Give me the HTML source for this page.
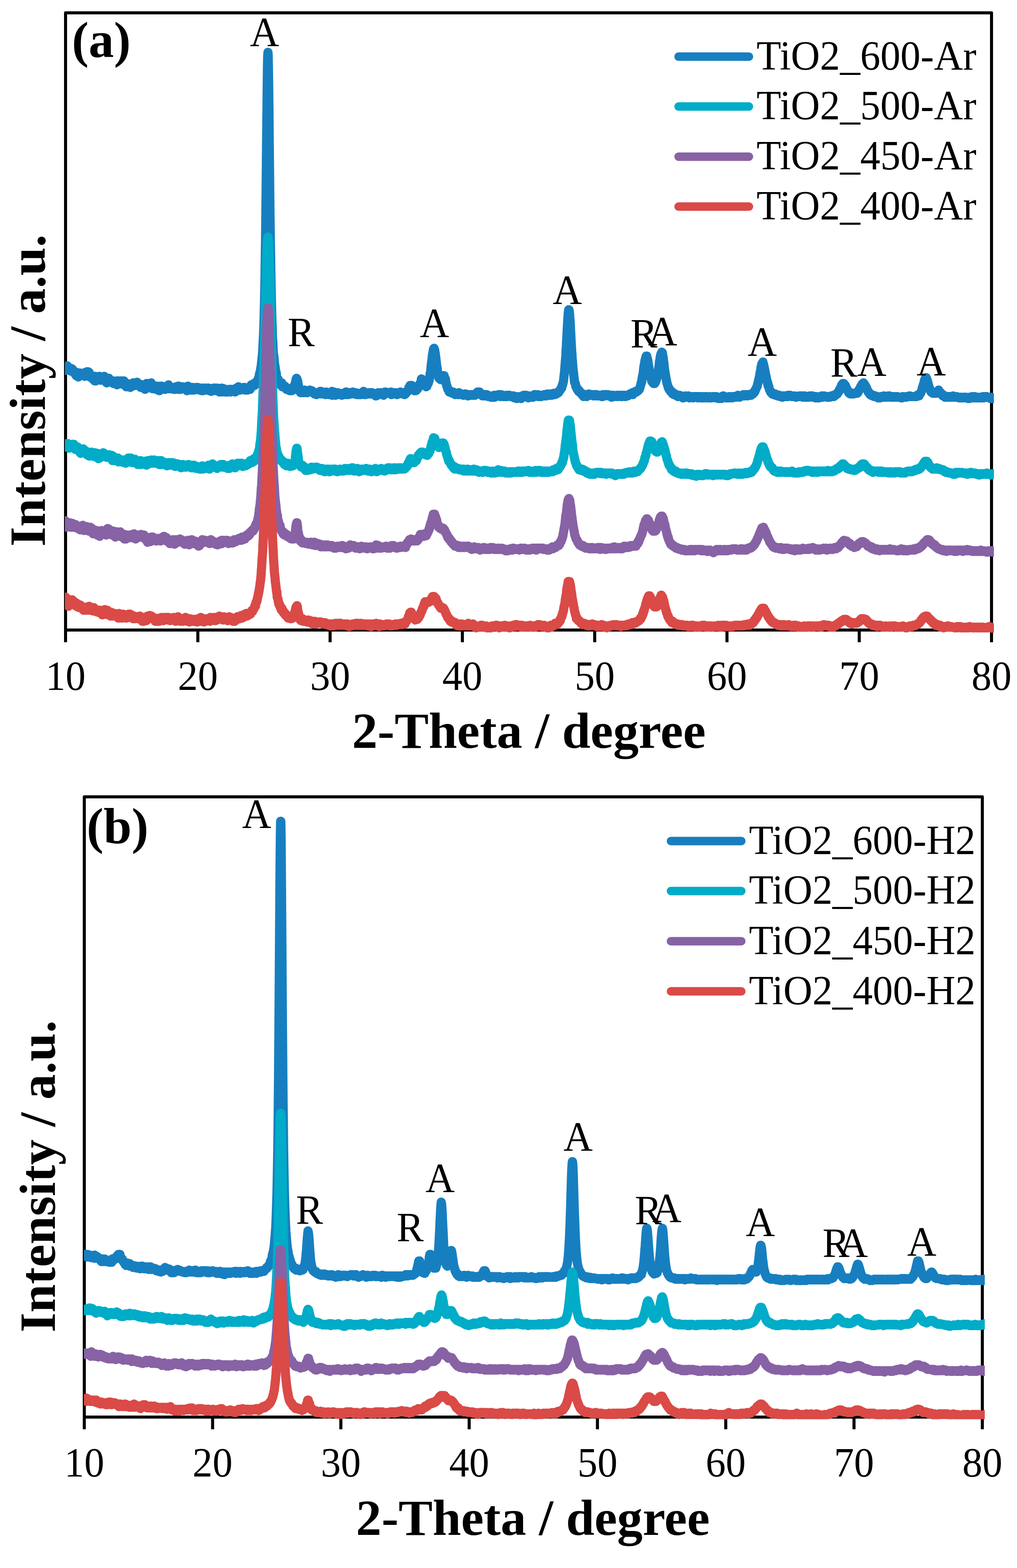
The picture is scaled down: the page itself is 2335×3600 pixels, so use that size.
<!DOCTYPE html>
<html><head><meta charset="utf-8"><title>XRD patterns</title><style>
html,body{margin:0;padding:0;background:#fff;overflow:hidden;}
svg{display:block;}
text{font-family:"Liberation Serif","Times New Roman",serif;fill:#000;}
.tl{font-size:92px;text-anchor:middle;}
.ax{font-size:117.3px;font-weight:bold;text-anchor:middle;}
.pl{font-size:116px;font-weight:bold;}
.lg{font-size:92.4px;}
.pk{font-size:93px;text-anchor:middle;}
</style></head><body>
<svg width="2335" height="3600" viewBox="0 0 2335 3600">
<rect width="100%" height="100%" fill="#fff"/>
<rect x="150.5" y="29.5" width="2126.0" height="1417.0" fill="none" stroke="#000" stroke-width="7" stroke-linejoin="round"/>
<path d="M150.5 1446.5V1474.5M454.2 1446.5V1474.5M757.9 1446.5V1474.5M1061.6 1446.5V1474.5M1365.4 1446.5V1474.5M1669.1 1446.5V1474.5M1972.8 1446.5V1474.5M2276.5 1446.5V1474.5" stroke="#000" stroke-width="7" fill="none"/>
<rect x="193.5" y="1829.6" width="2061.9" height="1423.8" fill="none" stroke="#000" stroke-width="7" stroke-linejoin="round"/>
<path d="M193.5 3253.4V3281.4M488.1 3253.4V3281.4M782.6 3253.4V3281.4M1077.2 3253.4V3281.4M1371.7 3253.4V3281.4M1666.3 3253.4V3281.4M1960.8 3253.4V3281.4M2255.4 3253.4V3281.4" stroke="#000" stroke-width="7" fill="none"/>
<defs><clipPath id="ca"><rect x="149" y="0" width="2133" height="1452.5"/></clipPath><clipPath id="cb"><rect x="192.5" y="1800" width="2068.5" height="1458.5"/></clipPath></defs>
<path d="M149.3 846l.6 4.5 .6-1.5 .6-4.5 .6 0 .6 0 .6 3 .6-3 .6 3 .7-7.5 .6 9 .6-4.5 .6 3 .6-1.5 .6 0 .6 1.5 .6 3 .6-3 .6 1.5 .6 1.5 .6-3 .6-1.5 .6 6 .7-3 .6-3 .6 3 .6 1.5 .6-3 .6 0 .6 4.5 .6 1.5 .6-3 .6 0 .6 3 .6 1.5 .6-1.5 .7 3 .6 1.5 .6-3 .6 0 .6 3 .6 1.5 .6 3 .6-6 .6 1.5 .6 0 .6-3 .6 6 .6 1.5 .6-3 .7 6 .6-1.5 .6-1.5 .6 0 .6 1.5 .6-6 .6 4.5 .6 0 .6-6 .6 4.5 .6-1.5 .6 3 .6-3 .7 0 .6 1.5 .6-3 .6 3 .6-1.5 .6 1.5 .6-3 .6 4.5 .6-1.5 .6-1.5 .6 1.5 .6 1.5 .6 1.5 .6-9 .7 6 .6-1.5 .6-1.5 .6-3 .6 6 .6-7.5 .6 6 .6 1.5 .6-7.5 .6 3 .6-3 .6 4.5 .6 4.5 .7 1.5 .6-9 .6 3 .6 4.5 .6 3 .6-3 .6-1.5 .6 3 .6 0 .6 0 .6 0 .6 3 .6 1.5 .7-1.5 .6 0 .6-3 .6 3 .6 4.5 .6-4.5 .6-3 .6 7.5 .6-1.5 .6 4.5 .6-6 .6-1.5 .6-3 .6 7.5 .7 3 .6-7.5 .6 0 .6 3 .6-3 .6 1.5 .6 0 .6 1.5 .6 1.5 .6-1.5 .6 1.5 .6-3 .6 1.5 .7-6 .6 1.5 .6 6 .6-3 .6 3 .6 0 .6 1.5 .6-1.5 .6 0 .6-3 .6-1.5 .6 0 .6 0 .6-1.5 .7 1.5 .6 0 .6 1.5 .6-1.5 .6-3 .6 4.5 .6 1.5 .6 3 .6 0 .6-3 .6 0 .6 7.5 .6-3 .7 3 .6 1.5 .6-7.5 .6 3 .6 0 .6 0 .6 0 .6-1.5 .6 0 .6-4.5 .6 4.5 .6-1.5 .6 1.5 .6-1.5 .7 3 .6 1.5 .6-1.5 .6 1.5 .6 0 .6-1.5 .6 1.5 .6 0 .6 1.5 .6 0 .6 1.5 .6-4.5 .6 6 .7-4.5 .6 0 .6 1.5 .6-1.5 .6 3 .6-1.5 .6-1.5 .6 0 .6 6 .6-3 .6-3 .6 3 .6-4.5 .6 9 .7-7.5 .6 4.5 .6 0 .6-6 .6 4.5 .6 1.5 .6-1.5 .6 0 .6 1.5 .6-3 .6 0 .6 0 .6 1.5 .7-4.5 .6 4.5 .6-3 .6-1.5 .6 4.5 .6 3 .6-1.5 .6-3 .6 3 .6-3 .6 1.5 .6 1.5 .6-6 .6 7.5 .7-3 .6 1.5 .6-1.5 .6 0 .6 3 .6 4.5 .6 1.5 .6-3 .6 3 .6-3 .6-4.5 .6 6 .6 1.5 .7-3 .6 3 .6 0 .6-3 .6-1.5 .6 3 .6 0 .6-1.5 .6 3 .6 1.5 .6-6 .6 3 .6 0 .6-1.5 .7 0 .6-3 .6 1.5 .6 3 .6-3 .6-4.5 .6 3 .6 1.5 .6-1.5 .6-3 .6 6 .6-6 .6 3 .7 0 .6-3 .6 6 .6-3 .6-3 .6 4.5 .6-3 .6-3 .6 3 .6 1.5 .6 1.5 .6-1.5 .6 0 .7 1.5 .6-1.5 .6 3 .6-1.5 .6 1.5 .6 0 .6-3 .6 1.5 .6 6 .6-1.5 .6-1.5 .6 1.5 .6-1.5 .6 1.5 .7-1.5 .6 3 .6-4.5 .6 6 .6-4.5 .6-3 .6 3 .6 0 .6 1.5 .6-4.5 .6 3 .6 7.5 .6-12 .7 4.5 .6-3 .6 1.5 .6-4.5 .6 1.5 .6 3 .6-1.5 .6 3 .6-4.5 .6 1.5 .6 6 .6-7.5 .6-1.5 .6 3 .7 0 .6 1.5 .6-1.5 .6-1.5 .6 3 .6 6 .6-3 .6-9 .6 6 .6 0 .6 3 .6-1.5 .6 6 .7-3 .6 0 .6 0 .6-1.5 .6 1.5 .6 3 .6-1.5 .6-1.5 .6 3 .6-1.5 .6 0 .6-1.5 .6 1.5 .6 0 .7-4.5 .6 7.5 .6 0 .6-1.5 .6 3 .6-1.5 .6 0 .6-6 .6 4.5 .6 1.5 .6 1.5 .6 1.5 .6-1.5 .7-6 .6-3 .6 6 .6-1.5 .6 1.5 .6-3 .6 0 .6-3 .6 3 .6-1.5 .6 1.5 .6 0 .6 0 .6 0 .7 0 .6 1.5 .6 0 .6-1.5 .6 0 .6 4.5 .6-3 .6 1.5 .6-1.5 .6-1.5 .6 0 .6 1.5 .6 0 .7 0 .6-4.5 .6 1.5 .6 1.5 .6 3 .6-9 .6 6 .6-1.5 .6 1.5 .6-1.5 .6 3 .6 1.5 .6-1.5 .6 0 .7 0 .6-1.5 .6 3 .6-1.5 .6-1.5 .6 1.5 .6 0 .6 1.5 .6-1.5 .6 0 .6 3 .6 0 .6 0 .7-1.5 .6-1.5 .6 0 .6 0 .6 3 .6-1.5 .6-4.5 .6 3 .6-3 .6 3 .6-3 .6 0 .6 3 .6-1.5 .7-3 .6 4.5 .6 3 .6-7.5 .6 7.5 .6-4.5 .6 0 .6 1.5 .6-3 .6 6 .6-1.5 .6-3 .6 1.5 .7-3 .6 3 .6 1.5 .6-4.5 .6 1.5 .6 1.5 .6 1.5 .6 0 .6-3 .6 0 .6 1.5 .6-1.5 .6 0 .7 3 .6 1.5 .6-3 .6 0 .6 1.5 .6-4.5 .6 3 .6-1.5 .6 7.5 .6-3 .6-1.5 .6 0 .6-6 .6 7.5 .7 1.5 .6-4.5 .6 3 .6 0 .6-4.5 .6 6 .6 0 .6-1.5 .6-1.5 .6 3 .6-6 .6 4.5 .6 1.5 .7-4.5 .6 4.5 .6-3 .6-3 .6 3 .6-1.5 .6 3 .6-3 .6 4.5 .6-4.5 .6 3 .6-3 .6 0 .6 3 .7-1.5 .6-1.5 .6-1.5 .6 4.5 .6-1.5 .6-1.5 .6 1.5 .6-3 .6 0 .6 1.5 .6 1.5 .6 1.5 .6-3 .7 4.5 .6 0 .6-1.5 .6 1.5 .6-1.5 .6 0 .6 1.5 .6-1.5 .6 1.5 .6-4.5 .6 6 .6-4.5 .6 1.5 .6-3 .7 4.5 .6 1.5 .6-1.5 .6 0 .6-4.5 .6 1.5 .6 0 .6-1.5 .6 4.5 .6-1.5 .6-1.5 .6 1.5 .6-3 .7 0 .6 0 .6 3 .6 0 .6 0 .6 1.5 .6-4.5 .6 1.5 .6 1.5 .6-3 .6 1.5 .6 3 .6 1.5 .6 0 .7-1.5 .6-1.5 .6 3 .6-1.5 .6 1.5 .6 1.5 .6-3 .6 0 .6 0 .6 1.5 .6 0 .6-1.5 .6 0 .7-4.5 .6 1.5 .6 1.5 .6-1.5 .6-1.5 .6 0 .6 1.5 .6 0 .6-1.5 .6 3 .6 3 .6-4.5 .6 3 .6-1.5 .7-3 .6 3 .6-1.5 .6 3 .6-3 .6 6 .6-1.5 .6-4.5 .6 6 .6 1.5 .6-4.5 .6 3 .6-4.5 .7 3 .6-3 .6 3 .6-4.5 .6-1.5 .6 6 .6 3 .6-6 .6 3 .6-1.5 .6-1.5 .6 1.5 .6 3 .6-6 .7 4.5 .6 0 .6-3 .6 6 .6 0 .6-4.5 .6 4.5 .6-3 .6 0 .6 3 .6-3 .6 0 .6 3 .7-1.5 .6 0 .6-4.5 .6 0 .6 4.5 .6-3 .6 1.5 .6-3 .6 1.5 .6-1.5 .6 6 .6-6 .6 3 .7 0 .6 1.5 .6-4.5 .6 3 .6 0 .6 1.5 .6 0 .6-1.5 .6 0 .6 0 .6 1.5 .6-1.5 .6-1.5 .6 1.5 .7 0 .6 3 .6-6 .6 1.5 .6 1.5 .6-6 .6 0 .6 0 .6 3 .6 3 .6-3 .6 1.5 .6-3 .7-4.5 .6 0 .6 6 .6-1.5 .6-3 .6 4.5 .6-4.5 .6 4.5 .6 1.5 .6-4.5 .6 0 .6 3 .6-3 .6 3 .7-3 .6 3 .6-1.5 .6-1.5 .6 0 .6 1.5 .6-3 .6 3 .6-1.5 .6 3 .6-4.5 .6 6 .6-4.5 .7 0 .6 3 .6 1.5 .6-3 .6-1.5 .6 1.5 .6-1.5 .6 0 .6 4.5 .6-3 .6 0 .6 0 .6 0 .6 0 .7 0 .6-3 .6 1.5 .6 3 .6-4.5 .6-1.5 .6 3 .6-4.5 .6-3 .6 3 .6-3 .6 0 .6 1.5 .7-1.5 .6-1.5 .6 0 .6 0 .6 3 .6-4.5 .6 0 .6 4.5 .6-4.5 .6 3 .6 0 .6-3 .6-3 .6 3 .7 0 .6 0 .6-3 .6 1.5 .6-1.5 .6-4.5 .6 3 .6-4.5 .6-3 .6-1.5 .6 1.5 .6-3 .6-7.5 .7 0 .6-3 .6-3 .6-3 .6-4.5 .6 0 .6-7.5 .6-4.5 .6-6 .6-6 .6-4.5 .6-9 .6-12 .6-10.5 .7-13.5 .6-13.5 .6-19.5 .6-21 .6-25.5 .6-30 .6-33 .6-43.5 .6-37.5 .6-54 .6-54 .6-55.5 .6-63 .7-61.5 .6-55.5 .6-48 .6-27 .6-9 .6 7.5 .6 34.5 .6 42 .6 55.5 .6 63 .6 60 .6 60 .6 52.5 .6 48 .7 43.5 .6 39 .6 34.5 .6 28.5 .6 27 .6 19.5 .6 16.5 .6 22.5 .6 7.5 .6 10.5 .6 13.5 .6 7.5 .6 3 .7 6 .6 6 .6 9 .6 1.5 .6 3 .6 6 .6 4.5 .6 0 .6 4.5 .6 1.5 .6 9 .6 1.5 .6 1.5 .7 0 .6 3 .6-3 .6 6 .6-1.5 .6 0 .6 3 .6 1.5 .6 1.5 .6 1.5 .6 0 .6-1.5 .6 3 .6-1.5 .7 3 .6-3 .6-3 .6 4.5 .6 4.5 .6-3 .6 0 .6 1.5 .6 0 .6 0 .6-1.5 .6 1.5 .6 1.5 .7-1.5 .6 0 .6 1.5 .6 1.5 .6 0 .6 0 .6 1.5 .6 3 .6-3 .6 1.5 .6 1.5 .6-3 .6 1.5 .6 1.5 .7 1.5 .6-1.5 .6 0 .6 0 .6-1.5 .6 4.5 .6-1.5 .6-3 .6 3 .6-3 .6 1.5 .6 1.5 .6-1.5 .7 3 .6-4.5 .6 1.5 .6 0 .6 1.5 .6-3 .6-1.5 .6-1.5 .6-1.5 .6 1.5 .6-4.5 .6 0 .6-3 .6-1.5 .7-3 .6 1.5 .6-7.5 .6-1.5 .6-1.5 .6 1.5 .6 0 .6 3 .6 4.5 .6-1.5 .6 6 .6 1.5 .6 6 .7 0 .6 1.5 .6 3 .6 4.5 .6 0 .6 0 .6 3 .6-4.5 .6-1.5 .6 3 .6 0 .6 3 .6 0 .6-4.5 .7 4.5 .6-1.5 .6-1.5 .6 0 .6 3 .6-4.5 .6 0 .6 0 .6-1.5 .6 3 .6 0 .6 0 .6 1.5 .7-3 .6 4.5 .6-3 .6 3 .6-4.5 .6 4.5 .6-3 .6 1.5 .6-1.5 .6-1.5 .6 1.5 .6 1.5 .6 0 .6-3 .7-1.5 .6 1.5 .6 1.5 .6-1.5 .6 0 .6 3 .6 0 .6 0 .6-3 .6 3 .6 0 .6-1.5 .6 3 .7 0 .6-1.5 .6 3 .6 0 .6 0 .6 1.5 .6-1.5 .6-1.5 .6 1.5 .6 1.5 .6-3 .6 1.5 .6 1.5 .6 1.5 .7-1.5 .6 0 .6-3 .6 1.5 .6 0 .6-1.5 .6 1.5 .6-1.5 .6-1.5 .6 3 .6-3 .6 1.5 .6-3 .7 1.5 .6-1.5 .6 0 .6 0 .6 6 .6-3 .6 0 .6 1.5 .6-1.5 .6 1.5 .6-1.5 .6 1.5 .6 0 .7 1.5 .6 0 .6-1.5 .6-1.5 .6 1.5 .6 3 .6 0 .6-1.5 .6-3 .6-1.5 .6 3 .6 0 .6 0 .6 0 .7 0 .6-1.5 .6 0 .6 1.5 .6 0 .6 0 .6 3 .6-3 .6 0 .6-1.5 .6 1.5 .6 1.5 .6 0 .7-1.5 .6 1.5 .6-1.5 .6-1.5 .6-3 .6 9 .6-3 .6 0 .6-3 .6 0 .6 4.5 .6-6 .6 3 .6 1.5 .7 0 .6 0 .6-1.5 .6 4.5 .6-6 .6 0 .6 3 .6 1.5 .6-3 .6 1.5 .6-1.5 .6-1.5 .6 4.5 .7 0 .6 0 .6-3 .6 0 .6 0 .6 1.5 .6 1.5 .6 0 .6-3 .6 3 .6 0 .6 0 .6 0 .6 0 .7 1.5 .6-1.5 .6 0 .6-1.5 .6 1.5 .6 0 .6-3 .6 3 .6-1.5 .6 1.5 .6-1.5 .6 0 .6 0 .7-1.5 .6 0 .6-3 .6 6 .6-6 .6 3 .6 0 .6 0 .6 0 .6 0 .6 1.5 .6-1.5 .6 3 .6-4.5 .7 1.5 .6-1.5 .6 0 .6 1.5 .6 1.5 .6-3 .6 0 .6 1.5 .6 0 .6 1.5 .6-1.5 .6-1.5 .6 0 .7 0 .6 0 .6-1.5 .6 1.5 .6 0 .6 0 .6 0 .6 3 .6 0 .6 0 .6-1.5 .6-1.5 .6 1.5 .6 1.5 .7-1.5 .6 0 .6 3 .6-1.5 .6-1.5 .6 1.5 .6-1.5 .6 1.5 .6-1.5 .6 1.5 .6 1.5 .6-1.5 .6-1.5 .7 1.5 .6 0 .6 1.5 .6 0 .6-1.5 .6-1.5 .6 3 .6-1.5 .6 0 .6 0 .6-1.5 .6 0 .6 0 .6 1.5 .7-1.5 .6-4.5 .6 4.5 .6 0 .6 1.5 .6 0 .6 1.5 .6 0 .6 0 .6-1.5 .6-3 .6 3 .6 0 .7-1.5 .6 1.5 .6 0 .6 0 .6 0 .6 0 .6 0 .6-1.5 .6 1.5 .6-3 .6 1.5 .6-1.5 .6 1.5 .7 1.5 .6-1.5 .6 0 .6 0 .6 1.5 .6-3 .6 3 .6-3 .6 1.5 .6 0 .6 0 .6 1.5 .6 0 .6-1.5 .7 1.5 .6 0 .6-1.5 .6 1.5 .6 0 .6 3 .6-3 .6 4.5 .6-3 .6 3 .6-1.5 .6 0 .6 0 .7 0 .6 0 .6 0 .6-3 .6-1.5 .6-1.5 .6 3 .6 1.5 .6-1.5 .6 0 .6-1.5 .6 0 .6 0 .6 1.5 .7-3 .6 3 .6-1.5 .6 1.5 .6-1.5 .6 1.5 .6-1.5 .6 0 .6 1.5 .6-1.5 .6 4.5 .6-4.5 .6 0 .7 0 .6-1.5 .6-1.5 .6 3 .6 0 .6-3 .6 3 .6-1.5 .6 1.5 .6 0 .6 0 .6 0 .6-1.5 .6 1.5 .7-1.5 .6 1.5 .6 0 .6-1.5 .6 0 .6 1.5 .6-1.5 .6 0 .6 0 .6 3 .6-1.5 .6-3 .6 4.5 .7 1.5 .6 0 .6-3 .6 0 .6 1.5 .6 0 .6-1.5 .6-1.5 .6 3 .6-1.5 .6-1.5 .6 1.5 .6 0 .6 0 .7 0 .6 1.5 .6 0 .6-1.5 .6-1.5 .6 3 .6 0 .6 1.5 .6-3 .6 0 .6 1.5 .6 0 .6-1.5 .7 1.5 .6-3 .6 1.5 .6-1.5 .6 1.5 .6 0 .6-1.5 .6-1.5 .6 1.5 .6 1.5 .6 0 .6-1.5 .6 1.5 .6 0 .7 1.5 .6-3 .6 1.5 .6 0 .6-1.5 .6 0 .6 1.5 .6-1.5 .6 4.5 .6-3 .6-1.5 .6 0 .6 3 .7-4.5 .6 1.5 .6-1.5 .6 0 .6 0 .6 0 .6-3 .6 1.5 .6 0 .6-3 .6-1.5 .6-1.5 .6-3 .6 1.5 .7 0 .6-3 .6-3 .6 1.5 .6-1.5 .6 1.5 .6 0 .6-1.5 .6 1.5 .6-1.5 .6 4.5 .6 0 .6 3 .7 1.5 .6-1.5 .6 1.5 .6 0 .6-1.5 .6 3 .6 1.5 .6-1.5 .6 1.5 .6 0 .6 0 .6-1.5 .6-1.5 .7 1.5 .6 0 .6-1.5 .6-1.5 .6 0 .6 0 .6-1.5 .6-3 .6 1.5 .6-3 .6 0 .6-1.5 .6 0 .6-4.5 .7 1.5 .6-1.5 .6-1.5 .6-1.5 .6-3 .6-4.5 .6 3 .6 1.5 .6-1.5 .6-1.5 .6 1.5 .6 1.5 .6-1.5 .7 3 .6 1.5 .6 3 .6 0 .6 3 .6 0 .6-1.5 .6 4.5 .6-3 .6 3 .6 1.5 .6-3 .6-1.5 .6 3 .7-3 .6-1.5 .6-1.5 .6 0 .6 0 .6-3 .6-1.5 .6-1.5 .6-3 .6-3 .6-4.5 .6-6 .6-1.5 .7-4.5 .6-6 .6-6 .6-6 .6-4.5 .6-3 .6-7.5 .6-4.5 .6-3 .6-3 .6-4.5 .6-3 .6 1.5 .6-3 .7 3 .6 0 .6 4.5 .6 3 .6 4.5 .6 4.5 .6 4.5 .6 6 .6 4.5 .6 6 .6 4.5 .6 1.5 .6 6 .7 3 .6 4.5 .6 1.5 .6 1.5 .6 4.5 .6 1.5 .6 0 .6 0 .6 1.5 .6 0 .6 0 .6 1.5 .6 0 .6-3 .7 1.5 .6-1.5 .6-3 .6-3 .6 1.5 .6-1.5 .6 1.5 .6-1.5 .6 0 .6 1.5 .6-1.5 .6 3 .6 1.5 .7 4.5 .6 1.5 .6-3 .6 9 .6-1.5 .6 4.5 .6 1.5 .6 3 .6 1.5 .6 1.5 .6 0 .6 4.5 .6 0 .6 0 .7 3 .6-1.5 .6 4.5 .6-1.5 .6 0 .6 1.5 .6-1.5 .6 0 .6 1.5 .6 1.5 .6 0 .6 0 .6-1.5 .7 1.5 .6 0 .6 1.5 .6-1.5 .6-1.5 .6 3 .6-1.5 .6 1.5 .6-1.5 .6 3 .6-1.5 .6 1.5 .6 1.5 .6-1.5 .7-1.5 .6 0 .6 0 .6 1.5 .6 0 .6-1.5 .6 1.5 .6 0 .6 0 .6 1.5 .6-1.5 .6 0 .6-3 .7 1.5 .6 1.5 .6-1.5 .6 1.5 .6 1.5 .6-1.5 .6 0 .6 0 .6 1.5 .6-1.5 .6 1.5 .6 0 .6 0 .7 0 .6 0 .6 0 .6 1.5 .6-1.5 .6 0 .6 0 .6-1.5 .6 0 .6 0 .6 1.5 .6-1.5 .6 0 .6 3 .7-1.5 .6 1.5 .6-1.5 .6 1.5 .6-1.5 .6 1.5 .6 1.5 .6-1.5 .6 0 .6 0 .6 0 .6-1.5 .6 0 .7 1.5 .6 0 .6 0 .6 0 .6 0 .6 0 .6-1.5 .6 0 .6 1.5 .6-1.5 .6 0 .6 0 .6 0 .6 1.5 .7-1.5 .6 1.5 .6-1.5 .6 0 .6 1.5 .6 0 .6-1.5 .6 0 .6 0 .6-1.5 .6 1.5 .6-3 .6 0 .7 0 .6-1.5 .6-1.5 .6 1.5 .6-1.5 .6 0 .6 0 .6 1.5 .6-1.5 .6 1.5 .6-1.5 .6 3 .6-1.5 .6 3 .7 1.5 .6-1.5 .6 0 .6 1.5 .6 0 .6 0 .6 0 .6 3 .6-1.5 .6 0 .6-1.5 .6 1.5 .6-1.5 .7 1.5 .6-1.5 .6 3 .6-3 .6 3 .6-1.5 .6-1.5 .6 1.5 .6 1.5 .6 0 .6-3 .6 1.5 .6 0 .6 0 .7 0 .6 3 .6-1.5 .6 0 .6 0 .6 1.5 .6 0 .6-1.5 .6 1.5 .6-1.5 .6 0 .6 1.5 .6 1.5 .7-1.5 .6 0 .6 1.5 .6 0 .6 0 .6 0 .6-1.5 .6 1.5 .6 0 .6-1.5 .6 1.5 .6-4.5 .6 1.5 .6 3 .7-1.5 .6-1.5 .6 0 .6 1.5 .6-3 .6 1.5 .6 0 .6-1.5 .6 0 .6 1.5 .6-1.5 .6 0 .6 1.5 .7-1.5 .6-1.5 .6 3 .6-1.5 .6 0 .6 0 .6 0 .6 3 .6-4.5 .6 1.5 .6-1.5 .6 1.5 .6 1.5 .6-1.5 .7 1.5 .6-1.5 .6 3 .6-1.5 .6-1.5 .6 3 .6-1.5 .6 1.5 .6 0 .6 0 .6 0 .6-1.5 .6 0 .7 1.5 .6 0 .6 0 .6-1.5 .6-1.5 .6 0 .6 3 .6-1.5 .6 0 .6-1.5 .6 0 .6 0 .6 0 .7 1.5 .6-1.5 .6 0 .6 1.5 .6 0 .6 0 .6 1.5 .6-1.5 .6 0 .6 0 .6 1.5 .6-1.5 .6 0 .6 0 .7 1.5 .6-1.5 .6 3 .6-1.5 .6-1.5 .6 1.5 .6 3 .6-3 .6 0 .6 3 .6 0 .6 0 .6-1.5 .7 0 .6 0 .6 1.5 .6 1.5 .6-3 .6 1.5 .6-1.5 .6 0 .6-1.5 .6 1.5 .6 1.5 .6-1.5 .6 1.5 .6-1.5 .7 0 .6 0 .6 0 .6 0 .6 1.5 .6 1.5 .6-4.5 .6 0 .6 0 .6-1.5 .6 1.5 .6-1.5 .6 0 .7 1.5 .6-3 .6 1.5 .6 0 .6-1.5 .6 1.5 .6 0 .6 0 .6 1.5 .6-3 .6 1.5 .6 0 .6-1.5 .6 1.5 .7 0 .6 1.5 .6-1.5 .6 1.5 .6 0 .6 3 .6-3 .6 1.5 .6-1.5 .6 1.5 .6 0 .6 0 .6-1.5 .7-1.5 .6 1.5 .6 1.5 .6 0 .6-1.5 .6 1.5 .6-3 .6 0 .6 0 .6 1.5 .6 1.5 .6-3 .6 0 .6 1.5 .7 0 .6-4.5 .6 3 .6 0 .6-3 .6 3 .6-1.5 .6 1.5 .6-1.5 .6 0 .6 0 .6 1.5 .6-1.5 .7 0 .6-1.5 .6 4.5 .6-1.5 .6 0 .6-1.5 .6 1.5 .6 1.5 .6 0 .6-1.5 .6 0 .6 0 .6 0 .6-1.5 .7 3 .6-1.5 .6 0 .6-1.5 .6 0 .6 1.5 .6 0 .6-1.5 .6 1.5 .6-1.5 .6 0 .6-1.5 .6 1.5 .7-1.5 .6 1.5 .6 0 .6 1.5 .6-1.5 .6-1.5 .6 3 .6-1.5 .6-1.5 .6 0 .6-1.5 .6 1.5 .6 0 .6 1.5 .7 0 .6-1.5 .6 1.5 .6-1.5 .6 0 .6 0 .6-1.5 .6 1.5 .6 0 .6 1.5 .6-1.5 .6-1.5 .6 1.5 .7 1.5 .6-3 .6 0 .6 1.5 .6-1.5 .6 0 .6 0 .6-1.5 .6 3 .6 0 .6-1.5 .6 0 .6 1.5 .7-1.5 .6 0 .6 0 .6 0 .6 0 .6 0 .6-3 .6 1.5 .6 0 .6 0 .6-3 .6 1.5 .6 0 .6-1.5 .7 0 .6-1.5 .6-1.5 .6 0 .6-1.5 .6 0 .6-1.5 .6-1.5 .6 0 .6-1.5 .6 0 .6-1.5 .6-4.5 .7-1.5 .6 0 .6-3 .6-3 .6-1.5 .6-6 .6-6 .6-4.5 .6-4.5 .6-7.5 .6-9 .6-7.5 .6-7.5 .6-7.5 .7-15 .6-7.5 .6-12 .6-10.5 .6-12 .6-12 .6-9 .6-10.5 .6-7.5 .6-6 .6-3 .6 0 .6 3 .7 6 .6 9 .6 6 .6 10.5 .6 13.5 .6 12 .6 12 .6 10.5 .6 10.5 .6 7.5 .6 10.5 .6 6 .6 9 .6 9 .7 4.5 .6 4.5 .6 6 .6 6 .6 4.5 .6 6 .6 1.5 .6 0 .6 1.5 .6 4.5 .6 3 .6-1.5 .6 3 .7 1.5 .6 1.5 .6 0 .6 1.5 .6 1.5 .6 0 .6 1.5 .6 1.5 .6-3 .6 1.5 .6 1.5 .6 1.5 .6 0 .6 1.5 .7-1.5 .6 1.5 .6 0 .6 1.5 .6 0 .6 1.5 .6 1.5 .6 0 .6-1.5 .6 3 .6-3 .6 3 .6 3 .7-1.5 .6 0 .6 0 .6 0 .6 0 .6 0 .6 0 .6 0 .6 0 .6 0 .6-3 .6 4.5 .6-3 .6-1.5 .7 3 .6-1.5 .6 0 .6 0 .6-1.5 .6-1.5 .6 1.5 .6 1.5 .6 0 .6-1.5 .6 0 .6 1.5 .6-1.5 .7 0 .6 0 .6 0 .6 1.5 .6-1.5 .6 0 .6 0 .6 0 .6 1.5 .6 0 .6 1.5 .6-1.5 .6-1.5 .6 1.5 .7-1.5 .6 1.5 .6 0 .6 0 .6-1.5 .6 0 .6 3 .6-1.5 .6-1.5 .6 1.5 .6 0 .6 1.5 .6 0 .7 0 .6 0 .6 0 .6 0 .6 0 .6 0 .6 0 .6-1.5 .6 1.5 .6-1.5 .6 1.5 .6-1.5 .6 1.5 .7 0 .6 1.5 .6-1.5 .6 0 .6 1.5 .6-4.5 .6 1.5 .6-1.5 .6 3 .6 0 .6 0 .6-1.5 .6-1.5 .6 3 .7-1.5 .6-1.5 .6 0 .6 0 .6 0 .6 0 .6 0 .6 0 .6 0 .6 1.5 .6-1.5 .6 0 .6 1.5 .7 0 .6 1.5 .6 0 .6 0 .6 0 .6-1.5 .6 3 .6-1.5 .6 0 .6 1.5 .6-1.5 .6 3 .6-4.5 .6 1.5 .7 0 .6 1.5 .6-1.5 .6-1.5 .6 3 .6-1.5 .6 0 .6 1.5 .6-1.5 .6 0 .6 0 .6 0 .6 0 .7 0 .6 0 .6 0 .6-1.5 .6 3 .6 0 .6 0 .6-1.5 .6 0 .6 0 .6-1.5 .6 1.5 .6 0 .6 0 .7-1.5 .6 1.5 .6 0 .6 0 .6-1.5 .6 1.5 .6 1.5 .6-1.5 .6 0 .6 0 .6-1.5 .6 3 .6-3 .7 1.5 .6 0 .6-1.5 .6 1.5 .6 0 .6 0 .6-1.5 .6 1.5 .6 0 .6 0 .6 1.5 .6-1.5 .6 0 .6 0 .7-1.5 .6 0 .6 1.5 .6-1.5 .6 1.5 .6-1.5 .6 0 .6 0 .6-1.5 .6 0 .6 0 .6 0 .6-1.5 .7 0 .6 0 .6 0 .6 0 .6-1.5 .6 1.5 .6-1.5 .6 1.5 .6 0 .6-3 .6 4.5 .6-3 .6 0 .6-1.5 .7 1.5 .6-1.5 .6 0 .6 0 .6 0 .6-1.5 .6-1.5 .6 1.5 .6-1.5 .6 0 .6 1.5 .6-1.5 .6 0 .7 0 .6-1.5 .6 0 .6 0 .6-1.5 .6 0 .6 0 .6-1.5 .6 0 .6-1.5 .6-3 .6-1.5 .6-1.5 .6-3 .7-1.5 .6-4.5 .6 0 .6-1.5 .6-7.5 .6 0 .6-6 .6-1.5 .6-3 .6-4.5 .6-6 .6-4.5 .6-4.5 .7-1.5 .6-4.5 .6-4.5 .6-1.5 .6-3 .6-1.5 .6-3 .6-1.5 .6 3 .6-3 .6 4.5 .6 0 .6 3 .7 3 .6 4.5 .6 3 .6 4.5 .6 3 .6 4.5 .6 3 .6 4.5 .6 3 .6 3 .6 3 .6 3 .6 1.5 .6 1.5 .7 4.5 .6-1.5 .6 1.5 .6 3 .6 0 .6-1.5 .6 1.5 .6 3 .6 0 .6 0 .6 0 .6-1.5 .6 1.5 .7-1.5 .6-1.5 .6 0 .6-3 .6 0 .6-3 .6-3 .6 0 .6-4.5 .6-1.5 .6-3 .6-3 .6-3 .6-4.5 .7-3 .6-4.5 .6-4.5 .6-7.5 .6-1.5 .6-4.5 .6-4.5 .6-3 .6-1.5 .6-3 .6 0 .6-1.5 .6-1.5 .7 1.5 .6 0 .6 4.5 .6 3 .6 3 .6 6 .6 4.5 .6 3 .6 7.5 .6 6 .6 3 .6 4.5 .6 3 .6 3 .7 6 .6 1.5 .6 4.5 .6 1.5 .6 4.5 .6 1.5 .6 3 .6 0 .6 3 .6 3 .6 0 .6 1.5 .6 3 .7 0 .6 1.5 .6-1.5 .6 3 .6 0 .6 0 .6 3 .6 0 .6-1.5 .6 1.5 .6 0 .6 1.5 .6-1.5 .6 4.5 .7-1.5 .6 0 .6 0 .6 3 .6 0 .6-1.5 .6 0 .6 1.5 .6-1.5 .6 1.5 .6 1.5 .6-1.5 .6 1.5 .7-1.5 .6 1.5 .6 1.5 .6-1.5 .6 0 .6 1.5 .6 1.5 .6-1.5 .6 0 .6 0 .6 0 .6 0 .6-1.5 .6 3 .7-1.5 .6 1.5 .6-1.5 .6 1.5 .6 0 .6-1.5 .6 3 .6-1.5 .6 1.5 .6 0 .6 0 .6 1.5 .6 0 .7-1.5 .6-1.5 .6 0 .6 1.5 .6-1.5 .6 1.5 .6-1.5 .6-1.5 .6 1.5 .6-1.5 .6 1.5 .6 0 .6 0 .6 1.5 .7-1.5 .6 0 .6 1.5 .6 0 .6 0 .6-3 .6 1.5 .6 1.5 .6 0 .6 1.5 .6-1.5 .6 0 .6-1.5 .7 0 .6 1.5 .6 0 .6 0 .6 0 .6 0 .6 0 .6-1.5 .6 1.5 .6 0 .6 1.5 .6-1.5 .6 0 .7-1.5 .6 1.5 .6 0 .6-1.5 .6 0 .6 1.5 .6 0 .6-1.5 .6 1.5 .6-1.5 .6 1.5 .6 0 .6-1.5 .6 0 .7 3 .6-1.5 .6 0 .6-1.5 .6 0 .6 1.5 .6 0 .6-1.5 .6 1.5 .6 0 .6-1.5 .6 3 .6-1.5 .7 1.5 .6-1.5 .6 1.5 .6-1.5 .6 1.5 .6-1.5 .6 1.5 .6-3 .6 3 .6 0 .6 0 .6 0 .6-1.5 .6 1.5 .7 0 .6-3 .6 1.5 .6 0 .6 0 .6 0 .6-1.5 .6 1.5 .6 0 .6 0 .6 1.5 .6-1.5 .6 1.5 .7-1.5 .6 0 .6 1.5 .6-1.5 .6 0 .6-1.5 .6 1.5 .6 1.5 .6-1.5 .6 1.5 .6-1.5 .6 0 .6 1.5 .6-1.5 .7 0 .6 0 .6-1.5 .6 0 .6 1.5 .6 0 .6 0 .6-1.5 .6 0 .6 1.5 .6 0 .6-1.5 .6 3 .7-1.5 .6 0 .6 1.5 .6-3 .6 3 .6-1.5 .6 0 .6 0 .6 1.5 .6 0 .6 0 .6 0 .6 1.5 .6 0 .7-1.5 .6 0 .6 0 .6-1.5 .6 1.5 .6 0 .6 0 .6-1.5 .6 3 .6-4.5 .6 1.5 .6 0 .6-1.5 .7 0 .6-1.5 .6 1.5 .6-1.5 .6 1.5 .6 1.5 .6-1.5 .6 1.5 .6 0 .6 0 .6 0 .6 0 .6 0 .6 1.5 .7-1.5 .6 0 .6 0 .6 1.5 .6-1.5 .6 1.5 .6-1.5 .6 1.5 .6 0 .6-3 .6 1.5 .6 1.5 .6-1.5 .7 1.5 .6-1.5 .6 0 .6 0 .6 0 .6 0 .6-1.5 .6 0 .6 0 .6 3 .6-1.5 .6 0 .6 0 .6-1.5 .7 0 .6 1.5 .6-1.5 .6 1.5 .6-1.5 .6 0 .6 0 .6 0 .6 0 .6 0 .6 1.5 .6-3 .6 1.5 .7 0 .6-1.5 .6 0 .6 0 .6-1.5 .6 3 .6-1.5 .6 0 .6 0 .6 0 .6 3 .6-3 .6 1.5 .7-1.5 .6 0 .6 0 .6 0 .6 0 .6 0 .6 0 .6 0 .6 0 .6 0 .6 0 .6-3 .6 3 .6-1.5 .7 0 .6 1.5 .6-1.5 .6 0 .6 0 .6 0 .6-1.5 .6 1.5 .6 0 .6-1.5 .6 0 .6 0 .6 1.5 .7 1.5 .6-1.5 .6-1.5 .6 1.5 .6-1.5 .6 1.5 .6 0 .6 0 .6 0 .6-1.5 .6 1.5 .6 0 .6 0 .6 0 .7-1.5 .6 0 .6 0 .6 0 .6-3 .6 1.5 .6 0 .6-1.5 .6 0 .6-1.5 .6-1.5 .6 1.5 .6-1.5 .7-1.5 .6 0 .6-1.5 .6-3 .6 0 .6-1.5 .6-1.5 .6-1.5 .6-1.5 .6 0 .6-3 .6-3 .6-1.5 .6-3 .7-1.5 .6-4.5 .6-1.5 .6-3 .6-3 .6-3 .6-4.5 .6-1.5 .6-4.5 .6-3 .6-4.5 .6-3 .6-1.5 .7-3 .6-1.5 .6 0 .6 0 .6-3 .6 3 .6 1.5 .6 3 .6 3 .6 1.5 .6 3 .6 3 .6 4.5 .6 1.5 .7 4.5 .6 3 .6 1.5 .6 3 .6 4.5 .6 3 .6 0 .6 3 .6 4.5 .6-1.5 .6 6 .6 1.5 .6-1.5 .7 4.5 .6 1.5 .6 3 .6 0 .6 1.5 .6 1.5 .6 1.5 .6 0 .6 1.5 .6-1.5 .6 3 .6 0 .6 1.5 .6-1.5 .7 1.5 .6 0 .6 0 .6 0 .6 0 .6 1.5 .6 0 .6-1.5 .6 0 .6 1.5 .6-1.5 .6 3 .6-1.5 .7 1.5 .6-1.5 .6 0 .6 1.5 .6 0 .6 0 .6 1.5 .6 0 .6-1.5 .6 0 .6 0 .6 1.5 .6-1.5 .6 1.5 .7 0 .6 1.5 .6-1.5 .6 1.5 .6 0 .6-1.5 .6 1.5 .6 0 .6-1.5 .6 1.5 .6 1.5 .6-3 .6 1.5 .7-1.5 .6 1.5 .6-1.5 .6 1.5 .6 0 .6-1.5 .6 1.5 .6 0 .6-1.5 .6 1.5 .6-1.5 .6 1.5 .6 0 .7-1.5 .6 1.5 .6-1.5 .6 1.5 .6-3 .6 3 .6-1.5 .6 0 .6-1.5 .6 1.5 .6-1.5 .6 0 .6 1.5 .6-1.5 .7 0 .6 1.5 .6 0 .6 0 .6 0 .6 0 .6 1.5 .6 0 .6-1.5 .6 0 .6 1.5 .6 0 .6 0 .7 0 .6 0 .6 0 .6-1.5 .6 0 .6 1.5 .6 0 .6 0 .6 0 .6 1.5 .6-1.5 .6 0 .6 0 .6 0 .7 0 .6 0 .6 0 .6 0 .6 0 .6-1.5 .6 0 .6 0 .6 0 .6 0 .6 1.5 .6-1.5 .6 1.5 .7-1.5 .6 0 .6 0 .6 0 .6 1.5 .6-1.5 .6 1.5 .6 1.5 .6-1.5 .6 0 .6-1.5 .6 1.5 .6-1.5 .6 3 .7-1.5 .6-1.5 .6 1.5 .6 0 .6 0 .6 1.5 .6 0 .6-1.5 .6 0 .6 1.5 .6-1.5 .6 1.5 .6 0 .7-1.5 .6 1.5 .6-1.5 .6 0 .6 1.5 .6-3 .6 0 .6 0 .6 0 .6 1.5 .6-1.5 .6 0 .6 0 .6 1.5 .7-1.5 .6 1.5 .6 0 .6-1.5 .6 3 .6-1.5 .6 1.5 .6-1.5 .6 1.5 .6 0 .6 0 .6 0 .6-1.5 .7 3 .6-1.5 .6-1.5 .6 0 .6 3 .6 0 .6-1.5 .6 0 .6 1.5 .6-1.5 .6 0 .6 0 .6 1.5 .6-1.5 .7 0 .6 1.5 .6-3 .6 1.5 .6 0 .6 0 .6 0 .6 0 .6 0 .6-1.5 .6-1.5 .6 1.5 .6-1.5 .7 0 .6 3 .6-1.5 .6 0 .6 0 .6 0 .6 0 .6-1.5 .6 0 .6 1.5 .6 0 .6 0 .6 0 .6 0 .7 0 .6 0 .6 0 .6 0 .6 1.5 .6-1.5 .6 0 .6 1.5 .6-1.5 .6 1.5 .6 0 .6 0 .6-1.5 .7 0 .6 1.5 .6-1.5 .6 0 .6 0 .6-1.5 .6 1.5 .6 0 .6 0 .6 0 .6-1.5 .6 0 .6 0 .7 0 .6 0 .6-1.5 .6 3 .6-3 .6 1.5 .6-1.5 .6 0 .6 0 .6 0 .6-1.5 .6 0 .6 0 .6-1.5 .7-1.5 .6 1.5 .6 0 .6-1.5 .6-1.5 .6 0 .6-1.5 .6 0 .6-1.5 .6-3 .6 0 .6-1.5 .6 1.5 .7-3 .6-1.5 .6-1.5 .6-1.5 .6 0 .6-3 .6-1.5 .6 1.5 .6-3 .6 0 .6-1.5 .6 0 .6 1.5 .6 0 .7-1.5 .6 1.5 .6 0 .6 3 .6-1.5 .6 3 .6 1.5 .6-1.5 .6 3 .6 1.5 .6 0 .6 1.5 .6 1.5 .7 1.5 .6 0 .6 1.5 .6 1.5 .6 1.5 .6 1.5 .6 0 .6 1.5 .6-1.5 .6 0 .6 0 .6 3 .6-3 .6 3 .7 0 .6-1.5 .6 0 .6 1.5 .6 0 .6-1.5 .6 1.5 .6 0 .6-1.5 .6 0 .6 1.5 .6-1.5 .6 0 .7 0 .6 0 .6 0 .6 0 .6 0 .6 0 .6-1.5 .6 1.5 .6 0 .6-1.5 .6 1.5 .6-1.5 .6 0 .6 0 .7-1.5 .6-3 .6-1.5 .6 1.5 .6-3 .6 0 .6-1.5 .6 0 .6-1.5 .6-3 .6 0 .6-1.5 .6-1.5 .7 0 .6-1.5 .6-1.5 .6 1.5 .6-1.5 .6 0 .6-1.5 .6-1.5 .6 3 .6-1.5 .6 1.5 .6 0 .6 1.5 .6 3 .7-1.5 .6 1.5 .6 1.5 .6 1.5 .6 0 .6 1.5 .6 1.5 .6 1.5 .6 1.5 .6 1.5 .6 1.5 .6 1.5 .6 0 .7 0 .6 1.5 .6 1.5 .6 1.5 .6-1.5 .6 1.5 .6 1.5 .6 0 .6 0 .6 1.5 .6 0 .6 0 .6 0 .6 0 .7 0 .6 1.5 .6 0 .6 0 .6-1.5 .6 1.5 .6 0 .6 1.5 .6-1.5 .6 0 .6 0 .6 0 .6 0 .7 1.5 .6 0 .6 0 .6 0 .6 0 .6 0 .6 0 .6 1.5 .6 1.5 .6-1.5 .6 1.5 .6-1.5 .6 0 .7 0 .6 1.5 .6-1.5 .6 0 .6 1.5 .6-1.5 .6-1.5 .6 1.5 .6 0 .6-1.5 .6 1.5 .6-1.5 .6 0 .6 1.5 .7-1.5 .6 0 .6-1.5 .6 0 .6 1.5 .6 0 .6 1.5 .6-1.5 .6 0 .6 0 .6 0 .6 0 .6 0 .7 1.5 .6 0 .6 0 .6-1.5 .6 1.5 .6 0 .6-3 .6 1.5 .6 0 .6 0 .6-1.5 .6 1.5 .6-1.5 .6 1.5 .7 1.5 .6-1.5 .6 1.5 .6-1.5 .6 0 .6 1.5 .6 0 .6 0 .6 0 .6 0 .6 0 .6-1.5 .6 0 .7 1.5 .6-1.5 .6 1.5 .6-1.5 .6 1.5 .6 0 .6 0 .6 0 .6 0 .6 0 .6 0 .6-1.5 .6 1.5 .6 0 .7-1.5 .6 1.5 .6 0 .6 0 .6 0 .6 0 .6 0 .6 0 .6 0 .6 0 .6 0 .6 0 .6 0 .7 0 .6 0 .6 1.5 .6-1.5 .6 0 .6 1.5 .6-1.5 .6-1.5 .6 1.5 .6 0 .6 0 .6 0 .6 0 .6 0 .7 0 .6 0 .6 0 .6 0 .6 0 .6 0 .6-1.5 .6 1.5 .6-1.5 .6 0 .6 0 .6 0 .6 0 .7 0 .6 0 .6 0 .6 0 .6 0 .6-1.5 .6 1.5 .6-1.5 .6 0 .6 1.5 .6 0 .6 0 .6 0 .6 0 .7 0 .6 0 .6 0 .6 0 .6 0 .6 0 .6 0 .6 0 .6 0 .6 0 .6 0 .6 0 .6 0 .7 0 .6 0 .6 0 .6 0 .6-1.5 .6 0 .6 1.5 .6-1.5 .6-1.5 .6 1.5 .6-1.5 .6 0 .6 0 .6 0 .7-1.5 .6 3 .6-3 .6 0 .6-1.5 .6-1.5 .6 0 .6 0 .6-1.5 .6-1.5 .6-1.5 .6-1.5 .6-1.5 .7-4.5 .6 0 .6-1.5 .6-3 .6-3 .6-1.5 .6-1.5 .6-1.5 .6-4.5 .6-1.5 .6-1.5 .6-1.5 .6-1.5 .7-1.5 .6 0 .6 0 .6 1.5 .6 1.5 .6 1.5 .6 1.5 .6 1.5 .6 3 .6 1.5 .6 4.5 .6 0 .6 3 .6 1.5 .7 3 .6 1.5 .6 1.5 .6 0 .6 1.5 .6 3 .6 0 .6 1.5 .6 0 .6 0 .6 0 .6 0 .6 1.5 .7 1.5 .6-1.5 .6 1.5 .6 0 .6 0 .6-1.5 .6 1.5 .6 0 .6-1.5 .6 0 .6 1.5 .6 0 .6-1.5 .6 0 .7 0 .6-1.5 .6 0 .6 0 .6 0 .6-1.5 .6 0 .6 0 .6-3 .6 3 .6 0 .6 0 .6 1.5 .7 0 .6 1.5 .6 0 .6 0 .6 1.5 .6 0 .6 3 .6-1.5 .6 1.5 .6 1.5 .6-1.5 .6 1.5 .6 1.5 .6 0 .7 0 .6-1.5 .6 3 .6 0 .6 0 .6 1.5 .6-1.5 .6 0 .6 0 .6 0 .6 0 .6 0 .6 0 .7 0 .6 0 .6 1.5 .6-1.5 .6 0 .6 1.5 .6-1.5 .6 0 .6 1.5 .6-1.5 .6 0 .6 0 .6 1.5 .6 0 .7 0 .6-1.5 .6 0 .6 0 .6 1.5 .6-1.5 .6 1.5 .6 0 .6-1.5 .6-1.5 .6 1.5 .6 1.5 .6 0 .7 0 .6-1.5 .6 1.5 .6-1.5 .6 0 .6 0 .6 1.5 .6 0 .6 0 .6 0 .6-1.5 .6 1.5 .6 0 .6 0 .7 0 .6 0 .6 0 .6 0 .6 0 .6 1.5 .6 0 .6 0 .6-1.5 .6 1.5 .6 0 .6 0 .6-1.5 .7 0 .6 0 .6 1.5 .6 0 .6 0 .6 0 .6-1.5 .6 0 .6 0 .6 1.5 .6 0 .6 0 .6 0 .6-1.5 .7 1.5 .6-1.5 .6 1.5 .6 0 .6-1.5 .6 1.5 .6 0 .6 0 .6 0 .6 0 .6 0 .6 0 .6 1.5 .7-1.5 .6-1.5 .6 1.5 .6 0 .6 1.5 .6-1.5 .6-1.5 .6 1.5 .6 0 .6 0 .6-1.5 .6 1.5 .6-1.5 .7-1.5 .6 1.5 .6 0 .6 0 .6 0 .6 0 .6 0 .6 1.5 .6-1.5 .6 0 .6 0 .6-1.5 .6 1.5 .6 0 .7 0 .6 1.5 .6-1.5 .6 1.5 .6-1.5 .6 0 .6 0 .6 1.5 .6 0 .6 0 .6-1.5 .6 0 .6 0 .7 1.5 .6 0 .6-1.5 .6 1.5 .6 0 .6 0 .6 0 .6 0 .6 0 .6-1.5 .6 1.5 .6-1.5 .6 1.5 .6-1.5 .7-1.5 .6 1.5 .6 1.5 .6-1.5 .6 1.5 .6-1.5 .6-1.5 .6 1.5 .6-1.5 .6 0 .6 0 .6 0 .6 0 .7 1.5 .6 0 .6-1.5 .6 1.5 .6 0 .6 0 .6 0 .6 0 .6 0 .6 0 .6 0 .6 1.5 .6 0 .6 0 .7-1.5 .6 1.5 .6 1.5 .6-1.5 .6 0 .6-1.5 .6 1.5 .6 0 .6 1.5 .6-1.5 .6 0 .6 0 .6 0 .7 1.5 .6-1.5 .6 0 .6 0" fill="none" stroke="#177FC0" stroke-width="21" stroke-linejoin="round" stroke-linecap="round" clip-path="url(#ca)"/>
<path d="M149.3 1021.5l.6 3 .6-1.5 .6 0 .6 3 .6-7.5 .6 1.5 .6-1.5 .6 3 .7 3 .6-1.5 .6 1.5 .6-6 .6 6 .6-3 .6 7.5 .6-1.5 .6 0 .6-3 .6 3 .6 0 .6-3 .6 0 .7 1.5 .6-1.5 .6 0 .6 0 .6-1.5 .6 4.5 .6-7.5 .6 7.5 .6-4.5 .6 0 .6-3 .6 4.5 .6 0 .7 1.5 .6-1.5 .6 1.5 .6 6 .6-4.5 .6-1.5 .6 4.5 .6-1.5 .6 3 .6 0 .6-3 .6-3 .6 4.5 .6 3 .7-1.5 .6 1.5 .6 1.5 .6-3 .6 4.5 .6 1.5 .6-1.5 .6 1.5 .6 0 .6 3 .6-6 .6 0 .6 1.5 .7-3 .6-1.5 .6 1.5 .6 3 .6 0 .6-4.5 .6-1.5 .6 4.5 .6 0 .6 1.5 .6 1.5 .6 1.5 .6-1.5 .6 1.5 .7-4.5 .6 0 .6 4.5 .6 1.5 .6 1.5 .6 0 .6 1.5 .6 0 .6-6 .6 3 .6 3 .6 1.5 .6-6 .7 7.5 .6-4.5 .6 1.5 .6 0 .6 1.5 .6-6 .6 7.5 .6-3 .6-3 .6 1.5 .6-4.5 .6 3 .6 3 .7-3 .6 1.5 .6 0 .6 0 .6 3 .6-3 .6 0 .6 1.5 .6 4.5 .6-6 .6 3 .6-6 .6 7.5 .6-1.5 .7 1.5 .6-3 .6-3 .6 6 .6-1.5 .6-3 .6-1.5 .6 6 .6-1.5 .6 7.5 .6-9 .6 1.5 .6 1.5 .7-4.5 .6 3 .6 6 .6-4.5 .6-1.5 .6-1.5 .6 4.5 .6 0 .6-1.5 .6-1.5 .6 1.5 .6-1.5 .6-3 .6 3 .7-6 .6 1.5 .6 1.5 .6 1.5 .6-3 .6 4.5 .6 1.5 .6-1.5 .6 0 .6 3 .6-1.5 .6-3 .6 3 .7 3 .6-4.5 .6 3 .6-1.5 .6-1.5 .6 0 .6 1.5 .6 1.5 .6 0 .6-4.5 .6 3 .6 1.5 .6 1.5 .6-1.5 .7 1.5 .6 1.5 .6 0 .6-4.5 .6 3 .6-1.5 .6-3 .6 1.5 .6 10.5 .6-7.5 .6-3 .6 4.5 .6 6 .7-4.5 .6 1.5 .6-1.5 .6 0 .6 4.5 .6-1.5 .6-1.5 .6 1.5 .6 1.5 .6-3 .6 1.5 .6 0 .6-3 .6 4.5 .7-3 .6 0 .6-3 .6 1.5 .6 7.5 .6-7.5 .6 4.5 .6-1.5 .6 1.5 .6 1.5 .6-3 .6 0 .6 1.5 .7 0 .6 0 .6 0 .6 1.5 .6 1.5 .6-1.5 .6-3 .6 3 .6 0 .6 0 .6 3 .6-4.5 .6 1.5 .6-3 .7 1.5 .6 0 .6 4.5 .6-3 .6-1.5 .6 6 .6-7.5 .6 4.5 .6 1.5 .6-1.5 .6-3 .6 0 .6 0 .7 3 .6-9 .6 4.5 .6 1.5 .6-1.5 .6-3 .6 3 .6-1.5 .6 3 .6 1.5 .6-3 .6-4.5 .6 4.5 .6-1.5 .7 4.5 .6 3 .6-4.5 .6 4.5 .6 0 .6-3 .6-3 .6 3 .6-4.5 .6 6 .6-1.5 .6 3 .6-1.5 .7-6 .6 6 .6 1.5 .6 1.5 .6-6 .6 1.5 .6 1.5 .6-1.5 .6-1.5 .6 1.5 .6 7.5 .6-6 .6-1.5 .7 1.5 .6 1.5 .6 3 .6-1.5 .6 0 .6-1.5 .6 0 .6-1.5 .6-3 .6 9 .6-6 .6 3 .6-3 .6 0 .7 0 .6-1.5 .6 3 .6 0 .6 1.5 .6 0 .6 1.5 .6-1.5 .6 0 .6-4.5 .6 3 .6 4.5 .6-3 .7 1.5 .6-1.5 .6-1.5 .6 6 .6-4.5 .6 3 .6-3 .6-1.5 .6-4.5 .6 4.5 .6-3 .6-1.5 .6 7.5 .6-1.5 .7 0 .6-1.5 .6 0 .6 1.5 .6-1.5 .6 0 .6 1.5 .6-7.5 .6 7.5 .6-3 .6 3 .6 0 .6-4.5 .7 3 .6 0 .6-3 .6 0 .6 1.5 .6-4.5 .6 3 .6 1.5 .6-1.5 .6-1.5 .6 1.5 .6 4.5 .6 0 .6-3 .7-1.5 .6 1.5 .6 0 .6 0 .6 0 .6 3 .6 1.5 .6-7.5 .6 7.5 .6-1.5 .6 3 .6-3 .6 1.5 .7 1.5 .6-9 .6 9 .6-3 .6-4.5 .6-1.5 .6 6 .6-3 .6 4.5 .6-1.5 .6 0 .6 3 .6-1.5 .6 1.5 .7 0 .6-1.5 .6 1.5 .6 0 .6-4.5 .6 3 .6 0 .6 0 .6-3 .6 3 .6 3 .6-1.5 .6 3 .7-4.5 .6 1.5 .6-1.5 .6 1.5 .6-1.5 .6-3 .6 4.5 .6 1.5 .6-1.5 .6-4.5 .6 1.5 .6 4.5 .6-4.5 .6 0 .7 0 .6 1.5 .6 0 .6 3 .6-3 .6 0 .6-3 .6 1.5 .6 0 .6 1.5 .6-1.5 .6 4.5 .6-4.5 .7 3 .6-3 .6 4.5 .6 3 .6-6 .6 3 .6-1.5 .6 1.5 .6 0 .6-1.5 .6 1.5 .6-1.5 .6 0 .6-1.5 .7 4.5 .6-3 .6 3 .6 0 .6-3 .6 4.5 .6-4.5 .6 3 .6 3 .6-4.5 .6-1.5 .6 1.5 .6 6 .7-4.5 .6-1.5 .6 4.5 .6-3 .6 1.5 .6-1.5 .6-3 .6 3 .6 0 .6-1.5 .6 1.5 .6 0 .6 3 .7 0 .6 0 .6-3 .6-1.5 .6 3 .6 0 .6 1.5 .6-3 .6 0 .6 0 .6-1.5 .6 0 .6 3 .6-4.5 .7 3 .6 1.5 .6-1.5 .6 1.5 .6-3 .6 1.5 .6 0 .6 1.5 .6 0 .6-1.5 .6 4.5 .6-3 .6-1.5 .7-1.5 .6 1.5 .6 0 .6 4.5 .6-3 .6-1.5 .6 0 .6-1.5 .6 3 .6 3 .6 0 .6-1.5 .6 0 .6-3 .7 4.5 .6-1.5 .6 3 .6-3 .6 0 .6 0 .6-1.5 .6 4.5 .6-1.5 .6 0 .6 0 .6-1.5 .6 1.5 .7 0 .6 3 .6-3 .6 0 .6-1.5 .6 0 .6 0 .6 4.5 .6-3 .6 1.5 .6-3 .6 0 .6-3 .6 6 .7 1.5 .6-4.5 .6 3 .6 0 .6-3 .6 1.5 .6-3 .6 1.5 .6 3 .6-1.5 .6-3 .6 4.5 .6-4.5 .7 1.5 .6 0 .6 0 .6-1.5 .6-1.5 .6 6 .6-4.5 .6 0 .6-3 .6 4.5 .6 1.5 .6 0 .6 3 .6-3 .7-3 .6 0 .6 1.5 .6-3 .6 0 .6-1.5 .6 1.5 .6 3 .6-3 .6 1.5 .6-6 .6 7.5 .6-1.5 .7 1.5 .6-1.5 .6-1.5 .6-1.5 .6 4.5 .6-1.5 .6-1.5 .6 1.5 .6 0 .6 3 .6-3 .6-1.5 .6 3 .6-1.5 .7 4.5 .6-4.5 .6-1.5 .6 3 .6 0 .6 0 .6 0 .6-3 .6 1.5 .6 0 .6-3 .6 1.5 .6 1.5 .7-4.5 .6 1.5 .6 0 .6 1.5 .6 1.5 .6-4.5 .6 3 .6 1.5 .6 1.5 .6-4.5 .6 0 .6-1.5 .6 4.5 .6 1.5 .7-4.5 .6 3 .6 0 .6 0 .6-1.5 .6 1.5 .6 0 .6-1.5 .6 1.5 .6 1.5 .6-3 .6 3 .6 3 .7-6 .6 4.5 .6 0 .6-1.5 .6 1.5 .6-1.5 .6 3 .6-4.5 .6 1.5 .6-4.5 .6 4.5 .6 0 .6-4.5 .7 1.5 .6 1.5 .6-1.5 .6-1.5 .6-3 .6 4.5 .6 3 .6-4.5 .6 1.5 .6 0 .6 0 .6 0 .6 0 .6-1.5 .7 6 .6 0 .6-4.5 .6 3 .6-4.5 .6 0 .6 3 .6-4.5 .6-1.5 .6 3 .6-4.5 .6 6 .6-1.5 .7-1.5 .6 1.5 .6-3 .6-1.5 .6 4.5 .6 0 .6-1.5 .6 0 .6-1.5 .6 3 .6-4.5 .6 1.5 .6 0 .6-1.5 .7 1.5 .6 0 .6 4.5 .6 1.5 .6-1.5 .6-4.5 .6 3 .6 0 .6 0 .6 0 .6 1.5 .6-4.5 .6 1.5 .7 1.5 .6 1.5 .6-1.5 .6-1.5 .6 0 .6-1.5 .6 1.5 .6-1.5 .6-1.5 .6 3 .6 0 .6-3 .6 1.5 .6 0 .7-1.5 .6-1.5 .6 0 .6-3 .6-1.5 .6 3 .6 0 .6 1.5 .6-4.5 .6 3 .6 0 .6 1.5 .6-6 .7 0 .6 1.5 .6 0 .6-3 .6 0 .6-1.5 .6 6 .6-4.5 .6-1.5 .6-1.5 .6 1.5 .6 0 .6-3 .6 0 .7 3 .6-3 .6-1.5 .6-3 .6 0 .6-3 .6 1.5 .6-3 .6-3 .6-1.5 .6-3 .6-1.5 .6 1.5 .7-10.5 .6-6 .6 0 .6-7.5 .6-4.5 .6-9 .6-7.5 .6-13.5 .6-12 .6-9 .6-10.5 .6-18 .6-16.5 .6-15 .7-16.5 .6-19.5 .6-21 .6-18 .6-27 .6-24 .6-25.5 .6-22.5 .6-30 .6-19.5 .6-27 .6-25.5 .6-18 .7-19.5 .6-12 .6-16.5 .6-4.5 .6-3 .6 4.5 .6 3 .6 13.5 .6 19.5 .6 16.5 .6 18 .6 27 .6 22.5 .6 25.5 .7 25.5 .6 30 .6 22.5 .6 25.5 .6 24 .6 19.5 .6 22.5 .6 21 .6 15 .6 19.5 .6 13.5 .6 15 .6 13.5 .7 10.5 .6 9 .6 9 .6 6 .6 7.5 .6 9 .6 3 .6 9 .6 4.5 .6 0 .6 6 .6 1.5 .6 4.5 .7 0 .6 4.5 .6 1.5 .6-1.5 .6 6 .6 0 .6-3 .6 4.5 .6-1.5 .6 4.5 .6-1.5 .6 0 .6 0 .6 3 .7-1.5 .6 0 .6 1.5 .6 0 .6 3 .6 0 .6 0 .6 0 .6 0 .6 3 .6-3 .6 3 .6 3 .7-1.5 .6 0 .6 1.5 .6-1.5 .6 0 .6 3 .6-3 .6 4.5 .6-1.5 .6-1.5 .6 0 .6 0 .6-3 .6 4.5 .7 1.5 .6 0 .6-1.5 .6 1.5 .6 0 .6 0 .6 0 .6 1.5 .6-1.5 .6 0 .6 0 .6 0 .6-3 .7 3 .6-1.5 .6-3 .6 0 .6 4.5 .6-3 .6 1.5 .6-3 .6 1.5 .6-3 .6-3 .6-1.5 .6-1.5 .6-1.5 .7-7.5 .6-6 .6-6 .6-3 .6-3 .6-1.5 .6 0 .6 6 .6 4.5 .6 4.5 .6 3 .6 6 .6 7.5 .7 0 .6 6 .6 0 .6 0 .6 1.5 .6 1.5 .6-1.5 .6 1.5 .6 0 .6 3 .6-3 .6 1.5 .6-3 .6 0 .7 3 .6-1.5 .6 1.5 .6 1.5 .6 1.5 .6-3 .6 3 .6 1.5 .6-1.5 .6 0 .6 1.5 .6 4.5 .6-1.5 .7 1.5 .6-1.5 .6 1.5 .6-4.5 .6 1.5 .6 1.5 .6 1.5 .6-1.5 .6 0 .6-3 .6 0 .6 1.5 .6 0 .6 0 .7 0 .6-3 .6 4.5 .6-3 .6 1.5 .6-1.5 .6-3 .6 0 .6 0 .6 3 .6 1.5 .6-1.5 .6 1.5 .7-3 .6 0 .6 0 .6 1.5 .6-1.5 .6 1.5 .6 0 .6-1.5 .6 0 .6 0 .6-1.5 .6 0 .6 3 .6 0 .7-3 .6 1.5 .6 1.5 .6 1.5 .6 0 .6 0 .6-1.5 .6 0 .6 0 .6 3 .6 0 .6 1.5 .6-1.5 .7-1.5 .6-1.5 .6 0 .6 1.5 .6 3 .6-3 .6-1.5 .6 3 .6 1.5 .6 0 .6 1.5 .6-1.5 .6-1.5 .7 0 .6-1.5 .6 1.5 .6 3 .6 1.5 .6-1.5 .6-1.5 .6 0 .6 0 .6-3 .6 4.5 .6 0 .6-1.5 .6 1.5 .7-3 .6 3 .6 0 .6-4.5 .6 3 .6 1.5 .6 1.5 .6-3 .6 1.5 .6 1.5 .6-1.5 .6-1.5 .6 0 .7 0 .6-1.5 .6 1.5 .6-3 .6 3 .6 0 .6 0 .6-1.5 .6 0 .6 0 .6 0 .6 1.5 .6-3 .6 3 .7 1.5 .6-4.5 .6 1.5 .6-1.5 .6 3 .6 0 .6 0 .6-1.5 .6 1.5 .6 3 .6 0 .6-1.5 .6-1.5 .7 0 .6-1.5 .6 0 .6 0 .6 1.5 .6 0 .6 0 .6-1.5 .6-1.5 .6 3 .6-1.5 .6 3 .6-3 .6 1.5 .7 0 .6-1.5 .6 0 .6 3 .6 0 .6-3 .6 1.5 .6-3 .6 4.5 .6 0 .6-3 .6 1.5 .6-4.5 .7 4.5 .6 0 .6-1.5 .6 1.5 .6-1.5 .6-1.5 .6 0 .6 1.5 .6 1.5 .6-1.5 .6-1.5 .6 1.5 .6-3 .6 4.5 .7-1.5 .6-1.5 .6 1.5 .6 0 .6 0 .6 1.5 .6-4.5 .6 3 .6-1.5 .6 0 .6 1.5 .6-4.5 .6 0 .7 1.5 .6-1.5 .6 0 .6 3 .6 1.5 .6-3 .6 1.5 .6 4.5 .6-4.5 .6 0 .6 0 .6 0 .6 0 .6 1.5 .7-1.5 .6 1.5 .6-1.5 .6 0 .6-1.5 .6 0 .6 1.5 .6 0 .6 1.5 .6 0 .6 0 .6 4.5 .6-3 .7 1.5 .6-3 .6 3 .6 0 .6-1.5 .6-1.5 .6 3 .6-3 .6-1.5 .6 0 .6 1.5 .6-1.5 .6 3 .6-1.5 .7 1.5 .6-1.5 .6 0 .6 0 .6-1.5 .6 0 .6 0 .6 1.5 .6-1.5 .6 1.5 .6 1.5 .6-4.5 .6 1.5 .7 0 .6 1.5 .6-1.5 .6 0 .6 4.5 .6-4.5 .6 1.5 .6 0 .6 0 .6-1.5 .6 3 .6-3 .6 1.5 .7 1.5 .6-1.5 .6 3 .6-1.5 .6 3 .6-3 .6 3 .6-1.5 .6-1.5 .6 0 .6 1.5 .6-3 .6 1.5 .6-1.5 .7-1.5 .6 3 .6 0 .6-3 .6 3 .6-1.5 .6-3 .6 1.5 .6 3 .6 0 .6 0 .6 3 .6-3 .7-1.5 .6-1.5 .6 4.5 .6-3 .6 0 .6 0 .6 0 .6 0 .6 1.5 .6 0 .6 0 .6 0 .6-1.5 .6-1.5 .7 1.5 .6-3 .6 3 .6 0 .6 0 .6-1.5 .6 0 .6 1.5 .6-1.5 .6 0 .6 1.5 .6 0 .6-1.5 .7 3 .6 1.5 .6-3 .6 0 .6 0 .6 1.5 .6-1.5 .6 0 .6 0 .6-1.5 .6 1.5 .6-1.5 .6 0 .6-3 .7 4.5 .6-1.5 .6-1.5 .6 0 .6 0 .6-1.5 .6 3 .6-3 .6 3 .6 0 .6 1.5 .6-1.5 .6 0 .7 0 .6-1.5 .6 0 .6 1.5 .6 1.5 .6-1.5 .6-1.5 .6 3 .6-3 .6-1.5 .6 4.5 .6-3 .6 0 .6-1.5 .7 1.5 .6 3 .6-3 .6 3 .6-3 .6 1.5 .6-1.5 .6 0 .6 0 .6 0 .6-1.5 .6 0 .6 1.5 .7 1.5 .6-1.5 .6 0 .6-1.5 .6 3 .6 0 .6-3 .6 1.5 .6 0 .6-1.5 .6 3 .6 0 .6-1.5 .6 1.5 .7-1.5 .6 0 .6 1.5 .6-1.5 .6 0 .6-1.5 .6 1.5 .6 1.5 .6-3 .6 0 .6 0 .6 1.5 .6-3 .7 0 .6 0 .6 0 .6-3 .6 0 .6 1.5 .6-3 .6-1.5 .6 0 .6-3 .6 3 .6-3 .6-3 .6 0 .7-1.5 .6-1.5 .6-3 .6 0 .6-1.5 .6 3 .6-3 .6 1.5 .6 0 .6 3 .6-1.5 .6 3 .6-1.5 .7 1.5 .6 0 .6 0 .6 1.5 .6 1.5 .6 0 .6-4.5 .6 1.5 .6-1.5 .6 0 .6-1.5 .6 0 .6 1.5 .7 0 .6-1.5 .6-3 .6-1.5 .6 0 .6-1.5 .6-1.5 .6-3 .6 1.5 .6 0 .6-1.5 .6-1.5 .6-1.5 .6-1.5 .7 1.5 .6-1.5 .6 0 .6 0 .6-3 .6 1.5 .6 0 .6 1.5 .6-3 .6 1.5 .6-1.5 .6 1.5 .6 0 .7 0 .6 1.5 .6 0 .6 0 .6 0 .6 0 .6 1.5 .6 1.5 .6-1.5 .6-1.5 .6 3 .6 0 .6-1.5 .6 1.5 .7 1.5 .6-4.5 .6 0 .6 1.5 .6-4.5 .6 3 .6 0 .6-1.5 .6-1.5 .6-3 .6-1.5 .6 1.5 .6-4.5 .7 0 .6-6 .6 0 .6-1.5 .6-3 .6-4.5 .6 0 .6 0 .6-3 .6-3 .6 0 .6-4.5 .6 3 .6 0 .7-1.5 .6 0 .6 0 .6 3 .6 4.5 .6 0 .6 1.5 .6 1.5 .6 0 .6 3 .6-3 .6 4.5 .6 1.5 .7 1.5 .6 0 .6 1.5 .6-1.5 .6 3 .6-1.5 .6 0 .6 0 .6 0 .6-1.5 .6-1.5 .6 0 .6-3 .6 0 .7 0 .6-1.5 .6-1.5 .6 1.5 .6 0 .6 0 .6-1.5 .6 0 .6 3 .6 1.5 .6-1.5 .6 6 .6 1.5 .7-1.5 .6 6 .6 0 .6 3 .6 1.5 .6 1.5 .6 3 .6 3 .6 1.5 .6 3 .6 0 .6 3 .6 1.5 .6 1.5 .7 4.5 .6-3 .6 1.5 .6 3 .6 0 .6 0 .6 3 .6 0 .6 1.5 .6 1.5 .6 1.5 .6-1.5 .6 1.5 .7 1.5 .6 1.5 .6-1.5 .6 3 .6 0 .6 1.5 .6 0 .6 0 .6-3 .6 3 .6 3 .6-1.5 .6-1.5 .6 1.5 .7 0 .6 0 .6-1.5 .6 1.5 .6 1.5 .6-1.5 .6 1.5 .6-1.5 .6 1.5 .6 0 .6-1.5 .6 1.5 .6 0 .7 1.5 .6 0 .6 0 .6 0 .6 0 .6-1.5 .6 1.5 .6 0 .6 0 .6-1.5 .6 3 .6 0 .6-1.5 .7-1.5 .6 1.5 .6 1.5 .6-3 .6 4.5 .6-1.5 .6 0 .6 0 .6-1.5 .6 1.5 .6 0 .6 0 .6-1.5 .6 1.5 .7 1.5 .6-1.5 .6-1.5 .6 0 .6-1.5 .6 1.5 .6 1.5 .6 1.5 .6 0 .6 0 .6-3 .6 0 .6 0 .7 0 .6 0 .6 0 .6 1.5 .6 0 .6-1.5 .6 1.5 .6 1.5 .6 0 .6-3 .6 3 .6-1.5 .6-1.5 .6 1.5 .7 1.5 .6-4.5 .6 4.5 .6-1.5 .6 1.5 .6-3 .6 1.5 .6-1.5 .6 3 .6-1.5 .6 1.5 .6-1.5 .6-1.5 .7 3 .6 0 .6 1.5 .6-3 .6 1.5 .6 0 .6 0 .6 0 .6 3 .6-3 .6 1.5 .6-1.5 .6 1.5 .6-1.5 .7 0 .6 1.5 .6 0 .6-1.5 .6 0 .6 0 .6 1.5 .6 0 .6 1.5 .6-3 .6 1.5 .6-1.5 .6-1.5 .7 3 .6-3 .6 1.5 .6-1.5 .6 1.5 .6 0 .6 0 .6-1.5 .6 1.5 .6 1.5 .6 0 .6-1.5 .6 0 .6 0 .7 3 .6-1.5 .6 0 .6-1.5 .6 0 .6 3 .6-3 .6 1.5 .6 0 .6 1.5 .6 0 .6 0 .6 1.5 .7-1.5 .6 0 .6 0 .6 0 .6 1.5 .6-1.5 .6-3 .6 3 .6 0 .6 1.5 .6-1.5 .6-1.5 .6 1.5 .6 1.5 .7-1.5 .6 1.5 .6-1.5 .6 0 .6-1.5 .6 0 .6-1.5 .6 1.5 .6-1.5 .6 1.5 .6-1.5 .6 0 .6-3 .7 1.5 .6 4.5 .6-3 .6-1.5 .6 1.5 .6 0 .6 0 .6 0 .6 0 .6 1.5 .6-3 .6 3 .6 0 .6-1.5 .7 3 .6-1.5 .6 0 .6-1.5 .6 1.5 .6-1.5 .6 1.5 .6 1.5 .6-1.5 .6 1.5 .6-3 .6 3 .6-1.5 .7 0 .6 1.5 .6 1.5 .6-3 .6 0 .6 1.5 .6 1.5 .6 0 .6-1.5 .6 1.5 .6 0 .6 0 .6-1.5 .7-1.5 .6 3 .6-3 .6 3 .6 0 .6-3 .6 1.5 .6 0 .6 1.5 .6-1.5 .6 0 .6-1.5 .6 0 .6 1.5 .7 0 .6-1.5 .6 1.5 .6 0 .6 0 .6-1.5 .6 1.5 .6 0 .6 0 .6-1.5 .6 1.5 .6 0 .6-1.5 .7 0 .6 0 .6 1.5 .6-1.5 .6 0 .6 1.5 .6-1.5 .6-1.5 .6 0 .6 0 .6 0 .6 3 .6-1.5 .6-1.5 .7 3 .6-1.5 .6 0 .6 0 .6 1.5 .6 0 .6 0 .6 0 .6-3 .6 1.5 .6 1.5 .6-1.5 .6-1.5 .7 1.5 .6 0 .6-1.5 .6 0 .6 1.5 .6-1.5 .6 0 .6 0 .6 1.5 .6 0 .6 0 .6 0 .6 0 .6 0 .7 0 .6 0 .6 0 .6 0 .6-1.5 .6-1.5 .6 3 .6-1.5 .6 0 .6 1.5 .6 1.5 .6-3 .6 0 .7 0 .6 0 .6 1.5 .6-1.5 .6 1.5 .6 0 .6 1.5 .6-1.5 .6 1.5 .6 0 .6-1.5 .6 0 .6-1.5 .6 0 .7 3 .6-1.5 .6-1.5 .6 0 .6 0 .6 1.5 .6-3 .6 3 .6-1.5 .6 3 .6-3 .6 1.5 .6-1.5 .7 0 .6 1.5 .6-1.5 .6 0 .6 0 .6-1.5 .6 1.5 .6 0 .6 0 .6 0 .6-1.5 .6 3 .6-1.5 .6 3 .7-1.5 .6 0 .6-1.5 .6 1.5 .6-1.5 .6 1.5 .6 1.5 .6-1.5 .6 0 .6 1.5 .6-3 .6 1.5 .6-1.5 .7 3 .6-3 .6 3 .6 0 .6-3 .6 1.5 .6-1.5 .6 3 .6-1.5 .6 1.5 .6 0 .6-1.5 .6-1.5 .6 3 .7-1.5 .6 0 .6 1.5 .6-1.5 .6 0 .6-1.5 .6 1.5 .6-1.5 .6 0 .6 1.5 .6-1.5 .6 0 .6 1.5 .7 0 .6 0 .6 0 .6 0 .6-1.5 .6-3 .6 1.5 .6 1.5 .6-3 .6 1.5 .6-1.5 .6 0 .6 0 .7 1.5 .6-1.5 .6 1.5 .6-3 .6-1.5 .6 1.5 .6 1.5 .6-1.5 .6 1.5 .6-3 .6 3 .6-4.5 .6 3 .6-4.5 .7 1.5 .6-1.5 .6 0 .6-1.5 .6 0 .6 0 .6-1.5 .6-1.5 .6 0 .6-3 .6-1.5 .6-1.5 .6 1.5 .7-1.5 .6-3 .6-3 .6-3 .6 0 .6-3 .6-4.5 .6-4.5 .6-3 .6-4.5 .6-4.5 .6-7.5 .6-3 .6-4.5 .7-6 .6-4.5 .6-4.5 .6-9 .6-4.5 .6-4.5 .6-7.5 .6-3 .6-4.5 .6-1.5 .6 0 .6 0 .6 0 .7 1.5 .6 4.5 .6 3 .6 4.5 .6 7.5 .6 4.5 .6 6 .6 6 .6 6 .6 4.5 .6 6 .6 1.5 .6 7.5 .6 7.5 .7 4.5 .6 1.5 .6 3 .6 3 .6 3 .6 3 .6 1.5 .6 4.5 .6 1.5 .6 1.5 .6 1.5 .6 1.5 .6 3 .7 1.5 .6 1.5 .6-1.5 .6 3 .6 0 .6 1.5 .6 1.5 .6-1.5 .6 3 .6 1.5 .6-1.5 .6 1.5 .6-1.5 .6 0 .7 0 .6 0 .6 3 .6-3 .6 0 .6 0 .6 1.5 .6-1.5 .6 3 .6 0 .6 0 .6 1.5 .6-3 .7 1.5 .6 0 .6 1.5 .6-1.5 .6 1.5 .6 1.5 .6-1.5 .6 1.5 .6 0 .6 0 .6 1.5 .6 1.5 .6-1.5 .6-1.5 .7 1.5 .6 0 .6 1.5 .6 0 .6 1.5 .6-1.5 .6 1.5 .6-1.5 .6 0 .6 3 .6-1.5 .6 0 .6-1.5 .7 1.5 .6 0 .6 0 .6 1.5 .6-1.5 .6 0 .6 0 .6-1.5 .6 3 .6 0 .6-1.5 .6-1.5 .6 1.5 .6 1.5 .7-3 .6 0 .6 1.5 .6 0 .6 0 .6 0 .6-3 .6 1.5 .6 0 .6-1.5 .6 1.5 .6 0 .6-1.5 .7 1.5 .6 0 .6 0 .6-1.5 .6 1.5 .6-1.5 .6 1.5 .6-1.5 .6 1.5 .6 0 .6 1.5 .6-3 .6 0 .7 1.5 .6 0 .6 1.5 .6-1.5 .6 0 .6 0 .6 0 .6 1.5 .6-1.5 .6 1.5 .6 0 .6 0 .6 0 .6-1.5 .7 1.5 .6 0 .6-1.5 .6 3 .6-1.5 .6-1.5 .6 1.5 .6 0 .6 0 .6 0 .6 0 .6 0 .6-1.5 .7 1.5 .6 0 .6 0 .6-1.5 .6 1.5 .6-1.5 .6 0 .6 1.5 .6 0 .6 0 .6-1.5 .6 0 .6 0 .6 3 .7-1.5 .6 0 .6 0 .6 1.5 .6-1.5 .6 1.5 .6 0 .6 0 .6 0 .6 1.5 .6 0 .6 1.5 .6-3 .7 0 .6 0 .6 0 .6 0 .6 0 .6-1.5 .6 0 .6 1.5 .6-1.5 .6 0 .6 1.5 .6-1.5 .6 0 .6 0 .7 0 .6 1.5 .6-1.5 .6 1.5 .6-1.5 .6 0 .6 1.5 .6 0 .6 0 .6-1.5 .6 1.5 .6-1.5 .6 0 .7 1.5 .6-1.5 .6 0 .6 1.5 .6-1.5 .6-1.5 .6 1.5 .6 0 .6 0 .6-1.5 .6 0 .6 0 .6 0 .6-1.5 .7 0 .6 1.5 .6 0 .6 0 .6 0 .6-1.5 .6 0 .6 0 .6 1.5 .6-1.5 .6 1.5 .6-3 .6 3 .7 0 .6 0 .6-1.5 .6 1.5 .6-1.5 .6 1.5 .6 0 .6-1.5 .6-1.5 .6 3 .6-1.5 .6-1.5 .6 1.5 .6-1.5 .7 1.5 .6-1.5 .6-1.5 .6 3 .6-1.5 .6 0 .6 1.5 .6-1.5 .6 0 .6 0 .6 0 .6 0 .6-1.5 .7 0 .6 1.5 .6-1.5 .6-1.5 .6 0 .6 0 .6-1.5 .6 0 .6 0 .6-1.5 .6 0 .6-1.5 .6 0 .6 0 .7-1.5 .6-1.5 .6-1.5 .6 0 .6-1.5 .6 0 .6-1.5 .6-1.5 .6-3 .6 0 .6-1.5 .6-1.5 .6-3 .7 0 .6-4.5 .6-3 .6 0 .6-1.5 .6-1.5 .6-4.5 .6-3 .6 0 .6-3 .6-3 .6 0 .6-4.5 .7-3 .6-1.5 .6-3 .6-1.5 .6-1.5 .6-1.5 .6-1.5 .6-1.5 .6-1.5 .6 0 .6 1.5 .6-1.5 .6 1.5 .6 0 .7 0 .6 0 .6 1.5 .6 1.5 .6 3 .6 1.5 .6 3 .6 0 .6 3 .6 0 .6 1.5 .6 1.5 .6 1.5 .7 1.5 .6 1.5 .6 0 .6 1.5 .6 0 .6 0 .6 0 .6 1.5 .6-1.5 .6 1.5 .6-1.5 .6 0 .6-1.5 .6-1.5 .7-1.5 .6 0 .6-3 .6-3 .6-1.5 .6 0 .6-3 .6-1.5 .6-1.5 .6-1.5 .6-1.5 .6 1.5 .6-1.5 .7-1.5 .6 1.5 .6 3 .6 0 .6 1.5 .6 3 .6 1.5 .6 1.5 .6 1.5 .6 3 .6 1.5 .6 1.5 .6 4.5 .6 1.5 .7 4.5 .6 1.5 .6 0 .6 4.5 .6 3 .6 1.5 .6 1.5 .6 1.5 .6 1.5 .6 3 .6 1.5 .6 1.5 .6 3 .7-1.5 .6 3 .6 0 .6 1.5 .6 1.5 .6 0 .6 1.5 .6 1.5 .6-1.5 .6 4.5 .6-1.5 .6 1.5 .6-1.5 .6 3 .7-1.5 .6 3 .6-1.5 .6 1.5 .6-1.5 .6 3 .6-1.5 .6 0 .6 0 .6 0 .6 3 .6-3 .6 1.5 .7 0 .6 1.5 .6 0 .6 1.5 .6-1.5 .6 0 .6 1.5 .6 0 .6 0 .6 0 .6 1.5 .6 0 .6 0 .6 0 .7 0 .6 0 .6-1.5 .6 1.5 .6 1.5 .6-1.5 .6 0 .6 1.5 .6 0 .6 0 .6-1.5 .6 0 .6 1.5 .7-1.5 .6 0 .6 0 .6-1.5 .6 0 .6 1.5 .6 0 .6-1.5 .6 1.5 .6 0 .6 1.5 .6-1.5 .6 0 .6-1.5 .7 3 .6 0 .6 0 .6-1.5 .6 0 .6 0 .6 1.5 .6-1.5 .6 0 .6 1.5 .6-1.5 .6 0 .6 1.5 .7 0 .6 1.5 .6-1.5 .6-1.5 .6 3 .6 0 .6 0 .6 0 .6 0 .6-1.5 .6 3 .6-1.5 .6 1.5 .7-1.5 .6 1.5 .6 0 .6-1.5 .6 1.5 .6 0 .6 0 .6-1.5 .6 3 .6-3 .6 1.5 .6-3 .6 3 .6 0 .7-1.5 .6 1.5 .6-1.5 .6 0 .6 0 .6 0 .6-1.5 .6 1.5 .6 0 .6 0 .6 0 .6 0 .6 0 .7 0 .6 1.5 .6-1.5 .6 0 .6 1.5 .6 0 .6-1.5 .6 1.5 .6-3 .6 1.5 .6 0 .6 0 .6-1.5 .6 0 .7-1.5 .6 1.5 .6 0 .6 1.5 .6-1.5 .6-1.5 .6 1.5 .6-1.5 .6 1.5 .6 0 .6 0 .6 1.5 .6 0 .7-1.5 .6 0 .6 1.5 .6 0 .6-1.5 .6 0 .6 0 .6 0 .6 0 .6 0 .6 1.5 .6 0 .6-1.5 .6 0 .7 0 .6 1.5 .6-1.5 .6 1.5 .6 1.5 .6-3 .6 1.5 .6 0 .6 0 .6-1.5 .6 1.5 .6-1.5 .6 1.5 .7-1.5 .6 1.5 .6-1.5 .6 0 .6 0 .6 1.5 .6 0 .6 0 .6 0 .6-1.5 .6 0 .6 1.5 .6-1.5 .6 0 .7 0 .6 0 .6 0 .6 0 .6 0 .6 0 .6 1.5 .6 0 .6 0 .6 0 .6 0 .6 0 .6-1.5 .7 1.5 .6 0 .6-1.5 .6 1.5 .6-1.5 .6 0 .6 0 .6 0 .6 0 .6 1.5 .6-1.5 .6 1.5 .6 0 .6 0 .7 1.5 .6 0 .6-1.5 .6 0 .6 1.5 .6 0 .6-1.5 .6 0 .6-1.5 .6 0 .6 1.5 .6 0 .6-1.5 .7 0 .6 0 .6-1.5 .6 1.5 .6-1.5 .6 1.5 .6-1.5 .6 0 .6 0 .6 0 .6 0 .6 0 .6 0 .6 0 .7 0 .6 0 .6-1.5 .6 0 .6 1.5 .6 0 .6 0 .6-1.5 .6 1.5 .6 0 .6 0 .6 0 .6 0 .7 1.5 .6-1.5 .6 1.5 .6-1.5 .6 1.5 .6-1.5 .6 0 .6 0 .6-1.5 .6 1.5 .6 0 .6 0 .6 1.5 .7-1.5 .6 1.5 .6 0 .6 0 .6-1.5 .6 0 .6 1.5 .6-3 .6 3 .6-1.5 .6 0 .6-1.5 .6 0 .6 0 .7 1.5 .6 0 .6-1.5 .6 1.5 .6 0 .6-1.5 .6 0 .6-1.5 .6 1.5 .6 0 .6 1.5 .6 0 .6-1.5 .7 0 .6 0 .6-1.5 .6 1.5 .6 0 .6-1.5 .6 1.5 .6 0 .6-1.5 .6-1.5 .6 1.5 .6 0 .6-1.5 .6 0 .7 0 .6 1.5 .6-1.5 .6-1.5 .6-1.5 .6 0 .6 0 .6 0 .6-1.5 .6 0 .6-1.5 .6-1.5 .6 0 .7 0 .6-1.5 .6-1.5 .6-1.5 .6 0 .6-1.5 .6-1.5 .6-1.5 .6-1.5 .6-1.5 .6-1.5 .6-4.5 .6 0 .6-3 .7-1.5 .6-3 .6-1.5 .6-3 .6 0 .6-4.5 .6 0 .6-4.5 .6-1.5 .6-1.5 .6-3 .6-1.5 .6 0 .7-1.5 .6-1.5 .6 1.5 .6-1.5 .6 1.5 .6-1.5 .6 3 .6 0 .6 3 .6 0 .6 4.5 .6-1.5 .6 1.5 .6 3 .7 3 .6 1.5 .6 1.5 .6 3 .6 3 .6 0 .6 3 .6 1.5 .6 3 .6-1.5 .6 4.5 .6 0 .6 1.5 .7 3 .6-1.5 .6 3 .6 1.5 .6 1.5 .6 0 .6 1.5 .6 0 .6-1.5 .6 1.5 .6 1.5 .6 0 .6 0 .6 0 .7 3 .6 0 .6 1.5 .6 1.5 .6-1.5 .6 1.5 .6 1.5 .6 0 .6-1.5 .6 1.5 .6 0 .6 0 .6 0 .7 1.5 .6 0 .6 0 .6 0 .6 1.5 .6-1.5 .6-1.5 .6 3 .6-1.5 .6-1.5 .6 0 .6 1.5 .6 0 .6 0 .7-1.5 .6 1.5 .6 1.5 .6-3 .6 0 .6 1.5 .6 0 .6 0 .6 0 .6 0 .6 0 .6 0 .6 0 .7 0 .6 1.5 .6-1.5 .6 0 .6 0 .6 0 .6 0 .6 1.5 .6-1.5 .6 1.5 .6-1.5 .6 0 .6 0 .7 0 .6 0 .6 0 .6 0 .6 0 .6 1.5 .6-1.5 .6 0 .6 0 .6 0 .6 1.5 .6 0 .6-1.5 .6 0 .7 1.5 .6-1.5 .6 0 .6 0 .6 1.5 .6 0 .6-3 .6 1.5 .6 0 .6 0 .6 1.5 .6 0 .6 0 .7 1.5 .6-1.5 .6 1.5 .6 0 .6 0 .6 0 .6-1.5 .6 1.5 .6-1.5 .6 1.5 .6-1.5 .6 0 .6 0 .6 0 .7 1.5 .6-1.5 .6 0 .6 0 .6 1.5 .6-1.5 .6-1.5 .6 0 .6 1.5 .6 0 .6-1.5 .6 0 .6 0 .7 1.5 .6 0 .6-1.5 .6 0 .6 1.5 .6 0 .6 0 .6-1.5 .6 0 .6 0 .6-1.5 .6 0 .6 1.5 .6-1.5 .7 0 .6 1.5 .6-1.5 .6 0 .6 0 .6-1.5 .6 1.5 .6-1.5 .6 1.5 .6-1.5 .6 1.5 .6 0 .6 0 .7 0 .6-1.5 .6 1.5 .6 0 .6 0 .6 0 .6 0 .6 0 .6 0 .6 0 .6 1.5 .6-1.5 .6 1.5 .6 0 .7-1.5 .6 3 .6-3 .6 1.5 .6-1.5 .6 1.5 .6 1.5 .6-1.5 .6-1.5 .6 0 .6 1.5 .6 0 .6 0 .7 0 .6 0 .6 0 .6 0 .6-1.5 .6 3 .6 0 .6 0 .6 0 .6-1.5 .6-1.5 .6 1.5 .6 0 .6-1.5 .7 1.5 .6-1.5 .6 1.5 .6 0 .6-1.5 .6 0 .6 0 .6 1.5 .6-1.5 .6 0 .6 1.5 .6-1.5 .6 0 .7 0 .6 1.5 .6 0 .6-1.5 .6 0 .6 0 .6 0 .6 1.5 .6-1.5 .6 1.5 .6 0 .6 0 .6-1.5 .6 1.5 .7 0 .6-1.5 .6 0 .6 1.5 .6-1.5 .6 1.5 .6-1.5 .6-1.5 .6 1.5 .6 0 .6 0 .6 0 .6 1.5 .7-1.5 .6 1.5 .6-1.5 .6 0 .6 0 .6 0 .6 1.5 .6-1.5 .6 1.5 .6-1.5 .6 1.5 .6-1.5 .6 0 .7-1.5 .6 1.5 .6 0 .6 0 .6-1.5 .6 1.5 .6-1.5 .6-1.5 .6 0 .6 0 .6 0 .6-1.5 .6 0 .6 0 .7 0 .6-1.5 .6 0 .6 0 .6 1.5 .6-1.5 .6 0 .6 0 .6-1.5 .6-1.5 .6 0 .6 1.5 .6-1.5 .7-1.5 .6-1.5 .6 0 .6 0 .6 0 .6-1.5 .6 0 .6 0 .6-1.5 .6-1.5 .6 3 .6-1.5 .6-1.5 .6 1.5 .7 1.5 .6 0 .6 1.5 .6-1.5 .6 1.5 .6 0 .6 1.5 .6 0 .6 1.5 .6 0 .6 1.5 .6 0 .6 1.5 .7-1.5 .6 1.5 .6-1.5 .6 1.5 .6 0 .6 1.5 .6-1.5 .6 0 .6 1.5 .6 0 .6 0 .6 0 .6 0 .6 1.5 .7 0 .6-1.5 .6 1.5 .6-1.5 .6 0 .6 1.5 .6 0 .6 0 .6 0 .6 0 .6 0 .6 1.5 .6-1.5 .7 0 .6-1.5 .6 1.5 .6 1.5 .6-3 .6 0 .6 1.5 .6-1.5 .6 0 .6-1.5 .6 0 .6 0 .6 0 .6 0 .7 0 .6-1.5 .6 0 .6-1.5 .6 1.5 .6-3 .6 0 .6 0 .6 1.5 .6-1.5 .6-1.5 .6 0 .6-3 .7 1.5 .6 0 .6-1.5 .6-1.5 .6 0 .6 0 .6 1.5 .6 0 .6 0 .6-1.5 .6 1.5 .6 1.5 .6-1.5 .6 3 .7 0 .6 1.5 .6 0 .6 0 .6 0 .6 3 .6 0 .6 0 .6 1.5 .6-1.5 .6 3 .6 0 .6 0 .7 1.5 .6 0 .6 0 .6 1.5 .6 0 .6 0 .6 0 .6 1.5 .6-1.5 .6 0 .6 0 .6 1.5 .6 0 .6 0 .7 1.5 .6 0 .6 1.5 .6-3 .6 0 .6 0 .6 1.5 .6-1.5 .6 1.5 .6-1.5 .6 1.5 .6-1.5 .6 0 .7 0 .6 0 .6 0 .6 0 .6 0 .6 0 .6 1.5 .6 0 .6 0 .6-1.5 .6 3 .6-1.5 .6 0 .7 0 .6-1.5 .6 1.5 .6-1.5 .6 0 .6 3 .6-1.5 .6-1.5 .6 3 .6-3 .6 3 .6-1.5 .6 0 .6 0 .7 0 .6 0 .6 1.5 .6-1.5 .6 0 .6 0 .6 1.5 .6-1.5 .6 0 .6 1.5 .6 0 .6 0 .6 0 .7-1.5 .6 1.5 .6 0 .6 0 .6 0 .6 0 .6 0 .6 0 .6 1.5 .6-1.5 .6 0 .6 0 .6-1.5 .6 1.5 .7 0 .6 0 .6 0 .6-1.5 .6 1.5 .6 0 .6 0 .6 1.5 .6-1.5 .6 0 .6 0 .6 0 .6 0 .7 0 .6 0 .6 0 .6 0 .6 0 .6 1.5 .6-3 .6 1.5 .6 0 .6-1.5 .6 0 .6 0 .6 1.5 .6 0 .7 0 .6 0 .6-1.5 .6 0 .6 0 .6 1.5 .6 0 .6-1.5 .6 1.5 .6 0 .6-1.5 .6 1.5 .6 1.5 .7 0 .6 0 .6-1.5 .6 0 .6 0 .6 0 .6 1.5 .6 0 .6 0 .6 0 .6 0 .6-1.5 .6 1.5 .6 0 .7 0 .6 0 .6 0 .6-1.5 .6 0 .6-1.5 .6 1.5 .6-1.5 .6 0 .6 0 .6 0 .6 0 .6 0 .7 0 .6-1.5 .6 0 .6 0 .6 1.5 .6 0 .6-1.5 .6 0 .6 1.5 .6 0 .6 0 .6 0 .6 0 .6 0 .7 0 .6 0 .6-1.5 .6 0 .6 0 .6 0 .6 0 .6-1.5 .6 0 .6 1.5 .6-1.5 .6 0 .6-1.5 .7 1.5 .6-1.5 .6 0 .6 1.5 .6-1.5 .6-1.5 .6 1.5 .6-1.5 .6 1.5 .6-1.5 .6 1.5 .6-1.5 .6 0 .6-1.5 .7 0 .6 0 .6 0 .6 1.5 .6-1.5 .6 0 .6-1.5 .6 0 .6 0 .6-1.5 .6 0 .6-1.5 .6-1.5 .7 0 .6-1.5 .6 0 .6-1.5 .6 0 .6-3 .6 0 .6-1.5 .6 0 .6-1.5 .6 0 .6-1.5 .6 0 .7 0 .6 0 .6 0 .6 0 .6 0 .6 1.5 .6 1.5 .6 1.5 .6 0 .6-1.5 .6 3 .6 0 .6 1.5 .6 1.5 .7 1.5 .6 0 .6 1.5 .6 1.5 .6-1.5 .6 1.5 .6 1.5 .6 0 .6 0 .6 0 .6 0 .6 1.5 .6 1.5 .7-1.5 .6 0 .6 0 .6 1.5 .6-1.5 .6 0 .6 0 .6 1.5 .6-1.5 .6 0 .6 0 .6 0 .6 0 .6 1.5 .7-1.5 .6-1.5 .6 1.5 .6 0 .6 0 .6 1.5 .6-1.5 .6 0 .6 0 .6 0 .6 0 .6 1.5 .6 0 .7 0 .6 1.5 .6-1.5 .6 1.5 .6 0 .6 0 .6 0 .6 0 .6 0 .6 0 .6 0 .6 0 .6 0 .6 1.5 .7 0 .6 1.5 .6 0 .6 0 .6 1.5 .6 0 .6 0 .6-1.5 .6 1.5 .6 1.5 .6-1.5 .6 0 .6 1.5 .7 0 .6 0 .6 0 .6 0 .6 0 .6 0 .6 0 .6 1.5 .6-1.5 .6 1.5 .6 0 .6 0 .6 0 .6 0 .7 0 .6 0 .6 0 .6 0 .6 0 .6 1.5 .6 0 .6 0 .6 0 .6 1.5 .6-1.5 .6 0 .6 1.5 .7-3 .6 1.5 .6 0 .6 1.5 .6-3 .6 1.5 .6-3 .6 1.5 .6 0 .6 0 .6 0 .6 0 .6-1.5 .6 1.5 .7 0 .6 0 .6-1.5 .6 1.5 .6-1.5 .6 1.5 .6 0 .6 0 .6 0 .6 0 .6 0 .6 0 .6 0 .7 0 .6 0 .6-1.5 .6 1.5 .6 0 .6 0 .6 0 .6 0 .6 0 .6 0 .6 0 .6 0 .6 0 .6 1.5 .7 0 .6 0 .6-1.5 .6 1.5 .6 0 .6 0 .6 0 .6-1.5 .6 1.5 .6 1.5 .6-1.5 .6 0 .6-1.5 .7 1.5 .6-1.5 .6 0 .6 0 .6 0 .6 1.5 .6-1.5 .6 0 .6-1.5 .6 1.5 .6-1.5 .6 1.5 .6 1.5 .7-1.5 .6 1.5 .6-1.5 .6 0 .6 1.5 .6 0 .6-1.5 .6 0 .6 0 .6 0 .6 0 .6 1.5 .6-1.5 .6 1.5 .7 0 .6 0 .6 0 .6 0 .6 1.5 .6-1.5 .6 1.5 .6 0 .6 0 .6 0 .6 0 .6 0 .6 1.5 .7-1.5 .6-1.5 .6 3 .6-1.5 .6-1.5 .6 1.5 .6-1.5 .6 1.5 .6 0 .6 0 .6 0 .6-1.5 .6 0 .6 1.5 .7-1.5 .6 1.5 .6-1.5 .6 0 .6 1.5 .6 0 .6 0 .6-1.5 .6 0 .6 0 .6 0 .6 0 .6 0 .7 1.5 .6-1.5 .6-1.5 .6 3 .6 0 .6-1.5 .6 1.5 .6-1.5 .6 0 .6 0 .6 0 .6 1.5 .6 0 .6 0 .7-1.5 .6 1.5 .6 0 .6 1.5 .6 0 .6 0 .6-1.5 .6 1.5 .6-1.5 .6 0 .6 0 .6 0 .6 0 .7-1.5 .6 1.5 .6-1.5 .6 0" fill="none" stroke="#00ACC8" stroke-width="21" stroke-linejoin="round" stroke-linecap="round" clip-path="url(#ca)"/>
<path d="M149.3 1209l.6-13.5 .6 12 .6-3 .6 3 .6-1.5 .6 4.5 .6-6 .6-1.5 .7 3 .6 0 .6-1.5 .6 0 .6 3 .6 0 .6-4.5 .6 1.5 .6-4.5 .6 9 .6-4.5 .6 4.5 .6-3 .6 4.5 .7 0 .6-4.5 .6 4.5 .6-7.5 .6 6 .6-7.5 .6 6 .6 1.5 .6-1.5 .6-1.5 .6-1.5 .6 1.5 .6 4.5 .7 0 .6-3 .6-3 .6 6 .6-6 .6 3 .6 0 .6 4.5 .6-1.5 .6 0 .6 0 .6-3 .6 4.5 .6 1.5 .7-3 .6 1.5 .6-1.5 .6 3 .6 0 .6 0 .6 0 .6 3 .6-4.5 .6 0 .6-1.5 .6 4.5 .6-3 .7 0 .6 3 .6 1.5 .6-1.5 .6-9 .6 4.5 .6 0 .6-1.5 .6 3 .6 6 .6-6 .6-1.5 .6 4.5 .6-1.5 .7 0 .6-1.5 .6 1.5 .6 1.5 .6-6 .6 0 .6 7.5 .6 0 .6-3 .6-1.5 .6 1.5 .6-1.5 .6 1.5 .7 6 .6-4.5 .6 1.5 .6-3 .6 1.5 .6 3 .6-7.5 .6 3 .6 0 .6 1.5 .6 4.5 .6-1.5 .6-4.5 .7 3 .6 0 .6 0 .6 9 .6-7.5 .6 3 .6-1.5 .6 4.5 .6-1.5 .6 0 .6-1.5 .6 3 .6-4.5 .6 0 .7-1.5 .6 6 .6-3 .6-3 .6 3 .6 7.5 .6-6 .6 3 .6 0 .6-1.5 .6-1.5 .6 1.5 .6 0 .7-4.5 .6 12 .6-4.5 .6-3 .6 0 .6-3 .6 4.5 .6-3 .6 1.5 .6-6 .6 4.5 .6 4.5 .6-6 .6 1.5 .7-1.5 .6 3 .6 0 .6-3 .6-1.5 .6 1.5 .6 0 .6-1.5 .6 3 .6 0 .6-4.5 .6 3 .6 7.5 .7-6 .6-1.5 .6 6 .6-7.5 .6-6 .6 1.5 .6 1.5 .6 4.5 .6 1.5 .6-7.5 .6 7.5 .6-6 .6 4.5 .6 0 .7 0 .6-1.5 .6 1.5 .6-3 .6 3 .6 1.5 .6 1.5 .6 4.5 .6-3 .6-1.5 .6 3 .6-3 .6-3 .7-1.5 .6 9 .6 0 .6 0 .6-1.5 .6 1.5 .6 4.5 .6-4.5 .6-3 .6 1.5 .6 4.5 .6-6 .6-4.5 .6 1.5 .7 1.5 .6 6 .6-3 .6-1.5 .6-1.5 .6 3 .6-1.5 .6 0 .6 0 .6 0 .6 6 .6-10.5 .6 6 .7-1.5 .6 4.5 .6-3 .6 3 .6 0 .6 0 .6 1.5 .6-4.5 .6 6 .6-3 .6 3 .6 3 .6-1.5 .6 3 .7-10.5 .6 4.5 .6 4.5 .6-4.5 .6 1.5 .6 4.5 .6-1.5 .6-4.5 .6 3 .6 0 .6-1.5 .6 0 .6 0 .7-4.5 .6 4.5 .6-3 .6 3 .6 0 .6-3 .6 4.5 .6-1.5 .6 0 .6 1.5 .6-3 .6 0 .6 1.5 .6-1.5 .7 3 .6-7.5 .6 4.5 .6-4.5 .6 3 .6 3 .6-1.5 .6 3 .6-1.5 .6-7.5 .6 4.5 .6 6 .6 0 .7-3 .6-4.5 .6 9 .6-9 .6 4.5 .6 0 .6 0 .6-3 .6 1.5 .6 3 .6-3 .6-3 .6 3 .7 0 .6 0 .6-1.5 .6 3 .6-1.5 .6-3 .6 3 .6-1.5 .6 1.5 .6-4.5 .6 1.5 .6 3 .6 1.5 .6-1.5 .7-1.5 .6 1.5 .6 1.5 .6 1.5 .6-3 .6-1.5 .6 3 .6-4.5 .6 4.5 .6 0 .6 1.5 .6 3 .6 0 .7-3 .6 3 .6 0 .6 3 .6 1.5 .6-3 .6 4.5 .6 1.5 .6-3 .6 1.5 .6-4.5 .6 1.5 .6 3 .6-6 .7 3 .6-1.5 .6 4.5 .6 0 .6-4.5 .6 1.5 .6-7.5 .6 7.5 .6-1.5 .6 3 .6-9 .6 6 .6-1.5 .7-4.5 .6 4.5 .6 1.5 .6 1.5 .6-1.5 .6-1.5 .6 1.5 .6-1.5 .6-1.5 .6 0 .6 1.5 .6 1.5 .6 3 .6-4.5 .7 4.5 .6-3 .6 1.5 .6-4.5 .6 0 .6 1.5 .6 3 .6-1.5 .6 1.5 .6-1.5 .6 1.5 .6-1.5 .6-1.5 .7 1.5 .6-1.5 .6 4.5 .6-4.5 .6 0 .6 0 .6 3 .6-1.5 .6 0 .6-4.5 .6-1.5 .6 4.5 .6 0 .6 1.5 .7-7.5 .6 3 .6-3 .6 1.5 .6 1.5 .6 3 .6-3 .6 0 .6 1.5 .6 3 .6 3 .6-7.5 .6 3 .7 0 .6 4.5 .6-1.5 .6 3 .6-4.5 .6 3 .6-1.5 .6 0 .6 1.5 .6-1.5 .6 7.5 .6-3 .6-3 .6 0 .7 6 .6-6 .6 3 .6 0 .6 0 .6 0 .6-1.5 .6-1.5 .6-3 .6 4.5 .6 0 .6 0 .6 0 .7-1.5 .6 7.5 .6-6 .6-1.5 .6 1.5 .6 0 .6 1.5 .6-6 .6 6 .6-3 .6 0 .6 3 .6-1.5 .6-3 .7 0 .6 4.5 .6-1.5 .6-1.5 .6-1.5 .6 1.5 .6-1.5 .6-3 .6 0 .6 3 .6 0 .6 1.5 .6-3 .7 4.5 .6-3 .6 3 .6 0 .6-1.5 .6-1.5 .6 3 .6 0 .6 3 .6-3 .6 0 .6 3 .6 3 .7 0 .6-4.5 .6 0 .6 1.5 .6-3 .6 0 .6 0 .6-1.5 .6 0 .6 0 .6 1.5 .6-3 .6 1.5 .6-1.5 .7 0 .6 0 .6 10.5 .6-6 .6 1.5 .6-1.5 .6-1.5 .6 0 .6 1.5 .6 0 .6 0 .6 3 .6-9 .7 4.5 .6 3 .6-3 .6 0 .6 4.5 .6-3 .6 3 .6-3 .6 0 .6-1.5 .6-1.5 .6 3 .6 1.5 .6 0 .7-1.5 .6 3 .6 0 .6 0 .6-1.5 .6 4.5 .6 0 .6-3 .6 0 .6 0 .6 3 .6 3 .6-6 .7-1.5 .6-3 .6 9 .6-7.5 .6 3 .6 0 .6 0 .6-4.5 .6-1.5 .6 3 .6 0 .6 0 .6-6 .6 3 .7 0 .6-1.5 .6 1.5 .6 1.5 .6-1.5 .6-1.5 .6 3 .6 1.5 .6-1.5 .6 1.5 .6-4.5 .6 3 .6 0 .7-1.5 .6 1.5 .6-1.5 .6 3 .6-3 .6 0 .6 1.5 .6 0 .6 1.5 .6-3 .6 0 .6 1.5 .6 4.5 .6-4.5 .7-3 .6 3 .6-3 .6-1.5 .6 1.5 .6 1.5 .6 1.5 .6 1.5 .6 0 .6 0 .6-3 .6 1.5 .6 0 .7 3 .6-3 .6 0 .6 4.5 .6-1.5 .6-1.5 .6 1.5 .6 0 .6 1.5 .6 1.5 .6-1.5 .6 0 .6 0 .6-3 .7 3 .6 3 .6-3 .6-1.5 .6 0 .6-1.5 .6 3 .6 1.5 .6 0 .6-1.5 .6-1.5 .6-3 .6-1.5 .7 1.5 .6-1.5 .6 1.5 .6-1.5 .6-1.5 .6 3 .6 4.5 .6-7.5 .6 4.5 .6-1.5 .6-1.5 .6-1.5 .6 1.5 .6 1.5 .7 0 .6 0 .6 0 .6-1.5 .6 1.5 .6-1.5 .6-1.5 .6 4.5 .6-3 .6 0 .6 1.5 .6-3 .6 3 .7 1.5 .6-1.5 .6 1.5 .6 3 .6-1.5 .6 0 .6-1.5 .6-1.5 .6 0 .6 0 .6 0 .6 0 .6-1.5 .7 4.5 .6-4.5 .6 1.5 .6 1.5 .6-1.5 .6-1.5 .6 1.5 .6 3 .6-3 .6-1.5 .6 1.5 .6-1.5 .6-3 .6 3 .7 1.5 .6 0 .6-1.5 .6-3 .6 4.5 .6-3 .6 1.5 .6 0 .6-1.5 .6 0 .6-1.5 .6 0 .6 1.5 .7-1.5 .6 1.5 .6-4.5 .6 1.5 .6 1.5 .6-1.5 .6 0 .6 0 .6 1.5 .6 1.5 .6-4.5 .6 4.5 .6-6 .6 3 .7-4.5 .6 4.5 .6 0 .6 0 .6 1.5 .6-1.5 .6-1.5 .6-1.5 .6 1.5 .6-1.5 .6 0 .6 3 .6-1.5 .7-1.5 .6 0 .6-4.5 .6 3 .6-4.5 .6 1.5 .6 1.5 .6 0 .6 0 .6-1.5 .6-1.5 .6 0 .6 1.5 .6-1.5 .7-4.5 .6 1.5 .6 1.5 .6-3 .6 0 .6-1.5 .6-1.5 .6 1.5 .6-1.5 .6 0 .6-3 .6 0 .6 1.5 .7-1.5 .6 1.5 .6-4.5 .6 3 .6-1.5 .6-1.5 .6 0 .6-1.5 .6-1.5 .6-1.5 .6-3 .6 1.5 .6 0 .6-6 .7 3 .6-4.5 .6-1.5 .6 0 .6-3 .6 0 .6-6 .6 1.5 .6-6 .6-3 .6-4.5 .6-6 .6-6 .7-3 .6-4.5 .6-6 .6-7.5 .6-4.5 .6-10.5 .6-10.5 .6-6 .6-9 .6-15 .6-9 .6-16.5 .6-12 .6-12 .7-18 .6-18 .6-19.5 .6-22.5 .6-19.5 .6-21 .6-25.5 .6-22.5 .6-22.5 .6-25.5 .6-24 .6-24 .6-22.5 .7-16.5 .6-18 .6-9 .6-4.5 .6-1.5 .6 0 .6 3 .6 18 .6 13.5 .6 18 .6 22.5 .6 22.5 .6 22.5 .6 24 .7 28.5 .6 18 .6 28.5 .6 22.5 .6 22.5 .6 22.5 .6 18 .6 18 .6 15 .6 15 .6 15 .6 12 .6 10.5 .7 12 .6 7.5 .6 10.5 .6 12 .6 6 .6 6 .6 4.5 .6 4.5 .6 7.5 .6 4.5 .6 4.5 .6 4.5 .6 3 .7 0 .6 9 .6 1.5 .6 1.5 .6 1.5 .6 4.5 .6 3 .6 1.5 .6-1.5 .6 1.5 .6 0 .6 6 .6 3 .6 1.5 .7 0 .6 3 .6-1.5 .6 3 .6 0 .6 0 .6 0 .6 4.5 .6-4.5 .6 6 .6-3 .6 3 .6-1.5 .7 3 .6-1.5 .6-1.5 .6 1.5 .6-1.5 .6 3 .6 1.5 .6-1.5 .6 0 .6 3 .6-3 .6 3 .6-1.5 .6 0 .7 3 .6-3 .6 1.5 .6 1.5 .6-1.5 .6 1.5 .6 1.5 .6 1.5 .6-3 .6 3 .6-1.5 .6 0 .6 0 .7 3 .6-3 .6 3 .6 0 .6 0 .6-3 .6 3 .6-1.5 .6 1.5 .6-3 .6-3 .6-1.5 .6-3 .6-3 .7-6 .6-6 .6-4.5 .6-3 .6-3 .6-1.5 .6 0 .6 4.5 .6 4.5 .6 10.5 .6 1.5 .6 3 .6 1.5 .7 4.5 .6 3 .6 3 .6 4.5 .6-3 .6-1.5 .6 4.5 .6-1.5 .6 4.5 .6 0 .6 0 .6-3 .6 3 .6 3 .7-3 .6 1.5 .6 1.5 .6 0 .6 0 .6 0 .6 0 .6-1.5 .6 1.5 .6 0 .6-1.5 .6 1.5 .6 0 .7 1.5 .6 0 .6-3 .6 0 .6 3 .6-1.5 .6 1.5 .6-1.5 .6 0 .6 1.5 .6 0 .6 1.5 .6 0 .6 0 .7 0 .6-3 .6-1.5 .6 1.5 .6-1.5 .6 0 .6 3 .6-3 .6 3 .6 0 .6 3 .6-3 .6 1.5 .7-3 .6 0 .6 3 .6-4.5 .6 4.5 .6-1.5 .6-3 .6 6 .6-4.5 .6 6 .6-6 .6 1.5 .6 1.5 .6 0 .7-1.5 .6 3 .6 0 .6 0 .6-3 .6 3 .6 0 .6 1.5 .6 0 .6-1.5 .6 0 .6 3 .6-3 .7 1.5 .6-3 .6 6 .6-1.5 .6-3 .6 3 .6 1.5 .6-1.5 .6 0 .6 0 .6-1.5 .6 0 .6 0 .7 1.5 .6-1.5 .6 3 .6-3 .6-1.5 .6 1.5 .6 1.5 .6 0 .6 1.5 .6-3 .6 0 .6 1.5 .6 1.5 .6-3 .7-1.5 .6 1.5 .6 1.5 .6-1.5 .6 1.5 .6-1.5 .6 3 .6-3 .6 0 .6 1.5 .6 1.5 .6 0 .6-3 .7 1.5 .6 0 .6 1.5 .6-3 .6 0 .6 3 .6-1.5 .6 3 .6-1.5 .6 0 .6-1.5 .6 3 .6 1.5 .6-3 .7 0 .6 3 .6-1.5 .6 0 .6 0 .6 1.5 .6-1.5 .6 0 .6 0 .6 0 .6-3 .6 3 .6-1.5 .7 1.5 .6-1.5 .6 0 .6 0 .6-1.5 .6 1.5 .6 0 .6 1.5 .6-1.5 .6-1.5 .6 1.5 .6 1.5 .6-1.5 .6-1.5 .7-1.5 .6 1.5 .6-1.5 .6 3 .6-1.5 .6 0 .6 1.5 .6-1.5 .6 0 .6 1.5 .6 3 .6-3 .6 3 .7-3 .6 1.5 .6 1.5 .6 1.5 .6-4.5 .6 1.5 .6 0 .6 1.5 .6-1.5 .6 0 .6-1.5 .6 0 .6 1.5 .6 1.5 .7-1.5 .6-1.5 .6-1.5 .6 3 .6-4.5 .6-1.5 .6 1.5 .6 1.5 .6 1.5 .6-1.5 .6 0 .6 0 .6-1.5 .7 0 .6 1.5 .6-1.5 .6 1.5 .6 1.5 .6-3 .6 1.5 .6 0 .6 1.5 .6 0 .6-1.5 .6 1.5 .6 3 .6-1.5 .7-1.5 .6 0 .6 0 .6 1.5 .6 0 .6-1.5 .6 3 .6-1.5 .6 0 .6 0 .6 1.5 .6-3 .6 3 .7 1.5 .6-3 .6 1.5 .6-1.5 .6 0 .6 1.5 .6-1.5 .6-3 .6 3 .6 1.5 .6-3 .6 0 .6 0 .6 0 .7 1.5 .6-1.5 .6 0 .6 1.5 .6 1.5 .6 0 .6 0 .6-1.5 .6-1.5 .6 1.5 .6 1.5 .6-3 .6 1.5 .7 1.5 .6-1.5 .6 3 .6-1.5 .6-1.5 .6 0 .6 0 .6 1.5 .6 0 .6-1.5 .6 1.5 .6 0 .6 0 .7-3 .6 1.5 .6 0 .6-1.5 .6 3 .6-1.5 .6 0 .6 0 .6 1.5 .6 0 .6 0 .6 1.5 .6-3 .6 3 .7 0 .6-3 .6 0 .6 0 .6 1.5 .6-3 .6-1.5 .6 4.5 .6-4.5 .6-3 .6 4.5 .6 0 .6 0 .7 0 .6 3 .6-4.5 .6 0 .6-1.5 .6 4.5 .6-1.5 .6-1.5 .6 0 .6 3 .6 0 .6 1.5 .6-1.5 .6 0 .7 1.5 .6-1.5 .6 1.5 .6-1.5 .6 0 .6 0 .6 0 .6 0 .6 0 .6-1.5 .6 1.5 .6 0 .6 0 .7 0 .6 0 .6 0 .6-1.5 .6 1.5 .6-1.5 .6-1.5 .6 3 .6-3 .6 1.5 .6 3 .6-1.5 .6-1.5 .6 3 .7-1.5 .6 0 .6 0 .6 0 .6 0 .6 0 .6-1.5 .6 1.5 .6 1.5 .6-3 .6-1.5 .6 0 .6 1.5 .7-3 .6 1.5 .6 1.5 .6-3 .6 0 .6 0 .6 0 .6 0 .6 0 .6 1.5 .6 0 .6 1.5 .6 0 .6 0 .7 1.5 .6-1.5 .6 1.5 .6-1.5 .6 3 .6-1.5 .6 1.5 .6-1.5 .6 1.5 .6-3 .6 0 .6 0 .6 1.5 .7 0 .6 0 .6-1.5 .6 0 .6 0 .6 1.5 .6-3 .6 0 .6 1.5 .6 1.5 .6-1.5 .6-1.5 .6 0 .6 0 .7 0 .6 0 .6 1.5 .6 0 .6-1.5 .6 0 .6 1.5 .6-1.5 .6 0 .6 0 .6-1.5 .6 1.5 .6 3 .7-6 .6 0 .6-1.5 .6 0 .6 0 .6 0 .6-1.5 .6-3 .6 1.5 .6-1.5 .6 0 .6-1.5 .6-1.5 .6 0 .7-3 .6 3 .6-3 .6 1.5 .6 0 .6-1.5 .6-1.5 .6 3 .6-1.5 .6 1.5 .6 0 .6 0 .6-1.5 .7 1.5 .6 1.5 .6-1.5 .6 1.5 .6-3 .6 0 .6 0 .6 0 .6 3 .6 0 .6-1.5 .6 0 .6 1.5 .7-1.5 .6-1.5 .6 3 .6-4.5 .6 1.5 .6 0 .6 0 .6 0 .6-1.5 .6-3 .6 1.5 .6-3 .6-1.5 .6-1.5 .7 0 .6-3 .6 3 .6 0 .6 0 .6-3 .6 1.5 .6 1.5 .6-1.5 .6-1.5 .6 0 .6 1.5 .6 1.5 .7-1.5 .6 3 .6 0 .6-3 .6-3 .6 1.5 .6 3 .6-3 .6 0 .6 0 .6 3 .6-4.5 .6-1.5 .6 1.5 .7 0 .6-1.5 .6-1.5 .6-1.5 .6-1.5 .6 0 .6-3 .6-1.5 .6-3 .6 1.5 .6-4.5 .6-3 .6-1.5 .7-3 .6-1.5 .6 0 .6-3 .6-1.5 .6-3 .6-3 .6-1.5 .6 0 .6-4.5 .6-3 .6 1.5 .6-1.5 .6 0 .7 1.5 .6-1.5 .6 3 .6 1.5 .6 1.5 .6 0 .6 3 .6 1.5 .6 4.5 .6-1.5 .6 6 .6 0 .6 3 .7 0 .6 3 .6 1.5 .6 3 .6-1.5 .6 1.5 .6 0 .6 1.5 .6 0 .6 0 .6 1.5 .6 0 .6-1.5 .6 0 .7 3 .6-1.5 .6 0 .6 0 .6-1.5 .6 1.5 .6 1.5 .6 1.5 .6-3 .6 1.5 .6 3 .6 0 .6-1.5 .7 4.5 .6 0 .6 0 .6 1.5 .6 1.5 .6 1.5 .6 0 .6 1.5 .6 1.5 .6 3 .6-1.5 .6 4.5 .6-1.5 .6 1.5 .7 1.5 .6 1.5 .6 0 .6-1.5 .6 1.5 .6 3 .6-1.5 .6 3 .6-1.5 .6 1.5 .6 3 .6 0 .6-1.5 .7 1.5 .6 0 .6 3 .6 0 .6 1.5 .6 0 .6 0 .6 0 .6 0 .6 1.5 .6 0 .6 3 .6-3 .6 1.5 .7-1.5 .6 1.5 .6 1.5 .6 0 .6-1.5 .6 0 .6 3 .6-1.5 .6 0 .6-1.5 .6 4.5 .6-1.5 .6 0 .7 1.5 .6-1.5 .6-1.5 .6 1.5 .6 1.5 .6-3 .6 3 .6 0 .6 0 .6-1.5 .6 1.5 .6-3 .6 1.5 .7 1.5 .6 0 .6 0 .6-3 .6 1.5 .6-1.5 .6 1.5 .6 1.5 .6-1.5 .6 1.5 .6-1.5 .6 1.5 .6-1.5 .6-1.5 .7 0 .6 0 .6 1.5 .6 0 .6-1.5 .6 1.5 .6-1.5 .6 1.5 .6-1.5 .6 3 .6-1.5 .6 0 .6 0 .7 1.5 .6 0 .6 1.5 .6 1.5 .6-1.5 .6 0 .6 1.5 .6-1.5 .6 3 .6-3 .6 1.5 .6-1.5 .6-1.5 .6 3 .7-1.5 .6-1.5 .6 0 .6-1.5 .6 1.5 .6 1.5 .6 0 .6-1.5 .6 1.5 .6 1.5 .6-1.5 .6 1.5 .6-3 .7 1.5 .6-1.5 .6 3 .6-1.5 .6 0 .6 1.5 .6-3 .6 1.5 .6 0 .6 1.5 .6-1.5 .6 3 .6 1.5 .6-3 .7 1.5 .6-3 .6 1.5 .6 1.5 .6 0 .6 0 .6 0 .6-1.5 .6 0 .6-1.5 .6 1.5 .6-3 .6 3 .7-3 .6 0 .6 1.5 .6 1.5 .6 0 .6 1.5 .6-3 .6 0 .6 1.5 .6-1.5 .6 1.5 .6 1.5 .6 0 .6-3 .7 1.5 .6-1.5 .6 3 .6-1.5 .6 1.5 .6 0 .6-3 .6 1.5 .6 0 .6 1.5 .6-4.5 .6 0 .6 1.5 .7-1.5 .6 1.5 .6 0 .6 0 .6 0 .6 1.5 .6-3 .6 3 .6 0 .6-1.5 .6 0 .6 0 .6 3 .6 0 .7-3 .6 1.5 .6 0 .6 1.5 .6-1.5 .6 1.5 .6-1.5 .6 1.5 .6-1.5 .6 0 .6 0 .6-1.5 .6 1.5 .7 1.5 .6-1.5 .6-1.5 .6 1.5 .6 0 .6 0 .6 0 .6 1.5 .6 0 .6 0 .6 0 .6-1.5 .6 0 .6-1.5 .7 3 .6 0 .6 0 .6-1.5 .6 1.5 .6-1.5 .6 0 .6 0 .6 1.5 .6 0 .6 1.5 .6-1.5 .6 0 .7 3 .6-1.5 .6 0 .6 0 .6 1.5 .6-3 .6 0 .6 3 .6-1.5 .6 1.5 .6-1.5 .6 0 .6-1.5 .7 0 .6 1.5 .6-1.5 .6 0 .6-1.5 .6 1.5 .6-1.5 .6 0 .6 1.5 .6-1.5 .6 1.5 .6 1.5 .6-1.5 .6 1.5 .7-4.5 .6 0 .6 1.5 .6-1.5 .6 1.5 .6 1.5 .6 0 .6 0 .6-1.5 .6 0 .6 0 .6 0 .6 1.5 .7-1.5 .6 0 .6 0 .6 1.5 .6-1.5 .6 1.5 .6-1.5 .6 0 .6 1.5 .6-1.5 .6 1.5 .6-1.5 .6 3 .6-1.5 .7 0 .6 0 .6-1.5 .6 0 .6-1.5 .6 1.5 .6-1.5 .6 3 .6-3 .6 1.5 .6 0 .6 0 .6 1.5 .7-1.5 .6 0 .6 0 .6 1.5 .6 0 .6-3 .6 1.5 .6 0 .6 1.5 .6 0 .6 0 .6 0 .6 1.5 .6-3 .7 1.5 .6 0 .6 0 .6 0 .6 1.5 .6-1.5 .6 0 .6-1.5 .6 1.5 .6-1.5 .6 1.5 .6 1.5 .6-3 .7 1.5 .6 0 .6 0 .6 0 .6 0 .6-1.5 .6 0 .6-1.5 .6 3 .6-3 .6 3 .6-1.5 .6 0 .6-1.5 .7 1.5 .6 0 .6 0 .6 0 .6 0 .6-1.5 .6 3 .6-3 .6 4.5 .6-4.5 .6 0 .6 0 .6 0 .7 1.5 .6 0 .6-1.5 .6 0 .6 0 .6 0 .6 1.5 .6 0 .6-1.5 .6 0 .6 1.5 .6 0 .6-1.5 .6 1.5 .7-1.5 .6 1.5 .6 0 .6-1.5 .6 0 .6 0 .6 1.5 .6-1.5 .6 1.5 .6 1.5 .6-1.5 .6 1.5 .6 0 .7-1.5 .6 1.5 .6 0 .6 0 .6 0 .6 0 .6 0 .6-1.5 .6 1.5 .6 1.5 .6-1.5 .6 1.5 .6-1.5 .6 1.5 .7-3 .6 3 .6-1.5 .6 1.5 .6-3 .6 1.5 .6 0 .6-1.5 .6 0 .6-1.5 .6 1.5 .6 0 .6-1.5 .7 1.5 .6-3 .6-1.5 .6 3 .6 1.5 .6-1.5 .6-1.5 .6 1.5 .6 0 .6-1.5 .6 0 .6 0 .6-1.5 .7 0 .6 1.5 .6-3 .6 1.5 .6 0 .6-1.5 .6 0 .6 0 .6-3 .6 1.5 .6-1.5 .6 0 .6 0 .6 1.5 .7-3 .6 0 .6 0 .6 0 .6-4.5 .6 0 .6-1.5 .6 0 .6 0 .6-3 .6-1.5 .6 0 .6-3 .7-3 .6 0 .6-3 .6-4.5 .6-3 .6-1.5 .6-6 .6-3 .6-1.5 .6-4.5 .6-4.5 .6-6 .6-4.5 .6-7.5 .7-3 .6-1.5 .6-6 .6-6 .6-6 .6-4.5 .6-1.5 .6-4.5 .6-3 .6-1.5 .6 0 .6-1.5 .6 1.5 .7 4.5 .6-1.5 .6 6 .6 3 .6 3 .6 6 .6 4.5 .6 6 .6 6 .6 3 .6 6 .6 3 .6 4.5 .6 6 .7 3 .6 3 .6 4.5 .6 1.5 .6 3 .6 6 .6 1.5 .6 1.5 .6 1.5 .6 3 .6 1.5 .6 1.5 .6 0 .7 1.5 .6 1.5 .6 0 .6 1.5 .6 3 .6 0 .6 1.5 .6 0 .6 1.5 .6 1.5 .6 0 .6 1.5 .6 0 .6-1.5 .7 3 .6 0 .6 0 .6 0 .6 1.5 .6-1.5 .6 1.5 .6 0 .6 0 .6-1.5 .6 0 .6 3 .6-1.5 .7 0 .6 3 .6 0 .6 0 .6-1.5 .6 0 .6 1.5 .6 1.5 .6-1.5 .6 1.5 .6 0 .6 0 .6 0 .6 0 .7 0 .6 0 .6-1.5 .6 1.5 .6 0 .6 0 .6 0 .6 1.5 .6-1.5 .6 1.5 .6-1.5 .6 1.5 .6-3 .7 1.5 .6 0 .6 0 .6 0 .6 0 .6 1.5 .6-3 .6 1.5 .6 0 .6 1.5 .6 0 .6-1.5 .6 1.5 .6-1.5 .7 1.5 .6 0 .6-1.5 .6 0 .6 0 .6 1.5 .6 0 .6-1.5 .6 1.5 .6 0 .6 0 .6-3 .6 3 .7 0 .6-1.5 .6-1.5 .6 3 .6-1.5 .6-1.5 .6 1.5 .6 1.5 .6 1.5 .6-1.5 .6-1.5 .6 1.5 .6-3 .7 3 .6 0 .6 0 .6-1.5 .6 1.5 .6-1.5 .6 0 .6 0 .6 1.5 .6-1.5 .6 0 .6 0 .6 1.5 .6 0 .7 1.5 .6 0 .6 0 .6 0 .6-1.5 .6-1.5 .6 1.5 .6 0 .6-1.5 .6 1.5 .6 0 .6-1.5 .6 1.5 .7 0 .6-1.5 .6 0 .6 1.5 .6-1.5 .6 0 .6 1.5 .6-1.5 .6 0 .6 0 .6 0 .6 1.5 .6-1.5 .6-1.5 .7 1.5 .6 0 .6 0 .6-1.5 .6 3 .6-1.5 .6 0 .6-3 .6 4.5 .6-3 .6 3 .6-1.5 .6 0 .7 0 .6 0 .6 0 .6 0 .6 0 .6 0 .6 1.5 .6 0 .6-3 .6 0 .6 1.5 .6 0 .6 0 .6 0 .7-1.5 .6 3 .6-1.5 .6 1.5 .6-1.5 .6 1.5 .6 0 .6 0 .6 0 .6-3 .6 3 .6-1.5 .6-1.5 .7 1.5 .6 0 .6-1.5 .6 1.5 .6-4.5 .6 3 .6-1.5 .6 0 .6 1.5 .6-1.5 .6-1.5 .6 3 .6-1.5 .6 0 .7 0 .6 0 .6 0 .6 1.5 .6-1.5 .6 1.5 .6-1.5 .6 1.5 .6-3 .6 0 .6 1.5 .6 0 .6-1.5 .7 1.5 .6-3 .6 3 .6 0 .6-3 .6 1.5 .6 0 .6 0 .6 0 .6 0 .6-1.5 .6 0 .6 1.5 .6 0 .7 0 .6 0 .6-1.5 .6 0 .6 1.5 .6-1.5 .6 0 .6 0 .6 1.5 .6-3 .6-1.5 .6-1.5 .6 0 .7 0 .6-1.5 .6 1.5 .6-3 .6-3 .6 0 .6 1.5 .6-4.5 .6 0 .6-1.5 .6-1.5 .6 0 .6-3 .6-1.5 .7-1.5 .6-1.5 .6 0 .6-1.5 .6-1.5 .6-3 .6-1.5 .6-3 .6-1.5 .6-4.5 .6-1.5 .6-4.5 .6 0 .7-3 .6-1.5 .6 0 .6-3 .6-3 .6 1.5 .6-1.5 .6-3 .6 0 .6-1.5 .6 0 .6 1.5 .6 0 .7 1.5 .6 0 .6 0 .6 3 .6 1.5 .6 1.5 .6 1.5 .6 0 .6 1.5 .6 1.5 .6 3 .6 3 .6 0 .6 1.5 .7 1.5 .6 1.5 .6 0 .6 3 .6-1.5 .6 1.5 .6 1.5 .6 0 .6 0 .6 0 .6 0 .6 0 .6-1.5 .7 1.5 .6 0 .6-3 .6 0 .6 0 .6 0 .6-3 .6 0 .6-3 .6 0 .6-4.5 .6 0 .6-3 .6 0 .7-3 .6-3 .6-3 .6 1.5 .6-3 .6-3 .6-1.5 .6-1.5 .6 1.5 .6-1.5 .6-1.5 .6 0 .6 1.5 .7-1.5 .6 3 .6 1.5 .6 0 .6 0 .6 3 .6 3 .6 3 .6 3 .6 0 .6 3 .6 1.5 .6 4.5 .6 1.5 .7 4.5 .6 1.5 .6 1.5 .6 3 .6 1.5 .6 4.5 .6 0 .6 4.5 .6 0 .6 0 .6 4.5 .6 1.5 .6 1.5 .7 1.5 .6 1.5 .6 1.5 .6 0 .6 1.5 .6 3 .6-1.5 .6 0 .6 1.5 .6 0 .6 1.5 .6 1.5 .6-1.5 .6 0 .7 1.5 .6 0 .6 1.5 .6 0 .6 0 .6 1.5 .6 0 .6 0 .6 0 .6 0 .6 0 .6 3 .6-1.5 .7 1.5 .6 0 .6-1.5 .6 1.5 .6 0 .6 1.5 .6-1.5 .6 1.5 .6-1.5 .6 1.5 .6 0 .6 0 .6 0 .6 0 .7 1.5 .6 0 .6-1.5 .6 1.5 .6 0 .6 0 .6 1.5 .6-1.5 .6 1.5 .6-1.5 .6 0 .6 0 .6 1.5 .7-1.5 .6 0 .6 1.5 .6-1.5 .6 3 .6-1.5 .6 0 .6 0 .6 1.5 .6-1.5 .6 0 .6 0 .6 1.5 .6 0 .7 0 .6-1.5 .6 1.5 .6 0 .6-1.5 .6 0 .6 1.5 .6-1.5 .6 0 .6 0 .6 0 .6-1.5 .6 3 .7-1.5 .6-1.5 .6 1.5 .6 0 .6 1.5 .6 0 .6-3 .6 1.5 .6 0 .6-1.5 .6 3 .6-1.5 .6 0 .7 0 .6 0 .6 1.5 .6 0 .6-3 .6 1.5 .6-1.5 .6 1.5 .6 0 .6 0 .6 0 .6 0 .6-1.5 .6 1.5 .7 0 .6-1.5 .6 1.5 .6 0 .6-1.5 .6 0 .6 1.5 .6-1.5 .6 0 .6 0 .6 0 .6 0 .6 3 .7-1.5 .6 1.5 .6-1.5 .6-1.5 .6 1.5 .6 1.5 .6-1.5 .6 1.5 .6-1.5 .6 1.5 .6-1.5 .6 1.5 .6 0 .6-1.5 .7 0 .6 0 .6 1.5 .6 0 .6 0 .6 0 .6 0 .6 0 .6 1.5 .6-1.5 .6-1.5 .6 3 .6-1.5 .7 0 .6-1.5 .6 0 .6 1.5 .6-1.5 .6 0 .6 0 .6 0 .6 3 .6-1.5 .6 0 .6 1.5 .6 0 .6 0 .7 0 .6 0 .6 1.5 .6-1.5 .6 1.5 .6 1.5 .6-3 .6 1.5 .6 0 .6-1.5 .6 0 .6-1.5 .6 0 .7 0 .6-1.5 .6 0 .6 0 .6-1.5 .6 1.5 .6 0 .6 1.5 .6-1.5 .6 0 .6 0 .6 1.5 .6-3 .6 0 .7 3 .6 0 .6-1.5 .6 0 .6 1.5 .6-3 .6 1.5 .6 1.5 .6-1.5 .6 1.5 .6-1.5 .6 0 .6 0 .7 0 .6 0 .6 0 .6 1.5 .6-1.5 .6-1.5 .6 1.5 .6-1.5 .6 0 .6 3 .6-1.5 .6 0 .6 0 .6 1.5 .7 0 .6 0 .6-1.5 .6 0 .6 0 .6 1.5 .6-1.5 .6-1.5 .6 1.5 .6 0 .6-1.5 .6 1.5 .6 0 .7 0 .6-1.5 .6 0 .6 0 .6 0 .6 1.5 .6-1.5 .6 0 .6 0 .6 0 .6-1.5 .6 1.5 .6 0 .6 0 .7 0 .6-1.5 .6 1.5 .6 0 .6-1.5 .6 1.5 .6 0 .6 0 .6-1.5 .6 0 .6 1.5 .6 0 .6 0 .7 1.5 .6-1.5 .6 0 .6 1.5 .6 0 .6 0 .6 0 .6 0 .6 0 .6-1.5 .6 0 .6 1.5 .6-1.5 .7 1.5 .6-3 .6 0 .6 1.5 .6-1.5 .6 0 .6 1.5 .6-1.5 .6 1.5 .6 0 .6 0 .6 0 .6 1.5 .6 0 .7 0 .6 0 .6 0 .6 0 .6-1.5 .6 0 .6 1.5 .6-3 .6 1.5 .6 1.5 .6-3 .6 1.5 .6-1.5 .7-1.5 .6 1.5 .6 0 .6 0 .6-1.5 .6 0 .6 0 .6 0 .6 0 .6-1.5 .6 1.5 .6-1.5 .6 1.5 .6-1.5 .7 0 .6 0 .6-1.5 .6 0 .6 0 .6-1.5 .6 0 .6-1.5 .6 0 .6 0 .6-1.5 .6 0 .6-1.5 .7 0 .6-3 .6 0 .6-1.5 .6 0 .6-1.5 .6 0 .6-3 .6 0 .6-1.5 .6-1.5 .6-1.5 .6-1.5 .6 0 .7-3 .6-1.5 .6-1.5 .6-1.5 .6-1.5 .6 0 .6-3 .6-1.5 .6-1.5 .6-1.5 .6 0 .6-3 .6 1.5 .7-4.5 .6 0 .6 0 .6 0 .6 0 .6 0 .6-1.5 .6 3 .6 0 .6 3 .6 0 .6 0 .6 1.5 .6 3 .7 0 .6 1.5 .6 0 .6 3 .6 1.5 .6 3 .6 0 .6 3 .6 0 .6 0 .6 3 .6 1.5 .6 0 .7 1.5 .6 3 .6 0 .6 3 .6 0 .6 0 .6 1.5 .6 1.5 .6 0 .6 1.5 .6 0 .6 1.5 .6 0 .6 1.5 .7 0 .6 3 .6-1.5 .6 1.5 .6 0 .6 1.5 .6-1.5 .6 1.5 .6-1.5 .6 1.5 .6 0 .6 0 .6 1.5 .7-1.5 .6 1.5 .6-1.5 .6 0 .6 1.5 .6 0 .6-1.5 .6 1.5 .6 0 .6 0 .6 0 .6 1.5 .6-1.5 .6 0 .7 1.5 .6-1.5 .6 1.5 .6-1.5 .6-1.5 .6 3 .6 0 .6 0 .6 0 .6 1.5 .6 0 .6 0 .6-1.5 .7 0 .6 0 .6 1.5 .6-1.5 .6 0 .6-1.5 .6 1.5 .6-1.5 .6 1.5 .6 0 .6-1.5 .6 0 .6 0 .7 0 .6 1.5 .6-1.5 .6 1.5 .6-1.5 .6 1.5 .6 0 .6 0 .6 0 .6 0 .6 0 .6 1.5 .6-1.5 .6 1.5 .7-1.5 .6 1.5 .6 0 .6 0 .6-1.5 .6 1.5 .6 1.5 .6 0 .6 0 .6-1.5 .6 1.5 .6 0 .6 0 .7-1.5 .6 0 .6 0 .6 3 .6-4.5 .6 3 .6 0 .6-1.5 .6 0 .6 0 .6 0 .6-1.5 .6 0 .6 3 .7 0 .6-3 .6 3 .6-1.5 .6 0 .6 0 .6 0 .6 1.5 .6-1.5 .6 0 .6 0 .6 1.5 .6-1.5 .7 0 .6 0 .6-1.5 .6 0 .6 1.5 .6-1.5 .6 1.5 .6-3 .6 3 .6-1.5 .6 0 .6 0 .6 0 .6 0 .7 1.5 .6-1.5 .6 0 .6 0 .6 0 .6 0 .6 0 .6 0 .6 0 .6 0 .6 1.5 .6-1.5 .6 0 .7 0 .6 1.5 .6-3 .6 1.5 .6 1.5 .6-1.5 .6 0 .6 0 .6-1.5 .6 1.5 .6 0 .6 0 .6-1.5 .6 1.5 .7-1.5 .6 1.5 .6-1.5 .6-1.5 .6 0 .6 3 .6 0 .6 0 .6-1.5 .6 1.5 .6 0 .6 0 .6 0 .7 1.5 .6 0 .6 1.5 .6-3 .6 1.5 .6 0 .6 0 .6 0 .6-1.5 .6 1.5 .6 1.5 .6-1.5 .6 0 .6 0 .7 0 .6 0 .6 0 .6 1.5 .6-1.5 .6 0 .6 0 .6 0 .6-1.5 .6 1.5 .6-1.5 .6 0 .6 1.5 .7 0 .6-1.5 .6 0 .6 1.5 .6-3 .6 1.5 .6 0 .6 0 .6 1.5 .6-1.5 .6 0 .6 0 .6 1.5 .6-3 .7 1.5 .6 1.5 .6 0 .6 1.5 .6-1.5 .6 0 .6-1.5 .6 1.5 .6 0 .6 0 .6 0 .6 0 .6 0 .7 0 .6-3 .6 3 .6 0 .6 0 .6-1.5 .6 0 .6 0 .6 0 .6 0 .6-1.5 .6 1.5 .6 1.5 .7-1.5 .6 0 .6 0 .6 0 .6 0 .6 0 .6-3 .6 3 .6-1.5 .6 0 .6 0 .6 0 .6 1.5 .6-1.5 .7 0 .6-1.5 .6 0 .6-1.5 .6 0 .6 0 .6 1.5 .6-3 .6 0 .6 0 .6-1.5 .6 0 .6 0 .7-1.5 .6 0 .6-1.5 .6 0 .6 0 .6-1.5 .6-1.5 .6-1.5 .6 0 .6 0 .6-1.5 .6 0 .6-1.5 .6 0 .7-1.5 .6 1.5 .6 0 .6 0 .6 0 .6 0 .6 0 .6 0 .6 0 .6 0 .6 0 .6 1.5 .6 0 .7 1.5 .6 0 .6 1.5 .6 0 .6 0 .6 1.5 .6 0 .6-1.5 .6 3 .6 1.5 .6-3 .6 3 .6 0 .6 0 .7 1.5 .6-1.5 .6 1.5 .6 1.5 .6 0 .6 0 .6 0 .6 0 .6 0 .6 0 .6 0 .6 1.5 .6 1.5 .7-3 .6 1.5 .6-1.5 .6 0 .6 1.5 .6-1.5 .6 0 .6 0 .6 1.5 .6-1.5 .6 0 .6-1.5 .6 0 .6-1.5 .7 0 .6 0 .6-3 .6 0 .6 1.5 .6-1.5 .6-1.5 .6 1.5 .6-1.5 .6 0 .6-1.5 .6 0 .6 1.5 .7-3 .6 0 .6 1.5 .6 0 .6-1.5 .6 0 .6 0 .6 1.5 .6 0 .6 1.5 .6-1.5 .6 1.5 .6 0 .6 0 .7 0 .6 1.5 .6 0 .6 0 .6 1.5 .6 0 .6 1.5 .6 0 .6 1.5 .6 0 .6 1.5 .6 0 .6 0 .7 0 .6 0 .6 0 .6 1.5 .6-1.5 .6 1.5 .6 1.5 .6 0 .6-1.5 .6 0 .6 1.5 .6-1.5 .6 1.5 .6 3 .7-1.5 .6-1.5 .6 1.5 .6 0 .6 0 .6 0 .6 1.5 .6 1.5 .6-1.5 .6 0 .6 1.5 .6 0 .6 0 .7 0 .6 1.5 .6-1.5 .6 0 .6-1.5 .6 3 .6-1.5 .6 0 .6 1.5 .6 0 .6-1.5 .6 0 .6 0 .7 1.5 .6 1.5 .6-3 .6 1.5 .6 0 .6-1.5 .6 0 .6 1.5 .6-1.5 .6 0 .6 1.5 .6 0 .6-1.5 .6 0 .7 1.5 .6 0 .6 0 .6 0 .6 0 .6-1.5 .6 1.5 .6 0 .6-1.5 .6 1.5 .6 0 .6 0 .6 0 .7 0 .6 0 .6-1.5 .6 1.5 .6 0 .6-1.5 .6 1.5 .6 0 .6 0 .6-1.5 .6 1.5 .6-1.5 .6 1.5 .6-3 .7 1.5 .6 1.5 .6 0 .6-1.5 .6 0 .6 1.5 .6-1.5 .6 0 .6 0 .6 0 .6 1.5 .6-1.5 .6 0 .7 0 .6 1.5 .6 0 .6 0 .6 0 .6 0 .6 0 .6 0 .6 0 .6 0 .6 0 .6 0 .6 1.5 .6 0 .7-1.5 .6 0 .6 0 .6 0 .6 1.5 .6-1.5 .6 1.5 .6-1.5 .6 0 .6-1.5 .6 0 .6 0 .6 0 .7 0 .6 0 .6-1.5 .6 3 .6-1.5 .6 1.5 .6 0 .6-1.5 .6 3 .6-1.5 .6-1.5 .6 1.5 .6 0 .6 1.5 .7-3 .6 0 .6 1.5 .6 0 .6 0 .6 0 .6 1.5 .6-1.5 .6 1.5 .6-1.5 .6 0 .6 0 .6 1.5 .7 0 .6-1.5 .6 0 .6 0 .6 0 .6-1.5 .6 0 .6 1.5 .6-1.5 .6 0 .6 0 .6 0 .6 1.5 .6-1.5 .7 0 .6 0 .6 1.5 .6-1.5 .6 1.5 .6-1.5 .6 0 .6 0 .6-1.5 .6 1.5 .6 0 .6 0 .6 1.5 .7-3 .6 1.5 .6-1.5 .6 0 .6 0 .6-1.5 .6 1.5 .6 0 .6 0 .6-1.5 .6 0 .6 0 .6 1.5 .6-1.5 .7-1.5 .6 1.5 .6-1.5 .6 0 .6 0 .6 0 .6-1.5 .6 0 .6 0 .6 0 .6-3 .6 1.5 .6-1.5 .7 0 .6 0 .6-1.5 .6-1.5 .6 0 .6 0 .6-3 .6 0 .6 0 .6 0 .6-1.5 .6 0 .6-1.5 .7 0 .6 0 .6-1.5 .6 0 .6-1.5 .6 0 .6-1.5 .6 1.5 .6-1.5 .6 0 .6 1.5 .6-1.5 .6 1.5 .6 0 .7 0 .6 0 .6 1.5 .6 1.5 .6 1.5 .6-1.5 .6 1.5 .6 0 .6 1.5 .6 1.5 .6 0 .6 0 .6 1.5 .7-1.5 .6 1.5 .6 1.5 .6 0 .6 0 .6 0 .6 0 .6 1.5 .6-1.5 .6 3 .6 0 .6 1.5 .6 0 .6 0 .7 0 .6 1.5 .6 0 .6 1.5 .6-1.5 .6 1.5 .6 0 .6 1.5 .6 0 .6 0 .6 0 .6 0 .6 0 .7 1.5 .6 0 .6 0 .6 0 .6 0 .6 0 .6 1.5 .6-1.5 .6 0 .6 1.5 .6-1.5 .6 1.5 .6 0 .6 1.5 .7-1.5 .6 0 .6 1.5 .6 0 .6-1.5 .6 1.5 .6-1.5 .6 1.5 .6 0 .6 0 .6 0 .6 1.5 .6-1.5 .7-1.5 .6 1.5 .6 0 .6-1.5 .6 1.5 .6-1.5 .6 0 .6 1.5 .6 0 .6-1.5 .6 0 .6 1.5 .6-1.5 .6 1.5 .7 0 .6-1.5 .6 1.5 .6 0 .6 0 .6 0 .6-1.5 .6 1.5 .6 0 .6 0 .6 0 .6 0 .6 0 .7 0 .6 1.5 .6-1.5 .6-1.5 .6 1.5 .6 0 .6-1.5 .6 0 .6 0 .6 1.5 .6 1.5 .6-1.5 .6-1.5 .6 0 .7 1.5 .6-1.5 .6 0 .6 1.5 .6-1.5 .6 1.5 .6 0 .6 0 .6-1.5 .6 0 .6 1.5 .6-1.5 .6 1.5 .7 0 .6 0 .6 0 .6 0 .6-1.5 .6 1.5 .6 1.5 .6-1.5 .6-1.5 .6 1.5 .6 0 .6-1.5 .6 1.5 .6 0 .7-1.5 .6 0 .6 1.5 .6-1.5 .6 0 .6 0 .6 1.5 .6-1.5 .6-1.5 .6 1.5 .6 0 .6 1.5 .6-1.5 .7 1.5 .6-1.5 .6 0 .6 0 .6 1.5 .6-1.5 .6 1.5 .6-1.5 .6 1.5 .6 0 .6 0 .6 0 .6 0 .7 0 .6 1.5 .6-1.5 .6 1.5 .6 0 .6-1.5 .6 0 .6 0 .6 1.5 .6-1.5 .6 0 .6 1.5 .6 0 .6-1.5 .7 1.5 .6-1.5 .6 0 .6 1.5 .6-1.5 .6 1.5 .6 0 .6 0 .6-1.5 .6 0 .6 0 .6 1.5 .6 0 .7 0 .6 0 .6-1.5 .6 1.5 .6 0 .6-1.5 .6-1.5 .6 1.5 .6 0 .6 0 .6 0 .6 1.5 .6-1.5 .6 0 .7 1.5 .6-1.5 .6 0 .6 0 .6 0 .6 1.5 .6 0 .6 0 .6 0 .6 0 .6 0 .6 0 .6 0 .7 0 .6 1.5 .6-1.5 .6 0 .6 0 .6 1.5 .6 0 .6-3 .6 3 .6-1.5 .6 0 .6 0 .6 0 .6 0 .7 0 .6-1.5 .6 0 .6 1.5 .6-1.5 .6 0 .6 1.5 .6-1.5 .6 1.5 .6 0 .6 1.5 .6-1.5 .6 0 .7 0 .6 0 .6 0 .6 1.5" fill="none" stroke="#8762A5" stroke-width="21" stroke-linejoin="round" stroke-linecap="round" clip-path="url(#ca)"/>
<path d="M149.3 1378.5l.6-4.5 .6 0 .6-3 .6 7.5 .6 6 .6-3 .6 1.5 .6 3 .7-6 .6 10.5 .6-9 .6 3 .6 7.5 .6-9 .6 1.5 .6-3 .6 3 .6-7.5 .6 4.5 .6 6 .6-4.5 .6-1.5 .7 1.5 .6 0 .6-1.5 .6 1.5 .6-6 .6 6 .6-3 .6 4.5 .6-1.5 .6-3 .6 3 .6-1.5 .6 6 .7-3 .6 3 .6-4.5 .6 7.5 .6-4.5 .6 4.5 .6 0 .6-6 .6 4.5 .6-1.5 .6 3 .6 3 .6-1.5 .6 1.5 .7-6 .6 4.5 .6 0 .6 3 .6-4.5 .6 3 .6 0 .6-4.5 .6 1.5 .6 3 .6-3 .6 0 .6 6 .7-1.5 .6-1.5 .6 1.5 .6 0 .6 0 .6 0 .6 3 .6 3 .6-4.5 .6 1.5 .6 0 .6-3 .6 4.5 .6 1.5 .7-4.5 .6 4.5 .6-4.5 .6 4.5 .6 0 .6-4.5 .6-3 .6 3 .6-3 .6 0 .6 3 .6 4.5 .6-4.5 .7 0 .6-4.5 .6 3 .6-1.5 .6 4.5 .6-3 .6 1.5 .6 0 .6 0 .6 3 .6 0 .6-3 .6 1.5 .7 1.5 .6 3 .6-3 .6 3 .6-4.5 .6 0 .6-3 .6 6 .6-4.5 .6 1.5 .6 4.5 .6-3 .6 0 .6 4.5 .7-3 .6 3 .6-3 .6 3 .6 0 .6-1.5 .6 3 .6-4.5 .6 0 .6 0 .6 3 .6-3 .6 0 .7 1.5 .6 4.5 .6-4.5 .6-1.5 .6 4.5 .6 3 .6-3 .6 3 .6-4.5 .6 6 .6 0 .6 1.5 .6-1.5 .6 1.5 .7-6 .6 4.5 .6-7.5 .6 3 .6 3 .6-1.5 .6-7.5 .6 6 .6-3 .6 0 .6 1.5 .6 0 .6 3 .7-6 .6 3 .6 0 .6-3 .6 7.5 .6 3 .6-6 .6 3 .6-1.5 .6 1.5 .6-1.5 .6 3 .6-4.5 .6 7.5 .7-3 .6 4.5 .6-9 .6 4.5 .6-3 .6 3 .6 1.5 .6-3 .6-1.5 .6 0 .6 4.5 .6 3 .6 0 .7-3 .6-1.5 .6 1.5 .6-3 .6 0 .6 6 .6-3 .6 0 .6-1.5 .6 4.5 .6 0 .6-4.5 .6 0 .6 0 .7 4.5 .6 0 .6-3 .6 7.5 .6-6 .6-3 .6-1.5 .6 4.5 .6 1.5 .6-1.5 .6 3 .6 1.5 .6-3 .7 1.5 .6 3 .6-3 .6-3 .6 3 .6 0 .6 3 .6-6 .6-3 .6 4.5 .6 0 .6-1.5 .6 1.5 .6 0 .7 1.5 .6-4.5 .6 1.5 .6 1.5 .6 0 .6 4.5 .6-1.5 .6-1.5 .6 3 .6-3 .6 1.5 .6-1.5 .6-1.5 .7-1.5 .6 0 .6-3 .6 1.5 .6 3 .6-1.5 .6-3 .6 7.5 .6-7.5 .6 4.5 .6 0 .6 1.5 .6-4.5 .6 3 .7 0 .6 3 .6-1.5 .6 1.5 .6 0 .6 3 .6-1.5 .6 0 .6-3 .6 3 .6-4.5 .6 6 .6-1.5 .7-3 .6 0 .6 1.5 .6 0 .6-1.5 .6 1.5 .6 0 .6-1.5 .6 1.5 .6 0 .6 3 .6-1.5 .6-3 .7 4.5 .6-1.5 .6-3 .6 3 .6-4.5 .6 0 .6 0 .6 6 .6-3 .6 1.5 .6 0 .6 0 .6 3 .6 0 .7 4.5 .6-6 .6 6 .6-1.5 .6-6 .6 6 .6 1.5 .6-1.5 .6-1.5 .6 0 .6-6 .6 6 .6-1.5 .7-3 .6 3 .6-3 .6 6 .6-7.5 .6 0 .6-3 .6 3 .6 1.5 .6-1.5 .6-1.5 .6 3 .6-1.5 .6 1.5 .7-3 .6-3 .6 3 .6-1.5 .6 4.5 .6-3 .6 0 .6 1.5 .6-3 .6 3 .6 3 .6-3 .6 1.5 .7 0 .6-1.5 .6 1.5 .6 1.5 .6-1.5 .6 1.5 .6 0 .6-1.5 .6 0 .6 7.5 .6 0 .6-3 .6 1.5 .6 1.5 .7 0 .6-3 .6-3 .6 0 .6 3 .6 3 .6 0 .6-4.5 .6 0 .6 3 .6 1.5 .6-7.5 .6 3 .7 0 .6-1.5 .6 0 .6 0 .6 0 .6-3 .6 3 .6 1.5 .6 0 .6 0 .6-1.5 .6 0 .6 4.5 .6-4.5 .7 0 .6 3 .6-3 .6-3 .6 1.5 .6 0 .6 0 .6 0 .6 1.5 .6 0 .6-1.5 .6-1.5 .6 3 .7 0 .6 3 .6-6 .6 1.5 .6 3 .6-4.5 .6 3 .6 0 .6 0 .6-1.5 .6 3 .6-3 .6 6 .6-3 .7 1.5 .6 0 .6 0 .6 0 .6 0 .6-1.5 .6 0 .6-3 .6 0 .6 0 .6 0 .6-1.5 .6 1.5 .7 3 .6 0 .6-1.5 .6 1.5 .6 0 .6 4.5 .6-9 .6 4.5 .6-3 .6 4.5 .6-3 .6 1.5 .6 0 .6 1.5 .7-7.5 .6 3 .6 3 .6-3 .6 4.5 .6 0 .6-4.5 .6 1.5 .6 3 .6 3 .6-1.5 .6-1.5 .6-3 .7 1.5 .6 1.5 .6-3 .6 3 .6-1.5 .6-1.5 .6 6 .6-4.5 .6 3 .6-4.5 .6 1.5 .6-3 .6 1.5 .7 4.5 .6-3 .6-4.5 .6 7.5 .6-4.5 .6 1.5 .6 1.5 .6-4.5 .6 7.5 .6 0 .6-4.5 .6 1.5 .6 0 .6-1.5 .7 1.5 .6-3 .6 3 .6-1.5 .6 6 .6-7.5 .6 6 .6-1.5 .6-1.5 .6-1.5 .6 4.5 .6 0 .6-3 .7 0 .6 0 .6 3 .6-4.5 .6 1.5 .6 3 .6-4.5 .6 1.5 .6 3 .6-3 .6 1.5 .6-3 .6 4.5 .6-3 .7 1.5 .6 1.5 .6-1.5 .6 3 .6 0 .6-1.5 .6 1.5 .6-3 .6-4.5 .6 6 .6-1.5 .6-3 .6 0 .7 3 .6-3 .6 0 .6 0 .6 4.5 .6-6 .6-3 .6 4.5 .6-1.5 .6-1.5 .6 4.5 .6-1.5 .6 3 .6-1.5 .7 3 .6-1.5 .6-1.5 .6 1.5 .6 3 .6-3 .6-4.5 .6 3 .6 0 .6 3 .6-3 .6 3 .6-3 .7 0 .6 0 .6 0 .6 0 .6 0 .6-1.5 .6-1.5 .6 1.5 .6 1.5 .6-1.5 .6 1.5 .6 0 .6 1.5 .6-6 .7 7.5 .6-9 .6 1.5 .6 3 .6-1.5 .6 1.5 .6-1.5 .6-1.5 .6 0 .6 1.5 .6 1.5 .6 1.5 .6-1.5 .7-1.5 .6 3 .6-6 .6 4.5 .6 3 .6 0 .6 0 .6 0 .6 0 .6-3 .6-4.5 .6 3 .6 0 .6 3 .7-3 .6-1.5 .6 1.5 .6-3 .6 1.5 .6 0 .6-1.5 .6 0 .6-3 .6 0 .6 3 .6 3 .6-3 .7 0 .6 0 .6 3 .6-3 .6 3 .6-1.5 .6 1.5 .6-1.5 .6 1.5 .6 3 .6-3 .6 0 .6-4.5 .6 6 .7-3 .6 1.5 .6 0 .6-1.5 .6 0 .6-1.5 .6 6 .6-1.5 .6 0 .6 0 .6 0 .6 0 .6 0 .7 3 .6-7.5 .6 3 .6-1.5 .6 1.5 .6-4.5 .6 1.5 .6 4.5 .6-4.5 .6 3 .6-1.5 .6 1.5 .6-3 .7 1.5 .6 0 .6 3 .6-3 .6 4.5 .6-1.5 .6 1.5 .6 3 .6-3 .6 0 .6 0 .6 1.5 .6-1.5 .6 3 .7-3 .6-1.5 .6 0 .6 0 .6 1.5 .6 0 .6-3 .6-1.5 .6 1.5 .6-4.5 .6 6 .6-1.5 .6-1.5 .7 1.5 .6-4.5 .6 4.5 .6-3 .6-1.5 .6 4.5 .6-6 .6 3 .6-3 .6 0 .6 0 .6-1.5 .6 4.5 .6-1.5 .7-3 .6 6 .6-4.5 .6-1.5 .6 1.5 .6-3 .6 4.5 .6-4.5 .6 0 .6 4.5 .6-4.5 .6 1.5 .6-3 .7 1.5 .6 1.5 .6-4.5 .6 3 .6-1.5 .6 4.5 .6 0 .6-3 .6 0 .6 1.5 .6 0 .6-4.5 .6 0 .6 0 .7-1.5 .6 1.5 .6 0 .6-1.5 .6 1.5 .6 1.5 .6-3 .6 0 .6-1.5 .6-1.5 .6 0 .6-3 .6 3 .7 0 .6-3 .6 0 .6-3 .6 0 .6 0 .6-1.5 .6-1.5 .6-3 .6-1.5 .6 0 .6 1.5 .6-6 .6-3 .7-1.5 .6 0 .6 0 .6-3 .6-4.5 .6-3 .6-1.5 .6-3 .6-4.5 .6 0 .6-4.5 .6-3 .6-4.5 .7-3 .6-6 .6-4.5 .6-3 .6-7.5 .6-4.5 .6-12 .6-6 .6-10.5 .6-10.5 .6-7.5 .6-7.5 .6-15 .6-12 .7-18 .6-10.5 .6-18 .6-15 .6-16.5 .6-19.5 .6-16.5 .6-22.5 .6-19.5 .6-21 .6-18 .6-18 .6-21 .7-12 .6-12 .6-6 .6-13.5 .6 3 .6 3 .6 7.5 .6 7.5 .6 10.5 .6 18 .6 13.5 .6 19.5 .6 19.5 .6 19.5 .7 24 .6 13.5 .6 19.5 .6 24 .6 16.5 .6 18 .6 13.5 .6 16.5 .6 13.5 .6 12 .6 12 .6 12 .6 10.5 .7 9 .6 12 .6 6 .6 6 .6 4.5 .6 9 .6 3 .6 6 .6 4.5 .6 6 .6 4.5 .6-1.5 .6 12 .7 1.5 .6 1.5 .6 1.5 .6 6 .6 0 .6 6 .6-1.5 .6 0 .6 1.5 .6 3 .6 3 .6-1.5 .6 4.5 .6 1.5 .7-1.5 .6 4.5 .6-4.5 .6 0 .6 6 .6 0 .6 1.5 .6 0 .6-1.5 .6 4.5 .6-1.5 .6 3 .6 0 .7-1.5 .6 3 .6 1.5 .6 0 .6-1.5 .6 0 .6 3 .6 0 .6 0 .6 3 .6 0 .6 0 .6 0 .6 3 .7-4.5 .6 3 .6 0 .6-1.5 .6 0 .6 3 .6-1.5 .6-1.5 .6 4.5 .6-3 .6 0 .6 3 .6-6 .7 1.5 .6-1.5 .6 3 .6-3 .6 4.5 .6-4.5 .6 0 .6 0 .6-3 .6-1.5 .6-1.5 .6-1.5 .6-3 .6-1.5 .7-3 .6-3 .6-3 .6 0 .6 0 .6-1.5 .6-1.5 .6 1.5 .6 6 .6 4.5 .6 3 .6 0 .6 4.5 .7 1.5 .6 4.5 .6 1.5 .6 1.5 .6 0 .6 4.5 .6-1.5 .6 1.5 .6 0 .6 1.5 .6 0 .6-1.5 .6 0 .6 1.5 .7-4.5 .6 4.5 .6 0 .6 1.5 .6 0 .6-1.5 .6-1.5 .6 3 .6-1.5 .6 1.5 .6 0 .6-1.5 .6 1.5 .7-1.5 .6 1.5 .6 0 .6 1.5 .6-1.5 .6 1.5 .6-3 .6-1.5 .6 3 .6-3 .6 3 .6 0 .6 0 .6 0 .7 0 .6 3 .6-1.5 .6-3 .6 3 .6 3 .6 0 .6 0 .6 0 .6-1.5 .6 3 .6-3 .6 0 .7-3 .6 6 .6-3 .6-3 .6 4.5 .6 0 .6-4.5 .6 4.5 .6-1.5 .6 1.5 .6 0 .6-1.5 .6 3 .6-3 .7 0 .6 1.5 .6-1.5 .6 0 .6 1.5 .6-3 .6 0 .6 1.5 .6 0 .6-1.5 .6 3 .6-3 .6 3 .7-3 .6 3 .6-3 .6 3 .6-1.5 .6 0 .6 1.5 .6 0 .6 1.5 .6-3 .6 3 .6-1.5 .6 0 .7 0 .6-1.5 .6 3 .6 0 .6 0 .6-3 .6 1.5 .6 3 .6 0 .6-3 .6 0 .6 1.5 .6 1.5 .6 0 .7-1.5 .6 0 .6 0 .6 1.5 .6 1.5 .6-3 .6 1.5 .6-1.5 .6 0 .6 0 .6 1.5 .6 3 .6 0 .7 0 .6-1.5 .6 1.5 .6-3 .6-1.5 .6 1.5 .6 0 .6-1.5 .6 1.5 .6 3 .6-3 .6 0 .6-1.5 .6 3 .7 0 .6-1.5 .6 0 .6-3 .6 0 .6 1.5 .6 0 .6 0 .6 0 .6 3 .6-1.5 .6-3 .6 3 .7-1.5 .6 0 .6 0 .6 0 .6 3 .6-4.5 .6 1.5 .6 0 .6-1.5 .6 1.5 .6-1.5 .6 1.5 .6 1.5 .6 1.5 .7-3 .6 0 .6 1.5 .6 1.5 .6-3 .6 1.5 .6 0 .6 0 .6-1.5 .6 0 .6 0 .6 0 .6 1.5 .7-1.5 .6 0 .6 1.5 .6-1.5 .6 1.5 .6-1.5 .6 4.5 .6-3 .6 0 .6-1.5 .6 3 .6 0 .6 0 .6 0 .7 0 .6 3 .6-3 .6-1.5 .6 1.5 .6 1.5 .6-1.5 .6 0 .6 0 .6-1.5 .6 1.5 .6 1.5 .6-1.5 .7-1.5 .6-1.5 .6 1.5 .6-1.5 .6 0 .6 1.5 .6 0 .6 1.5 .6-1.5 .6-1.5 .6 1.5 .6 0 .6 0 .6-3 .7 1.5 .6 0 .6 3 .6-1.5 .6-3 .6 1.5 .6 1.5 .6-3 .6 1.5 .6 1.5 .6 0 .6 0 .6 1.5 .7-1.5 .6-1.5 .6 3 .6 0 .6-3 .6 0 .6-1.5 .6 4.5 .6-3 .6 1.5 .6 0 .6 1.5 .6-1.5 .6-1.5 .7 1.5 .6 1.5 .6-3 .6 1.5 .6-1.5 .6 3 .6-3 .6 3 .6 0 .6-1.5 .6 1.5 .6-3 .6 1.5 .7-1.5 .6 0 .6 0 .6 4.5 .6-3 .6 1.5 .6-3 .6 4.5 .6-3 .6 0 .6 0 .6-1.5 .6 0 .7 3 .6-1.5 .6 1.5 .6 3 .6-3 .6 3 .6-3 .6-1.5 .6 1.5 .6 0 .6 0 .6-3 .6 0 .6 1.5 .7 1.5 .6 0 .6-3 .6 0 .6 1.5 .6 0 .6 0 .6 0 .6 0 .6-3 .6 1.5 .6 1.5 .6-1.5 .7 4.5 .6-3 .6 1.5 .6 1.5 .6 0 .6-3 .6 1.5 .6 3 .6-3 .6 1.5 .6-4.5 .6 4.5 .6 0 .6-1.5 .7-1.5 .6 1.5 .6 0 .6 0 .6-1.5 .6 3 .6 0 .6-1.5 .6 1.5 .6-3 .6 1.5 .6 1.5 .6-1.5 .7 0 .6 0 .6-1.5 .6 0 .6 0 .6 0 .6 0 .6 0 .6-1.5 .6 1.5 .6 0 .6-1.5 .6 3 .6-3 .7 0 .6 0 .6 0 .6 0 .6 0 .6 1.5 .6 0 .6 3 .6-3 .6 0 .6 0 .6 1.5 .6 0 .7 0 .6 0 .6 1.5 .6-3 .6 1.5 .6-1.5 .6 0 .6 0 .6 1.5 .6 0 .6 0 .6-1.5 .6 1.5 .6-1.5 .7-1.5 .6 3 .6 0 .6-3 .6 1.5 .6 1.5 .6 0 .6-1.5 .6 0 .6 0 .6-1.5 .6 1.5 .6-1.5 .7 1.5 .6-1.5 .6 1.5 .6-1.5 .6 0 .6 0 .6 0 .6 1.5 .6-3 .6 0 .6 0 .6 1.5 .6-1.5 .6 3 .7-3 .6 0 .6 0 .6 0 .6-1.5 .6 1.5 .6 1.5 .6-3 .6 1.5 .6 0 .6 1.5 .6-3 .6 0 .7-1.5 .6 0 .6-1.5 .6-1.5 .6 0 .6 0 .6-3 .6 0 .6-1.5 .6 0 .6-4.5 .6-1.5 .6 0 .6 0 .7-4.5 .6-3 .6 3 .6-3 .6-1.5 .6 3 .6 0 .6-3 .6 1.5 .6 1.5 .6 1.5 .6 3 .6 0 .7 3 .6-1.5 .6 0 .6 1.5 .6 1.5 .6 1.5 .6 0 .6 3 .6 0 .6 1.5 .6-3 .6 0 .6 0 .7 1.5 .6-1.5 .6 1.5 .6 0 .6-1.5 .6-1.5 .6 1.5 .6-3 .6-1.5 .6 1.5 .6 0 .6-3 .6-3 .6 1.5 .7 0 .6-3 .6-1.5 .6-3 .6 0 .6-1.5 .6 0 .6-3 .6 0 .6-4.5 .6 0 .6-1.5 .6 0 .7-3 .6-3 .6 3 .6-6 .6-1.5 .6 0 .6-3 .6 1.5 .6-1.5 .6 0 .6 0 .6 0 .6 1.5 .6-1.5 .7 0 .6 1.5 .6 0 .6 0 .6-1.5 .6 1.5 .6-1.5 .6-1.5 .6 1.5 .6 0 .6 0 .6-3 .6 1.5 .7 0 .6-1.5 .6-3 .6-1.5 .6 1.5 .6-3 .6 1.5 .6-4.5 .6 0 .6 1.5 .6-1.5 .6 1.5 .6-1.5 .6 0 .7 1.5 .6 1.5 .6 0 .6 0 .6 0 .6 3 .6-1.5 .6 1.5 .6 1.5 .6 6 .6 0 .6 0 .6 0 .7 1.5 .6 0 .6 3 .6 1.5 .6 0 .6 0 .6 1.5 .6 1.5 .6 1.5 .6 0 .6 0 .6 3 .6-3 .6 3 .7-1.5 .6 0 .6 0 .6 1.5 .6 1.5 .6-3 .6 1.5 .6 1.5 .6-1.5 .6 1.5 .6 3 .6-1.5 .6 1.5 .7 1.5 .6 1.5 .6 1.5 .6 1.5 .6 3 .6 0 .6 1.5 .6 0 .6 1.5 .6 1.5 .6 3 .6 0 .6 1.5 .6 0 .7 0 .6 3 .6 0 .6-1.5 .6 3 .6 0 .6 3 .6-1.5 .6 1.5 .6 0 .6 1.5 .6-1.5 .6 1.5 .7 0 .6-1.5 .6 1.5 .6 0 .6 0 .6 1.5 .6-1.5 .6 1.5 .6 1.5 .6-1.5 .6 1.5 .6-1.5 .6 1.5 .6-1.5 .7 1.5 .6 1.5 .6 3 .6 0 .6-3 .6 1.5 .6 0 .6 3 .6 0 .6-1.5 .6 1.5 .6 0 .6-1.5 .7 1.5 .6 0 .6 0 .6-3 .6 1.5 .6-3 .6 3 .6-1.5 .6 3 .6-1.5 .6-3 .6 3 .6-1.5 .7 1.5 .6-1.5 .6 0 .6 0 .6 0 .6 3 .6-1.5 .6-1.5 .6 1.5 .6 0 .6 0 .6-1.5 .6 1.5 .6-1.5 .7 0 .6 1.5 .6 0 .6 0 .6-1.5 .6 3 .6-3 .6-3 .6 4.5 .6-1.5 .6-1.5 .6 3 .6 0 .7-1.5 .6 0 .6 1.5 .6 1.5 .6-3 .6 3 .6-1.5 .6 0 .6 1.5 .6-1.5 .6 1.5 .6-1.5 .6-3 .6 4.5 .7 0 .6 0 .6 1.5 .6-1.5 .6 1.5 .6 0 .6 0 .6-1.5 .6 1.5 .6 0 .6 3 .6-3 .6 1.5 .7 0 .6-1.5 .6 0 .6 1.5 .6 0 .6 0 .6-1.5 .6-1.5 .6 1.5 .6-1.5 .6 3 .6-3 .6 0 .6 3 .7-1.5 .6-3 .6 3 .6-1.5 .6-1.5 .6 1.5 .6-1.5 .6 3 .6-1.5 .6 0 .6 1.5 .6 0 .6 0 .7 0 .6 0 .6 0 .6 0 .6 1.5 .6-1.5 .6 0 .6 1.5 .6-3 .6 3 .6 1.5 .6 0 .6-1.5 .6 1.5 .7-3 .6 3 .6-1.5 .6 1.5 .6-1.5 .6 0 .6 0 .6 0 .6 0 .6 1.5 .6-3 .6 0 .6 1.5 .7 1.5 .6-3 .6 0 .6-1.5 .6 1.5 .6 0 .6 0 .6 0 .6-1.5 .6 1.5 .6 0 .6-1.5 .6 0 .6 0 .7 0 .6 1.5 .6 0 .6-3 .6 3 .6-1.5 .6 0 .6-1.5 .6 1.5 .6 0 .6 3 .6-3 .6 0 .7 1.5 .6 0 .6-1.5 .6 4.5 .6-3 .6-1.5 .6 1.5 .6 0 .6 0 .6 0 .6 0 .6-1.5 .6 3 .6-1.5 .7-1.5 .6 1.5 .6 1.5 .6-3 .6 0 .6 1.5 .6-1.5 .6 0 .6 1.5 .6 0 .6-3 .6 4.5 .6 0 .7-3 .6 3 .6-3 .6 3 .6-1.5 .6 1.5 .6-1.5 .6 1.5 .6-3 .6 3 .6 0 .6-1.5 .6 1.5 .7-1.5 .6 3 .6-1.5 .6 1.5 .6-3 .6 1.5 .6-3 .6 1.5 .6 0 .6-1.5 .6 3 .6-1.5 .6 0 .6-1.5 .7 0 .6 1.5 .6-3 .6 1.5 .6 0 .6-1.5 .6 1.5 .6-1.5 .6 1.5 .6-1.5 .6 3 .6-4.5 .6 3 .7-3 .6 3 .6-1.5 .6-1.5 .6 3 .6-1.5 .6 0 .6 0 .6 1.5 .6-1.5 .6 1.5 .6-1.5 .6 0 .6 1.5 .7 1.5 .6-1.5 .6 0 .6 0 .6 0 .6-1.5 .6 4.5 .6-4.5 .6 0 .6 1.5 .6 0 .6 0 .6 0 .7 0 .6 1.5 .6-1.5 .6 0 .6 1.5 .6 0 .6-1.5 .6 3 .6-1.5 .6 1.5 .6 0 .6-3 .6 3 .6-3 .7 0 .6 1.5 .6-1.5 .6 1.5 .6 0 .6 0 .6 1.5 .6-3 .6 1.5 .6 0 .6 1.5 .6-1.5 .6-3 .7 3 .6-1.5 .6 1.5 .6 0 .6 0 .6-1.5 .6 1.5 .6 0 .6 0 .6 0 .6-1.5 .6 1.5 .6 1.5 .6-1.5 .7 0 .6 0 .6 1.5 .6-1.5 .6-1.5 .6 1.5 .6 0 .6-1.5 .6 0 .6 0 .6-1.5 .6 3 .6-3 .7 1.5 .6-3 .6 1.5 .6-1.5 .6 3 .6-1.5 .6 1.5 .6 0 .6-3 .6 1.5 .6 0 .6 0 .6 0 .6 0 .7 1.5 .6 0 .6 1.5 .6-1.5 .6 1.5 .6 0 .6 0 .6 0 .6 0 .6 0 .6-1.5 .6-1.5 .6 1.5 .7 1.5 .6 0 .6-1.5 .6 3 .6-1.5 .6 1.5 .6-1.5 .6 0 .6 1.5 .6 0 .6 1.5 .6-1.5 .6 1.5 .6 0 .7-1.5 .6 1.5 .6-1.5 .6 0 .6-1.5 .6 0 .6 0 .6 0 .6-1.5 .6-1.5 .6 1.5 .6 3 .6-3 .7-1.5 .6 0 .6 1.5 .6 0 .6-1.5 .6 1.5 .6-1.5 .6-1.5 .6 1.5 .6-1.5 .6 1.5 .6-1.5 .6-3 .7 0 .6 1.5 .6 0 .6 1.5 .6-1.5 .6 1.5 .6-1.5 .6-1.5 .6-1.5 .6 3 .6-1.5 .6 0 .6-3 .6 1.5 .7-3 .6 1.5 .6-1.5 .6-1.5 .6-3 .6 3 .6-3 .6-1.5 .6-1.5 .6-1.5 .6-3 .6 1.5 .6-3 .7-1.5 .6-4.5 .6 0 .6-3 .6-1.5 .6-4.5 .6-4.5 .6-1.5 .6-3 .6-1.5 .6-4.5 .6-6 .6-3 .6-4.5 .7-3 .6-1.5 .6-9 .6-4.5 .6-3 .6-3 .6-3 .6-3 .6-4.5 .6 0 .6 0 .6 0 .6 0 .7 0 .6 4.5 .6 1.5 .6 1.5 .6 4.5 .6 4.5 .6 4.5 .6 3 .6 4.5 .6 4.5 .6 4.5 .6 4.5 .6 1.5 .6 6 .7 1.5 .6 4.5 .6 3 .6 1.5 .6 4.5 .6 3 .6 3 .6 1.5 .6 3 .6 1.5 .6 1.5 .6 3 .6 4.5 .7-3 .6 1.5 .6 1.5 .6 0 .6 1.5 .6 0 .6 3 .6-1.5 .6 1.5 .6 0 .6 1.5 .6 0 .6 0 .6 0 .7 1.5 .6 1.5 .6 0 .6 1.5 .6 0 .6 0 .6 0 .6 1.5 .6 1.5 .6-3 .6 1.5 .6 0 .6 0 .7 0 .6-1.5 .6 3 .6 0 .6 0 .6 0 .6-1.5 .6 1.5 .6-1.5 .6 1.5 .6 1.5 .6 0 .6-1.5 .6 1.5 .7 1.5 .6-1.5 .6 0 .6-1.5 .6 1.5 .6 0 .6 0 .6 1.5 .6 0 .6-3 .6 1.5 .6-1.5 .6 0 .7 1.5 .6-1.5 .6 0 .6 1.5 .6-1.5 .6-1.5 .6 1.5 .6 1.5 .6 0 .6-1.5 .6 1.5 .6-1.5 .6 1.5 .6 0 .7-1.5 .6 1.5 .6 1.5 .6-1.5 .6 1.5 .6 0 .6 0 .6-1.5 .6 3 .6-1.5 .6 1.5 .6 0 .6-1.5 .7-1.5 .6 0 .6 3 .6-1.5 .6 0 .6 0 .6-1.5 .6 0 .6 0 .6 0 .6 0 .6 0 .6 3 .7-4.5 .6 3 .6-1.5 .6 0 .6 1.5 .6 1.5 .6-3 .6 1.5 .6-1.5 .6 3 .6 0 .6 0 .6 0 .6 0 .7 1.5 .6-1.5 .6-1.5 .6 1.5 .6 1.5 .6-1.5 .6 3 .6-3 .6 0 .6 0 .6-1.5 .6 0 .6 1.5 .7-1.5 .6 1.5 .6 0 .6-1.5 .6 0 .6 0 .6 0 .6-1.5 .6 0 .6 1.5 .6-1.5 .6 0 .6 0 .6 1.5 .7-1.5 .6 0 .6 0 .6 0 .6-1.5 .6 1.5 .6 0 .6 0 .6 0 .6 0 .6 0 .6 0 .6 0 .7 0 .6-1.5 .6 0 .6 3 .6-1.5 .6 1.5 .6-1.5 .6 0 .6 1.5 .6 0 .6-1.5 .6 1.5 .6-1.5 .6 0 .7 0 .6 0 .6 0 .6 1.5 .6-1.5 .6 3 .6-1.5 .6 0 .6-1.5 .6 1.5 .6 0 .6-1.5 .6 1.5 .7 0 .6 0 .6-1.5 .6 1.5 .6-1.5 .6 1.5 .6-1.5 .6 0 .6 0 .6 0 .6 1.5 .6-1.5 .6 1.5 .6-3 .7 1.5 .6 0 .6 0 .6-1.5 .6 0 .6 1.5 .6-1.5 .6-1.5 .6 0 .6 1.5 .6 0 .6-1.5 .6 1.5 .7-1.5 .6 0 .6 0 .6 0 .6 1.5 .6-1.5 .6 0 .6 0 .6-3 .6 3 .6 0 .6-1.5 .6 0 .6-1.5 .7 1.5 .6 0 .6 0 .6 0 .6 0 .6-1.5 .6-1.5 .6 1.5 .6 0 .6 0 .6-1.5 .6 0 .6 0 .7-1.5 .6 0 .6 0 .6 0 .6-1.5 .6 0 .6 0 .6 0 .6-1.5 .6 0 .6-1.5 .6-1.5 .6-1.5 .6 0 .7 1.5 .6-3 .6 0 .6-1.5 .6 0 .6-3 .6-3 .6-1.5 .6 1.5 .6-3 .6-4.5 .6 1.5 .6-3 .7-1.5 .6-3 .6-1.5 .6-1.5 .6-3 .6-3 .6-1.5 .6-3 .6-1.5 .6-1.5 .6-1.5 .6-3 .6-1.5 .7-1.5 .6 0 .6-1.5 .6-3 .6 1.5 .6-1.5 .6 1.5 .6-1.5 .6 1.5 .6 1.5 .6 0 .6 1.5 .6 1.5 .6 1.5 .7 3 .6 1.5 .6 1.5 .6 0 .6 3 .6 1.5 .6 0 .6 1.5 .6 1.5 .6 3 .6-1.5 .6 1.5 .6 1.5 .7-1.5 .6 0 .6 1.5 .6 0 .6-1.5 .6 1.5 .6-1.5 .6 0 .6 0 .6-1.5 .6-3 .6 0 .6-1.5 .6-3 .7-3 .6 0 .6-1.5 .6-1.5 .6-3 .6 0 .6-1.5 .6-3 .6 0 .6-3 .6 0 .6 1.5 .6 0 .7 1.5 .6 1.5 .6 0 .6 4.5 .6 0 .6 3 .6 0 .6 3 .6 3 .6 3 .6 3 .6 3 .6 3 .6 0 .7 4.5 .6 0 .6 4.5 .6 1.5 .6 0 .6 3 .6 1.5 .6 3 .6 0 .6 0 .6 1.5 .6 3 .6 1.5 .7 0 .6 1.5 .6 1.5 .6 0 .6 1.5 .6-1.5 .6 1.5 .6 0 .6 1.5 .6-1.5 .6 4.5 .6 0 .6 0 .6-3 .7 3 .6 0 .6 1.5 .6-1.5 .6 1.5 .6-1.5 .6 3 .6 0 .6 0 .6-1.5 .6 1.5 .6 0 .6 1.5 .7-1.5 .6 1.5 .6 0 .6 0 .6 0 .6-1.5 .6 3 .6-1.5 .6 0 .6 1.5 .6-1.5 .6 1.5 .6 0 .6-1.5 .7 1.5 .6-1.5 .6 0 .6 0 .6 0 .6 0 .6 1.5 .6-1.5 .6 0 .6 3 .6 0 .6-1.5 .6 0 .7 1.5 .6 0 .6 0 .6 0 .6-1.5 .6 0 .6 0 .6 0 .6 0 .6 1.5 .6 0 .6 0 .6-1.5 .6 1.5 .7-1.5 .6 1.5 .6 0 .6 1.5 .6-1.5 .6 0 .6 0 .6 0 .6 1.5 .6-1.5 .6 1.5 .6-1.5 .6 1.5 .7-1.5 .6 1.5 .6-3 .6 1.5 .6 1.5 .6-1.5 .6-1.5 .6 1.5 .6-1.5 .6 0 .6 1.5 .6 0 .6 1.5 .7-1.5 .6 0 .6 1.5 .6-1.5 .6 0 .6 0 .6 1.5 .6 1.5 .6 0 .6-1.5 .6-1.5 .6 3 .6-1.5 .6 0 .7 1.5 .6-1.5 .6 0 .6 1.5 .6-1.5 .6 1.5 .6-3 .6 1.5 .6 0 .6 0 .6 0 .6-1.5 .6 0 .7 1.5 .6-1.5 .6 1.5 .6 0 .6-3 .6 0 .6 3 .6 0 .6-1.5 .6 0 .6 0 .6 0 .6-1.5 .6 3 .7-1.5 .6 0 .6 1.5 .6 0 .6 0 .6 0 .6 1.5 .6-1.5 .6 0 .6 0 .6 0 .6 0 .6-1.5 .7 1.5 .6 0 .6 0 .6-1.5 .6 0 .6 0 .6 3 .6-1.5 .6 0 .6 0 .6-1.5 .6 0 .6 1.5 .6 1.5 .7-1.5 .6 0 .6 0 .6 0 .6 0 .6 0 .6 0 .6 0 .6 0 .6 0 .6 0 .6-1.5 .6 1.5 .7 0 .6 0 .6 0 .6-1.5 .6 0 .6 1.5 .6 0 .6 0 .6-1.5 .6 1.5 .6-3 .6 3 .6 0 .6-1.5 .7 1.5 .6-1.5 .6 1.5 .6 0 .6 0 .6 0 .6-1.5 .6 3 .6-4.5 .6 1.5 .6 1.5 .6 0 .6 0 .7-1.5 .6-1.5 .6 1.5 .6-1.5 .6 1.5 .6-1.5 .6 0 .6 1.5 .6-1.5 .6 1.5 .6 0 .6 0 .6 1.5 .6-3 .7 1.5 .6 0 .6 1.5 .6-1.5 .6 0 .6 0 .6 1.5 .6-1.5 .6 1.5 .6 0 .6 0 .6 0 .6 0 .7-1.5 .6 1.5 .6 0 .6 0 .6 0 .6 0 .6-1.5 .6 0 .6 0 .6 0 .6 0 .6 1.5 .6-1.5 .6 0 .7 0 .6 0 .6 0 .6 0 .6-1.5 .6 0 .6 1.5 .6 0 .6 0 .6 0 .6-1.5 .6 0 .6 0 .7 0 .6 1.5 .6-1.5 .6 0 .6 1.5 .6 0 .6 0 .6 0 .6-1.5 .6 1.5 .6-1.5 .6 1.5 .6 0 .7 0 .6 0 .6 0 .6 0 .6-1.5 .6 0 .6 1.5 .6 0 .6-1.5 .6 1.5 .6-1.5 .6 1.5 .6-1.5 .6 1.5 .7-1.5 .6-1.5 .6 1.5 .6 0 .6-1.5 .6 0 .6 1.5 .6 0 .6 0 .6 0 .6-1.5 .6 0 .6 0 .7 0 .6 0 .6-1.5 .6 1.5 .6 0 .6 0 .6-1.5 .6 3 .6-1.5 .6 0 .6 0 .6-1.5 .6 0 .6 0 .7 0 .6 0 .6-1.5 .6 0 .6 0 .6-1.5 .6-1.5 .6 0 .6 1.5 .6-1.5 .6-3 .6 0 .6-1.5 .7 1.5 .6-3 .6 1.5 .6-1.5 .6-1.5 .6-1.5 .6-1.5 .6 1.5 .6-1.5 .6-1.5 .6 0 .6-1.5 .6-3 .6 0 .7 0 .6-3 .6 0 .6-1.5 .6 0 .6-3 .6 0 .6-1.5 .6 0 .6-1.5 .6-1.5 .6-1.5 .6 0 .7-1.5 .6 1.5 .6-1.5 .6 0 .6 0 .6 0 .6 0 .6 0 .6 0 .6 3 .6 0 .6 1.5 .6 0 .6 3 .7 0 .6 0 .6 3 .6 0 .6 1.5 .6 1.5 .6 0 .6 1.5 .6 1.5 .6 1.5 .6 1.5 .6 0 .6 0 .7 3 .6 0 .6 1.5 .6 0 .6 0 .6 3 .6-1.5 .6 1.5 .6 1.5 .6 1.5 .6-1.5 .6 1.5 .6 1.5 .6 0 .7 0 .6 1.5 .6 0 .6 0 .6 0 .6 1.5 .6-1.5 .6 1.5 .6 0 .6 0 .6 0 .6 1.5 .6 0 .7 0 .6 1.5 .6-1.5 .6 1.5 .6 0 .6 0 .6 1.5 .6-1.5 .6 0 .6 1.5 .6 0 .6-1.5 .6 1.5 .6 0 .7 0 .6 0 .6 1.5 .6-1.5 .6 1.5 .6-3 .6 3 .6-1.5 .6 0 .6 0 .6 0 .6 0 .6 1.5 .7-3 .6 1.5 .6 0 .6-1.5 .6 1.5 .6 1.5 .6 0 .6-1.5 .6 0 .6 0 .6 0 .6 0 .6 1.5 .7-1.5 .6 0 .6 0 .6 0 .6 0 .6 0 .6 1.5 .6-3 .6 3 .6 0 .6-1.5 .6 1.5 .6 0 .6-1.5 .7 0 .6 3 .6-1.5 .6 0 .6 1.5 .6-1.5 .6 0 .6 0 .6 0 .6 0 .6 0 .6 0 .6-1.5 .7 3 .6-3 .6 0 .6 1.5 .6-1.5 .6 3 .6-3 .6 1.5 .6-1.5 .6 3 .6-1.5 .6 1.5 .6-1.5 .6 1.5 .7-1.5 .6 1.5 .6 0 .6-1.5 .6 1.5 .6 1.5 .6 0 .6-1.5 .6 1.5 .6-1.5 .6 1.5 .6-1.5 .6 0 .7 0 .6 1.5 .6-1.5 .6 0 .6 0 .6 0 .6 1.5 .6-1.5 .6 1.5 .6-1.5 .6 1.5 .6-1.5 .6-1.5 .6 3 .7 0 .6-1.5 .6 0 .6 0 .6 1.5 .6-1.5 .6 0 .6 0 .6 0 .6 1.5 .6-3 .6 1.5 .6 0 .7 0 .6-1.5 .6 1.5 .6 0 .6-1.5 .6 1.5 .6 0 .6 0 .6-1.5 .6 3 .6-3 .6 3 .6-3 .6 1.5 .7-1.5 .6 3 .6 0 .6-1.5 .6 0 .6 1.5 .6-1.5 .6 0 .6 0 .6 0 .6 0 .6-1.5 .6 0 .7 1.5 .6 0 .6 0 .6 0 .6 0 .6 0 .6 0 .6-1.5 .6 0 .6 1.5 .6 0 .6-1.5 .6 0 .6 0 .7 1.5 .6-1.5 .6 1.5 .6-1.5 .6 1.5 .6-1.5 .6 1.5 .6 1.5 .6-1.5 .6 0 .6-1.5 .6 0 .6-1.5 .7 1.5 .6-1.5 .6 1.5 .6 0 .6-1.5 .6 0 .6-1.5 .6 1.5 .6 0 .6 1.5 .6-1.5 .6 1.5 .6-1.5 .6 0 .7 1.5 .6 0 .6-1.5 .6 0 .6 0 .6 0 .6 1.5 .6-1.5 .6 1.5 .6-1.5 .6 3 .6-1.5 .6 0 .7 0 .6 0 .6 1.5 .6 0 .6 1.5 .6-1.5 .6-1.5 .6 1.5 .6 0 .6 0 .6-1.5 .6 3 .6-1.5 .7 0 .6 1.5 .6-1.5 .6 0 .6 0 .6 0 .6-1.5 .6 0 .6 0 .6-1.5 .6 1.5 .6 0 .6-3 .6 1.5 .7-1.5 .6 0 .6 0 .6 0 .6-1.5 .6-1.5 .6 1.5 .6 0 .6-1.5 .6 0 .6-1.5 .6 0 .6 0 .7-1.5 .6 0 .6-1.5 .6 0 .6 1.5 .6-1.5 .6-1.5 .6 0 .6 0 .6 1.5 .6-1.5 .6-1.5 .6 0 .6 0 .7-1.5 .6 0 .6 0 .6 1.5 .6 0 .6-1.5 .6 0 .6 0 .6 1.5 .6-1.5 .6 1.5 .6 1.5 .6-1.5 .7 0 .6 3 .6-1.5 .6 1.5 .6 0 .6 0 .6 0 .6 3 .6 0 .6 0 .6 1.5 .6-1.5 .6 0 .6-1.5 .7 1.5 .6 1.5 .6 0 .6 1.5 .6-3 .6 1.5 .6 0 .6 0 .6 0 .6 0 .6-1.5 .6 1.5 .6 0 .7-1.5 .6 0 .6 1.5 .6-1.5 .6 1.5 .6-1.5 .6 1.5 .6 0 .6-1.5 .6 1.5 .6-1.5 .6 0 .6 0 .6-1.5 .7 0 .6 0 .6 0 .6-1.5 .6 0 .6 0 .6 0 .6-3 .6 1.5 .6-1.5 .6-1.5 .6 1.5 .6-3 .7 0 .6 0 .6 0 .6 1.5 .6-1.5 .6 0 .6 0 .6 1.5 .6-1.5 .6 0 .6 1.5 .6 0 .6 1.5 .6-1.5 .7 0 .6 0 .6 0 .6 1.5 .6 0 .6 1.5 .6 1.5 .6 0 .6 1.5 .6-1.5 .6 1.5 .6 0 .6 1.5 .7 1.5 .6 0 .6 0 .6 0 .6 1.5 .6-1.5 .6 1.5 .6 0 .6 0 .6 1.5 .6-1.5 .6 1.5 .6 0 .6 1.5 .7 0 .6-1.5 .6 1.5 .6-1.5 .6 1.5 .6 0 .6 0 .6 1.5 .6-1.5 .6 0 .6 1.5 .6-1.5 .6 0 .7 0 .6 1.5 .6 0 .6-1.5 .6 3 .6-1.5 .6 0 .6-1.5 .6 1.5 .6-1.5 .6 0 .6 0 .6 1.5 .7 0 .6 0 .6-1.5 .6 0 .6 1.5 .6 0 .6 0 .6 1.5 .6 0 .6 0 .6-1.5 .6 1.5 .6 0 .6 0 .7 0 .6 0 .6 1.5 .6-1.5 .6 1.5 .6-1.5 .6 0 .6 0 .6 1.5 .6-1.5 .6 0 .6-1.5 .6 1.5 .7 0 .6 0 .6 0 .6 0 .6 0 .6 0 .6 0 .6 0 .6 0 .6 0 .6 1.5 .6-1.5 .6 0 .6-1.5 .7 1.5 .6 0 .6 0 .6 0 .6 1.5 .6-1.5 .6 0 .6 0 .6 0 .6-1.5 .6 1.5 .6-1.5 .6 0 .7 1.5 .6 0 .6 0 .6 0 .6 0 .6 0 .6-1.5 .6 1.5 .6 0 .6 0 .6 0 .6 0 .6 0 .6 1.5 .7-1.5 .6 0 .6 1.5 .6 0 .6-1.5 .6 1.5 .6-1.5 .6 1.5 .6-1.5 .6 1.5 .6 0 .6 0 .6 0 .7-1.5 .6 0 .6 0 .6 0 .6 0 .6 0 .6 0 .6 0 .6-1.5 .6 1.5 .6 0 .6 0 .6 0 .6 0 .7 1.5 .6-1.5 .6 0 .6 1.5 .6 0 .6 0 .6 1.5 .6-1.5 .6 0 .6 1.5 .6-1.5 .6 0 .6 0 .7 0 .6-1.5 .6 1.5 .6 0 .6-1.5 .6 0 .6 0 .6-1.5 .6 0 .6 1.5 .6 0 .6 0 .6-1.5 .6 1.5 .7-1.5 .6 0 .6 0 .6 1.5 .6-1.5 .6 0 .6-1.5 .6 1.5 .6 0 .6-1.5 .6 0 .6 1.5 .6-1.5 .7 0 .6 0 .6 0 .6 0 .6-1.5 .6 0 .6 0 .6 0 .6-1.5 .6 1.5 .6-1.5 .6 0 .6 0 .6-1.5 .7 0 .6 0 .6-1.5 .6 0 .6-1.5 .6 0 .6 0 .6-1.5 .6-1.5 .6-1.5 .6 1.5 .6-3 .6 0 .7-1.5 .6 0 .6-1.5 .6 0 .6 0 .6-1.5 .6 0 .6-1.5 .6 1.5 .6 0 .6-1.5 .6 0 .6-1.5 .7 0 .6 1.5 .6-1.5 .6 1.5 .6 1.5 .6-1.5 .6-1.5 .6 3 .6 0 .6 1.5 .6 0 .6 0 .6 0 .6 1.5 .7 1.5 .6-1.5 .6 1.5 .6 0 .6 0 .6 3 .6 0 .6 0 .6 1.5 .6-1.5 .6 1.5 .6 1.5 .6 0 .7 1.5 .6 0 .6 1.5 .6 0 .6-1.5 .6 0 .6 3 .6 0 .6 0 .6 0 .6 3 .6-3 .6 1.5 .6 1.5 .7-1.5 .6 1.5 .6 0 .6-1.5 .6 0 .6 1.5 .6 1.5 .6-1.5 .6 1.5 .6 0 .6 0 .6 0 .6 1.5 .7 0 .6-3 .6 1.5 .6 3 .6 0 .6 0 .6 0 .6 0 .6 0 .6 0 .6 0 .6 0 .6 0 .6 0 .7 1.5 .6-3 .6 1.5 .6-1.5 .6 1.5 .6-1.5 .6 0 .6 1.5 .6-1.5 .6 0 .6 0 .6 1.5 .6-1.5 .7 1.5 .6-1.5 .6-1.5 .6 1.5 .6-1.5 .6 1.5 .6 0 .6 0 .6 0 .6 0 .6 1.5 .6 0 .6 0 .6-1.5 .7 0 .6 0 .6 0 .6 1.5 .6 0 .6 0 .6 0 .6 0 .6 0 .6 0 .6 0 .6 0 .6 0 .7 0 .6 0 .6 1.5 .6-1.5 .6 0 .6 0 .6 1.5 .6-1.5 .6 0 .6 0 .6 0 .6-1.5 .6 3 .6-1.5 .7 0 .6 0 .6 0 .6 0 .6-1.5 .6 1.5 .6 0 .6-1.5 .6 0 .6 0 .6 3 .6-1.5 .6 0 .7 0 .6 0 .6 1.5 .6 0 .6 0 .6 0 .6-1.5 .6 1.5 .6 0 .6-1.5 .6 1.5 .6 0 .6 0 .6-1.5 .7 0 .6 1.5 .6 0 .6 0 .6 0 .6 0 .6-1.5 .6 0 .6 1.5 .6 0 .6-1.5 .6 0 .6 1.5 .7-1.5 .6 1.5 .6-1.5 .6 0 .6-1.5 .6 1.5 .6 0 .6 0 .6 0 .6 0 .6 0 .6 0 .6 0 .7 0 .6 0 .6 1.5 .6-1.5 .6 0 .6 1.5 .6 0 .6-1.5 .6 1.5 .6 0 .6-1.5 .6 1.5 .6 0 .6-1.5 .7 0 .6 0 .6 0 .6 0 .6 1.5 .6-1.5 .6 1.5 .6-1.5 .6 1.5 .6-1.5 .6 0 .6 0 .6 0 .7 1.5 .6-1.5 .6 0 .6 0 .6 0 .6 0 .6 1.5 .6-1.5 .6 0 .6 1.5 .6-1.5 .6 1.5 .6 0 .6 0 .7-1.5 .6 1.5 .6-1.5 .6 1.5 .6 0 .6 0 .6 0 .6 0 .6 0 .6 0 .6 0 .6 0 .6 0 .7 0 .6 0 .6 0 .6 0 .6-1.5 .6 0 .6 1.5 .6-1.5 .6 0 .6 0 .6 0 .6-1.5 .6 1.5 .6 0 .7 1.5 .6-1.5 .6 1.5 .6-1.5 .6 0 .6 1.5 .6 0 .6 0 .6 0 .6 0 .6 1.5 .6-1.5 .6 0 .7 0 .6 0 .6 0 .6 0" fill="none" stroke="#DA4A47" stroke-width="21" stroke-linejoin="round" stroke-linecap="round" clip-path="url(#ca)"/>
<path d="M192.3 2880l.6 0 .6 1.5 .6 1.5 .6-1.5 .6-1.5 .6 0 .5 4.5 .6-3 .6-1.5 .6 1.5 .6 1.5 .6 0 .6 3 .6-3 .6-3 .5 6 .6-3 .6 0 .6-1.5 .6 0 .6 4.5 .6-4.5 .6 1.5 .6-1.5 .5 4.5 .6-1.5 .6-1.5 .6 1.5 .6 3 .6-4.5 .6 0 .6 1.5 .6 0 .6-1.5 .5 1.5 .6 0 .6 1.5 .6-3 .6 3 .6 0 .6 3 .6-7.5 .6 3 .5 0 .6 3 .6-3 .6 0 .6 1.5 .6 0 .6 0 .6-1.5 .6 4.5 .5-3 .6 1.5 .6 1.5 .6-1.5 .6 1.5 .6-1.5 .6 1.5 .6 0 .6 0 .5 1.5 .6 0 .6 3 .6-3 .6 0 .6 1.5 .6 0 .6 4.5 .6 0 .5-3 .6-1.5 .6 4.5 .6-3 .6-3 .6 3 .6-3 .6 4.5 .6-1.5 .6-1.5 .5 0 .6-1.5 .6 6 .6-1.5 .6 0 .6 1.5 .6-3 .6 0 .6 0 .5 1.5 .6-1.5 .6 1.5 .6 1.5 .6 0 .6-1.5 .6 0 .6 0 .6 1.5 .5 1.5 .6 0 .6-1.5 .6 0 .6 0 .6 1.5 .6-4.5 .6 3 .6-1.5 .5-1.5 .6 4.5 .6-1.5 .6-6 .6 3 .6 0 .6 0 .6-3 .6 1.5 .5 0 .6-1.5 .6 1.5 .6-1.5 .6 0 .6-1.5 .6 1.5 .6 0 .6-3 .6-1.5 .5 1.5 .6-1.5 .6 0 .6-1.5 .6 0 .6-3 .6 0 .6 3 .6-4.5 .5 1.5 .6 0 .6-1.5 .6 0 .6 1.5 .6-1.5 .6 4.5 .6 1.5 .6 1.5 .5 3 .6-1.5 .6 1.5 .6 1.5 .6 0 .6-1.5 .6 1.5 .6 3 .6 0 .5 1.5 .6 0 .6 1.5 .6 0 .6 1.5 .6-1.5 .6 1.5 .6 1.5 .6 3 .5-1.5 .6 0 .6 3 .6-3 .6 0 .6-3 .6 3 .6 3 .6-3 .5 1.5 .6 0 .6 0 .6-1.5 .6 3 .6 0 .6-1.5 .6-3 .6 6 .6-1.5 .5 0 .6-1.5 .6 1.5 .6 0 .6 1.5 .6 0 .6 1.5 .6-3 .6 0 .5 1.5 .6 3 .6-4.5 .6 0 .6 4.5 .6-3 .6 1.5 .6 1.5 .6-3 .5 1.5 .6 1.5 .6-1.5 .6 0 .6 0 .6 0 .6 3 .6-4.5 .6 4.5 .5-1.5 .6 1.5 .6 0 .6 0 .6 0 .6-3 .6 3 .6 0 .6-1.5 .5 0 .6 1.5 .6 1.5 .6-1.5 .6 0 .6-4.5 .6 4.5 .6-1.5 .6-1.5 .6 1.5 .5 1.5 .6-4.5 .6 4.5 .6-1.5 .6 1.5 .6-1.5 .6 3 .6-1.5 .6-1.5 .5 0 .6 1.5 .6 1.5 .6-3 .6 3 .6 0 .6-1.5 .6-3 .6 3 .5 0 .6 1.5 .6-1.5 .6 1.5 .6 0 .6-1.5 .6 1.5 .6 1.5 .6-1.5 .5-1.5 .6 3 .6-6 .6 4.5 .6-1.5 .6-3 .6 4.5 .6 1.5 .6-3 .5 1.5 .6 1.5 .6-3 .6 1.5 .6 0 .6-1.5 .6 1.5 .6-1.5 .6 0 .5 1.5 .6 0 .6 0 .6 1.5 .6 0 .6 0 .6-1.5 .6 0 .6 0 .6 4.5 .5-1.5 .6-1.5 .6 1.5 .6 1.5 .6-1.5 .6 0 .6 0 .6 1.5 .6 1.5 .5-1.5 .6 1.5 .6-1.5 .6 0 .6 1.5 .6-3 .6 1.5 .6 0 .6 3 .5-3 .6 0 .6-1.5 .6 0 .6 1.5 .6 1.5 .6 0 .6-4.5 .6 0 .5 0 .6 1.5 .6 1.5 .6-1.5 .6 0 .6 0 .6-4.5 .6-1.5 .6 4.5 .5-1.5 .6 1.5 .6-1.5 .6 3 .6-3 .6 0 .6 1.5 .6 1.5 .6-1.5 .6 1.5 .5-3 .6 0 .6 1.5 .6 1.5 .6 0 .6 0 .6 0 .6-1.5 .6 4.5 .5-1.5 .6 1.5 .6 0 .6 3 .6-4.5 .6 3 .6 1.5 .6-4.5 .6 3 .5 0 .6 1.5 .6-3 .6 3 .6-3 .6 3 .6-3 .6-1.5 .6 3 .5-1.5 .6 0 .6 0 .6-3 .6 0 .6 1.5 .6 0 .6-1.5 .6 0 .5 1.5 .6-3 .6 1.5 .6 0 .6 0 .6 1.5 .6 0 .6-1.5 .6 0 .6 3 .5 0 .6-1.5 .6 1.5 .6-1.5 .6 1.5 .6 0 .6 0 .6 0 .6 0 .5 0 .6 1.5 .6-1.5 .6 0 .6 1.5 .6 0 .6 0 .6 0 .6 0 .5 0 .6 1.5 .6-1.5 .6 0 .6-1.5 .6 0 .6 0 .6 3 .6-1.5 .5 0 .6-1.5 .6 0 .6 1.5 .6-1.5 .6-1.5 .6 1.5 .6 0 .6-1.5 .5-1.5 .6 3 .6 0 .6 0 .6 0 .6 0 .6 1.5 .6-3 .6 1.5 .5 1.5 .6 0 .6-3 .6 1.5 .6 0 .6 0 .6-1.5 .6 1.5 .6 1.5 .6-1.5 .5 0 .6 0 .6 1.5 .6-1.5 .6-1.5 .6-1.5 .6 3 .6 0 .6 0 .5 3 .6-1.5 .6 0 .6 0 .6 1.5 .6-1.5 .6 0 .6-1.5 .6 3 .5 0 .6-3 .6 1.5 .6 0 .6 1.5 .6-1.5 .6 1.5 .6-3 .6 3 .5-1.5 .6-1.5 .6-1.5 .6 0 .6 1.5 .6-1.5 .6 0 .6 0 .6 0 .5 0 .6 0 .6 1.5 .6 0 .6-1.5 .6 1.5 .6-1.5 .6 3 .6-3 .6 1.5 .5 1.5 .6-1.5 .6 0 .6 1.5 .6-1.5 .6 3 .6-4.5 .6 0 .6 3 .5-1.5 .6 0 .6 0 .6 1.5 .6 1.5 .6-3 .6 3 .6-1.5 .6 0 .5-1.5 .6 0 .6 1.5 .6-1.5 .6 0 .6 0 .6-1.5 .6 0 .6 0 .5 3 .6-1.5 .6 0 .6 0 .6 1.5 .6 0 .6 0 .6-1.5 .6 1.5 .5 0 .6 1.5 .6-1.5 .6-1.5 .6 3 .6-1.5 .6 3 .6-1.5 .6 0 .6-1.5 .5 0 .6 1.5 .6 0 .6 0 .6 1.5 .6-1.5 .6 0 .6-3 .6 4.5 .5-4.5 .6 3 .6 0 .6 0 .6-1.5 .6 3 .6-1.5 .6 0 .6 1.5 .5 1.5 .6-4.5 .6 1.5 .6-1.5 .6 0 .6 1.5 .6 1.5 .6 0 .6 3 .5-3 .6-3 .6 1.5 .6 3 .6-1.5 .6-1.5 .6 1.5 .6 0 .6 0 .5-3 .6 1.5 .6-1.5 .6 0 .6 3 .6-1.5 .6 0 .6 1.5 .6-1.5 .5-1.5 .6 1.5 .6 0 .6 0 .6 0 .6 1.5 .6-3 .6 1.5 .6-1.5 .6 0 .5 1.5 .6-1.5 .6 0 .6 0 .6 1.5 .6 0 .6-1.5 .6 1.5 .6 0 .5-1.5 .6-1.5 .6 3 .6 0 .6-3 .6 0 .6 1.5 .6 3 .6-1.5 .5 0 .6-3 .6 1.5 .6-1.5 .6 1.5 .6 1.5 .6 0 .6 0 .6 0 .5 0 .6 0 .6-1.5 .6 1.5 .6-1.5 .6 3 .6-4.5 .6 3 .6-1.5 .5 1.5 .6-1.5 .6 0 .6 1.5 .6 0 .6 0 .6 0 .6 0 .6 0 .6-1.5 .5 0 .6 1.5 .6-3 .6 0 .6 1.5 .6 0 .6 1.5 .6 0 .6-3 .5 1.5 .6 0 .6 0 .6 0 .6 0 .6 0 .6-1.5 .6-1.5 .6 3 .5 0 .6 0 .6 1.5 .6-1.5 .6 1.5 .6-1.5 .6 1.5 .6 1.5 .6 0 .5-3 .6 1.5 .6 1.5 .6-3 .6 1.5 .6 0 .6 0 .6 1.5 .6-1.5 .5 1.5 .6-1.5 .6-1.5 .6 1.5 .6-1.5 .6 1.5 .6 0 .6-1.5 .6 0 .6 1.5 .5 0 .6-1.5 .6 0 .6-1.5 .6 4.5 .6-3 .6-1.5 .6 1.5 .6 1.5 .5 0 .6-1.5 .6 0 .6-1.5 .6 0 .6 1.5 .6 0 .6 0 .6 0 .5 0 .6-1.5 .6-1.5 .6 1.5 .6 1.5 .6-1.5 .6 0 .6-1.5 .6 1.5 .5 0 .6-1.5 .6 0 .6 0 .6 0 .6 0 .6 1.5 .6-1.5 .6-1.5 .5 0 .6-1.5 .6 0 .6 0 .6-1.5 .6 0 .6 0 .6-1.5 .6-1.5 .5 1.5 .6-1.5 .6 0 .6 0 .6-3 .6 0 .6 0 .6-1.5 .6-1.5 .6 0 .5 0 .6-1.5 .6-1.5 .6-3 .6-3 .6 3 .6-4.5 .6 0 .6-3 .5-1.5 .6-3 .6-6 .6 0 .6-3 .6-3 .6 0 .6-4.5 .6-4.5 .5-3 .6-6 .6-7.5 .6-6 .6-7.5 .6-9 .6-7.5 .6-12 .6-15 .5-15 .6-19.5 .6-21 .6-30 .6-30 .6-39 .6-48 .6-54 .6-61.5 .5-69 .6-79.5 .6-85.5 .6-90 .6-90 .6-78 .6-60 .6-36 .6 0 .6 33 .5 61.5 .6 81 .6 87 .6 91.5 .6 85.5 .6 78 .6 75 .6 58.5 .6 52.5 .5 48 .6 36 .6 34.5 .6 27 .6 22.5 .6 19.5 .6 16.5 .6 13.5 .6 10.5 .5 10.5 .6 7.5 .6 7.5 .6 7.5 .6 7.5 .6 4.5 .6 4.5 .6 3 .6 3 .5 4.5 .6 3 .6 4.5 .6 0 .6 1.5 .6 4.5 .6 3 .6-1.5 .6 3 .5 3 .6 0 .6 3 .6 1.5 .6 1.5 .6-1.5 .6 3 .6 1.5 .6 0 .5 0 .6 3 .6-1.5 .6 3 .6-1.5 .6 3 .6-1.5 .6 1.5 .6 0 .6 0 .5 1.5 .6-3 .6 4.5 .6-1.5 .6 0 .6 0 .6-1.5 .6 1.5 .6 0 .5 0 .6 1.5 .6 0 .6 0 .6 0 .6 0 .6 0 .6 1.5 .6-1.5 .5 1.5 .6 0 .6-1.5 .6 0 .6 0 .6 0 .6-3 .6 3 .6-3 .5 3 .6-3 .6-1.5 .6 3 .6-4.5 .6-1.5 .6 0 .6 0 .6-3 .5-1.5 .6-3 .6-3 .6-4.5 .6-4.5 .6-4.5 .6-9 .6-6 .6-9 .6-7.5 .5-9 .6-6 .6-6 .6-6 .6 3 .6 3 .6 6 .6 7.5 .6 7.5 .5 9 .6 7.5 .6 7.5 .6 7.5 .6 7.5 .6 4.5 .6 3 .6 4.5 .6 1.5 .5 4.5 .6 3 .6 1.5 .6-1.5 .6 3 .6 1.5 .6 0 .6 0 .6 1.5 .5-1.5 .6 1.5 .6 1.5 .6-1.5 .6 1.5 .6-1.5 .6 0 .6 1.5 .6 1.5 .5 1.5 .6-1.5 .6 0 .6 0 .6 1.5 .6 0 .6 0 .6 1.5 .6-1.5 .6 1.5 .5 0 .6 1.5 .6 0 .6 0 .6-1.5 .6 0 .6 0 .6 1.5 .6 1.5 .5-1.5 .6 0 .6 0 .6 1.5 .6-1.5 .6 0 .6 1.5 .6-1.5 .6-1.5 .5 1.5 .6 0 .6 1.5 .6-1.5 .6-1.5 .6 3 .6-1.5 .6 0 .6 1.5 .5-1.5 .6 0 .6 0 .6 1.5 .6 0 .6-1.5 .6 0 .6 3 .6-1.5 .5 0 .6 0 .6 1.5 .6 0 .6-1.5 .6 1.5 .6-1.5 .6 0 .6 0 .5 1.5 .6 0 .6-1.5 .6-1.5 .6 3 .6-3 .6 1.5 .6 1.5 .6-1.5 .6 0 .5 0 .6 0 .6 1.5 .6-1.5 .6 3 .6-1.5 .6 0 .6 0 .6 1.5 .5-1.5 .6 3 .6-3 .6 0 .6 0 .6 0 .6 0 .6-1.5 .6 0 .5 0 .6 0 .6-1.5 .6 3 .6 0 .6 1.5 .6 0 .6-3 .6 0 .5 1.5 .6 0 .6 1.5 .6-3 .6 1.5 .6-1.5 .6 0 .6 1.5 .6-1.5 .5 0 .6 1.5 .6-1.5 .6 0 .6 1.5 .6-1.5 .6 1.5 .6-1.5 .6 0 .6 1.5 .5-1.5 .6 1.5 .6-1.5 .6 1.5 .6-1.5 .6 1.5 .6 0 .6 0 .6 0 .5 1.5 .6-1.5 .6 0 .6 0 .6 0 .6-1.5 .6 0 .6 0 .6 0 .5 0 .6 0 .6 0 .6 0 .6-1.5 .6 1.5 .6 0 .6 0 .6 0 .5 0 .6 0 .6-1.5 .6 0 .6 0 .6 1.5 .6 1.5 .6-1.5 .6 0 .5 0 .6 1.5 .6 0 .6-1.5 .6 1.5 .6-1.5 .6 0 .6-1.5 .6 1.5 .6 0 .5 0 .6 1.5 .6 1.5 .6-1.5 .6 0 .6 1.5 .6 0 .6 1.5 .6-3 .5 0 .6 1.5 .6 0 .6 0 .6-1.5 .6 1.5 .6-1.5 .6 0 .6 0 .5 0 .6 0 .6-1.5 .6 1.5 .6 0 .6-1.5 .6-1.5 .6 3 .6-1.5 .5 1.5 .6-1.5 .6 1.5 .6-1.5 .6 1.5 .6 0 .6-1.5 .6 1.5 .6 0 .5 0 .6 3 .6-4.5 .6 1.5 .6 0 .6-1.5 .6 1.5 .6 0 .6-1.5 .5 1.5 .6 0 .6 0 .6 0 .6 0 .6 0 .6 0 .6 1.5 .6 0 .6 0 .5 0 .6 0 .6 0 .6-1.5 .6 0 .6 0 .6-1.5 .6 1.5 .6 0 .5 0 .6 0 .6 0 .6-1.5 .6 1.5 .6-1.5 .6 0 .6 0 .6 0 .5 1.5 .6 1.5 .6 0 .6-1.5 .6 0 .6 0 .6 0 .6 1.5 .6-1.5 .5 0 .6 0 .6 0 .6 0 .6 0 .6 0 .6 0 .6 0 .6 1.5 .5-1.5 .6 1.5 .6 0 .6-1.5 .6 1.5 .6 1.5 .6-3 .6-1.5 .6 1.5 .6 0 .5-1.5 .6 1.5 .6 1.5 .6-1.5 .6 0 .6 0 .6 0 .6 0 .6 0 .5 1.5 .6 0 .6-1.5 .6 3 .6-1.5 .6-1.5 .6 1.5 .6 0 .6-1.5 .5 1.5 .6 0 .6-1.5 .6 0 .6 0 .6 0 .6 0 .6 0 .6 1.5 .5-1.5 .6 0 .6 0 .6 0 .6 1.5 .6-1.5 .6 0 .6 0 .6 0 .5 0 .6 0 .6 0 .6 0 .6 0 .6 0 .6 0 .6 1.5 .6-1.5 .6 0 .5 1.5 .6 0 .6-1.5 .6 0 .6 1.5 .6-1.5 .6 0 .6 0 .6 1.5 .5-1.5 .6 3 .6-1.5 .6 0 .6 0 .6-1.5 .6 1.5 .6 0 .6-1.5 .5 0 .6 1.5 .6 1.5 .6-1.5 .6 0 .6 1.5 .6-3 .6 0 .6 0 .5 1.5 .6 0 .6 0 .6 0 .6-1.5 .6 1.5 .6-1.5 .6 0 .6 0 .5 0 .6 0 .6 0 .6 0 .6-1.5 .6 0 .6 1.5 .6-3 .6 3 .5-3 .6 0 .6 0 .6 1.5 .6 0 .6-1.5 .6 3 .6-1.5 .6 0 .6 0 .5 0 .6-1.5 .6 0 .6 1.5 .6 0 .6 0 .6 0 .6 0 .6 0 .5-1.5 .6 1.5 .6 0 .6 0 .6-1.5 .6 0 .6 0 .6 0 .6 1.5 .5-1.5 .6 0 .6 0 .6-1.5 .6 0 .6 0 .6-1.5 .6 0 .6 0 .5 0 .6-1.5 .6 0 .6-3 .6-1.5 .6-3 .6-1.5 .6-3 .6-3 .5-1.5 .6-3 .6-1.5 .6-4.5 .6-1.5 .6 0 .6 0 .6 0 .6 3 .6 3 .5 1.5 .6 3 .6 3 .6 3 .6 1.5 .6 1.5 .6 3 .6 1.5 .6 0 .5 1.5 .6 1.5 .6 0 .6 0 .6 0 .6 0 .6 0 .6 0 .6 1.5 .5-1.5 .6-1.5 .6-1.5 .6 0 .6-3 .6 1.5 .6-1.5 .6-3 .6-1.5 .5 0 .6-3 .6-3 .6-3 .6-1.5 .6-3 .6-3 .6-4.5 .6-6 .5 0 .6-4.5 .6 1.5 .6-1.5 .6 0 .6 3 .6 3 .6 3 .6 3 .5 3 .6 3 .6 3 .6 3 .6 1.5 .6 0 .6 3 .6 1.5 .6 1.5 .6 0 .5 0 .6 0 .6 0 .6 0 .6-1.5 .6 1.5 .6-4.5 .6 0 .6-1.5 .5-3 .6-1.5 .6-4.5 .6-4.5 .6-3 .6-6 .6-7.5 .6-9 .6-9 .5-9 .6-12 .6-12 .6-13.5 .6-13.5 .6-10.5 .6-13.5 .6-7.5 .6-6 .5 1.5 .6 4.5 .6 9 .6 9 .6 15 .6 12 .6 12 .6 12 .6 12 .5 12 .6 7.5 .6 7.5 .6 6 .6 7.5 .6 3 .6 4.5 .6 3 .6 1.5 .6 3 .5 1.5 .6 0 .6 1.5 .6 0 .6 1.5 .6-3 .6 0 .6 0 .6-3 .5-4.5 .6 0 .6-3 .6-3 .6-4.5 .6-3 .6-4.5 .6-3 .6-3 .5 0 .6-1.5 .6 0 .6 3 .6 3 .6 3 .6 6 .6 3 .6 4.5 .5 4.5 .6 4.5 .6 1.5 .6 3 .6 3 .6 1.5 .6 1.5 .6 4.5 .6 0 .5 1.5 .6 1.5 .6 1.5 .6 1.5 .6-1.5 .6 1.5 .6 3 .6 0 .6 0 .6 0 .5 1.5 .6 1.5 .6-3 .6 3 .6-1.5 .6 1.5 .6 1.5 .6-1.5 .6 0 .5 0 .6 0 .6 0 .6 0 .6 0 .6 0 .6 0 .6 0 .6 1.5 .5-1.5 .6 0 .6 0 .6 0 .6 0 .6-1.5 .6 0 .6 0 .6 1.5 .5 0 .6 0 .6 0 .6 1.5 .6-1.5 .6 0 .6 3 .6-1.5 .6-1.5 .5 0 .6 0 .6 0 .6-1.5 .6 1.5 .6 0 .6 0 .6 1.5 .6 0 .5-1.5 .6 0 .6 0 .6 1.5 .6-1.5 .6 0 .6 0 .6 1.5 .6 0 .6 0 .5 0 .6-1.5 .6 3 .6-1.5 .6 0 .6 1.5 .6-1.5 .6 1.5 .6 0 .5-1.5 .6 1.5 .6 0 .6 0 .6-1.5 .6 1.5 .6 0 .6-1.5 .6 1.5 .5 0 .6 0 .6-1.5 .6 0 .6 0 .6 0 .6 0 .6 1.5 .6-1.5 .5 1.5 .6-3 .6 1.5 .6-1.5 .6 0 .6 0 .6 0 .6-1.5 .6 0 .5 1.5 .6-1.5 .6-1.5 .6 1.5 .6-3 .6-1.5 .6 0 .6 0 .6-4.5 .6 0 .5-1.5 .6 0 .6 0 .6 0 .6 0 .6 1.5 .6 3 .6 0 .6 1.5 .5 1.5 .6 0 .6 3 .6 1.5 .6 0 .6 1.5 .6 0 .6 0 .6 1.5 .5 0 .6-1.5 .6 3 .6-1.5 .6 0 .6-1.5 .6 1.5 .6 0 .6 0 .5-1.5 .6 0 .6 0 .6 0 .6 1.5 .6-1.5 .6 1.5 .6 0 .6-1.5 .5 1.5 .6-1.5 .6 1.5 .6 0 .6 0 .6 0 .6-1.5 .6 0 .6 0 .6 1.5 .5-1.5 .6 1.5 .6-1.5 .6 0 .6 0 .6 1.5 .6 1.5 .6-1.5 .6 0 .5 0 .6 0 .6 0 .6-1.5 .6 0 .6 1.5 .6-1.5 .6 1.5 .6 0 .5 1.5 .6-1.5 .6 0 .6 0 .6 1.5 .6-1.5 .6 0 .6 1.5 .6-1.5 .5 0 .6 1.5 .6 0 .6-1.5 .6 3 .6-3 .6 1.5 .6-1.5 .6 1.5 .5-1.5 .6 0 .6 1.5 .6-1.5 .6 0 .6 0 .6 0 .6 0 .6-1.5 .5 1.5 .6 0 .6 0 .6 0 .6-1.5 .6 3 .6-3 .6 3 .6-1.5 .6 0 .5 0 .6 3 .6-4.5 .6 3 .6-1.5 .6 0 .6 1.5 .6 0 .6 0 .5 0 .6-1.5 .6 1.5 .6 0 .6-1.5 .6 1.5 .6 0 .6 0 .6-1.5 .5 1.5 .6-1.5 .6-1.5 .6 3 .6 0 .6 0 .6-1.5 .6 0 .6 0 .5 0 .6 1.5 .6 0 .6-3 .6 3 .6-1.5 .6 1.5 .6-1.5 .6 0 .5-1.5 .6 1.5 .6-1.5 .6 1.5 .6 0 .6 0 .6-1.5 .6 0 .6 1.5 .6 0 .5 0 .6-1.5 .6 1.5 .6 0 .6 0 .6 0 .6-1.5 .6 1.5 .6-1.5 .5 3 .6-1.5 .6 0 .6 0 .6 0 .6-1.5 .6 3 .6 0 .6 0 .5 0 .6 0 .6 0 .6-1.5 .6 1.5 .6-1.5 .6 1.5 .6 0 .6 0 .5 0 .6 0 .6 0 .6-1.5 .6 1.5 .6-1.5 .6 0 .6 0 .6 0 .5 0 .6 0 .6-1.5 .6 3 .6-1.5 .6 0 .6 1.5 .6-1.5 .6 0 .5 0 .6 1.5 .6-1.5 .6 1.5 .6 0 .6 0 .6 0 .6 0 .6 0 .6 0 .5 1.5 .6 0 .6-1.5 .6 1.5 .6-1.5 .6 0 .6-1.5 .6 0 .6 0 .5 0 .6 1.5 .6-1.5 .6 0 .6-1.5 .6 1.5 .6 1.5 .6-1.5 .6 0 .5 1.5 .6-1.5 .6 0 .6 0 .6 0 .6-1.5 .6 1.5 .6 0 .6 1.5 .5-1.5 .6 0 .6 0 .6 0 .6-1.5 .6 1.5 .6 0 .6-1.5 .6 1.5 .5 0 .6 0 .6-1.5 .6 1.5 .6-1.5 .6 1.5 .6 0 .6 0 .6-1.5 .6 1.5 .5-1.5 .6 1.5 .6 0 .6 0 .6 0 .6-1.5 .6 1.5 .6 0 .6 0 .5 0 .6 0 .6 0 .6 0 .6 0 .6 0 .6 0 .6 0 .6 0 .5 0 .6 0 .6 0 .6-1.5 .6 1.5 .6 0 .6-1.5 .6 1.5 .6 0 .5-1.5 .6 0 .6 0 .6 0 .6 0 .6 1.5 .6-3 .6 1.5 .6 0 .5 0 .6-1.5 .6 1.5 .6-1.5 .6 0 .6 0 .6 0 .6 0 .6 0 .6 0 .5-1.5 .6 0 .6 0 .6 0 .6 0 .6 0 .6 0 .6 0 .6-1.5 .5 0 .6-1.5 .6 0 .6 0 .6-1.5 .6 0 .6 0 .6 0 .6-1.5 .5 0 .6-1.5 .6-3 .6 1.5 .6-1.5 .6-1.5 .6-1.5 .6 0 .6-3 .5-1.5 .6-1.5 .6-3 .6-3 .6-3 .6-3 .6-6 .6-4.5 .6-7.5 .5-7.5 .6-7.5 .6-12 .6-10.5 .6-15 .6-13.5 .6-18 .6-16.5 .6-19.5 .5-19.5 .6-19.5 .6-19.5 .6-16.5 .6-9 .6-7.5 .6 0 .6 6 .6 12 .6 15 .5 18 .6 21 .6 21 .6 19.5 .6 16.5 .6 15 .6 18 .6 12 .6 12 .5 9 .6 10.5 .6 6 .6 7.5 .6 6 .6 4.5 .6 4.5 .6 3 .6 3 .5 1.5 .6 1.5 .6 3 .6 1.5 .6 1.5 .6 1.5 .6 3 .6-1.5 .6 3 .5 0 .6 0 .6 1.5 .6 1.5 .6 0 .6 1.5 .6 1.5 .6 0 .6 0 .5 0 .6 1.5 .6 0 .6 0 .6 1.5 .6 0 .6 0 .6 0 .6 0 .6 0 .5 1.5 .6-1.5 .6 1.5 .6-1.5 .6 3 .6-3 .6 1.5 .6 0 .6 0 .5 0 .6 0 .6 1.5 .6-1.5 .6 0 .6 1.5 .6 0 .6 0 .6 0 .5 1.5 .6-3 .6 3 .6 0 .6 0 .6-1.5 .6 0 .6 0 .6 0 .5 0 .6 0 .6 1.5 .6 0 .6-1.5 .6 1.5 .6-1.5 .6 0 .6 0 .5 1.5 .6 0 .6 0 .6 0 .6 0 .6 0 .6 0 .6 0 .6 0 .6 0 .5 0 .6 0 .6 0 .6 1.5 .6 0 .6-1.5 .6 0 .6 0 .6 0 .5 1.5 .6 0 .6 0 .6 0 .6-1.5 .6 0 .6 1.5 .6 0 .6 0 .5 1.5 .6 0 .6-3 .6 0 .6 0 .6 1.5 .6 0 .6 0 .6 0 .5-1.5 .6 0 .6 0 .6 1.5 .6-1.5 .6 0 .6 0 .6 0 .6 0 .5 0 .6 1.5 .6 0 .6 0 .6-1.5 .6 1.5 .6 0 .6 0 .6 1.5 .5 0 .6-1.5 .6 0 .6 1.5 .6-1.5 .6 0 .6-1.5 .6 1.5 .6 0 .6 0 .5 0 .6 0 .6-1.5 .6 0 .6 1.5 .6-3 .6 3 .6-1.5 .6 0 .5 1.5 .6-1.5 .6 0 .6 0 .6 0 .6 1.5 .6-1.5 .6 0 .6 0 .5 1.5 .6-1.5 .6 0 .6 1.5 .6-1.5 .6 0 .6 1.5 .6 0 .6 0 .5 0 .6 0 .6 0 .6 0 .6 0 .6 0 .6-1.5 .6 0 .6 0 .5 0 .6 1.5 .6 0 .6-1.5 .6-1.5 .6 1.5 .6 0 .6 0 .6 0 .6 0 .5-1.5 .6 1.5 .6 0 .6 0 .6 0 .6 0 .6 1.5 .6 0 .6 0 .5-1.5 .6 0 .6 1.5 .6 0 .6 0 .6-1.5 .6 1.5 .6 0 .6 0 .5-1.5 .6 3 .6-1.5 .6-1.5 .6 1.5 .6-1.5 .6 0 .6 0 .6 0 .5 0 .6 0 .6 0 .6-1.5 .6 1.5 .6 0 .6-1.5 .6 1.5 .6-1.5 .5 0 .6 1.5 .6-1.5 .6 1.5 .6-1.5 .6 0 .6 1.5 .6 0 .6-1.5 .6 1.5 .5 0 .6-1.5 .6 1.5 .6 0 .6-1.5 .6 0 .6 0 .6 0 .6 0 .5-1.5 .6 1.5 .6-1.5 .6 0 .6-1.5 .6 1.5 .6-1.5 .6-1.5 .6 1.5 .5-1.5 .6 0 .6-1.5 .6 0 .6-1.5 .6 0 .6 0 .6 0 .6-4.5 .5 0 .6-1.5 .6-3 .6-1.5 .6-3 .6-3 .6-4.5 .6-4.5 .6-4.5 .5-6 .6-6 .6-7.5 .6-9 .6-6 .6-9 .6-9 .6-9 .6-6 .5-4.5 .6-4.5 .6 0 .6 3 .6 6 .6 6 .6 7.5 .6 9 .6 7.5 .6 9 .5 6 .6 7.5 .6 7.5 .6 4.5 .6 4.5 .6 4.5 .6 4.5 .6 3 .6 1.5 .5 1.5 .6 3 .6 1.5 .6 1.5 .6 1.5 .6 0 .6 1.5 .6 0 .6 0 .5 1.5 .6 0 .6 1.5 .6-1.5 .6 0 .6-1.5 .6 1.5 .6 0 .6 0 .5 0 .6 0 .6-1.5 .6 0 .6-1.5 .6 1.5 .6-3 .6-1.5 .6-3 .5-1.5 .6-3 .6-1.5 .6-6 .6-4.5 .6-6 .6-4.5 .6-6 .6-7.5 .6-7.5 .5-9 .6-9 .6-9 .6-7.5 .6-6 .6-3 .6-3 .6 1.5 .6 4.5 .5 6 .6 7.5 .6 7.5 .6 9 .6 9 .6 9 .6 7.5 .6 6 .6 6 .5 6 .6 3 .6 6 .6 3 .6 3 .6 3 .6 1.5 .6 3 .6 0 .5 1.5 .6 1.5 .6 0 .6 3 .6 0 .6 1.5 .6 0 .6 1.5 .6 0 .5 0 .6 1.5 .6 0 .6 0 .6 0 .6 1.5 .6-1.5 .6 1.5 .6 0 .5 0 .6 0 .6 0 .6 0 .6 0 .6 0 .6 1.5 .6-1.5 .6 0 .6 1.5 .5 0 .6 0 .6 1.5 .6-1.5 .6 1.5 .6 0 .6 0 .6 0 .6 0 .5-1.5 .6 1.5 .6 0 .6-1.5 .6 1.5 .6-1.5 .6 0 .6 1.5 .6-1.5 .5 0 .6 0 .6 0 .6 0 .6 0 .6 0 .6 1.5 .6 0 .6 0 .5 0 .6-1.5 .6 1.5 .6-1.5 .6 1.5 .6-1.5 .6 0 .6 1.5 .6 0 .5 0 .6 0 .6-1.5 .6 3 .6-1.5 .6-1.5 .6 1.5 .6 0 .6-1.5 .6 0 .5 1.5 .6 0 .6 0 .6 0 .6 0 .6 0 .6 0 .6 0 .6 0 .5-1.5 .6 1.5 .6 0 .6-1.5 .6 0 .6 0 .6 0 .6-1.5 .6 1.5 .5 0 .6 0 .6 0 .6 0 .6 0 .6 0 .6 0 .6 0 .6 0 .5 1.5 .6-1.5 .6 1.5 .6 0 .6 0 .6-1.5 .6 0 .6 0 .6 1.5 .5 0 .6 0 .6 0 .6 1.5 .6-1.5 .6 0 .6 1.5 .6 0 .6 0 .6 0 .5 0 .6 0 .6 0 .6 0 .6 0 .6-1.5 .6 0 .6 1.5 .6 0 .5 0 .6-1.5 .6 1.5 .6 0 .6 0 .6-1.5 .6 1.5 .6 0 .6 0 .5-1.5 .6 1.5 .6 0 .6-1.5 .6 0 .6 0 .6 0 .6 0 .6 0 .5 0 .6 0 .6 1.5 .6 0 .6 0 .6 0 .6 0 .6-1.5 .6 0 .5 0 .6 1.5 .6 0 .6-1.5 .6 1.5 .6-1.5 .6 0 .6 1.5 .6 0 .5-1.5 .6 0 .6 0 .6 0 .6 0 .6 0 .6 0 .6 0 .6 0 .6 0 .5 0 .6 1.5 .6 0 .6-1.5 .6 1.5 .6-1.5 .6 0 .6 1.5 .6 0 .5-1.5 .6 1.5 .6-1.5 .6 0 .6 0 .6 0 .6 1.5 .6-1.5 .6 3 .5-1.5 .6 0 .6 0 .6-1.5 .6 1.5 .6-1.5 .6 0 .6 1.5 .6-1.5 .5 0 .6 1.5 .6-1.5 .6 0 .6 1.5 .6-1.5 .6 0 .6 1.5 .6-1.5 .5 0 .6 0 .6 0 .6 0 .6 0 .6 0 .6 0 .6 1.5 .6-1.5 .6 0 .5 1.5 .6-1.5 .6 1.5 .6-1.5 .6 1.5 .6 0 .6-1.5 .6 0 .6 0 .5 1.5 .6 0 .6 0 .6 0 .6-1.5 .6 0 .6 1.5 .6-1.5 .6 1.5 .5 0 .6-1.5 .6 1.5 .6 0 .6 0 .6 0 .6 0 .6-1.5 .6 1.5 .5-1.5 .6 0 .6 0 .6 1.5 .6-1.5 .6 0 .6 0 .6 0 .6 0 .5 0 .6 1.5 .6 0 .6 0 .6 0 .6-1.5 .6 0 .6 0 .6 1.5 .6-1.5 .5 0 .6 0 .6 0 .6 1.5 .6-1.5 .6 0 .6 0 .6 0 .6 0 .5-1.5 .6 1.5 .6 0 .6 0 .6 0 .6 0 .6 0 .6-1.5 .6 0 .5 3 .6-1.5 .6 0 .6 1.5 .6 0 .6-1.5 .6 1.5 .6-1.5 .6 0 .5 0 .6 0 .6 1.5 .6 0 .6 0 .6-1.5 .6-1.5 .6 1.5 .6 0 .5 0 .6 0 .6 0 .6 0 .6-1.5 .6 0 .6 0 .6 0 .6-1.5 .5 0 .6-1.5 .6 0 .6 0 .6-1.5 .6 0 .6-1.5 .6 0 .6-1.5 .6-1.5 .5-1.5 .6 0 .6-1.5 .6-3 .6 0 .6-3 .6 0 .6-1.5 .6 0 .5-1.5 .6 1.5 .6 0 .6 0 .6 0 .6 1.5 .6 0 .6 0 .6 1.5 .5 0 .6 1.5 .6 0 .6 0 .6-1.5 .6 1.5 .6-1.5 .6-1.5 .6-1.5 .5-1.5 .6-3 .6-3 .6-3 .6-6 .6-4.5 .6-4.5 .6-6 .6-6 .5-4.5 .6-4.5 .6-6 .6-3 .6-1.5 .6 0 .6 3 .6 1.5 .6 4.5 .6 6 .5 4.5 .6 7.5 .6 6 .6 4.5 .6 4.5 .6 4.5 .6 4.5 .6 3 .6 3 .5 1.5 .6 3 .6 1.5 .6 3 .6 1.5 .6 0 .6 3 .6 0 .6 1.5 .5 1.5 .6 0 .6 0 .6 1.5 .6-1.5 .6 1.5 .6 0 .6 0 .6 0 .5 0 .6 1.5 .6-1.5 .6 0 .6 0 .6 1.5 .6 1.5 .6-1.5 .6 0 .5 0 .6 0 .6 0 .6 0 .6 1.5 .6 0 .6 0 .6 0 .6 0 .6-1.5 .5 1.5 .6 0 .6 0 .6 0 .6-1.5 .6 0 .6 1.5 .6-1.5 .6 1.5 .5 1.5 .6-1.5 .6 0 .6 0 .6 0 .6 0 .6 0 .6 0 .6 1.5 .5-1.5 .6 0 .6 0 .6 0 .6 1.5 .6-1.5 .6 1.5 .6 1.5 .6 0 .5 0 .6 0 .6-1.5 .6 1.5 .6 0 .6-1.5 .6 1.5 .6 0 .6-1.5 .5 1.5 .6 0 .6 0 .6-1.5 .6 1.5 .6-1.5 .6 0 .6 0 .6 0 .5 0 .6 0 .6-1.5 .6 1.5 .6 0 .6 0 .6 0 .6 0 .6 0 .6 0 .5 0 .6 0 .6 0 .6-1.5 .6 1.5 .6 0 .6 0 .6 0 .6 0 .5 1.5 .6 0 .6-1.5 .6 0 .6 0 .6 0 .6 0 .6 0 .6 0 .5 0 .6 0 .6 0 .6-1.5 .6 1.5 .6 0 .6-1.5 .6 0 .6 0 .5 1.5 .6 0 .6 0 .6-1.5 .6 3 .6-1.5 .6 0 .6 1.5 .6-1.5 .5 0 .6 0 .6 0 .6 0 .6 1.5 .6 0 .6-1.5 .6 0 .6 1.5 .6 0 .5 0 .6 0 .6 0 .6 0 .6-1.5 .6 0 .6 1.5 .6 0 .6-1.5 .5 0 .6 1.5 .6-1.5 .6 0 .6 0 .6 0 .6 0 .6 0 .6 0 .5 1.5 .6-1.5 .6 0 .6 0 .6 0 .6 0 .6 0 .6 1.5 .6-1.5 .5 0 .6-1.5 .6 1.5 .6 0 .6-1.5 .6 1.5 .6-1.5 .6 1.5 .6 0 .5 0 .6 0 .6 0 .6-1.5 .6 0 .6 0 .6 1.5 .6 0 .6-1.5 .5 0 .6 1.5 .6-1.5 .6 0 .6 1.5 .6 0 .6 0 .6-1.5 .6 0 .6 1.5 .5 0 .6 0 .6 0 .6-1.5 .6 0 .6 0 .6 0 .6 0 .6 0 .5 0 .6 0 .6 1.5 .6-1.5 .6 0 .6 0 .6 0 .6 0 .6 1.5 .5-1.5 .6 0 .6 0 .6 0 .6 0 .6 1.5 .6 0 .6 0 .6 0 .5 0 .6 0 .6 0 .6-1.5 .6 1.5 .6 0 .6 0 .6-1.5 .6 0 .5 0 .6 0 .6 1.5 .6 0 .6-1.5 .6 1.5 .6 0 .6 0 .6-1.5 .6 1.5 .5-1.5 .6 1.5 .6 0 .6-1.5 .6 0 .6 0 .6 0 .6 0 .6-1.5 .5 3 .6-1.5 .6 0 .6 0 .6 0 .6-1.5 .6 0 .6 0 .6 0 .5 0 .6 0 .6 0 .6 0 .6 0 .6-1.5 .6 0 .6 0 .6 0 .5-1.5 .6 1.5 .6-3 .6 0 .6 0 .6-1.5 .6 0 .6-1.5 .6-1.5 .5-1.5 .6-1.5 .6-1.5 .6-1.5 .6-3 .6-1.5 .6-1.5 .6-3 .6 0 .6-1.5 .5-1.5 .6 0 .6 0 .6 1.5 .6 0 .6 1.5 .6 3 .6 0 .6 1.5 .5 3 .6 1.5 .6 1.5 .6 1.5 .6 0 .6 3 .6 0 .6 1.5 .6 1.5 .5 0 .6 1.5 .6 1.5 .6 0 .6 0 .6 0 .6 1.5 .6 0 .6 1.5 .5 0 .6-1.5 .6 1.5 .6 0 .6-1.5 .6 1.5 .6 0 .6-1.5 .6 1.5 .5 0 .6 0 .6 0 .6 0 .6-1.5 .6 1.5 .6 0 .6 0 .6 0 .5 0 .6 0 .6 1.5 .6 0 .6-1.5 .6-1.5 .6 0 .6 1.5 .6-1.5 .6 1.5 .5 0 .6-1.5 .6-1.5 .6 0 .6 0 .6-1.5 .6-1.5 .6 0 .6-1.5 .5-1.5 .6 0 .6-1.5 .6 0 .6-3 .6-3 .6-1.5 .6-1.5 .6-3 .5-1.5 .6-1.5 .6-3 .6-1.5 .6-1.5 .6-1.5 .6 0 .6 1.5 .6 0 .5 1.5 .6 1.5 .6 3 .6 1.5 .6 1.5 .6 3 .6 1.5 .6 3 .6 1.5 .5 1.5 .6 1.5 .6 1.5 .6 1.5 .6 3 .6 0 .6 1.5 .6 0 .6 1.5 .6 0 .5 0 .6 1.5 .6 0 .6 0 .6 1.5 .6-1.5 .6 0 .6 1.5 .6 0 .5 0 .6 0 .6 0 .6-1.5 .6 0 .6 0 .6 1.5 .6 0 .6 0 .5 0 .6 0 .6 0 .6 1.5 .6 0 .6 0 .6 0 .6 1.5 .6-1.5 .5 0 .6 1.5 .6-1.5 .6 1.5 .6 0 .6 0 .6 0 .6-1.5 .6 0 .5 0 .6 0 .6 0 .6 0 .6 0 .6-1.5 .6 1.5 .6-1.5 .6 0 .6 1.5 .5-1.5 .6 1.5 .6 0 .6 0 .6 0 .6 0 .6 0 .6-1.5 .6 1.5 .5-1.5 .6 0 .6 0 .6 1.5 .6 0 .6 0 .6-1.5 .6 0 .6 1.5 .5 0 .6-1.5 .6 0 .6 0 .6 0 .6 0 .6 0 .6 0 .6 1.5 .5 0 .6-1.5 .6 1.5 .6 0 .6 0 .6 0 .6-1.5 .6 1.5 .6 0 .5-1.5 .6 1.5 .6 0 .6 0 .6 0 .6 0 .6 0 .6 0 .6 0 .5-1.5 .6 1.5 .6-1.5 .6 1.5 .6-1.5 .6 1.5 .6-1.5 .6 0 .6 0 .6 1.5 .5 0 .6 0 .6-1.5 .6 0 .6 0 .6 0 .6 0 .6 1.5 .6-1.5 .5 0 .6 1.5 .6 0 .6-1.5 .6 1.5 .6 0 .6 0 .6-1.5 .6 1.5 .5-1.5 .6 0 .6 1.5 .6 0 .6-1.5 .6 0 .6 0 .6 0 .6 0 .5 0 .6 0 .6 0 .6 0 .6 0 .6 0 .6 1.5 .6-1.5 .6 0 .5 0 .6 0 .6 0 .6 0 .6 0 .6 0 .6 0 .6 0 .6 0 .6 0 .5-1.5 .6 1.5 .6-1.5 .6 1.5 .6-1.5 .6 1.5 .6-1.5 .6 1.5 .6-1.5 .5 1.5 .6-1.5 .6 0 .6 0 .6 0 .6 1.5 .6-1.5 .6 0 .6 1.5 .5 0 .6 0 .6-1.5 .6 1.5 .6 0 .6 0 .6 0 .6 0 .6 0 .5 0 .6 0 .6 0 .6 0 .6-1.5 .6 0 .6 1.5 .6-1.5 .6 1.5 .5 0 .6-1.5 .6 0 .6-1.5 .6 0 .6 0 .6-1.5 .6 0 .6-1.5 .6 0 .5 0 .6-3 .6 0 .6-1.5 .6 0 .6-1.5 .6-3 .6 0 .6-3 .5-1.5 .6-3 .6-1.5 .6-3 .6-3 .6-1.5 .6-3 .6-3 .6-3 .5-1.5 .6 0 .6 0 .6 0 .6 1.5 .6 1.5 .6 1.5 .6 3 .6 3 .5 3 .6 1.5 .6 3 .6 3 .6 1.5 .6 1.5 .6 3 .6 0 .6 1.5 .5 1.5 .6 1.5 .6 1.5 .6 0 .6 1.5 .6 1.5 .6 1.5 .6 0 .6 0 .5 1.5 .6 0 .6 0 .6 0 .6 1.5 .6 0 .6 0 .6 0 .6 0 .6-1.5 .5 0 .6-1.5 .6 0 .6 0 .6-1.5 .6 0 .6-1.5 .6 0 .6 0 .5-1.5 .6-1.5 .6-1.5 .6 0 .6-1.5 .6-1.5 .6 0 .6 0 .6-1.5 .5 0 .6 1.5 .6 0 .6 1.5 .6 0 .6 1.5 .6 1.5 .6 1.5 .6 0 .5 1.5 .6 0 .6 1.5 .6 0 .6 1.5 .6 1.5 .6 0 .6 0 .6 0 .5 0 .6 1.5 .6 0 .6 0 .6 0 .6 0 .6 0 .6 0 .6 0 .6 0 .5 0 .6 0 .6 0 .6 0 .6 0 .6 0 .6 1.5 .6 0 .6 0 .5 0 .6 0 .6 0 .6 0 .6 1.5 .6-1.5 .6 0 .6 0 .6 0 .5 1.5 .6-1.5 .6 0 .6 0 .6 0 .6 1.5 .6 0 .6 0 .6 0 .5 0 .6 1.5 .6-1.5 .6 1.5 .6-1.5 .6 0 .6 0 .6 0 .6 0 .5 0 .6 1.5 .6-1.5 .6 0 .6 0 .6 0 .6 0 .6 0 .6 0 .5 0 .6-1.5 .6 1.5 .6 0 .6-1.5 .6 0 .6 0 .6 0 .6 0 .6 0 .5 0 .6 1.5 .6-1.5 .6 1.5 .6-1.5 .6 1.5 .6-1.5 .6 1.5 .6 0 .5-1.5 .6 1.5 .6 0 .6 0 .6-1.5 .6 1.5 .6-1.5 .6 0 .6 0 .5 1.5 .6-1.5 .6 1.5 .6 0 .6 0 .6 0 .6 0 .6 0 .6 0 .5 0 .6-1.5 .6 1.5 .6 0 .6 0 .6 0 .6 1.5 .6-1.5 .6 0 .5 0 .6 1.5 .6-1.5 .6 0 .6 0 .6 0 .6 0 .6 0 .6 1.5 .6-1.5 .5 0 .6 0 .6 1.5 .6 0 .6 0 .6-1.5 .6 1.5 .6 0 .6-1.5 .5 0 .6 0 .6 0 .6 0 .6 0 .6 0 .6 0 .6 0 .6 0 .5 0 .6 0 .6 0 .6 0 .6 0 .6 0 .6 1.5 .6-1.5 .6 1.5 .5 0 .6 0 .6-1.5 .6 1.5 .6-1.5 .6 1.5 .6-1.5 .6 1.5 .6-1.5 .5 0 .6 0 .6 0 .6 0 .6 0 .6 1.5 .6-3 .6 1.5 .6 0 .6 1.5 .5-1.5 .6 1.5 .6 0 .6 0 .6-1.5 .6 0 .6 1.5 .6-1.5 .6 1.5 .5 0 .6-1.5 .6 0 .6 0 .6 0 .6 0 .6 0 .6 0 .6 0 .5 0 .6 0 .6 1.5 .6-1.5 .6 0 .6 0 .6 0 .6 0 .6 0 .5-1.5 .6 0 .6 1.5 .6 1.5 .6-1.5 .6 0" fill="none" stroke="#177FC0" stroke-width="21" stroke-linejoin="round" stroke-linecap="round" clip-path="url(#cb)"/>
<path d="M192.3 3006l.6 1.5 .6 0 .6 0 .6 0 .6 1.5 .6-1.5 .5 0 .6-1.5 .6 3 .6-3 .6 3 .6 0 .6-4.5 .6 3 .6-3 .5 0 .6 0 .6 1.5 .6 0 .6 3 .6-6 .6 1.5 .6 1.5 .6-1.5 .5-1.5 .6 3 .6 0 .6 1.5 .6-1.5 .6 3 .6-1.5 .6 1.5 .6-3 .6-1.5 .5 6 .6-1.5 .6 1.5 .6 0 .6-1.5 .6 0 .6 3 .6-3 .6 1.5 .5 0 .6 1.5 .6 1.5 .6-3 .6 4.5 .6-3 .6-1.5 .6 0 .6 1.5 .5 1.5 .6-4.5 .6 1.5 .6 0 .6-1.5 .6 0 .6 1.5 .6 0 .6 0 .5-1.5 .6 1.5 .6 1.5 .6 0 .6 0 .6-1.5 .6 3 .6 0 .6-1.5 .5 0 .6 0 .6 1.5 .6 0 .6 0 .6 0 .6 0 .6 1.5 .6-3 .6 1.5 .5-3 .6 3 .6 1.5 .6 0 .6 0 .6-1.5 .6 0 .6 1.5 .6 1.5 .5 0 .6 3 .6 1.5 .6-1.5 .6-3 .6 1.5 .6 0 .6-1.5 .6 1.5 .5 0 .6-1.5 .6 0 .6-3 .6 1.5 .6 1.5 .6 0 .6-3 .6 3 .5-1.5 .6-1.5 .6 1.5 .6 1.5 .6-1.5 .6 3 .6-3 .6 0 .6 1.5 .5 0 .6-1.5 .6 1.5 .6-1.5 .6 3 .6-1.5 .6-1.5 .6 1.5 .6-3 .6 1.5 .5 3 .6-6 .6 4.5 .6 0 .6-1.5 .6 1.5 .6-3 .6 3 .6-1.5 .5 3 .6-3 .6 3 .6 0 .6-1.5 .6 3 .6-3 .6 6 .6 0 .5-3 .6 3 .6-1.5 .6 0 .6 1.5 .6-3 .6 3 .6-1.5 .6 1.5 .5-4.5 .6 3 .6 1.5 .6-3 .6 1.5 .6 0 .6-1.5 .6 0 .6 1.5 .5-4.5 .6 3 .6-1.5 .6 0 .6 0 .6 0 .6 1.5 .6 0 .6-1.5 .5-1.5 .6 3 .6 0 .6 1.5 .6-3 .6 1.5 .6-1.5 .6-3 .6 3 .6 1.5 .5-1.5 .6 3 .6-1.5 .6-1.5 .6 1.5 .6-1.5 .6 1.5 .6-1.5 .6 0 .5-1.5 .6 1.5 .6 0 .6 0 .6 0 .6 1.5 .6-1.5 .6-1.5 .6 3 .5-1.5 .6 3 .6-3 .6 0 .6 1.5 .6-1.5 .6 1.5 .6 1.5 .6-3 .5 3 .6-1.5 .6 1.5 .6 1.5 .6 0 .6 0 .6-1.5 .6 3 .6-1.5 .5-3 .6 4.5 .6-3 .6 3 .6-3 .6 3 .6 0 .6-1.5 .6 1.5 .6 0 .5-3 .6 4.5 .6-3 .6 0 .6 0 .6 1.5 .6-1.5 .6-1.5 .6 3 .5-3 .6 3 .6-3 .6 4.5 .6-1.5 .6 0 .6 0 .6 0 .6-1.5 .5 3 .6-1.5 .6 1.5 .6-3 .6 1.5 .6 0 .6-1.5 .6 1.5 .6 1.5 .5 1.5 .6-1.5 .6 0 .6 3 .6-4.5 .6 4.5 .6-3 .6 3 .6-1.5 .5 1.5 .6 0 .6-1.5 .6 0 .6 0 .6 1.5 .6-3 .6 3 .6-1.5 .5-1.5 .6 3 .6-4.5 .6 0 .6 1.5 .6 0 .6 1.5 .6 0 .6-3 .6 1.5 .5 0 .6-3 .6 3 .6-3 .6 3 .6-1.5 .6 1.5 .6 1.5 .6-1.5 .5 1.5 .6-3 .6 1.5 .6 1.5 .6-3 .6 0 .6 1.5 .6 0 .6-1.5 .5 3 .6-1.5 .6-3 .6 4.5 .6 0 .6 0 .6 1.5 .6-1.5 .6 0 .5 0 .6-1.5 .6 1.5 .6-1.5 .6 1.5 .6-1.5 .6 0 .6 0 .6 3 .5-1.5 .6 1.5 .6 0 .6 0 .6-1.5 .6 0 .6 4.5 .6-4.5 .6 0 .6 1.5 .5 0 .6 0 .6-3 .6 1.5 .6 1.5 .6-1.5 .6 3 .6-1.5 .6-1.5 .5 1.5 .6 1.5 .6 1.5 .6-1.5 .6-1.5 .6 1.5 .6 0 .6 0 .6 1.5 .5-3 .6 0 .6 1.5 .6 0 .6-3 .6 1.5 .6-1.5 .6 1.5 .6 0 .5-1.5 .6 1.5 .6-1.5 .6 0 .6 0 .6 1.5 .6 0 .6 0 .6 1.5 .5 0 .6-3 .6 3 .6-1.5 .6 1.5 .6 1.5 .6 0 .6-1.5 .6-1.5 .6 1.5 .5-1.5 .6 3 .6-1.5 .6 1.5 .6-1.5 .6-1.5 .6 1.5 .6 0 .6 1.5 .5-1.5 .6 0 .6-3 .6 1.5 .6-1.5 .6 4.5 .6 0 .6-3 .6 0 .5-1.5 .6 0 .6-1.5 .6 3 .6-1.5 .6 1.5 .6 0 .6 0 .6 0 .5 0 .6 0 .6 0 .6-1.5 .6 1.5 .6 0 .6 1.5 .6-1.5 .6 1.5 .5 0 .6 0 .6 0 .6-1.5 .6 3 .6-3 .6 1.5 .6 0 .6 1.5 .5-1.5 .6 0 .6-1.5 .6 1.5 .6 0 .6 1.5 .6 1.5 .6-3 .6 0 .6 3 .5-1.5 .6 1.5 .6-1.5 .6-1.5 .6 3 .6 0 .6-3 .6 1.5 .6 1.5 .5-3 .6-1.5 .6 1.5 .6 1.5 .6 1.5 .6-1.5 .6-1.5 .6 0 .6-1.5 .5 1.5 .6-1.5 .6 1.5 .6 1.5 .6-3 .6 1.5 .6 0 .6 0 .6 0 .5 0 .6 1.5 .6 1.5 .6-3 .6 3 .6-1.5 .6 1.5 .6 0 .6-3 .5 3 .6-1.5 .6 1.5 .6 0 .6 0 .6 1.5 .6 0 .6 0 .6 1.5 .6-3 .5 1.5 .6-1.5 .6 0 .6 1.5 .6 0 .6 0 .6 1.5 .6-1.5 .6 0 .5 0 .6 1.5 .6-3 .6-1.5 .6 3 .6-3 .6 1.5 .6-1.5 .6 0 .5 1.5 .6-4.5 .6 1.5 .6 3 .6 0 .6 0 .6 0 .6-1.5 .6 0 .5 3 .6-1.5 .6 0 .6 0 .6 0 .6 0 .6 0 .6 1.5 .6 1.5 .5-1.5 .6 1.5 .6 0 .6 0 .6-1.5 .6 3 .6-1.5 .6 1.5 .6 1.5 .6-1.5 .5 0 .6-1.5 .6 0 .6 0 .6-1.5 .6 3 .6-1.5 .6 1.5 .6-3 .5 0 .6-1.5 .6 0 .6 1.5 .6-1.5 .6 1.5 .6 0 .6-1.5 .6 3 .5 0 .6 1.5 .6-4.5 .6 1.5 .6 0 .6 0 .6 1.5 .6 1.5 .6-3 .5 0 .6 0 .6 0 .6 0 .6 1.5 .6 0 .6 0 .6 0 .6-3 .5 1.5 .6 1.5 .6-1.5 .6 1.5 .6 0 .6-1.5 .6 0 .6 0 .6 0 .5 0 .6-3 .6 1.5 .6 0 .6 1.5 .6 0 .6 0 .6-1.5 .6 0 .6 0 .5 3 .6-1.5 .6 0 .6 0 .6 1.5 .6-3 .6 3 .6 0 .6-1.5 .5 0 .6 1.5 .6-1.5 .6 0 .6 0 .6 1.5 .6-1.5 .6 0 .6 0 .5 1.5 .6-1.5 .6-1.5 .6 3 .6-1.5 .6 0 .6 0 .6 1.5 .6-1.5 .5 0 .6-3 .6 3 .6 0 .6 1.5 .6-1.5 .6-1.5 .6 1.5 .6 0 .5 0 .6 0 .6 0 .6-1.5 .6 0 .6 1.5 .6 0 .6-1.5 .6-1.5 .6 1.5 .5-3 .6 6 .6-1.5 .6 0 .6-1.5 .6-1.5 .6 3 .6-1.5 .6 0 .5-1.5 .6 0 .6 3 .6 0 .6-3 .6 1.5 .6 0 .6 0 .6 3 .5-3 .6 0 .6 1.5 .6-1.5 .6 1.5 .6-1.5 .6 0 .6 0 .6 0 .5 3 .6-3 .6 0 .6 1.5 .6-1.5 .6 0 .6 0 .6-1.5 .6 3 .5 0 .6 0 .6-1.5 .6 4.5 .6-4.5 .6 1.5 .6-1.5 .6 0 .6 1.5 .6-1.5 .5 1.5 .6-1.5 .6 1.5 .6-1.5 .6 0 .6 0 .6 0 .6-1.5 .6 0 .5 0 .6-1.5 .6 0 .6 0 .6 0 .6 0 .6 0 .6 0 .6 0 .5 0 .6-1.5 .6 0 .6 1.5 .6-1.5 .6 0 .6-1.5 .6 0 .6 1.5 .5 0 .6 0 .6-3 .6 3 .6-1.5 .6-3 .6 1.5 .6 0 .6 0 .5 0 .6 1.5 .6-1.5 .6 0 .6-1.5 .6 0 .6 0 .6 0 .6-1.5 .5 0 .6 1.5 .6-1.5 .6-1.5 .6 0 .6 3 .6-3 .6 0 .6 0 .6-1.5 .5 1.5 .6-1.5 .6-1.5 .6 0 .6 0 .6-3 .6 1.5 .6 0 .6-3 .5-1.5 .6-3 .6 0 .6-3 .6-1.5 .6-1.5 .6-3 .6-3 .6-1.5 .5-3 .6-4.5 .6-3 .6-3 .6-6 .6-6 .6-4.5 .6-9 .6-9 .5-10.5 .6-12 .6-13.5 .6-15 .6-18 .6-19.5 .6-25.5 .6-27 .6-28.5 .5-30 .6-34.5 .6-34.5 .6-34.5 .6-31.5 .6-27 .6-21 .6-9 .6 0 .6 10.5 .5 19.5 .6 30 .6 31.5 .6 33 .6 34.5 .6 36 .6 30 .6 31.5 .6 27 .5 21 .6 19.5 .6 21 .6 12 .6 15 .6 13.5 .6 9 .6 6 .6 10.5 .5 7.5 .6 6 .6 4.5 .6 4.5 .6 3 .6 3 .6 6 .6 0 .6 4.5 .5 0 .6 1.5 .6 3 .6 0 .6 1.5 .6 3 .6-1.5 .6 1.5 .6 1.5 .5 3 .6 3 .6-3 .6 1.5 .6 0 .6 1.5 .6 0 .6 1.5 .6 1.5 .5 0 .6 1.5 .6 0 .6 0 .6 0 .6 0 .6 1.5 .6-1.5 .6 1.5 .6 1.5 .5 0 .6 0 .6-1.5 .6 1.5 .6 1.5 .6 0 .6 0 .6 0 .6-1.5 .5 0 .6 1.5 .6 1.5 .6-1.5 .6-1.5 .6 1.5 .6-1.5 .6 3 .6 0 .5-1.5 .6 0 .6-1.5 .6 3 .6 0 .6 0 .6 0 .6 0 .6 0 .5 0 .6 0 .6 0 .6 0 .6 3 .6-3 .6-1.5 .6 1.5 .6-1.5 .5 0 .6-3 .6 0 .6-1.5 .6 0 .6-4.5 .6 0 .6-3 .6-3 .6-1.5 .5-4.5 .6-1.5 .6-1.5 .6-1.5 .6 1.5 .6 0 .6 1.5 .6 3 .6 3 .5 3 .6 0 .6 6 .6 3 .6-1.5 .6 3 .6 1.5 .6 3 .6 1.5 .5-1.5 .6 0 .6 3 .6-1.5 .6 0 .6-1.5 .6 1.5 .6 0 .6 0 .5 1.5 .6-1.5 .6 0 .6 3 .6 0 .6-1.5 .6 1.5 .6 0 .6 0 .5 1.5 .6-1.5 .6-1.5 .6 1.5 .6 0 .6-1.5 .6 3 .6 0 .6 0 .6 0 .5 0 .6 0 .6-1.5 .6 1.5 .6 1.5 .6 0 .6 0 .6 0 .6 0 .5 0 .6 0 .6 0 .6 0 .6 0 .6 0 .6 1.5 .6-1.5 .6 0 .5 1.5 .6-1.5 .6 1.5 .6-1.5 .6 1.5 .6 0 .6 0 .6 0 .6 0 .5-1.5 .6 0 .6 1.5 .6 0 .6-1.5 .6 0 .6 0 .6 0 .6 1.5 .5-1.5 .6 0 .6 0 .6-1.5 .6 0 .6 1.5 .6 0 .6-1.5 .6 1.5 .5 3 .6-1.5 .6-1.5 .6 1.5 .6-3 .6 3 .6-1.5 .6 0 .6 1.5 .6-1.5 .5 1.5 .6-1.5 .6 1.5 .6 0 .6-1.5 .6 0 .6 1.5 .6-1.5 .6 0 .5 0 .6 1.5 .6 0 .6-1.5 .6 0 .6 0 .6 0 .6 0 .6 0 .5 0 .6 0 .6-1.5 .6 3 .6 0 .6-1.5 .6 1.5 .6 0 .6 0 .5 0 .6 0 .6 0 .6 0 .6 0 .6 0 .6 0 .6 1.5 .6 0 .5 0 .6 0 .6 0 .6 0 .6 1.5 .6-3 .6 1.5 .6 0 .6-1.5 .6 1.5 .5 0 .6 1.5 .6-3 .6-1.5 .6 3 .6-3 .6 1.5 .6 0 .6 0 .5-3 .6 1.5 .6 0 .6-1.5 .6 3 .6-1.5 .6 0 .6-1.5 .6 3 .5-3 .6 0 .6 3 .6-3 .6 1.5 .6 0 .6 1.5 .6-1.5 .6 1.5 .5 0 .6 0 .6-1.5 .6 0 .6 0 .6 0 .6 1.5 .6 0 .6 0 .5-1.5 .6 3 .6-1.5 .6 0 .6-1.5 .6 0 .6 1.5 .6-1.5 .6 0 .6 1.5 .5 0 .6-1.5 .6 0 .6 0 .6 1.5 .6-1.5 .6 1.5 .6 0 .6 0 .5 0 .6 0 .6-1.5 .6 0 .6 0 .6 0 .6 1.5 .6-3 .6 1.5 .5 0 .6 0 .6-1.5 .6 0 .6 0 .6 0 .6 1.5 .6 0 .6-1.5 .5 1.5 .6-1.5 .6 1.5 .6-1.5 .6 1.5 .6 0 .6 0 .6 0 .6 0 .5 0 .6 1.5 .6-1.5 .6 3 .6-1.5 .6 1.5 .6-1.5 .6 0 .6 1.5 .5 0 .6 1.5 .6 0 .6 0 .6 0 .6-1.5 .6 1.5 .6 0 .6-1.5 .6 0 .5 0 .6 0 .6-1.5 .6 0 .6-1.5 .6 3 .6-1.5 .6-1.5 .6 1.5 .5-3 .6 1.5 .6 0 .6 0 .6-1.5 .6 0 .6 1.5 .6-1.5 .6-1.5 .5 3 .6-3 .6 0 .6 3 .6-1.5 .6 0 .6 1.5 .6 0 .6 0 .5 0 .6 1.5 .6 0 .6-3 .6 1.5 .6 1.5 .6-1.5 .6 1.5 .6-1.5 .5 0 .6 0 .6 1.5 .6-1.5 .6-3 .6 3 .6-1.5 .6 1.5 .6-1.5 .6 1.5 .5 0 .6 0 .6 0 .6-1.5 .6 1.5 .6 0 .6 0 .6 0 .6 0 .5 0 .6 1.5 .6 0 .6 0 .6-1.5 .6 0 .6 0 .6 0 .6 0 .5 3 .6-3 .6 0 .6 0 .6 0 .6 0 .6 0 .6 0 .6 0 .5-1.5 .6 0 .6 3 .6-1.5 .6 0 .6 1.5 .6 0 .6-1.5 .6 0 .5 0 .6 1.5 .6 0 .6-1.5 .6 1.5 .6-1.5 .6-1.5 .6 0 .6 1.5 .6 0 .5-1.5 .6 1.5 .6-1.5 .6 0 .6 0 .6 0 .6 0 .6 1.5 .6-3 .5 0 .6 0 .6 0 .6 1.5 .6-1.5 .6 0 .6 1.5 .6 1.5 .6-1.5 .5 1.5 .6-1.5 .6-1.5 .6 1.5 .6-1.5 .6 1.5 .6 0 .6-1.5 .6 1.5 .5 0 .6-1.5 .6 0 .6 0 .6 0 .6 0 .6 1.5 .6 0 .6-1.5 .5 0 .6 0 .6 0 .6 0 .6 0 .6 0 .6 0 .6 3 .6-4.5 .5 3 .6-1.5 .6 1.5 .6 0 .6-1.5 .6 0 .6 0 .6 0 .6 0 .6 1.5 .5 0 .6-1.5 .6-1.5 .6 1.5 .6 0 .6 1.5 .6 0 .6 0 .6-1.5 .5 0 .6-1.5 .6 3 .6 0 .6 0 .6 0 .6 0 .6 0 .6 0 .5 1.5 .6 0 .6-3 .6 1.5 .6 0 .6-1.5 .6 0 .6 0 .6-1.5 .5 0 .6 0 .6-3 .6 0 .6 0 .6-1.5 .6-1.5 .6-1.5 .6 0 .5-1.5 .6-1.5 .6 0 .6-1.5 .6 0 .6-1.5 .6 0 .6 1.5 .6 0 .6 1.5 .5 1.5 .6 1.5 .6-1.5 .6 1.5 .6 1.5 .6 1.5 .6 0 .6 1.5 .6 0 .5 0 .6 1.5 .6 0 .6 0 .6 1.5 .6-1.5 .6 0 .6 1.5 .6-3 .5-1.5 .6 3 .6-3 .6 0 .6 0 .6-1.5 .6 0 .6 0 .6-1.5 .5-3 .6 1.5 .6-3 .6 0 .6 0 .6-1.5 .6-1.5 .6-1.5 .6-1.5 .5 0 .6 0 .6 1.5 .6-1.5 .6 0 .6 0 .6 0 .6 1.5 .6 0 .5 1.5 .6 0 .6 1.5 .6 0 .6 0 .6 1.5 .6 0 .6 1.5 .6 0 .6 0 .5 0 .6 1.5 .6-1.5 .6 0 .6-1.5 .6 1.5 .6-1.5 .6-1.5 .6 0 .5-3 .6-1.5 .6 0 .6-1.5 .6-3 .6-3 .6-3 .6-1.5 .6-4.5 .5-1.5 .6-3 .6-4.5 .6-3 .6-3 .6-3 .6-4.5 .6-3 .6 0 .5-3 .6 3 .6-1.5 .6 3 .6 1.5 .6 3 .6 3 .6 3 .6 4.5 .5 3 .6 3 .6 1.5 .6 4.5 .6 3 .6 1.5 .6 1.5 .6 3 .6 0 .6 1.5 .5 3 .6-1.5 .6-1.5 .6 1.5 .6 0 .6 0 .6 1.5 .6-1.5 .6 0 .5-1.5 .6-1.5 .6 0 .6-1.5 .6-1.5 .6 1.5 .6-3 .6 0 .6 1.5 .5 0 .6 0 .6-1.5 .6 1.5 .6 3 .6-1.5 .6 3 .6 1.5 .6 0 .5 0 .6 3 .6 1.5 .6 0 .6 0 .6 4.5 .6 0 .6 1.5 .6 0 .5 0 .6 0 .6 3 .6 0 .6 0 .6 1.5 .6 0 .6 0 .6 0 .6 0 .5 0 .6 1.5 .6 0 .6 0 .6 0 .6 1.5 .6-1.5 .6 0 .6 0 .5 1.5 .6 0 .6 0 .6 0 .6 0 .6 0 .6 1.5 .6 0 .6 0 .5 1.5 .6 0 .6 0 .6 0 .6 0 .6 0 .6 0 .6 1.5 .6 1.5 .5-1.5 .6 0 .6 1.5 .6 0 .6 0 .6 1.5 .6-1.5 .6 1.5 .6-1.5 .5 1.5 .6-1.5 .6 0 .6 1.5 .6-1.5 .6 3 .6-1.5 .6-1.5 .6 1.5 .5 0 .6 0 .6-1.5 .6 1.5 .6 0 .6-1.5 .6 1.5 .6-1.5 .6 0 .6 0 .5-1.5 .6 0 .6 1.5 .6-1.5 .6 1.5 .6-3 .6 1.5 .6 0 .6 1.5 .5 0 .6-1.5 .6 0 .6 1.5 .6 0 .6 0 .6 0 .6-3 .6 1.5 .5 0 .6 0 .6-1.5 .6 0 .6 0 .6 0 .6 1.5 .6-1.5 .6 0 .5 1.5 .6-1.5 .6 0 .6-1.5 .6 1.5 .6-3 .6 1.5 .6 0 .6 1.5 .5-1.5 .6-1.5 .6 1.5 .6-1.5 .6 0 .6 0 .6 0 .6 0 .6-1.5 .6 0 .5 1.5 .6-1.5 .6 1.5 .6-1.5 .6 3 .6-1.5 .6 0 .6 1.5 .6 0 .5 1.5 .6 0 .6 0 .6 0 .6 1.5 .6-1.5 .6 1.5 .6 0 .6 0 .5 0 .6 0 .6 0 .6 0 .6 1.5 .6 0 .6 0 .6-1.5 .6 0 .5 1.5 .6 1.5 .6-1.5 .6 0 .6 0 .6 1.5 .6-3 .6 1.5 .6 0 .5 0 .6 0 .6 0 .6 1.5 .6 0 .6-1.5 .6 0 .6-1.5 .6 1.5 .6 0 .5 0 .6-1.5 .6 1.5 .6 0 .6 0 .6 0 .6 0 .6-1.5 .6 1.5 .5 0 .6 0 .6 1.5 .6-1.5 .6 0 .6 0 .6 0 .6 0 .6 0 .5 1.5 .6-4.5 .6 3 .6 0 .6-1.5 .6 1.5 .6 0 .6 0 .6 0 .5 0 .6-1.5 .6 1.5 .6-1.5 .6 3 .6-1.5 .6-1.5 .6 1.5 .6-1.5 .5 0 .6 0 .6 1.5 .6 0 .6-1.5 .6 0 .6 0 .6 0 .6 0 .5 1.5 .6-1.5 .6 0 .6 0 .6 1.5 .6-1.5 .6 0 .6 0 .6 0 .6 0 .5 0 .6 0 .6 1.5 .6-1.5 .6 1.5 .6-1.5 .6 0 .6 0 .6 0 .5 0 .6 1.5 .6-1.5 .6 0 .6 0 .6 0 .6 1.5 .6-1.5 .6 0 .5 1.5 .6-1.5 .6 0 .6 0 .6-1.5 .6 1.5 .6 0 .6 0 .6-1.5 .5 0 .6 1.5 .6-1.5 .6 0 .6 1.5 .6-1.5 .6 0 .6 1.5 .6 0 .5 1.5 .6-1.5 .6 0 .6 1.5 .6 0 .6-1.5 .6 0 .6 1.5 .6 0 .6 0 .5-1.5 .6 0 .6 3 .6-1.5 .6 0 .6 0 .6 0 .6 0 .6 0 .5 0 .6 1.5 .6-1.5 .6 0 .6 0 .6 0 .6 0 .6 0 .6-1.5 .5 0 .6 1.5 .6 0 .6 0 .6 0 .6 1.5 .6-1.5 .6 3 .6-1.5 .5-1.5 .6 0 .6 1.5 .6-1.5 .6 0 .6 1.5 .6 0 .6 0 .6 0 .5 0 .6 0 .6-1.5 .6 1.5 .6 0 .6-1.5 .6 0 .6 0 .6 1.5 .5 0 .6-1.5 .6 1.5 .6 0 .6 0 .6-1.5 .6 1.5 .6 0 .6-1.5 .6 0 .5 0 .6 0 .6 1.5 .6-1.5 .6 1.5 .6-1.5 .6 0 .6 1.5 .6-1.5 .5 0 .6 0 .6 1.5 .6-3 .6 3 .6-1.5 .6 0 .6 1.5 .6 0 .5 0 .6 0 .6-1.5 .6 0 .6 1.5 .6 0 .6-1.5 .6 1.5 .6-1.5 .5 1.5 .6-3 .6 0 .6 1.5 .6-1.5 .6 1.5 .6 0 .6 0 .6 0 .5 0 .6 0 .6 0 .6 0 .6 0 .6-1.5 .6 3 .6-3 .6 1.5 .6 0 .5 0 .6 0 .6-1.5 .6 1.5 .6 1.5 .6-3 .6 1.5 .6 0 .6-1.5 .5 0 .6 1.5 .6 0 .6-1.5 .6 0 .6 0 .6 0 .6 0 .6 0 .5 1.5 .6-3 .6 1.5 .6 0 .6-1.5 .6 3 .6-1.5 .6 1.5 .6-1.5 .5 0 .6 1.5 .6 0 .6 0 .6-1.5 .6 1.5 .6-1.5 .6 1.5 .6-1.5 .5-1.5 .6 1.5 .6 0 .6 0 .6-1.5 .6 1.5 .6-1.5 .6 0 .6-1.5 .6 1.5 .5 0 .6-1.5 .6 0 .6 1.5 .6-1.5 .6 0 .6 0 .6 0 .6 0 .5 0 .6-1.5 .6 0 .6-1.5 .6 1.5 .6-1.5 .6 0 .6 0 .6 0 .5-1.5 .6 0 .6 0 .6 0 .6-1.5 .6-1.5 .6 0 .6-1.5 .6 0 .5-3 .6-1.5 .6-1.5 .6-3 .6-1.5 .6-3 .6-4.5 .6-3 .6-3 .5-6 .6-3 .6-6 .6-6 .6-6 .6-7.5 .6-4.5 .6-7.5 .6-6 .5-7.5 .6-6 .6-6 .6-6 .6-3 .6-1.5 .6 1.5 .6 1.5 .6 4.5 .6 3 .5 7.5 .6 4.5 .6 6 .6 7.5 .6 7.5 .6 7.5 .6 6 .6 4.5 .6 6 .5 6 .6 3 .6 4.5 .6 4.5 .6 3 .6 3 .6 3 .6 1.5 .6 3 .5 0 .6 4.5 .6 0 .6 1.5 .6 1.5 .6 1.5 .6 1.5 .6 0 .6 1.5 .5 0 .6 0 .6 1.5 .6 0 .6 0 .6 0 .6 3 .6 0 .6-1.5 .5 1.5 .6-1.5 .6 1.5 .6 0 .6 0 .6 1.5 .6 0 .6 0 .6 0 .6 0 .5 0 .6 0 .6 0 .6 0 .6 0 .6 1.5 .6-1.5 .6 1.5 .6-3 .5 3 .6 1.5 .6-1.5 .6-1.5 .6 1.5 .6 0 .6-1.5 .6 1.5 .6 0 .5 0 .6 0 .6 1.5 .6-1.5 .6 1.5 .6-1.5 .6 0 .6 1.5 .6 0 .5 0 .6 0 .6 1.5 .6 0 .6-1.5 .6 0 .6 1.5 .6-3 .6 1.5 .5 1.5 .6-1.5 .6 0 .6-1.5 .6 1.5 .6-1.5 .6 1.5 .6-1.5 .6 1.5 .6-1.5 .5 0 .6 1.5 .6 0 .6 0 .6-1.5 .6 1.5 .6 0 .6 0 .6 1.5 .5-1.5 .6 0 .6 0 .6 0 .6-1.5 .6 1.5 .6 0 .6 0 .6 0 .5 1.5 .6-1.5 .6 1.5 .6-1.5 .6 1.5 .6-1.5 .6 0 .6 0 .6 0 .5 0 .6 0 .6 0 .6 1.5 .6 0 .6-1.5 .6 1.5 .6 0 .6-1.5 .5 1.5 .6 0 .6-1.5 .6 1.5 .6 0 .6 0 .6 0 .6-1.5 .6 1.5 .5 0 .6 0 .6 1.5 .6-1.5 .6 0 .6 0 .6 0 .6 0 .6 0 .6-1.5 .5 1.5 .6 0 .6 0 .6 0 .6 0 .6 0 .6 1.5 .6-1.5 .6 1.5 .5-3 .6 1.5 .6 1.5 .6-1.5 .6 0 .6 0 .6 0 .6 0 .6 0 .5 0 .6 0 .6 0 .6 0 .6-1.5 .6 0 .6 1.5 .6 0 .6-1.5 .5 0 .6 0 .6 1.5 .6-1.5 .6 1.5 .6-1.5 .6 0 .6 1.5 .6-1.5 .5 0 .6 0 .6 0 .6 0 .6 1.5 .6-1.5 .6 0 .6 1.5 .6 0 .6-1.5 .5 1.5 .6 0 .6 1.5 .6-1.5 .6 0 .6-1.5 .6 1.5 .6-1.5 .6 0 .5 0 .6 0 .6 0 .6 1.5 .6-1.5 .6 0 .6 1.5 .6 0 .6-1.5 .5 0 .6 0 .6 0 .6 1.5 .6-1.5 .6 0 .6 0 .6 0 .6 0 .5 1.5 .6-1.5 .6 0 .6 1.5 .6-3 .6 1.5 .6 0 .6-1.5 .6 0 .5 0 .6-1.5 .6 1.5 .6 0 .6 0 .6 0 .6-1.5 .6 0 .6 0 .6 0 .5 0 .6 0 .6 0 .6-1.5 .6 0 .6 1.5 .6 0 .6 0 .6-1.5 .5 1.5 .6-1.5 .6 1.5 .6-1.5 .6 1.5 .6-1.5 .6 0 .6 0 .6-1.5 .5 0 .6 0 .6 0 .6 0 .6-1.5 .6 0 .6 0 .6-1.5 .6 0 .5 0 .6-1.5 .6-1.5 .6-1.5 .6-1.5 .6 0 .6-1.5 .6-1.5 .6-3 .5-1.5 .6-1.5 .6-3 .6-1.5 .6-1.5 .6-4.5 .6-1.5 .6-3 .6-1.5 .5-3 .6-3 .6-1.5 .6-1.5 .6-3 .6 1.5 .6-3 .6 0 .6 1.5 .6 1.5 .5 0 .6 3 .6 1.5 .6 0 .6 3 .6 1.5 .6 3 .6 3 .6 3 .5 3 .6 0 .6 1.5 .6 3 .6 3 .6 1.5 .6 1.5 .6 1.5 .6 1.5 .5 0 .6 0 .6 1.5 .6 1.5 .6 0 .6 0 .6-1.5 .6 1.5 .6 0 .5-1.5 .6 0 .6 0 .6-1.5 .6 0 .6-1.5 .6-3 .6-1.5 .6-3 .5-1.5 .6-1.5 .6-3 .6-1.5 .6-3 .6-3 .6-3 .6-3 .6-3 .6-3 .5-1.5 .6-3 .6-3 .6-3 .6 0 .6-1.5 .6 0 .6 1.5 .6 1.5 .5 1.5 .6 3 .6 3 .6 3 .6 4.5 .6 3 .6 3 .6 3 .6 3 .5 3 .6 3 .6 3 .6 1.5 .6 1.5 .6 3 .6 1.5 .6 1.5 .6 1.5 .5 1.5 .6 0 .6 0 .6 1.5 .6 0 .6 1.5 .6 1.5 .6 0 .6 0 .5 1.5 .6 0 .6 0 .6 1.5 .6 1.5 .6-1.5 .6 1.5 .6 0 .6 0 .5 0 .6 0 .6 0 .6 0 .6 0 .6 1.5 .6-1.5 .6 1.5 .6 0 .6 1.5 .5-1.5 .6 1.5 .6 0 .6 0 .6-1.5 .6 1.5 .6 0 .6 0 .6 0 .5 0 .6 0 .6 0 .6 0 .6 0 .6 1.5 .6-1.5 .6-1.5 .6 1.5 .5 0 .6 0 .6 0 .6 0 .6 0 .6 0 .6 0 .6 0 .6 1.5 .5-1.5 .6 1.5 .6 0 .6-1.5 .6 1.5 .6 0 .6 0 .6 0 .6 0 .5 0 .6 0 .6-1.5 .6 0 .6 0 .6 0 .6 0 .6 0 .6 0 .6 1.5 .5-1.5 .6 1.5 .6 0 .6 0 .6 1.5 .6-1.5 .6 0 .6 0 .6 1.5 .5-1.5 .6 0 .6-1.5 .6 3 .6 0 .6-3 .6 1.5 .6-1.5 .6 0 .5 1.5 .6-1.5 .6 0 .6 0 .6 0 .6 0 .6 0 .6 1.5 .6 0 .5 0 .6 0 .6 0 .6 0 .6 0 .6 0 .6 1.5 .6 0 .6-1.5 .5 1.5 .6 0 .6 0 .6 0 .6 0 .6-1.5 .6 0 .6-1.5 .6 1.5 .6 0 .5-1.5 .6 0 .6 1.5 .6 0 .6 0 .6 0 .6-1.5 .6 1.5 .6-1.5 .5 0 .6 0 .6 0 .6 1.5 .6 0 .6 0 .6 0 .6-1.5 .6 1.5 .5 0 .6 0 .6-1.5 .6 0 .6 1.5 .6-1.5 .6 1.5 .6-1.5 .6 0 .5 0 .6 0 .6 1.5 .6-1.5 .6 0 .6 0 .6 0 .6 1.5 .6-1.5 .5 1.5 .6-1.5 .6 0 .6 1.5 .6 0 .6-1.5 .6 1.5 .6 0 .6 0 .5-1.5 .6 3 .6-3 .6 0 .6 0 .6 1.5 .6-1.5 .6 1.5 .6 0 .6 0 .5 0 .6-1.5 .6 1.5 .6-1.5 .6 1.5 .6 0 .6 0 .6 0 .6-1.5 .5 1.5 .6 1.5 .6-1.5 .6-1.5 .6 1.5 .6 0 .6 0 .6-1.5 .6 1.5 .5 0 .6-1.5 .6 1.5 .6 0 .6 0 .6 0 .6-1.5 .6 1.5 .6 0 .5 0 .6 0 .6 0 .6 0 .6 0 .6-1.5 .6 0 .6 0 .6 0 .5 0 .6 0 .6 0 .6 0 .6 0 .6 0 .6-1.5 .6 1.5 .6 0 .6 0 .5 0 .6 0 .6-1.5 .6 1.5 .6 1.5 .6-1.5 .6 0 .6 1.5 .6 0 .5 0 .6-1.5 .6 0 .6 1.5 .6 0 .6-1.5 .6 0 .6 0 .6 0 .5 0 .6 0 .6 0 .6 0 .6 0 .6 0 .6 0 .6-1.5 .6 0 .5 1.5 .6 0 .6-1.5 .6 1.5 .6 0 .6 0 .6 0 .6 1.5 .6-1.5 .5 1.5 .6 0 .6 1.5 .6-1.5 .6 0 .6 0 .6 0 .6 0 .6 1.5 .6 0 .5 0 .6 0 .6-1.5 .6 0 .6 0 .6 0 .6 0 .6 0 .6 0 .5 0 .6-1.5 .6 0 .6 1.5 .6 0 .6 0 .6 0 .6 0 .6 0 .5 0 .6 0 .6 0 .6-1.5 .6 3 .6-1.5 .6 0 .6-1.5 .6 1.5 .5-1.5 .6 0 .6 0 .6 1.5 .6-3 .6 3 .6-1.5 .6 0 .6 0 .5 0 .6 0 .6 0 .6 0 .6-1.5 .6 0 .6 1.5 .6 0 .6-1.5 .5 1.5 .6-1.5 .6 1.5 .6-1.5 .6 0 .6 0 .6 0 .6 0 .6 0 .6-1.5 .5 0 .6 0 .6 0 .6 0 .6 0 .6 0 .6 0 .6-1.5 .6 0 .5 0 .6-1.5 .6 0 .6 0 .6 0 .6 0 .6-1.5 .6 0 .6-1.5 .5 0 .6-1.5 .6-1.5 .6 0 .6-1.5 .6-1.5 .6 0 .6-1.5 .6-3 .5 0 .6-3 .6-1.5 .6-1.5 .6-3 .6 0 .6-1.5 .6-3 .6-3 .5 0 .6-1.5 .6 0 .6-1.5 .6 0 .6 0 .6 0 .6 0 .6 1.5 .6 1.5 .5 1.5 .6 1.5 .6 1.5 .6 0 .6 4.5 .6 0 .6 1.5 .6 1.5 .6 3 .5 1.5 .6 1.5 .6 1.5 .6 1.5 .6 0 .6 3 .6 1.5 .6 0 .6 1.5 .5 1.5 .6 0 .6 0 .6 1.5 .6 0 .6 1.5 .6 0 .6 0 .6-1.5 .5 1.5 .6 1.5 .6 0 .6 0 .6 0 .6 1.5 .6 0 .6 0 .6-1.5 .5 1.5 .6 0 .6 0 .6 0 .6 1.5 .6 0 .6 0 .6 1.5 .6-1.5 .6 0 .5 1.5 .6 0 .6 0 .6 0 .6 0 .6 0 .6 0 .6 0 .6 1.5 .5-1.5 .6 0 .6 1.5 .6-1.5 .6 0 .6 0 .6 1.5 .6-1.5 .6 0 .5 0 .6 0 .6 0 .6 1.5 .6-1.5 .6-1.5 .6 0 .6 1.5 .6-1.5 .5 1.5 .6 0 .6-1.5 .6 0 .6 0 .6-1.5 .6 1.5 .6 0 .6 0 .5 1.5 .6-1.5 .6 0 .6 0 .6 0 .6 0 .6-1.5 .6 1.5 .6 0 .5 0 .6-1.5 .6 1.5 .6 0 .6 1.5 .6-1.5 .6 0 .6 0 .6 1.5 .6-1.5 .5 0 .6 0 .6 0 .6 1.5 .6-1.5 .6 1.5 .6 0 .6-1.5 .6 0 .5 1.5 .6 0 .6 0 .6 0 .6 0 .6 0 .6-1.5 .6 1.5 .6 0 .5 1.5 .6-1.5 .6 0 .6 0 .6 0 .6 0 .6 0 .6 0 .6 0 .5 1.5 .6 0 .6-1.5 .6 0 .6 0 .6 0 .6 1.5 .6-1.5 .6 0 .5 0 .6 0 .6 0 .6 0 .6-1.5 .6 1.5 .6 0 .6 0 .6-1.5 .6 1.5 .5 0 .6-1.5 .6 1.5 .6 0 .6 0 .6 0 .6 0 .6 1.5 .6-1.5 .5 1.5 .6 0 .6-1.5 .6 1.5 .6-1.5 .6 1.5 .6-1.5 .6 0 .6 1.5 .5-1.5 .6 0 .6 0 .6-1.5 .6 0 .6 1.5 .6 0 .6 0 .6 0 .5 0 .6 0 .6 0 .6 0 .6 0 .6 1.5 .6-1.5 .6 0 .6 1.5 .5-1.5 .6 0 .6 0 .6 1.5 .6-1.5 .6 1.5 .6-1.5 .6 0 .6 1.5 .5-1.5 .6 0 .6 1.5 .6-1.5 .6 0 .6 0 .6 1.5 .6-1.5 .6 0 .6 0 .5 0 .6 0 .6 0 .6-1.5 .6 1.5 .6 0 .6-1.5 .6 1.5 .6 0 .5 0 .6 0 .6-1.5 .6 0 .6 1.5 .6-1.5 .6-1.5 .6 1.5 .6 0 .5 0 .6 0 .6 0 .6 0 .6 0 .6 0 .6 0 .6 0 .6 1.5 .5 0 .6 0 .6-1.5 .6 1.5 .6 0 .6 0 .6 0 .6 0 .6 0 .5 0 .6 0 .6-1.5 .6 0 .6 0 .6 0 .6 0 .6-1.5 .6 1.5 .6 0 .5-1.5 .6 0 .6 1.5 .6-1.5 .6 1.5 .6-1.5 .6 0 .6 0 .6 0 .5 0 .6 0 .6 0 .6 0 .6 0 .6 0 .6 0 .6 0 .6 0 .5 0 .6 1.5 .6-1.5 .6 0 .6 0 .6 0 .6-1.5 .6 1.5 .6-1.5 .5 0 .6 0 .6-1.5 .6 0 .6-1.5 .6 0 .6 0 .6 0 .6-1.5 .5-1.5 .6 0 .6 0 .6-1.5 .6-3 .6 1.5 .6-1.5 .6 0 .6 0 .6-1.5 .5 0 .6 0 .6 0 .6 0 .6 1.5 .6 0 .6 0 .6 1.5 .6 1.5 .5-1.5 .6 0 .6 3 .6-1.5 .6 1.5 .6 0 .6 1.5 .6 0 .6 1.5 .5 0 .6 0 .6 1.5 .6 0 .6 0 .6 0 .6 1.5 .6 0 .6 0 .5 0 .6 0 .6 0 .6 0 .6 0 .6 0 .6 0 .6 0 .6 0 .5-1.5 .6 3 .6-1.5 .6 0 .6 0 .6 0 .6 1.5 .6 0 .6 0 .5 0 .6-1.5 .6 1.5 .6 0 .6-1.5 .6 0 .6 0 .6 0 .6 0 .6 0 .5 0 .6 0 .6-1.5 .6 0 .6 0 .6 0 .6-1.5 .6 0 .6 0 .5 0 .6 0 .6-1.5 .6 0 .6 0 .6-1.5 .6 0 .6-3 .6 1.5 .5-1.5 .6 0 .6 0 .6 0 .6 0 .6 0 .6 0 .6-1.5 .6 1.5 .5 0 .6 0 .6 1.5 .6 0 .6 0 .6 0 .6 1.5 .6 1.5 .6 0 .5 0 .6 1.5 .6 1.5 .6-1.5 .6 1.5 .6 0 .6 0 .6 1.5 .6 0 .6 0 .5 0 .6 0 .6 1.5 .6-1.5 .6 1.5 .6 0 .6 0 .6 0 .6 0 .5 1.5 .6 0 .6-1.5 .6 1.5 .6 0 .6-1.5 .6 1.5 .6 0 .6 1.5 .5-1.5 .6 1.5 .6 0 .6 0 .6-1.5 .6 1.5 .6-1.5 .6 0 .6 1.5 .5 0 .6 0 .6 0 .6 0 .6 0 .6 0 .6 1.5 .6-1.5 .6 1.5 .5-1.5 .6 0 .6 1.5 .6-1.5 .6 0 .6 0 .6 0 .6 1.5 .6 0 .6-1.5 .5 0 .6 0 .6 0 .6 0 .6 0 .6 0 .6 0 .6 0 .6 0 .5 0 .6 0 .6 0 .6 0 .6 0 .6-1.5 .6 1.5 .6-1.5 .6 0 .5 0 .6 0 .6 0 .6 0 .6 0 .6 0 .6 0 .6 0 .6 0 .5 0 .6 0 .6 1.5 .6 0 .6 0 .6 1.5 .6-1.5 .6 0 .6 0 .5 0 .6 0 .6 0 .6 0 .6-1.5 .6 0 .6 0 .6 0 .6 1.5 .5-1.5 .6 0 .6 0 .6 0 .6 0 .6 0 .6 0 .6 0 .6 0 .6 0 .5 0 .6 0 .6 1.5 .6-1.5 .6 0 .6 0 .6 0 .6 0 .6 0 .5 0 .6 0 .6 0 .6 0 .6 1.5 .6-1.5 .6 0 .6 1.5 .6-1.5 .5 0 .6 1.5 .6-1.5 .6 1.5 .6 0 .6-1.5 .6 1.5 .6 0 .6-1.5 .5 1.5 .6 0 .6 0 .6 0 .6 0 .6 0 .6 0 .6 0 .6 0 .5 0 .6 0 .6 0 .6 0 .6 0 .6 0 .6 0 .6 0 .6 1.5 .6-1.5 .5-1.5 .6 1.5 .6-1.5 .6 1.5 .6-1.5 .6 0 .6 1.5 .6-1.5 .6 0 .5 0 .6 0 .6 0 .6 0 .6 0 .6 0 .6 0 .6 0 .6 0 .5 0 .6 0 .6 0 .6 0 .6 0 .6 0 .6 0 .6-1.5 .6 1.5 .5 0 .6-1.5 .6 0 .6 0 .6 0 .6 0 .6 0 .6 0 .6 0 .5-1.5 .6 1.5 .6-1.5 .6 0 .6 0 .6-1.5 .6 0 .6-1.5 .6 0 .6-1.5 .5 1.5 .6-3 .6 0 .6-1.5 .6 0 .6-1.5 .6-1.5 .6 0 .6 0 .5-1.5 .6-3 .6 0 .6 0 .6-1.5 .6-1.5 .6-1.5 .6 1.5 .6-3 .5 1.5 .6 0 .6-1.5 .6 1.5 .6 0 .6 0 .6 1.5 .6 1.5 .6 0 .5 1.5 .6 1.5 .6 0 .6 1.5 .6 1.5 .6 0 .6 1.5 .6 1.5 .6 0 .5 0 .6 1.5 .6 1.5 .6 0 .6 0 .6 1.5 .6 0 .6 0 .6 0 .5 0 .6 0 .6 0 .6 1.5 .6 0 .6 0 .6 0 .6 0 .6 1.5 .6-1.5 .5 0 .6 0 .6 0 .6-1.5 .6 0 .6 0 .6 0 .6-1.5 .6 0 .5 0 .6 0 .6-1.5 .6 1.5 .6 0 .6 0 .6-1.5 .6 0 .6 0 .5 0 .6 0 .6 1.5 .6-1.5 .6 1.5 .6 1.5 .6 0 .6 0 .6-1.5 .5 1.5 .6 1.5 .6 0 .6 0 .6 0 .6 1.5 .6 0 .6 0 .6 0 .5 0 .6 1.5 .6 0 .6 0 .6 0 .6 0 .6 0 .6 1.5 .6 0 .6 0 .5 0 .6-1.5 .6 1.5 .6 0 .6 0 .6-1.5 .6 1.5 .6 0 .6 0 .5 0 .6 0 .6 0 .6 0 .6 0 .6 0 .6 0 .6 0 .6 0 .5 0 .6 1.5 .6 0 .6 0 .6 0 .6 0 .6 0 .6 0 .6 0 .5 0 .6 0 .6 1.5 .6-1.5 .6 0 .6 0 .6 1.5 .6-1.5 .6 1.5 .5 0 .6 0 .6-1.5 .6 1.5 .6 1.5 .6-1.5 .6 0 .6 0 .6 1.5 .5-1.5 .6 0 .6 0 .6 0 .6 0 .6 0 .6 0 .6 0 .6 0 .6 0 .5 0 .6 0 .6-1.5 .6 1.5 .6-1.5 .6 1.5 .6 0 .6 0 .6 0 .5-1.5 .6 1.5 .6-1.5 .6 0 .6 1.5 .6-1.5 .6 1.5 .6-1.5 .6 0 .5 0 .6 0 .6-1.5 .6 1.5 .6 0 .6 0 .6 0 .6 0 .6 0 .5 1.5 .6-1.5 .6 0 .6 0 .6 0 .6 0 .6 0 .6 0 .6 0 .5 0 .6-1.5 .6 1.5 .6 0 .6 0 .6-1.5 .6 1.5 .6 0 .6 0 .6-1.5 .5 1.5 .6-1.5 .6 0 .6 1.5 .6-1.5 .6 0 .6 0 .6 1.5 .6-1.5 .5 1.5 .6 0 .6 0 .6-1.5 .6 1.5 .6 0 .6 0 .6 0 .6 0 .5 0 .6 1.5 .6-1.5 .6 1.5 .6-1.5 .6 1.5 .6 0 .6 0 .6 0 .5 0 .6 0 .6-1.5 .6 0 .6 0 .6 0 .6 0 .6 1.5 .6-1.5 .5 0 .6 0 .6 0 .6 0 .6-1.5 .6 1.5 .6 0 .6 0 .6 0 .6 1.5 .5-1.5 .6 0 .6 1.5 .6-1.5 .6 1.5 .6-1.5 .6 1.5 .6-1.5 .6 1.5 .5 0 .6-1.5 .6 0 .6 1.5 .6-1.5 .6 0 .6 0 .6 1.5 .6-1.5 .5 0 .6 0 .6 0 .6-1.5 .6 0 .6 1.5 .6-1.5 .6 1.5 .6 0 .5 0 .6 0 .6-1.5 .6 1.5 .6-3 .6 3" fill="none" stroke="#00ACC8" stroke-width="21" stroke-linejoin="round" stroke-linecap="round" clip-path="url(#cb)"/>
<path d="M192.3 3106.5l.6 0 .6 1.5 .6-1.5 .6 0 .6 1.5 .6 1.5 .5 0 .6 0 .6-1.5 .6 0 .6 1.5 .6 0 .6-1.5 .6-1.5 .6 1.5 .5 0 .6-1.5 .6 1.5 .6-1.5 .6 4.5 .6-1.5 .6-1.5 .6 1.5 .6-1.5 .5-1.5 .6 1.5 .6 0 .6 6 .6-7.5 .6-3 .6 6 .6-3 .6 0 .6 4.5 .5-3 .6 0 .6 1.5 .6-1.5 .6 3 .6-1.5 .6 1.5 .6 1.5 .6 1.5 .5-6 .6 3 .6 0 .6 1.5 .6-1.5 .6 0 .6 3 .6 0 .6-1.5 .5-3 .6 3 .6-1.5 .6 4.5 .6-1.5 .6-1.5 .6 1.5 .6 0 .6-3 .5 3 .6 0 .6-4.5 .6 4.5 .6 0 .6-1.5 .6 1.5 .6-3 .6 3 .5-1.5 .6-1.5 .6 4.5 .6-1.5 .6-1.5 .6 1.5 .6 0 .6 1.5 .6 0 .6 1.5 .5-3 .6 0 .6 1.5 .6 1.5 .6 0 .6-1.5 .6 1.5 .6 1.5 .6 0 .5-3 .6 3 .6 0 .6 0 .6 0 .6 0 .6 1.5 .6-3 .6 0 .5 1.5 .6 0 .6-1.5 .6 1.5 .6 0 .6-1.5 .6 1.5 .6 1.5 .6 0 .5-3 .6 1.5 .6-1.5 .6 3 .6-3 .6 1.5 .6-4.5 .6 4.5 .6-1.5 .5-1.5 .6 0 .6 1.5 .6-1.5 .6 3 .6-1.5 .6 0 .6 4.5 .6-4.5 .6 1.5 .5 0 .6 0 .6 0 .6-3 .6 3 .6 0 .6 0 .6-3 .6 3 .5-3 .6 1.5 .6 0 .6-1.5 .6 4.5 .6 0 .6 0 .6-1.5 .6-1.5 .5 1.5 .6 0 .6-1.5 .6 4.5 .6-1.5 .6-1.5 .6 0 .6 1.5 .6 0 .5 3 .6-1.5 .6-1.5 .6 1.5 .6-1.5 .6 0 .6 1.5 .6 0 .6-1.5 .5 1.5 .6 0 .6-1.5 .6 1.5 .6 0 .6 0 .6-1.5 .6 3 .6 0 .5 0 .6-3 .6 0 .6 1.5 .6 0 .6 0 .6 1.5 .6 0 .6-3 .6 0 .5 3 .6-1.5 .6 3 .6-3 .6 0 .6 4.5 .6-6 .6 3 .6 0 .5-1.5 .6 0 .6 1.5 .6 1.5 .6 0 .6-1.5 .6 1.5 .6-1.5 .6 1.5 .5 1.5 .6-1.5 .6 1.5 .6-1.5 .6-1.5 .6 3 .6-1.5 .6 1.5 .6 0 .5 1.5 .6-1.5 .6-1.5 .6 0 .6 0 .6 0 .6 3 .6-3 .6 3 .5-1.5 .6 1.5 .6 1.5 .6 0 .6 0 .6-1.5 .6 0 .6 0 .6 1.5 .6 0 .5 0 .6 0 .6 1.5 .6 0 .6-3 .6 0 .6 0 .6 0 .6 1.5 .5 0 .6-1.5 .6 0 .6-3 .6 1.5 .6 0 .6-3 .6 4.5 .6-1.5 .5 3 .6-3 .6-1.5 .6 3 .6-1.5 .6 1.5 .6-1.5 .6 0 .6-1.5 .5 3 .6-1.5 .6-3 .6 4.5 .6 0 .6 0 .6 0 .6-1.5 .6 0 .5 1.5 .6 0 .6 3 .6-3 .6-3 .6 1.5 .6 1.5 .6 0 .6 1.5 .5-3 .6 1.5 .6 1.5 .6 0 .6 0 .6-1.5 .6 0 .6 1.5 .6 1.5 .6-3 .5 1.5 .6 0 .6 0 .6 0 .6 0 .6 0 .6 1.5 .6-3 .6 1.5 .5-1.5 .6 1.5 .6 0 .6 0 .6 1.5 .6 1.5 .6 0 .6-1.5 .6 1.5 .5-1.5 .6 0 .6 0 .6 4.5 .6-4.5 .6 1.5 .6 0 .6 1.5 .6-1.5 .5-1.5 .6 0 .6 1.5 .6 0 .6-3 .6 1.5 .6 1.5 .6 0 .6-1.5 .5 1.5 .6-1.5 .6 1.5 .6 4.5 .6-3 .6-1.5 .6 1.5 .6 0 .6 0 .6-1.5 .5 1.5 .6 0 .6 3 .6-6 .6 1.5 .6 0 .6 0 .6 1.5 .6 0 .5-1.5 .6 0 .6 0 .6 1.5 .6 1.5 .6-3 .6 0 .6 0 .6-1.5 .5 1.5 .6 0 .6-1.5 .6 1.5 .6-1.5 .6-1.5 .6 1.5 .6 0 .6 1.5 .5-1.5 .6 0 .6 0 .6-1.5 .6 3 .6 0 .6 0 .6-1.5 .6 1.5 .5 0 .6-1.5 .6 3 .6-1.5 .6 0 .6 0 .6 1.5 .6-1.5 .6 0 .6 1.5 .5-1.5 .6-1.5 .6 1.5 .6 0 .6 0 .6-3 .6 3 .6-3 .6 1.5 .5 1.5 .6 3 .6-3 .6 3 .6-1.5 .6 0 .6-1.5 .6 4.5 .6 0 .5 0 .6 0 .6-1.5 .6 1.5 .6-1.5 .6 3 .6-1.5 .6-1.5 .6-1.5 .5 1.5 .6-1.5 .6 1.5 .6-1.5 .6-1.5 .6 3 .6-3 .6-1.5 .6 4.5 .5-3 .6 0 .6 0 .6 0 .6 0 .6-1.5 .6 1.5 .6 0 .6 0 .5-1.5 .6 1.5 .6-1.5 .6 1.5 .6-1.5 .6 3 .6-1.5 .6 0 .6 1.5 .6-1.5 .5 0 .6 0 .6 3 .6-1.5 .6 3 .6-1.5 .6-1.5 .6 1.5 .6-1.5 .5 0 .6 0 .6 1.5 .6-3 .6 1.5 .6 1.5 .6 0 .6 1.5 .6-3 .5 0 .6-1.5 .6 3 .6 0 .6-1.5 .6 0 .6 0 .6 0 .6 0 .5 1.5 .6 0 .6-3 .6 0 .6-1.5 .6 1.5 .6 1.5 .6-3 .6 0 .5 3 .6-3 .6 3 .6-1.5 .6 0 .6-1.5 .6 1.5 .6 1.5 .6-3 .6 3 .5 0 .6-1.5 .6 0 .6 1.5 .6-3 .6 0 .6 1.5 .6 0 .6 1.5 .5 0 .6-1.5 .6-1.5 .6 1.5 .6 0 .6 0 .6 0 .6 1.5 .6-1.5 .5 0 .6 0 .6 1.5 .6-1.5 .6 4.5 .6-3 .6 0 .6 0 .6-1.5 .5 1.5 .6 1.5 .6 0 .6 0 .6 0 .6-1.5 .6 0 .6 3 .6 0 .5-3 .6 1.5 .6-1.5 .6 0 .6 0 .6 1.5 .6-1.5 .6 0 .6 1.5 .6-3 .5 1.5 .6 0 .6-1.5 .6 0 .6 0 .6 1.5 .6-1.5 .6 0 .6 1.5 .5 0 .6 0 .6 0 .6 0 .6 0 .6 1.5 .6 0 .6 1.5 .6-1.5 .5-1.5 .6 4.5 .6-3 .6 1.5 .6-1.5 .6-1.5 .6 3 .6-1.5 .6-1.5 .5 0 .6 1.5 .6-1.5 .6 1.5 .6 0 .6 1.5 .6-1.5 .6 1.5 .6-3 .5 3 .6-1.5 .6-1.5 .6 1.5 .6 0 .6 0 .6 3 .6-4.5 .6 3 .5-3 .6 3 .6-1.5 .6 1.5 .6-1.5 .6 0 .6 0 .6 0 .6 1.5 .6-1.5 .5-1.5 .6 1.5 .6 0 .6 0 .6 1.5 .6-3 .6 1.5 .6-1.5 .6 1.5 .5 0 .6 0 .6 0 .6-1.5 .6-1.5 .6 3 .6 0 .6-1.5 .6 1.5 .5 3 .6-3 .6-1.5 .6 1.5 .6 0 .6-1.5 .6 1.5 .6 0 .6 0 .5 0 .6 0 .6 0 .6-1.5 .6 0 .6 3 .6-3 .6 1.5 .6 0 .5-1.5 .6 1.5 .6 0 .6-1.5 .6 3 .6 0 .6-3 .6 3 .6 0 .6 1.5 .5 0 .6-3 .6 1.5 .6-1.5 .6 0 .6 0 .6 1.5 .6 0 .6-1.5 .5 1.5 .6-1.5 .6 1.5 .6-1.5 .6 0 .6 0 .6-3 .6 3 .6 0 .5-3 .6 1.5 .6 3 .6-3 .6 0 .6 1.5 .6 1.5 .6-3 .6 3 .5-1.5 .6 0 .6-1.5 .6 1.5 .6 0 .6-1.5 .6 0 .6 0 .6 0 .5 1.5 .6 0 .6-1.5 .6 1.5 .6 0 .6 1.5 .6-3 .6 0 .6 3 .6-3 .5-1.5 .6 1.5 .6 1.5 .6 0 .6 1.5 .6 0 .6-3 .6 1.5 .6-1.5 .5-1.5 .6 1.5 .6 0 .6-3 .6 1.5 .6 0 .6-1.5 .6 0 .6 0 .5 1.5 .6 0 .6-1.5 .6 1.5 .6 0 .6-1.5 .6 3 .6-4.5 .6 3 .5 0 .6 1.5 .6 0 .6 0 .6 0 .6-1.5 .6 1.5 .6 1.5 .6-1.5 .5 0 .6-1.5 .6 1.5 .6 0 .6 0 .6-1.5 .6 0 .6-4.5 .6 3 .5 0 .6-1.5 .6 1.5 .6-3 .6 0 .6 0 .6-1.5 .6 0 .6 0 .6-1.5 .5 0 .6 0 .6 0 .6-3 .6 1.5 .6-1.5 .6 0 .6 0 .6-3 .5-1.5 .6 0 .6-1.5 .6-1.5 .6-1.5 .6-1.5 .6-1.5 .6-4.5 .6-3 .5 0 .6-3 .6-4.5 .6-3 .6-4.5 .6-3 .6-6 .6-4.5 .6-9 .5-6 .6-9 .6-7.5 .6-10.5 .6-12 .6-13.5 .6-12 .6-15 .6-13.5 .5-15 .6-16.5 .6-12 .6-16.5 .6-12 .6-12 .6-9 .6-3 .6 0 .6 4.5 .5 4.5 .6 12 .6 15 .6 10.5 .6 18 .6 15 .6 15 .6 18 .6 12 .5 15 .6 12 .6 10.5 .6 10.5 .6 9 .6 10.5 .6 6 .6 4.5 .6 7.5 .5 4.5 .6 6 .6 4.5 .6 1.5 .6 3 .6 4.5 .6 1.5 .6 3 .6 3 .5 0 .6 1.5 .6 1.5 .6 4.5 .6 0 .6 1.5 .6 1.5 .6-1.5 .6 3 .5 0 .6 1.5 .6 1.5 .6 0 .6 1.5 .6-3 .6 4.5 .6-1.5 .6 1.5 .5 1.5 .6 0 .6 0 .6 1.5 .6 1.5 .6-1.5 .6 1.5 .6 0 .6 1.5 .6 1.5 .5 0 .6-1.5 .6 1.5 .6 0 .6 0 .6 0 .6 1.5 .6-1.5 .6 0 .5 1.5 .6-1.5 .6 0 .6 0 .6 1.5 .6 0 .6 1.5 .6-1.5 .6 1.5 .5 0 .6 0 .6 1.5 .6-1.5 .6 0 .6-1.5 .6 1.5 .6-1.5 .6 0 .5 1.5 .6 0 .6 0 .6-1.5 .6 1.5 .6-3 .6 1.5 .6 0 .6 0 .5 0 .6-1.5 .6 0 .6-3 .6 0 .6-1.5 .6-3 .6-1.5 .6 0 .6-3 .5 0 .6-1.5 .6-3 .6-1.5 .6 1.5 .6-1.5 .6 4.5 .6 1.5 .6 0 .5 3 .6 1.5 .6 1.5 .6 1.5 .6 3 .6 0 .6 0 .6 0 .6 3 .5 0 .6 1.5 .6 0 .6-1.5 .6 1.5 .6 0 .6 1.5 .6 0 .6 1.5 .5 0 .6 0 .6 1.5 .6 0 .6-1.5 .6 0 .6 3 .6-1.5 .6 1.5 .5 0 .6-1.5 .6 0 .6 0 .6-1.5 .6 0 .6 1.5 .6 0 .6-1.5 .6 0 .5 0 .6-1.5 .6-1.5 .6 1.5 .6 0 .6-1.5 .6 3 .6-3 .6 0 .5 1.5 .6 0 .6 1.5 .6 0 .6-1.5 .6 0 .6 0 .6 1.5 .6 0 .5 1.5 .6-1.5 .6 0 .6 0 .6 1.5 .6 0 .6 0 .6 1.5 .6 0 .5-1.5 .6 1.5 .6-1.5 .6 3 .6-1.5 .6-1.5 .6 3 .6-1.5 .6 1.5 .5-1.5 .6 0 .6 1.5 .6-1.5 .6 0 .6-1.5 .6 4.5 .6-3 .6 0 .5 1.5 .6-1.5 .6 0 .6 0 .6 0 .6 0 .6 0 .6 0 .6-1.5 .6 1.5 .5-1.5 .6 0 .6 1.5 .6 0 .6 0 .6 0 .6-1.5 .6 0 .6 0 .5 1.5 .6-1.5 .6 1.5 .6-1.5 .6 0 .6 0 .6 0 .6-1.5 .6 1.5 .5 0 .6 1.5 .6-3 .6 1.5 .6 0 .6 0 .6 1.5 .6 0 .6 0 .5-1.5 .6 0 .6 0 .6 0 .6 3 .6-1.5 .6 0 .6-1.5 .6 0 .5 1.5 .6 0 .6 0 .6-1.5 .6 1.5 .6 0 .6 0 .6-1.5 .6 1.5 .6 0 .5-3 .6 1.5 .6 1.5 .6-1.5 .6 0 .6 0 .6 1.5 .6 0 .6 0 .5-1.5 .6 1.5 .6 0 .6 0 .6 0 .6 0 .6 0 .6-1.5 .6 1.5 .5 0 .6-3 .6 3 .6 1.5 .6-1.5 .6 0 .6 0 .6-1.5 .6 1.5 .5 0 .6-1.5 .6 0 .6 1.5 .6-1.5 .6 0 .6 1.5 .6-1.5 .6 0 .5 1.5 .6-1.5 .6 1.5 .6-1.5 .6 0 .6-3 .6 3 .6-1.5 .6 0 .6 1.5 .5-3 .6 1.5 .6 1.5 .6 0 .6-3 .6 3 .6 0 .6-1.5 .6 1.5 .5 0 .6 0 .6 0 .6 1.5 .6 0 .6 0 .6 0 .6 1.5 .6 1.5 .5-1.5 .6-3 .6 1.5 .6 1.5 .6-1.5 .6 0 .6-1.5 .6 0 .6 1.5 .5-1.5 .6 0 .6 0 .6 1.5 .6 0 .6-1.5 .6 0 .6 0 .6 0 .5 1.5 .6-3 .6 0 .6 0 .6-1.5 .6 3 .6-1.5 .6 0 .6 0 .5-1.5 .6 1.5 .6 0 .6 0 .6 1.5 .6 0 .6 0 .6 0 .6 1.5 .6-1.5 .5 1.5 .6 1.5 .6-1.5 .6 1.5 .6-1.5 .6-1.5 .6 1.5 .6-1.5 .6 0 .5 0 .6-1.5 .6 1.5 .6-1.5 .6 0 .6 0 .6-1.5 .6 1.5 .6 0 .5 0 .6 0 .6-3 .6 3 .6 0 .6 1.5 .6-1.5 .6 0 .6 0 .5 0 .6 0 .6 0 .6 1.5 .6-1.5 .6 0 .6 0 .6-1.5 .6 3 .5-1.5 .6 0 .6 0 .6 0 .6 0 .6 0 .6 0 .6-1.5 .6 3 .6 0 .5-1.5 .6 0 .6 1.5 .6 0 .6 0 .6 0 .6-1.5 .6 1.5 .6 0 .5 0 .6 0 .6 0 .6 1.5 .6 0 .6-1.5 .6 0 .6 0 .6 1.5 .5-1.5 .6 1.5 .6-1.5 .6 0 .6 0 .6 0 .6 1.5 .6-3 .6 0 .5 1.5 .6-1.5 .6 0 .6 1.5 .6-1.5 .6 0 .6 0 .6 0 .6-1.5 .5 0 .6 1.5 .6-1.5 .6 1.5 .6-1.5 .6 0 .6 0 .6 0 .6 1.5 .6-1.5 .5 0 .6 1.5 .6-1.5 .6 1.5 .6-1.5 .6 0 .6 1.5 .6 0 .6 0 .5 0 .6 3 .6-3 .6 1.5 .6 0 .6 0 .6 0 .6 1.5 .6-3 .5 1.5 .6 0 .6 0 .6 0 .6-1.5 .6 1.5 .6-1.5 .6 0 .6 0 .5-1.5 .6 0 .6 0 .6 0 .6 1.5 .6-1.5 .6 0 .6 0 .6 0 .5 0 .6 0 .6 0 .6-1.5 .6 1.5 .6 0 .6 0 .6 1.5 .6 0 .5-1.5 .6 0 .6 0 .6 0 .6 0 .6-1.5 .6 3 .6-1.5 .6 0 .6 0 .5 0 .6 1.5 .6-1.5 .6-1.5 .6 3 .6-1.5 .6 0 .6 1.5 .6-1.5 .5 1.5 .6 0 .6 0 .6 0 .6-1.5 .6 1.5 .6-3 .6 3 .6 0 .5 0 .6-1.5 .6 0 .6-1.5 .6 1.5 .6-3 .6 1.5 .6-1.5 .6 0 .5 0 .6 0 .6-1.5 .6 1.5 .6-1.5 .6-1.5 .6 0 .6 1.5 .6-3 .5 0 .6 0 .6-1.5 .6 0 .6 0 .6 1.5 .6-1.5 .6 0 .6 0 .6 0 .5 0 .6 0 .6 1.5 .6 0 .6 0 .6 0 .6 0 .6 0 .6 0 .5 0 .6 3 .6-1.5 .6-1.5 .6 3 .6-3 .6 1.5 .6-1.5 .6 0 .5 0 .6 0 .6 1.5 .6-1.5 .6 0 .6-1.5 .6 0 .6-1.5 .6 0 .5 0 .6-1.5 .6-1.5 .6 0 .6 0 .6 0 .6-1.5 .6 0 .6-1.5 .5 1.5 .6 0 .6-1.5 .6 1.5 .6 0 .6-1.5 .6 1.5 .6-1.5 .6 0 .5 0 .6 1.5 .6-1.5 .6 1.5 .6-1.5 .6 0 .6 1.5 .6-1.5 .6 1.5 .6-1.5 .5 0 .6-1.5 .6-1.5 .6 1.5 .6 0 .6 0 .6-1.5 .6-1.5 .6 1.5 .5-1.5 .6-1.5 .6-3 .6 0 .6 0 .6-1.5 .6 0 .6-1.5 .6 0 .5-1.5 .6 0 .6-1.5 .6 0 .6-1.5 .6 0 .6-1.5 .6 0 .6-1.5 .5 1.5 .6-3 .6 1.5 .6-1.5 .6 0 .6 1.5 .6 0 .6 0 .6 0 .5 0 .6 3 .6 0 .6 0 .6 1.5 .6 0 .6 1.5 .6 1.5 .6-1.5 .6 1.5 .5 0 .6 1.5 .6 0 .6 1.5 .6 0 .6 0 .6 1.5 .6 0 .6 1.5 .5-1.5 .6-1.5 .6 1.5 .6-1.5 .6 1.5 .6 0 .6 0 .6 0 .6 0 .5 1.5 .6 0 .6 0 .6-1.5 .6 1.5 .6 1.5 .6 0 .6 1.5 .6 0 .5 1.5 .6 1.5 .6 1.5 .6 0 .6 1.5 .6 1.5 .6-1.5 .6 1.5 .6 1.5 .5 0 .6 1.5 .6 0 .6 0 .6 1.5 .6 0 .6 0 .6 3 .6-1.5 .6 1.5 .5 0 .6-1.5 .6 1.5 .6 1.5 .6-1.5 .6 1.5 .6 0 .6 0 .6 1.5 .5 0 .6-1.5 .6 0 .6 1.5 .6 0 .6 0 .6-1.5 .6 0 .6 1.5 .5 0 .6 0 .6 1.5 .6-1.5 .6 0 .6-1.5 .6 1.5 .6 1.5 .6-1.5 .5 1.5 .6 0 .6 0 .6-1.5 .6 1.5 .6 0 .6 1.5 .6-1.5 .6 0 .5-1.5 .6 1.5 .6 0 .6-1.5 .6 1.5 .6 0 .6 0 .6 0 .6 0 .5 0 .6 0 .6 0 .6 0 .6 0 .6 0 .6-1.5 .6 1.5 .6 0 .6 0 .5 0 .6 1.5 .6-1.5 .6 0 .6 1.5 .6-1.5 .6 1.5 .6-1.5 .6 0 .5 1.5 .6 0 .6-1.5 .6 0 .6 1.5 .6-1.5 .6 1.5 .6 0 .6-1.5 .5 0 .6 1.5 .6 0 .6-1.5 .6 1.5 .6-3 .6 1.5 .6 1.5 .6 0 .5 0 .6-1.5 .6 0 .6 3 .6-1.5 .6 0 .6 0 .6 0 .6 0 .5 1.5 .6-1.5 .6 0 .6 0 .6 1.5 .6-1.5 .6 1.5 .6 0 .6 0 .6-1.5 .5 1.5 .6-1.5 .6 3 .6-1.5 .6 0 .6 0 .6 0 .6 0 .6 0 .5 0 .6 1.5 .6-1.5 .6 0 .6 1.5 .6 0 .6-1.5 .6 1.5 .6-1.5 .5 0 .6 1.5 .6-3 .6 1.5 .6 1.5 .6 0 .6-1.5 .6-1.5 .6 1.5 .5 0 .6 1.5 .6 0 .6-1.5 .6 1.5 .6-3 .6 1.5 .6 0 .6 0 .5 0 .6 0 .6 1.5 .6-1.5 .6 0 .6 0 .6 0 .6 1.5 .6-3 .6 1.5 .5 1.5 .6 0 .6 0 .6 0 .6 0 .6-1.5 .6 0 .6 0 .6 1.5 .5-1.5 .6 1.5 .6-1.5 .6 0 .6-1.5 .6 1.5 .6-1.5 .6 1.5 .6 0 .5-1.5 .6 1.5 .6-1.5 .6 0 .6 0 .6 1.5 .6 0 .6-1.5 .6 1.5 .5 1.5 .6 0 .6-3 .6 3 .6-1.5 .6 0 .6 1.5 .6 0 .6-1.5 .5 1.5 .6-1.5 .6 0 .6 0 .6-1.5 .6 1.5 .6 0 .6 0 .6 0 .5-1.5 .6 1.5 .6-1.5 .6 1.5 .6 0 .6-1.5 .6 1.5 .6 0 .6 0 .6 0 .5 0 .6 1.5 .6-1.5 .6 0 .6 0 .6 1.5 .6-1.5 .6 0 .6 0 .5 0 .6 0 .6 0 .6 0 .6 1.5 .6-1.5 .6 1.5 .6 0 .6-1.5 .5 1.5 .6-1.5 .6 0 .6 0 .6 0 .6 0 .6 0 .6 0 .6 1.5 .5 0 .6 0 .6 0 .6-1.5 .6 1.5 .6-1.5 .6 1.5 .6 1.5 .6-3 .5 0 .6 1.5 .6-1.5 .6 0 .6 1.5 .6-1.5 .6 0 .6 1.5 .6 0 .6 0 .5-1.5 .6 1.5 .6 0 .6-1.5 .6 1.5 .6-1.5 .6 0 .6 0 .6 1.5 .5-1.5 .6 0 .6-1.5 .6 3 .6 0 .6 0 .6-1.5 .6 3 .6-1.5 .5-1.5 .6 0 .6 0 .6 1.5 .6 0 .6-1.5 .6 3 .6-4.5 .6 1.5 .5 1.5 .6 0 .6 0 .6 0 .6 0 .6-3 .6 1.5 .6 0 .6 0 .5 0 .6 1.5 .6 0 .6-1.5 .6 0 .6 1.5 .6 0 .6 0 .6 0 .5 0 .6 0 .6 0 .6-1.5 .6 1.5 .6 0 .6 0 .6 0 .6 0 .6-1.5 .5 3 .6-3 .6 1.5 .6 0 .6-1.5 .6 0 .6 0 .6 1.5 .6-1.5 .5 0 .6 0 .6 0 .6 0 .6 0 .6 0 .6 1.5 .6-1.5 .6 0 .5 0 .6 0 .6 0 .6 0 .6 0 .6 0 .6 0 .6 0 .6 0 .5 0 .6 1.5 .6-1.5 .6 1.5 .6-1.5 .6 0 .6 0 .6 0 .6 0 .5 0 .6 0 .6 0 .6 1.5 .6 0 .6 0 .6 0 .6 1.5 .6 0 .6-1.5 .5 0 .6 0 .6 1.5 .6-1.5 .6 1.5 .6-1.5 .6 0 .6 0 .6-1.5 .5 1.5 .6 0 .6-1.5 .6 1.5 .6 0 .6 0 .6-1.5 .6 0 .6 0 .5 0 .6-1.5 .6 1.5 .6 0 .6-1.5 .6 0 .6 1.5 .6-1.5 .6 1.5 .5 0 .6-1.5 .6 0 .6 1.5 .6 0 .6-1.5 .6 0 .6 0 .6 1.5 .5 0 .6-3 .6 1.5 .6 0 .6-1.5 .6 1.5 .6 0 .6 0 .6 0 .6 0 .5-1.5 .6 1.5 .6-1.5 .6 0 .6 0 .6-1.5 .6 0 .6 0 .6-1.5 .5 0 .6-1.5 .6 1.5 .6-1.5 .6 0 .6-1.5 .6 0 .6 0 .6-1.5 .5 0 .6 0 .6-1.5 .6-1.5 .6-1.5 .6 0 .6-1.5 .6 0 .6-1.5 .5-1.5 .6-1.5 .6-1.5 .6-1.5 .6 0 .6-3 .6-3 .6-3 .6-3 .5-1.5 .6-3 .6-3 .6-3 .6-1.5 .6-3 .6-4.5 .6-1.5 .6-1.5 .5-1.5 .6-3 .6-3 .6 0 .6-1.5 .6 0 .6 1.5 .6 0 .6 1.5 .6 0 .5 1.5 .6 1.5 .6 1.5 .6 3 .6 1.5 .6 3 .6 3 .6 3 .6 1.5 .5 3 .6 1.5 .6 4.5 .6 1.5 .6 1.5 .6 3 .6 3 .6 1.5 .6 1.5 .5 3 .6 1.5 .6 0 .6 1.5 .6 1.5 .6 3 .6 1.5 .6 0 .6 1.5 .5-1.5 .6 1.5 .6 1.5 .6 0 .6 0 .6 0 .6 0 .6 0 .6 1.5 .5-1.5 .6 1.5 .6 0 .6 1.5 .6 0 .6 1.5 .6 0 .6 0 .6-1.5 .6 1.5 .5 1.5 .6 0 .6 1.5 .6 0 .6 0 .6-1.5 .6 1.5 .6 0 .6-1.5 .5 1.5 .6 0 .6 0 .6 0 .6-1.5 .6 1.5 .6-1.5 .6 0 .6 1.5 .5-1.5 .6 0 .6 1.5 .6 0 .6 0 .6-1.5 .6 1.5 .6-1.5 .6 1.5 .5 0 .6 0 .6 0 .6 0 .6 0 .6-1.5 .6 0 .6 3 .6 0 .5 0 .6 0 .6-1.5 .6 1.5 .6-1.5 .6 1.5 .6 1.5 .6 0 .6-1.5 .6 0 .5 1.5 .6 0 .6-1.5 .6 0 .6 0 .6 0 .6 0 .6 1.5 .6-1.5 .5 0 .6 0 .6 0 .6 0 .6 0 .6 0 .6 0 .6 1.5 .6-1.5 .5 1.5 .6 0 .6 0 .6 0 .6-1.5 .6 0 .6 1.5 .6 0 .6 0 .5 0 .6 0 .6 0 .6-1.5 .6 1.5 .6-1.5 .6 1.5 .6 0 .6-1.5 .5 0 .6 0 .6 3 .6-3 .6 1.5 .6 0 .6 0 .6 0 .6 0 .5 1.5 .6-1.5 .6 0 .6 0 .6 1.5 .6 0 .6-1.5 .6 0 .6 1.5 .6-1.5 .5 1.5 .6-3 .6 1.5 .6 0 .6 1.5 .6 0 .6-1.5 .6 1.5 .6-1.5 .5 0 .6 1.5 .6-3 .6 0 .6 0 .6 1.5 .6 0 .6 0 .6-1.5 .5 0 .6-1.5 .6 1.5 .6 0 .6-1.5 .6 1.5 .6 0 .6 0 .6-1.5 .5 0 .6 0 .6 1.5 .6-1.5 .6 1.5 .6 0 .6-1.5 .6 1.5 .6 0 .5 0 .6-1.5 .6 1.5 .6 0 .6 0 .6 1.5 .6 0 .6 0 .6 0 .6-1.5 .5 1.5 .6-1.5 .6 0 .6 1.5 .6 0 .6-1.5 .6 1.5 .6 0 .6 0 .5-1.5 .6 0 .6 1.5 .6 0 .6 0 .6-1.5 .6 1.5 .6 0 .6-1.5 .5 0 .6 0 .6 0 .6 1.5 .6-1.5 .6 0 .6-1.5 .6 0 .6 0 .5 0 .6 1.5 .6-1.5 .6-1.5 .6 0 .6 0 .6 1.5 .6 0 .6 0 .5-1.5 .6 1.5 .6-1.5 .6 0 .6 0 .6 0 .6 1.5 .6 0 .6-1.5 .6 0 .5 0 .6 1.5 .6-1.5 .6 0 .6-1.5 .6 0 .6 0 .6 0 .6 0 .5 0 .6-1.5 .6 1.5 .6-1.5 .6 0 .6-3 .6 0 .6 1.5 .6-1.5 .5-1.5 .6-1.5 .6 1.5 .6-1.5 .6-1.5 .6-1.5 .6 0 .6 0 .6 0 .5-3 .6 0 .6-1.5 .6 0 .6-3 .6 0 .6 0 .6-1.5 .6-1.5 .5-1.5 .6-1.5 .6 0 .6-1.5 .6-1.5 .6 0 .6 0 .6-3 .6 1.5 .5-1.5 .6 0 .6 0 .6 0 .6 0 .6 1.5 .6-3 .6 1.5 .6 0 .6 0 .5 1.5 .6 0 .6 0 .6 1.5 .6 0 .6 0 .6 1.5 .6 1.5 .6-1.5 .5 3 .6 0 .6 1.5 .6 0 .6 1.5 .6 0 .6 1.5 .6-3 .6 1.5 .5 0 .6 3 .6-1.5 .6 1.5 .6 0 .6-1.5 .6 1.5 .6-1.5 .6 1.5 .5 0 .6-1.5 .6 1.5 .6-1.5 .6 0 .6 0 .6-1.5 .6 0 .6 0 .5-3 .6 0 .6-1.5 .6 0 .6-1.5 .6-1.5 .6 0 .6-1.5 .6-1.5 .6-1.5 .5 0 .6 0 .6 0 .6-1.5 .6 0 .6 0 .6-1.5 .6 1.5 .6 1.5 .5-1.5 .6 1.5 .6 0 .6 1.5 .6 0 .6 3 .6 0 .6 1.5 .6 1.5 .5 1.5 .6 0 .6 1.5 .6 1.5 .6 1.5 .6 0 .6 1.5 .6 1.5 .6 3 .5 0 .6 1.5 .6 0 .6 1.5 .6 1.5 .6 0 .6 1.5 .6 0 .6 0 .5 3 .6-1.5 .6 1.5 .6 0 .6 0 .6 0 .6 1.5 .6 0 .6 0 .5 0 .6 1.5 .6 0 .6-1.5 .6 3 .6 0 .6 0 .6 0 .6 0 .6 0 .5 0 .6 0 .6 0 .6 1.5 .6 0 .6 0 .6 0 .6 0 .6 0 .5 1.5 .6-1.5 .6 0 .6 1.5 .6-1.5 .6 0 .6 0 .6 1.5 .6 0 .5 0 .6 0 .6 0 .6 0 .6 0 .6 1.5 .6 0 .6-1.5 .6 0 .5 3 .6-1.5 .6-1.5 .6 1.5 .6 0 .6 0 .6 1.5 .6-1.5 .6 0 .5 0 .6 1.5 .6 0 .6 0 .6-1.5 .6 1.5 .6-3 .6 1.5 .6 0 .6 1.5 .5-1.5 .6 1.5 .6-1.5 .6 0 .6 0 .6 0 .6-1.5 .6 1.5 .6 0 .5-1.5 .6 1.5 .6 0 .6 0 .6 0 .6 0 .6-1.5 .6 0 .6 0 .5 1.5 .6 0 .6 0 .6 0 .6-1.5 .6 1.5 .6 0 .6 0 .6-1.5 .5 1.5 .6 0 .6 0 .6 0 .6 0 .6 0 .6 0 .6 1.5 .6 0 .5-1.5 .6 1.5 .6-1.5 .6 0 .6 1.5 .6-1.5 .6 0 .6 1.5 .6 0 .6 1.5 .5-1.5 .6 0 .6 0 .6 1.5 .6 0 .6 0 .6 0 .6-1.5 .6 0 .5 0 .6 0 .6 0 .6 1.5 .6 0 .6-1.5 .6 0 .6 0 .6-1.5 .5 0 .6 1.5 .6 0 .6 0 .6-1.5 .6 1.5 .6-1.5 .6 0 .6 1.5 .5-1.5 .6 0 .6 1.5 .6-1.5 .6 1.5 .6-1.5 .6 1.5 .6 0 .6 0 .5 0 .6 0 .6 0 .6 0 .6-1.5 .6 1.5 .6-1.5 .6 1.5 .6 0 .5-1.5 .6 3 .6-1.5 .6 0 .6 0 .6 0 .6 0 .6 0 .6 0 .6-1.5 .5 1.5 .6-1.5 .6 1.5 .6 0 .6-1.5 .6 1.5 .6 0 .6 1.5 .6-1.5 .5 0 .6-1.5 .6 0 .6 1.5 .6 0 .6 0 .6 0 .6 0 .6 0 .5 0 .6 0 .6 0 .6 0 .6 0 .6-1.5 .6 1.5 .6 1.5 .6-1.5 .5 0 .6 1.5 .6-1.5 .6 0 .6 1.5 .6 0 .6-1.5 .6 1.5 .6 0 .5 0 .6 0 .6 0 .6-1.5 .6 0 .6 0 .6 0 .6 0 .6 0 .6 0 .5 0 .6-1.5 .6 0 .6 1.5 .6-1.5 .6 0 .6 1.5 .6-1.5 .6 0 .5 1.5 .6 0 .6-1.5 .6 0 .6 1.5 .6 0 .6 0 .6 0 .6 1.5 .5-1.5 .6 0 .6 1.5 .6-1.5 .6 0 .6 0 .6-1.5 .6 1.5 .6 0 .5 0 .6 0 .6 0 .6 0 .6-1.5 .6 0 .6 1.5 .6-1.5 .6 0 .5 1.5 .6-1.5 .6 0 .6 0 .6 0 .6-1.5 .6 1.5 .6 1.5 .6-3 .6 0 .5 0 .6 1.5 .6-1.5 .6 1.5 .6 0 .6 0 .6-1.5 .6 1.5 .6-1.5 .5 1.5 .6 0 .6 0 .6 0 .6 0 .6 0 .6 0 .6 1.5 .6 0 .5 0 .6-1.5 .6 0 .6 1.5 .6 0 .6 0 .6-1.5 .6 1.5 .6-1.5 .5 1.5 .6 0 .6-1.5 .6 0 .6 1.5 .6-1.5 .6 0 .6 1.5 .6-1.5 .5 0 .6 0 .6 0 .6 0 .6-1.5 .6 0 .6 0 .6 1.5 .6-1.5 .5 0 .6 0 .6 1.5 .6-1.5 .6 0 .6-1.5 .6 1.5 .6-1.5 .6 0 .6 0 .5 1.5 .6-3 .6 1.5 .6 0 .6-1.5 .6-1.5 .6 1.5 .6-1.5 .6 0 .5 0 .6 0 .6 0 .6-1.5 .6-1.5 .6 1.5 .6-1.5 .6-1.5 .6 0 .5 0 .6-1.5 .6 0 .6-3 .6 0 .6-1.5 .6-1.5 .6 0 .6-1.5 .5 0 .6-1.5 .6 0 .6-1.5 .6-1.5 .6 0 .6 0 .6 0 .6-1.5 .5 0 .6-1.5 .6 0 .6 0 .6-1.5 .6 0 .6 1.5 .6 0 .6 0 .6 0 .5 1.5 .6 0 .6 1.5 .6 0 .6 0 .6 1.5 .6 0 .6 1.5 .6 1.5 .5 0 .6 3 .6 0 .6 1.5 .6 0 .6 3 .6 0 .6 0 .6 1.5 .5 0 .6 1.5 .6 0 .6 0 .6 0 .6 1.5 .6 0 .6 1.5 .6-1.5 .5 1.5 .6 0 .6 1.5 .6-1.5 .6 1.5 .6-1.5 .6 1.5 .6 0 .6 0 .5 0 .6 0 .6 1.5 .6 0 .6 1.5 .6-1.5 .6 1.5 .6-1.5 .6 1.5 .6 0 .5 0 .6 0 .6 0 .6 0 .6 0 .6 1.5 .6 0 .6-1.5 .6 1.5 .5 0 .6 0 .6-1.5 .6 1.5 .6 0 .6-1.5 .6 0 .6 1.5 .6 0 .5 0 .6 0 .6-1.5 .6 1.5 .6 0 .6 0 .6 0 .6 0 .6 0 .5 0 .6 0 .6 0 .6 0 .6 0 .6 1.5 .6 0 .6-1.5 .6 1.5 .5 0 .6-1.5 .6 1.5 .6 0 .6 0 .6 0 .6 0 .6 0 .6 0 .5 0 .6 0 .6 0 .6-1.5 .6 1.5 .6 0 .6 0 .6 0 .6 0 .6-1.5 .5 0 .6 0 .6 0 .6 0 .6-1.5 .6 0 .6 1.5 .6 0 .6 0 .5 0 .6 0 .6 0 .6 0 .6 0 .6 0 .6 0 .6 0 .6 0 .5 1.5 .6-1.5 .6 0 .6 0 .6 1.5 .6-1.5 .6 1.5 .6 0 .6-1.5 .5 0 .6 1.5 .6-1.5 .6 0 .6 1.5 .6-1.5 .6 0 .6 1.5 .6 0 .5-1.5 .6 0 .6 0 .6 0 .6 0 .6 1.5 .6-1.5 .6 0 .6 1.5 .6-1.5 .5 0 .6 1.5 .6-3 .6 1.5 .6 0 .6-1.5 .6 0 .6 0 .6 0 .5 0 .6-1.5 .6 1.5 .6 1.5 .6-1.5 .6 0 .6 0 .6 1.5 .6 0 .5 0 .6 0 .6 0 .6 0 .6 0 .6 0 .6 0 .6 0 .6 1.5 .5-1.5 .6 0 .6 1.5 .6-1.5 .6 0 .6 0 .6 1.5 .6-1.5 .6 0 .5 1.5 .6-1.5 .6 0 .6 0 .6 0 .6 1.5 .6 0 .6-1.5 .6 1.5 .5 0 .6 0 .6 0 .6 0 .6-1.5 .6 1.5 .6 0 .6-1.5 .6 1.5 .6-1.5 .5 1.5 .6-1.5 .6 1.5 .6 0 .6 0 .6 0 .6 0 .6-1.5 .6 1.5 .5-1.5 .6 0 .6 0 .6 1.5 .6-1.5 .6 0 .6 1.5 .6 0 .6 0 .5-1.5 .6 1.5 .6-1.5 .6 1.5 .6 0 .6 0 .6-1.5 .6 0 .6 1.5 .5-1.5 .6 0 .6 0 .6-1.5 .6 0 .6 1.5 .6 0 .6 0 .6 0 .5 0 .6 0 .6 0 .6 0 .6 0 .6 0 .6 0 .6 0 .6-1.5 .6 1.5 .5 0 .6 0 .6 0 .6 0 .6 0 .6 0 .6 1.5 .6-1.5 .6 0 .5 0 .6 0 .6 0 .6 0 .6 0 .6 0 .6 0 .6-1.5 .6 0 .5 0 .6 0 .6 1.5 .6-1.5 .6 0 .6 0 .6 0 .6 0 .6-1.5 .5 1.5 .6-1.5 .6 0 .6 0 .6 0 .6 0 .6 0 .6-1.5 .6 0 .5-1.5 .6 0 .6 0 .6 0 .6-1.5 .6 1.5 .6-1.5 .6 0 .6 0 .6 0 .5 0 .6 0 .6 0 .6 0 .6-3 .6 1.5 .6 0 .6 0 .6 0 .5 0 .6 0 .6 1.5 .6-1.5 .6 0 .6 0 .6 0 .6 0 .6 1.5 .5 0 .6-1.5 .6 1.5 .6 0 .6 0 .6-1.5 .6 1.5 .6 0 .6 0 .5 0 .6 1.5 .6-1.5 .6 1.5 .6 0 .6 1.5 .6 0 .6-1.5 .6 1.5 .5 0 .6-1.5 .6 3 .6-1.5 .6-1.5 .6 3 .6 0 .6 0 .6 0 .5 0 .6 0 .6 0 .6 0 .6 0 .6 0 .6-1.5 .6 0 .6 0 .6 0 .5-1.5 .6 0 .6 1.5 .6-1.5 .6 0 .6 0 .6 0 .6 0 .6 0 .5-1.5 .6 1.5 .6-1.5 .6 0 .6-1.5 .6 1.5 .6 0 .6-1.5 .6 1.5 .5 0 .6 0 .6-1.5 .6 0 .6-1.5 .6 1.5 .6-1.5 .6 0 .6 1.5 .5-1.5 .6 1.5 .6-1.5 .6 1.5 .6 0 .6 0 .6 0 .6 0 .6 1.5 .5-1.5 .6 1.5 .6 0 .6 1.5 .6 0 .6 0 .6 0 .6 0 .6 1.5 .6 0 .5 0 .6 0 .6 1.5 .6 0 .6-1.5 .6 0 .6 1.5 .6 0 .6 0 .5 0 .6 0 .6 0 .6 0 .6 1.5 .6-1.5 .6 0 .6 1.5 .6 0 .5 0 .6 1.5 .6-1.5 .6 1.5 .6 0 .6 0 .6 0 .6 0 .6 0 .5 0 .6 0 .6 0 .6 1.5 .6 0 .6 0 .6 0 .6 0 .6 0 .5 0 .6 0 .6 0 .6 1.5 .6 0 .6-1.5 .6 0 .6 0 .6 0 .6 1.5 .5 0 .6-1.5 .6 1.5 .6-1.5 .6 1.5 .6-1.5 .6 0 .6 1.5 .6 0 .5 0 .6 0 .6 0 .6-1.5 .6 1.5 .6 0 .6 0 .6-1.5 .6 1.5 .5-1.5 .6 1.5 .6 0 .6-1.5 .6 1.5 .6 0 .6 0 .6 0 .6 0 .5 0 .6 0 .6 0 .6 0 .6 0 .6-1.5 .6 1.5 .6-1.5 .6 1.5 .5 1.5 .6-1.5 .6-1.5 .6 0 .6 0 .6 0 .6 0 .6 0 .6 0 .5 0 .6 0 .6 0 .6 0 .6 0 .6 0 .6 0 .6 0 .6 0 .6 0 .5 0 .6 0 .6 0 .6 0 .6 1.5 .6-1.5 .6 0 .6 1.5 .6-1.5 .5 0 .6 0 .6 0 .6 1.5 .6 0 .6-1.5 .6 0 .6 0 .6 0 .5 0 .6 0 .6 0 .6 0 .6-1.5 .6 1.5 .6 0 .6-1.5 .6 0 .5 0 .6 0 .6 0 .6 0 .6-1.5 .6 1.5 .6 0 .6-1.5 .6 1.5 .5-1.5 .6 1.5 .6 0 .6-1.5 .6 0 .6 0 .6 0 .6 0 .6-1.5 .6 1.5 .5 0 .6 0 .6-1.5 .6 1.5 .6 0 .6 0 .6 1.5 .6-1.5 .6 0 .5 0 .6 1.5 .6-1.5 .6 1.5 .6-1.5 .6 0 .6 1.5 .6 0 .6 1.5 .5-1.5 .6 0 .6 0 .6 0 .6 0 .6 0 .6 0 .6-1.5 .6 0 .5 0 .6 0 .6 0 .6-1.5 .6 0 .6 1.5 .6-1.5 .6 0 .6 0 .5-1.5 .6 0 .6 0 .6 0 .6-1.5 .6 0 .6-1.5 .6 1.5 .6 0 .6-1.5 .5 0 .6 0 .6 0 .6 0 .6-1.5 .6 0 .6 0 .6-1.5 .6 0 .5 0 .6-1.5 .6 0 .6 0 .6 0 .6 0 .6 0 .6 0 .6 0 .5 0 .6 0 .6 1.5 .6-1.5 .6 0 .6 0 .6 1.5 .6 0 .6 0 .5 0 .6 0 .6 1.5 .6 0 .6 0 .6 1.5 .6-1.5 .6 1.5 .6-1.5 .5 1.5 .6-1.5 .6 1.5 .6 0 .6-1.5 .6 0 .6 1.5 .6 1.5 .6-1.5 .5 1.5 .6-1.5 .6 1.5 .6 1.5 .6 0 .6-1.5 .6 1.5 .6 1.5 .6 0 .6 0 .5 0 .6 0 .6 1.5 .6 0 .6 0 .6 0 .6 0 .6 0 .6 0 .5 0 .6 0 .6 0 .6 0 .6 0 .6 0 .6 0 .6 0 .6 0 .5 0 .6 0 .6 1.5 .6-1.5 .6 1.5 .6 0 .6 0 .6 0 .6 0 .5-1.5 .6 1.5 .6 1.5 .6-1.5 .6 0 .6 0 .6 0 .6 0 .6 1.5 .5-1.5 .6 0 .6 0 .6 1.5 .6-1.5 .6 1.5 .6 0 .6-1.5 .6 1.5 .6 0 .5 0 .6-1.5 .6 1.5 .6 0 .6-1.5 .6 1.5 .6 0 .6 0 .6 0 .5-1.5 .6 1.5 .6-1.5 .6 1.5 .6-1.5 .6 0 .6-1.5 .6 1.5 .6 0 .5 0 .6 0 .6 0 .6 0 .6 1.5 .6-1.5 .6 1.5 .6 0 .6 0 .5-1.5 .6 1.5 .6 0 .6 0 .6 1.5 .6-1.5 .6 0 .6 0 .6 0 .5 0 .6 0 .6 0 .6 0 .6 0 .6 0 .6 0 .6 0 .6 0 .5 1.5 .6-1.5 .6 0 .6 0 .6 0 .6 1.5 .6-1.5 .6 1.5 .6-1.5 .6 1.5 .5-1.5 .6 1.5 .6-1.5 .6 0 .6 0 .6 0 .6 0 .6 0 .6 0 .5 0 .6 0 .6 0 .6 0 .6 0 .6 1.5 .6-1.5 .6 0 .6 0 .5 1.5 .6-1.5 .6 1.5 .6 0 .6 0 .6-1.5 .6 0 .6 0 .6 0 .5 0 .6 0 .6 0 .6 1.5 .6-3 .6 1.5 .6 0 .6 0 .6 0 .5 1.5 .6-1.5 .6 0 .6 0 .6 0 .6 0 .6 0 .6 0 .6 0 .6 0 .5 0 .6 0 .6 0 .6 0 .6 0 .6 0 .6-1.5 .6 1.5 .6-1.5 .5 1.5 .6 0 .6 0 .6 0 .6 0 .6 0 .6 0 .6 0 .6 0 .5 1.5 .6-1.5 .6 1.5 .6-1.5 .6 1.5 .6 0 .6 0 .6-1.5 .6 1.5 .5-1.5 .6 1.5 .6-1.5 .6 0 .6 0 .6 0 .6 1.5 .6-1.5 .6 0 .5 0 .6 0 .6 1.5 .6-1.5 .6 1.5 .6-1.5 .6 0 .6 0 .6 1.5 .6 0 .5 0 .6-1.5 .6 0 .6 0 .6 0 .6 0 .6-1.5 .6 0 .6 1.5 .5-1.5 .6 1.5 .6 0 .6-1.5 .6 1.5 .6 0 .6 0 .6 0 .6-1.5 .5 1.5 .6-1.5 .6 1.5 .6 0 .6 0 .6 0 .6 0 .6 0 .6-1.5 .5 1.5 .6 1.5 .6-1.5 .6 0 .6 0 .6 0" fill="none" stroke="#8762A5" stroke-width="21" stroke-linejoin="round" stroke-linecap="round" clip-path="url(#cb)"/>
<path d="M192.3 3211.5l.6 1.5 .6 1.5 .6 1.5 .6-3 .6 3 .6-3 .5 0 .6 1.5 .6-1.5 .6 4.5 .6-7.5 .6 3 .6 0 .6 0 .6 1.5 .5-3 .6 4.5 .6-3 .6 1.5 .6 1.5 .6-3 .6 3 .6-1.5 .6 0 .5 1.5 .6 1.5 .6 0 .6-1.5 .6-1.5 .6 0 .6 1.5 .6 0 .6-1.5 .6 0 .5 0 .6 0 .6 1.5 .6-1.5 .6 0 .6 0 .6 0 .6 0 .6 3 .5 1.5 .6-3 .6 0 .6 0 .6 1.5 .6-3 .6 3 .6 3 .6-4.5 .5 1.5 .6 1.5 .6-1.5 .6 3 .6-1.5 .6 3 .6-1.5 .6-1.5 .6 0 .5 0 .6 3 .6-1.5 .6 3 .6-3 .6 1.5 .6 0 .6-3 .6 3 .5 0 .6-1.5 .6 0 .6 1.5 .6 0 .6 0 .6 0 .6 1.5 .6-1.5 .6 0 .5 0 .6 1.5 .6-1.5 .6-1.5 .6 0 .6 4.5 .6-1.5 .6 1.5 .6-1.5 .5 0 .6 1.5 .6 0 .6 0 .6-4.5 .6 1.5 .6 1.5 .6-4.5 .6 4.5 .5-3 .6 1.5 .6-1.5 .6 3 .6 0 .6-3 .6-1.5 .6 4.5 .6 0 .5-1.5 .6 3 .6-3 .6 0 .6 1.5 .6-1.5 .6-1.5 .6 3 .6-1.5 .5 0 .6 1.5 .6-1.5 .6-1.5 .6 1.5 .6 0 .6 0 .6 0 .6 3 .6-3 .5 3 .6 0 .6-1.5 .6 3 .6 0 .6-1.5 .6-1.5 .6 1.5 .6 0 .5-1.5 .6 6 .6-6 .6 3 .6 0 .6 0 .6 0 .6 0 .6-3 .5 0 .6 4.5 .6-1.5 .6 3 .6-3 .6 0 .6 0 .6 0 .6-1.5 .5 1.5 .6 1.5 .6 0 .6-1.5 .6 3 .6-1.5 .6 0 .6-4.5 .6 3 .5 1.5 .6-1.5 .6 3 .6-4.5 .6 3 .6 0 .6 1.5 .6-1.5 .6 1.5 .5-1.5 .6 1.5 .6 0 .6 0 .6 0 .6 0 .6 1.5 .6-3 .6 1.5 .6-3 .5 1.5 .6-1.5 .6 3 .6-3 .6 4.5 .6-3 .6 1.5 .6-1.5 .6 1.5 .5-3 .6 1.5 .6 0 .6 3 .6-4.5 .6-3 .6 7.5 .6-3 .6 0 .5 1.5 .6 0 .6-1.5 .6-1.5 .6 3 .6-1.5 .6-1.5 .6 1.5 .6 1.5 .5-1.5 .6 0 .6 3 .6-1.5 .6 1.5 .6 0 .6-3 .6 3 .6 0 .5-3 .6 3 .6-1.5 .6 4.5 .6-4.5 .6 1.5 .6 0 .6-1.5 .6 0 .6-1.5 .5 1.5 .6 1.5 .6-3 .6 1.5 .6-4.5 .6 3 .6-1.5 .6 0 .6 0 .5 3 .6-4.5 .6 6 .6-4.5 .6 1.5 .6-1.5 .6 0 .6 4.5 .6-1.5 .5 0 .6 3 .6-3 .6 1.5 .6 0 .6 0 .6 0 .6 0 .6 0 .5-1.5 .6 3 .6-1.5 .6 0 .6 1.5 .6-1.5 .6-1.5 .6-1.5 .6 3 .5 1.5 .6-3 .6 1.5 .6-1.5 .6 1.5 .6 1.5 .6-3 .6 1.5 .6-1.5 .5 1.5 .6-3 .6 1.5 .6 1.5 .6-1.5 .6 1.5 .6 1.5 .6-3 .6 0 .6 4.5 .5-3 .6 3 .6-3 .6 3 .6-1.5 .6 1.5 .6 0 .6-1.5 .6 0 .5 0 .6 0 .6-1.5 .6 1.5 .6 0 .6 0 .6 0 .6 0 .6 0 .5 0 .6 0 .6-1.5 .6 0 .6 1.5 .6 1.5 .6 0 .6-1.5 .6-1.5 .5 1.5 .6 0 .6 1.5 .6-1.5 .6 1.5 .6-1.5 .6 0 .6 0 .6 0 .5 0 .6-1.5 .6 1.5 .6 0 .6 0 .6 3 .6-4.5 .6 1.5 .6-1.5 .6 1.5 .5 0 .6-1.5 .6 0 .6 1.5 .6-1.5 .6 1.5 .6-1.5 .6 0 .6 3 .5-4.5 .6 6 .6-3 .6 0 .6 3 .6 1.5 .6-3 .6 1.5 .6 0 .5 1.5 .6-1.5 .6 0 .6 0 .6 1.5 .6-1.5 .6 1.5 .6 1.5 .6 1.5 .5-4.5 .6 1.5 .6 0 .6-1.5 .6 1.5 .6 0 .6 0 .6 0 .6 3 .5-1.5 .6-1.5 .6 0 .6 1.5 .6 0 .6 1.5 .6-3 .6-1.5 .6 3 .6 0 .5 0 .6-3 .6 1.5 .6 0 .6 0 .6 0 .6 1.5 .6 0 .6-3 .5 3 .6 0 .6-1.5 .6-1.5 .6 1.5 .6 1.5 .6-1.5 .6 0 .6 0 .5-1.5 .6 1.5 .6 0 .6-1.5 .6 1.5 .6-1.5 .6 0 .6 1.5 .6-1.5 .5 0 .6 1.5 .6-3 .6 3 .6 0 .6-1.5 .6 0 .6 0 .6-1.5 .5 0 .6 1.5 .6 0 .6-3 .6 1.5 .6 0 .6 1.5 .6 0 .6 0 .5 0 .6 1.5 .6-4.5 .6 3 .6-1.5 .6 4.5 .6-1.5 .6-1.5 .6 0 .6 0 .5 0 .6 1.5 .6-1.5 .6 3 .6-3 .6 1.5 .6 1.5 .6-1.5 .6 0 .5-1.5 .6 3 .6-3 .6 1.5 .6 0 .6 0 .6 0 .6-1.5 .6 0 .5-1.5 .6 0 .6 0 .6 0 .6 1.5 .6-1.5 .6 3 .6-1.5 .6 0 .5-1.5 .6 0 .6 1.5 .6-1.5 .6 3 .6 0 .6-1.5 .6 1.5 .6-1.5 .5 1.5 .6 0 .6 0 .6-1.5 .6 1.5 .6 1.5 .6-1.5 .6 0 .6 1.5 .6-1.5 .5-1.5 .6 0 .6 3 .6-1.5 .6 3 .6-1.5 .6-1.5 .6 0 .6-1.5 .5 4.5 .6-3 .6 1.5 .6-3 .6 1.5 .6 1.5 .6-1.5 .6 0 .6 1.5 .5-1.5 .6 0 .6 0 .6 0 .6 0 .6 1.5 .6-1.5 .6 1.5 .6-1.5 .5 0 .6-1.5 .6 1.5 .6 0 .6 0 .6 0 .6 3 .6-1.5 .6 0 .5 0 .6 0 .6 0 .6-1.5 .6 0 .6 3 .6-1.5 .6 0 .6 1.5 .6-1.5 .5-1.5 .6 1.5 .6-1.5 .6-1.5 .6 3 .6 0 .6 0 .6-1.5 .6 1.5 .5-1.5 .6-1.5 .6 0 .6-1.5 .6 1.5 .6 0 .6 0 .6-1.5 .6 3 .5-1.5 .6 1.5 .6 0 .6 0 .6 0 .6 3 .6-1.5 .6 0 .6 1.5 .5 0 .6 0 .6 1.5 .6 0 .6-1.5 .6 0 .6 0 .6-1.5 .6 0 .5 0 .6 0 .6 1.5 .6 1.5 .6-1.5 .6-1.5 .6 0 .6 1.5 .6-1.5 .5 0 .6 1.5 .6 0 .6-3 .6 1.5 .6-1.5 .6 1.5 .6 0 .6 0 .6 3 .5-3 .6 0 .6 3 .6-3 .6 3 .6-1.5 .6 1.5 .6 0 .6 0 .5 0 .6 0 .6 1.5 .6-1.5 .6 0 .6 1.5 .6-3 .6 0 .6-1.5 .5 1.5 .6-1.5 .6 1.5 .6-1.5 .6 0 .6-1.5 .6 0 .6 0 .6 0 .5-1.5 .6 1.5 .6-1.5 .6 0 .6 3 .6-1.5 .6 0 .6-1.5 .6 3 .5-3 .6 0 .6 1.5 .6-1.5 .6 1.5 .6 0 .6-3 .6 1.5 .6 1.5 .6-1.5 .5 0 .6 0 .6 0 .6 0 .6 0 .6 0 .6 0 .6 0 .6 1.5 .5 0 .6-1.5 .6 3 .6 0 .6-1.5 .6-1.5 .6 1.5 .6 0 .6-1.5 .5 1.5 .6 1.5 .6-3 .6 3 .6-1.5 .6 0 .6 1.5 .6 0 .6-1.5 .5 0 .6 0 .6 0 .6 1.5 .6-3 .6 0 .6 1.5 .6-1.5 .6 1.5 .5-1.5 .6 0 .6 1.5 .6-1.5 .6 1.5 .6 0 .6-1.5 .6 0 .6 1.5 .6 0 .5-1.5 .6 1.5 .6-1.5 .6-1.5 .6 3 .6-3 .6 1.5 .6 0 .6 0 .5 0 .6 1.5 .6 0 .6 0 .6 1.5 .6-4.5 .6 3 .6-1.5 .6 1.5 .5-1.5 .6-1.5 .6-1.5 .6 0 .6 0 .6 1.5 .6 0 .6-1.5 .6-1.5 .5 0 .6 0 .6-1.5 .6 0 .6 0 .6 1.5 .6-1.5 .6 0 .6 3 .5-4.5 .6 1.5 .6-1.5 .6 1.5 .6-1.5 .6-1.5 .6 3 .6-3 .6 1.5 .5-1.5 .6 1.5 .6-1.5 .6 0 .6 0 .6-3 .6 1.5 .6-1.5 .6 0 .6 0 .5-1.5 .6-1.5 .6-1.5 .6 1.5 .6-1.5 .6-1.5 .6 0 .6-3 .6 0 .5-1.5 .6-3 .6 0 .6-3 .6 0 .6-4.5 .6-1.5 .6-1.5 .6-4.5 .5-1.5 .6-3 .6-6 .6-4.5 .6-6 .6-4.5 .6-7.5 .6-6 .6-10.5 .5-6 .6-13.5 .6-9 .6-12 .6-12 .6-15 .6-12 .6-15 .6-16.5 .5-16.5 .6-13.5 .6-15 .6-15 .6-12 .6-6 .6-6 .6-6 .6 0 .6 4.5 .5 7.5 .6 9 .6 10.5 .6 13.5 .6 15 .6 16.5 .6 15 .6 16.5 .6 12 .5 13.5 .6 15 .6 12 .6 10.5 .6 10.5 .6 10.5 .6 6 .6 12 .6 6 .5 4.5 .6 7.5 .6 4.5 .6 6 .6 3 .6 6 .6 1.5 .6 4.5 .6 1.5 .5 4.5 .6 3 .6 3 .6 0 .6 4.5 .6 1.5 .6 0 .6 1.5 .6 1.5 .5 1.5 .6-1.5 .6 1.5 .6 1.5 .6 1.5 .6-1.5 .6 3 .6 0 .6 1.5 .5 1.5 .6 0 .6 0 .6 1.5 .6 0 .6 0 .6 0 .6 1.5 .6-1.5 .6 1.5 .5 3 .6-1.5 .6-1.5 .6 1.5 .6 1.5 .6-1.5 .6 0 .6 0 .6 0 .5 1.5 .6-1.5 .6 1.5 .6 1.5 .6 0 .6 0 .6 0 .6-1.5 .6 1.5 .5 0 .6 0 .6 0 .6 0 .6 0 .6 0 .6 0 .6 1.5 .6 1.5 .5-1.5 .6 0 .6-1.5 .6 1.5 .6-1.5 .6 0 .6-1.5 .6 1.5 .6-1.5 .5 0 .6 0 .6-3 .6 0 .6-1.5 .6 0 .6-3 .6-3 .6 0 .6-3 .5 0 .6-4.5 .6-1.5 .6 1.5 .6-1.5 .6 3 .6 1.5 .6 1.5 .6 1.5 .5 0 .6 3 .6 3 .6 1.5 .6 3 .6 0 .6 1.5 .6 1.5 .6 1.5 .5-1.5 .6 1.5 .6 0 .6-1.5 .6 3 .6 0 .6 0 .6 0 .6 0 .5 0 .6 1.5 .6 0 .6 1.5 .6 0 .6-3 .6 3 .6 0 .6 0 .5 0 .6 0 .6 1.5 .6 0 .6 0 .6-1.5 .6 0 .6 1.5 .6-1.5 .6 1.5 .5 0 .6 0 .6-1.5 .6 0 .6 0 .6 0 .6-1.5 .6 1.5 .6 1.5 .5 0 .6 0 .6 1.5 .6 0 .6-1.5 .6 1.5 .6-3 .6 0 .6 0 .5 1.5 .6-1.5 .6 0 .6 4.5 .6-3 .6 1.5 .6-1.5 .6 1.5 .6 0 .5-1.5 .6 0 .6 1.5 .6 0 .6-1.5 .6 1.5 .6 0 .6 0 .6-3 .5 3 .6-1.5 .6 0 .6 3 .6-1.5 .6 0 .6 1.5 .6-1.5 .6 0 .5 0 .6 0 .6 0 .6-1.5 .6 1.5 .6 0 .6-3 .6 1.5 .6 0 .6 0 .5 0 .6 0 .6-1.5 .6 1.5 .6 0 .6 0 .6 0 .6 0 .6 0 .5 0 .6 3 .6 0 .6-1.5 .6 0 .6-1.5 .6 3 .6 0 .6-1.5 .5 3 .6-4.5 .6 1.5 .6 1.5 .6 0 .6-1.5 .6 0 .6 0 .6 0 .5 1.5 .6 0 .6-1.5 .6 1.5 .6 0 .6-3 .6 0 .6 3 .6 1.5 .5-1.5 .6 0 .6-1.5 .6 0 .6 0 .6 0 .6 0 .6 1.5 .6-1.5 .6-1.5 .5 1.5 .6 0 .6 0 .6 0 .6 0 .6-3 .6 3 .6 0 .6 0 .5-1.5 .6 1.5 .6 0 .6-3 .6 3 .6-1.5 .6 0 .6-1.5 .6 1.5 .5 0 .6 0 .6 0 .6-1.5 .6 1.5 .6-1.5 .6 1.5 .6 0 .6 0 .5 0 .6 1.5 .6 0 .6 0 .6-1.5 .6 1.5 .6 0 .6 0 .6 1.5 .5-3 .6 1.5 .6 0 .6-1.5 .6 0 .6 1.5 .6 0 .6 0 .6-1.5 .6 0 .5 1.5 .6-1.5 .6 0 .6 1.5 .6 0 .6 0 .6 1.5 .6 0 .6 0 .5-1.5 .6 0 .6 0 .6 1.5 .6 1.5 .6-1.5 .6 0 .6 1.5 .6 0 .5-1.5 .6 0 .6 0 .6 0 .6-3 .6 1.5 .6 0 .6 1.5 .6-1.5 .5 0 .6-3 .6 3 .6-1.5 .6 1.5 .6-3 .6 1.5 .6 0 .6 0 .5 0 .6 0 .6 0 .6 0 .6 0 .6 1.5 .6 0 .6-1.5 .6 0 .5 0 .6 0 .6 1.5 .6 0 .6-1.5 .6 1.5 .6-1.5 .6 1.5 .6 0 .6 1.5 .5-1.5 .6 0 .6 0 .6 1.5 .6-1.5 .6 0 .6-1.5 .6 1.5 .6-1.5 .5 0 .6 0 .6 1.5 .6-1.5 .6 0 .6 0 .6 0 .6 3 .6-1.5 .5-3 .6 0 .6 1.5 .6-1.5 .6 0 .6 3 .6-1.5 .6 0 .6 1.5 .5-3 .6 0 .6 0 .6 1.5 .6-1.5 .6 0 .6 1.5 .6-1.5 .6 4.5 .5-1.5 .6-1.5 .6 1.5 .6-3 .6 3 .6 0 .6 0 .6 0 .6 0 .6-1.5 .5-1.5 .6 3 .6-1.5 .6 1.5 .6-1.5 .6 1.5 .6-1.5 .6 0 .6 0 .5 0 .6 0 .6 0 .6 0 .6 0 .6 0 .6 0 .6 0 .6 1.5 .5 0 .6 1.5 .6-3 .6 0 .6 0 .6 0 .6 0 .6 1.5 .6-1.5 .5 1.5 .6-1.5 .6-1.5 .6 1.5 .6-1.5 .6 0 .6 1.5 .6 0 .6-1.5 .5 0 .6 1.5 .6-1.5 .6 0 .6 1.5 .6-1.5 .6 0 .6 0 .6 1.5 .6 1.5 .5-1.5 .6 1.5 .6-1.5 .6-1.5 .6 0 .6 1.5 .6-1.5 .6 1.5 .6-1.5 .5 1.5 .6-1.5 .6 1.5 .6 0 .6-1.5 .6 0 .6 0 .6 0 .6 0 .5-1.5 .6 0 .6 0 .6 1.5 .6 0 .6 0 .6-1.5 .6 0 .6 0 .5 0 .6-1.5 .6 1.5 .6 0 .6 0 .6 0 .6 0 .6 1.5 .6-1.5 .5 0 .6 0 .6 1.5 .6-1.5 .6 0 .6 1.5 .6 0 .6-1.5 .6 1.5 .5 1.5 .6-3 .6 0 .6 0 .6 1.5 .6 0 .6 0 .6 0 .6 1.5 .6 0 .5 0 .6-1.5 .6 1.5 .6 1.5 .6-1.5 .6 0 .6 0 .6 0 .6-1.5 .5 1.5 .6 0 .6 0 .6-1.5 .6 0 .6 1.5 .6-1.5 .6 0 .6 0 .5 0 .6-1.5 .6 0 .6 0 .6-1.5 .6 1.5 .6-1.5 .6 0 .6-1.5 .5 1.5 .6-1.5 .6 1.5 .6 0 .6-1.5 .6 0 .6 0 .6 1.5 .6-3 .5 0 .6 1.5 .6-3 .6 1.5 .6 0 .6 0 .6 0 .6 0 .6 0 .6 1.5 .5 0 .6-1.5 .6 1.5 .6-1.5 .6 0 .6 1.5 .6-1.5 .6-1.5 .6 0 .5 0 .6 0 .6 0 .6-1.5 .6 0 .6-1.5 .6 0 .6-1.5 .6 0 .5 1.5 .6-3 .6 1.5 .6 1.5 .6-1.5 .6-1.5 .6 0 .6-1.5 .6 1.5 .5-1.5 .6 1.5 .6-3 .6 0 .6 0 .6-1.5 .6 0 .6 0 .6 0 .5-1.5 .6 0 .6 1.5 .6-1.5 .6 1.5 .6-1.5 .6-1.5 .6 1.5 .6 0 .5 0 .6 0 .6 0 .6 0 .6 0 .6-3 .6 1.5 .6 0 .6 0 .6 0 .5-1.5 .6 0 .6 0 .6-1.5 .6 1.5 .6-1.5 .6-1.5 .6 0 .6 0 .5 0 .6-1.5 .6 0 .6-1.5 .6 0 .6-1.5 .6 0 .6 0 .6-1.5 .5-1.5 .6-1.5 .6 0 .6 0 .6 0 .6-1.5 .6 0 .6-1.5 .6 1.5 .5-1.5 .6 1.5 .6-1.5 .6 0 .6 0 .6 0 .6 1.5 .6-1.5 .6 0 .5 0 .6 1.5 .6 0 .6-1.5 .6 3 .6 1.5 .6-1.5 .6 3 .6-1.5 .6 1.5 .5-1.5 .6 3 .6 0 .6 0 .6 1.5 .6 0 .6 1.5 .6-1.5 .6 3 .5-1.5 .6 0 .6 0 .6 0 .6 1.5 .6 0 .6 0 .6-1.5 .6 1.5 .5-1.5 .6 3 .6-1.5 .6 1.5 .6-1.5 .6 1.5 .6 0 .6 1.5 .6 0 .5 0 .6 1.5 .6 1.5 .6 0 .6 1.5 .6 0 .6 1.5 .6 1.5 .6 0 .5 0 .6 3 .6 1.5 .6 0 .6 1.5 .6-1.5 .6 3 .6 0 .6-1.5 .6 1.5 .5 1.5 .6-3 .6 3 .6 0 .6 1.5 .6 1.5 .6 0 .6-1.5 .6 3 .5-1.5 .6 1.5 .6 0 .6-1.5 .6 0 .6 1.5 .6-1.5 .6 0 .6 0 .5 1.5 .6-1.5 .6 0 .6 0 .6 3 .6-1.5 .6 1.5 .6-1.5 .6 0 .5 0 .6 0 .6 1.5 .6-1.5 .6 1.5 .6 0 .6 0 .6 0 .6-1.5 .5 1.5 .6 0 .6 0 .6 0 .6 1.5 .6 0 .6 0 .6 0 .6-1.5 .5 1.5 .6-1.5 .6 1.5 .6 0 .6 0 .6 0 .6-1.5 .6 1.5 .6 0 .6 0 .5 0 .6-1.5 .6 1.5 .6 0 .6 1.5 .6-1.5 .6 1.5 .6-1.5 .6 1.5 .5 0 .6 0 .6 0 .6 0 .6 0 .6-1.5 .6 1.5 .6 0 .6 0 .5 1.5 .6 0 .6-1.5 .6 0 .6 3 .6-3 .6 0 .6 0 .6 1.5 .5-1.5 .6 0 .6-1.5 .6 0 .6 0 .6 1.5 .6-1.5 .6 1.5 .6-1.5 .5 1.5 .6-1.5 .6 0 .6 1.5 .6-1.5 .6 0 .6 1.5 .6-1.5 .6 1.5 .6 0 .5-1.5 .6 1.5 .6-1.5 .6 0 .6 1.5 .6-1.5 .6 1.5 .6 0 .6 0 .5 1.5 .6-3 .6 3 .6-1.5 .6 1.5 .6-1.5 .6 0 .6 0 .6 1.5 .5 0 .6 0 .6-1.5 .6 0 .6-1.5 .6 1.5 .6 1.5 .6 0 .6-1.5 .5 1.5 .6 0 .6-1.5 .6 0 .6-1.5 .6 1.5 .6 0 .6 1.5 .6-1.5 .5 1.5 .6-1.5 .6 1.5 .6 0 .6 0 .6-1.5 .6 0 .6 1.5 .6 0 .6-1.5 .5 1.5 .6 0 .6 0 .6 0 .6-1.5 .6 1.5 .6-1.5 .6 1.5 .6 1.5 .5-1.5 .6 0 .6 0 .6 1.5 .6-1.5 .6 0 .6 0 .6-1.5 .6 0 .5 1.5 .6-3 .6 1.5 .6 0 .6 0 .6 1.5 .6-1.5 .6-1.5 .6 1.5 .5 0 .6-1.5 .6 3 .6-1.5 .6 0 .6 1.5 .6-1.5 .6 1.5 .6 0 .5 1.5 .6-3 .6 1.5 .6 0 .6 0 .6-1.5 .6 1.5 .6 0 .6 0 .5 0 .6-1.5 .6 1.5 .6-1.5 .6 1.5 .6 0 .6-1.5 .6 0 .6 1.5 .6 0 .5 0 .6 0 .6 0 .6 1.5 .6-1.5 .6 0 .6 1.5 .6-1.5 .6 0 .5 1.5 .6-1.5 .6-1.5 .6 1.5 .6 0 .6-1.5 .6 1.5 .6-1.5 .6 0 .5 1.5 .6 0 .6 0 .6 0 .6 0 .6 0 .6-1.5 .6 1.5 .6-1.5 .5 1.5 .6 0 .6 0 .6-1.5 .6 1.5 .6 0 .6-1.5 .6 1.5 .6 0 .5 1.5 .6-1.5 .6 0 .6 0 .6 0 .6 0 .6 1.5 .6-1.5 .6 0 .6 1.5 .5-1.5 .6 0 .6-1.5 .6 1.5 .6 0 .6 0 .6 0 .6 0 .6-1.5 .5 1.5 .6 0 .6 0 .6 0 .6 0 .6 1.5 .6-1.5 .6 1.5 .6-1.5 .5 1.5 .6 0 .6 0 .6 0 .6 0 .6-1.5 .6 0 .6 0 .6 0 .5 0 .6 0 .6 0 .6 0 .6 0 .6 0 .6 0 .6 0 .6 0 .5 0 .6 0 .6 0 .6 1.5 .6-1.5 .6 0 .6 0 .6 0 .6 0 .5 0 .6 0 .6 1.5 .6-3 .6 1.5 .6 0 .6 0 .6 3 .6-1.5 .6 0 .5-1.5 .6 0 .6 0 .6 1.5 .6 0 .6 0 .6 0 .6-1.5 .6 0 .5 1.5 .6-3 .6 1.5 .6 1.5 .6 0 .6-1.5 .6 1.5 .6-1.5 .6 0 .5 0 .6 0 .6 0 .6 1.5 .6-1.5 .6 1.5 .6 0 .6 0 .6 0 .5-1.5 .6 0 .6-1.5 .6 0 .6 1.5 .6 0 .6 0 .6 0 .6 0 .5 0 .6 0 .6-1.5 .6 1.5 .6 0 .6-1.5 .6 1.5 .6-1.5 .6 1.5 .6-1.5 .5 0 .6 0 .6 0 .6 1.5 .6-1.5 .6 0 .6 0 .6 0 .6 0 .5 0 .6 0 .6 0 .6 0 .6 0 .6 0 .6 0 .6 0 .6-1.5 .5 1.5 .6 1.5 .6-1.5 .6 0 .6 0 .6 0 .6 0 .6 0 .6 1.5 .5-1.5 .6 1.5 .6-1.5 .6 0 .6 0 .6 1.5 .6-3 .6 0 .6-1.5 .5 1.5 .6 0 .6 0 .6 0 .6-1.5 .6 0 .6-1.5 .6 0 .6 0 .6 0 .5 0 .6 0 .6 1.5 .6-1.5 .6 0 .6 0 .6-1.5 .6 0 .6 0 .5 0 .6-1.5 .6 0 .6 0 .6 0 .6 0 .6-1.5 .6-1.5 .6 0 .5 0 .6-1.5 .6-1.5 .6-1.5 .6 0 .6 0 .6-1.5 .6-1.5 .6-1.5 .5 0 .6-3 .6-1.5 .6-1.5 .6-3 .6 0 .6-3 .6-1.5 .6-3 .5-4.5 .6-1.5 .6-1.5 .6-4.5 .6-3 .6-1.5 .6-1.5 .6-4.5 .6-3 .5-1.5 .6-1.5 .6-1.5 .6-1.5 .6 0 .6-1.5 .6 0 .6 1.5 .6 0 .6 3 .5 1.5 .6 1.5 .6 3 .6 1.5 .6 3 .6 1.5 .6 3 .6 3 .6 3 .5 3 .6 1.5 .6 4.5 .6 3 .6 1.5 .6 1.5 .6 1.5 .6 3 .6 0 .5 1.5 .6 3 .6 1.5 .6 0 .6 1.5 .6 1.5 .6 1.5 .6 1.5 .6 0 .5 1.5 .6 0 .6 1.5 .6 0 .6 0 .6 1.5 .6 0 .6 1.5 .6-1.5 .5 1.5 .6 1.5 .6 0 .6 0 .6 0 .6 1.5 .6-1.5 .6 0 .6 1.5 .6 1.5 .5-1.5 .6 1.5 .6-1.5 .6 0 .6 0 .6 0 .6 1.5 .6-1.5 .6 1.5 .5-1.5 .6 0 .6 1.5 .6 0 .6 0 .6 0 .6 0 .6 0 .6 0 .5 0 .6 1.5 .6 0 .6 0 .6 0 .6 0 .6 0 .6 0 .6 1.5 .5-1.5 .6 0 .6 0 .6 0 .6 0 .6 0 .6 1.5 .6-1.5 .6 0 .5 0 .6-1.5 .6 0 .6 1.5 .6 0 .6 0 .6-1.5 .6 1.5 .6 0 .6 0 .5 1.5 .6-1.5 .6 0 .6 1.5 .6 0 .6 0 .6-1.5 .6 0 .6 1.5 .5 0 .6-1.5 .6 1.5 .6 0 .6-1.5 .6 1.5 .6 0 .6 0 .6-1.5 .5 1.5 .6 0 .6 0 .6 0 .6 0 .6 0 .6 0 .6 0 .6 0 .5 0 .6 0 .6 0 .6 0 .6 0 .6 1.5 .6 0 .6-1.5 .6 0 .5 0 .6 1.5 .6-1.5 .6 1.5 .6-1.5 .6 0 .6 1.5 .6-1.5 .6 0 .5 1.5 .6-3 .6 1.5 .6 0 .6 1.5 .6-1.5 .6 0 .6 0 .6 0 .6 0 .5 1.5 .6 0 .6 0 .6-1.5 .6-1.5 .6 1.5 .6 0 .6 0 .6 1.5 .5-3 .6 1.5 .6 1.5 .6 0 .6-1.5 .6 0 .6 0 .6 0 .6-1.5 .5 1.5 .6 0 .6-1.5 .6 1.5 .6 0 .6 1.5 .6-1.5 .6 0 .6-1.5 .5 0 .6 1.5 .6 0 .6 0 .6-1.5 .6 0 .6 1.5 .6 0 .6-1.5 .5 0 .6 1.5 .6-1.5 .6 1.5 .6-1.5 .6 1.5 .6 0 .6 0 .6-1.5 .6 3 .5-1.5 .6-1.5 .6 1.5 .6 0 .6 0 .6-1.5 .6 1.5 .6-1.5 .6 0 .5 0 .6 1.5 .6-1.5 .6 0 .6 0 .6 0 .6 0 .6 1.5 .6-1.5 .5 0 .6 0 .6 1.5 .6 0 .6-3 .6 1.5 .6 0 .6-1.5 .6 0 .5 0 .6 0 .6 0 .6 0 .6 0 .6 0 .6 0 .6 0 .6 1.5 .5-1.5 .6 0 .6-1.5 .6 0 .6 0 .6 0 .6 1.5 .6 0 .6 0 .6-1.5 .5-1.5 .6 0 .6 0 .6 0 .6 0 .6-1.5 .6 1.5 .6 0 .6-1.5 .5 0 .6 0 .6-1.5 .6 0 .6 0 .6-1.5 .6 0 .6 0 .6-1.5 .5 1.5 .6-1.5 .6-1.5 .6-1.5 .6 0 .6-1.5 .6 1.5 .6-1.5 .6-1.5 .5 0 .6 0 .6-1.5 .6-1.5 .6-1.5 .6 0 .6 0 .6-3 .6-1.5 .5 0 .6-1.5 .6 0 .6-1.5 .6 0 .6-1.5 .6 0 .6-3 .6 0 .5-1.5 .6 0 .6 0 .6-1.5 .6 0 .6-1.5 .6 0 .6 0 .6 0 .6 1.5 .5-1.5 .6 1.5 .6-1.5 .6 1.5 .6 0 .6 0 .6 0 .6 1.5 .6 1.5 .5 0 .6 0 .6 0 .6 1.5 .6 0 .6 1.5 .6 0 .6 1.5 .6-1.5 .5 1.5 .6 1.5 .6 0 .6-1.5 .6 1.5 .6-1.5 .6 1.5 .6-1.5 .6 1.5 .5 0 .6-1.5 .6 0 .6 0 .6-1.5 .6 0 .6-1.5 .6 1.5 .6-1.5 .5-1.5 .6 0 .6 0 .6-1.5 .6-1.5 .6 0 .6-1.5 .6 0 .6 0 .6 0 .5-1.5 .6 1.5 .6-1.5 .6 0 .6 1.5 .6-1.5 .6 1.5 .6 1.5 .6 0 .5 1.5 .6 1.5 .6 1.5 .6 0 .6 1.5 .6 0 .6 3 .6 0 .6 0 .5 3 .6 0 .6 1.5 .6 1.5 .6 1.5 .6 0 .6 1.5 .6 1.5 .6 0 .5 1.5 .6 0 .6 1.5 .6 0 .6 1.5 .6 0 .6 1.5 .6 0 .6 1.5 .5 0 .6 1.5 .6 0 .6 0 .6 0 .6 0 .6 0 .6 1.5 .6 0 .5 0 .6 1.5 .6 0 .6 1.5 .6-1.5 .6 0 .6 1.5 .6 0 .6 0 .6 0 .5 0 .6 1.5 .6 0 .6 0 .6 0 .6 1.5 .6 0 .6-1.5 .6 3 .5-1.5 .6 0 .6 1.5 .6-1.5 .6 1.5 .6 0 .6 0 .6 1.5 .6 0 .5-1.5 .6 0 .6 0 .6-1.5 .6 0 .6 0 .6 0 .6 0 .6-1.5 .5 0 .6 1.5 .6 0 .6-1.5 .6 1.5 .6 0 .6 0 .6 0 .6 1.5 .5-3 .6 1.5 .6 0 .6 1.5 .6 0 .6 0 .6 0 .6 0 .6 1.5 .6-1.5 .5 1.5 .6 0 .6 0 .6 0 .6-1.5 .6 1.5 .6-3 .6 1.5 .6 1.5 .5 0 .6-1.5 .6 0 .6 0 .6 0 .6-1.5 .6 1.5 .6-1.5 .6 1.5 .5 0 .6 0 .6 1.5 .6-1.5 .6 0 .6 1.5 .6 0 .6 0 .6 0 .5 0 .6 0 .6 0 .6 0 .6 0 .6 0 .6 0 .6 0 .6-1.5 .5 1.5 .6 0 .6-1.5 .6 0 .6 1.5 .6 0 .6-1.5 .6 1.5 .6-1.5 .6 0 .5 0 .6 0 .6 0 .6 0 .6 1.5 .6-1.5 .6 1.5 .6 0 .6 0 .5 0 .6 0 .6-1.5 .6 1.5 .6 1.5 .6-1.5 .6 0 .6 0 .6 0 .5 0 .6 0 .6 0 .6 1.5 .6-1.5 .6 0 .6 0 .6 0 .6 0 .5 0 .6 1.5 .6 0 .6-1.5 .6 1.5 .6-1.5 .6 0 .6 0 .6 0 .5 0 .6 0 .6 1.5 .6-1.5 .6 0 .6 0 .6 0 .6 0 .6 0 .5 0 .6 0 .6-3 .6 3 .6-1.5 .6 0 .6 0 .6 1.5 .6-1.5 .6 0 .5 0 .6 1.5 .6-1.5 .6 0 .6 0 .6 1.5 .6 0 .6 0 .6-1.5 .5 1.5 .6-1.5 .6 1.5 .6 0 .6 0 .6 0 .6 1.5 .6-1.5 .6 1.5 .5-1.5 .6 1.5 .6 0 .6 0 .6 0 .6 0 .6-1.5 .6 1.5 .6 0 .5 0 .6-1.5 .6 0 .6 0 .6 1.5 .6 0 .6 0 .6 0 .6-1.5 .5 0 .6 0 .6 0 .6 0 .6 1.5 .6-1.5 .6 1.5 .6 0 .6 0 .6 0 .5 0 .6 0 .6-1.5 .6 0 .6 1.5 .6-1.5 .6 0 .6-1.5 .6 1.5 .5-1.5 .6 0 .6 0 .6 0 .6-1.5 .6 0 .6 0 .6 0 .6-1.5 .5 1.5 .6 0 .6 1.5 .6-1.5 .6 0 .6 1.5 .6 0 .6 0 .6 0 .5 0 .6 0 .6 0 .6 0 .6 0 .6 0 .6 0 .6 0 .6 1.5 .5-1.5 .6 1.5 .6-1.5 .6 0 .6 1.5 .6-1.5 .6 0 .6 0 .6 1.5 .6-1.5 .5 1.5 .6-1.5 .6 0 .6 0 .6 0 .6 0 .6 0 .6 1.5 .6-1.5 .5 0 .6 1.5 .6 0 .6 0 .6 0 .6 0 .6 0 .6-1.5 .6 0 .5 1.5 .6-3 .6 0 .6 0 .6 1.5 .6 0 .6 0 .6 0 .6-1.5 .5 0 .6 1.5 .6 0 .6-1.5 .6 1.5 .6 0 .6 0 .6 0 .6 0 .5-1.5 .6 0 .6 0 .6 0 .6 0 .6 0 .6-1.5 .6 0 .6 1.5 .5 0 .6 0 .6 0 .6 0 .6 1.5 .6-1.5 .6 0 .6 0 .6-1.5 .6 0 .5 1.5 .6 0 .6-1.5 .6 0 .6-1.5 .6 0 .6 0 .6 0 .6 0 .5-1.5 .6 0 .6 0 .6-1.5 .6 0 .6-1.5 .6 1.5 .6-1.5 .6 0 .5 0 .6-1.5 .6 0 .6-1.5 .6 0 .6-1.5 .6 0 .6-1.5 .6-1.5 .5 0 .6 0 .6 0 .6-1.5 .6 0 .6-1.5 .6 1.5 .6-1.5 .6-1.5 .5 1.5 .6-1.5 .6 0 .6-1.5 .6 0 .6 1.5 .6-1.5 .6 0 .6 0 .6 1.5 .5 0 .6 1.5 .6 0 .6 1.5 .6-1.5 .6 1.5 .6 0 .6 1.5 .6 0 .5 0 .6 1.5 .6 1.5 .6 0 .6 1.5 .6 0 .6 1.5 .6 0 .6 0 .5 1.5 .6 0 .6 1.5 .6 0 .6 1.5 .6-1.5 .6 1.5 .6 1.5 .6-1.5 .5 1.5 .6 1.5 .6 0 .6 0 .6 0 .6 0 .6 0 .6 0 .6 0 .5 1.5 .6 0 .6 0 .6 1.5 .6-1.5 .6 1.5 .6-1.5 .6 1.5 .6-1.5 .6 0 .5 1.5 .6 0 .6 0 .6 0 .6 0 .6 0 .6-1.5 .6 1.5 .6 0 .5 0 .6-1.5 .6 1.5 .6 0 .6-1.5 .6 1.5 .6 1.5 .6-1.5 .6 0 .5 1.5 .6-1.5 .6 0 .6 1.5 .6 0 .6 0 .6-1.5 .6 0 .6 0 .5 0 .6 1.5 .6 0 .6 0 .6-1.5 .6 0 .6 1.5 .6 0 .6 0 .5 0 .6 0 .6-1.5 .6 1.5 .6 1.5 .6-1.5 .6 0 .6 0 .6 0 .5 0 .6-1.5 .6 1.5 .6 0 .6 0 .6 1.5 .6-1.5 .6 0 .6 0 .6 0 .5 0 .6 0 .6 0 .6 0 .6 0 .6 0 .6 0 .6 0 .6 0 .5 0 .6 0 .6 0 .6 1.5 .6 0 .6-1.5 .6 0 .6 0 .6 1.5 .5 0 .6-1.5 .6 1.5 .6-1.5 .6 0 .6 0 .6 0 .6 0 .6 0 .5 0 .6 0 .6-1.5 .6 0 .6 0 .6 1.5 .6-1.5 .6-1.5 .6 1.5 .5 1.5 .6-1.5 .6 0 .6 1.5 .6 0 .6 0 .6 1.5 .6-1.5 .6 0 .6 0 .5 0 .6 0 .6 1.5 .6 0 .6-1.5 .6 0 .6 0 .6 0 .6 1.5 .5-1.5 .6 0 .6 1.5 .6 0 .6-1.5 .6 1.5 .6-1.5 .6 1.5 .6-1.5 .5 0 .6 0 .6 0 .6 0 .6 1.5 .6-1.5 .6 0 .6 0 .6-1.5 .5 0 .6 1.5 .6 0 .6 0 .6 0 .6 0 .6 1.5 .6 0 .6-1.5 .5 0 .6 1.5 .6 0 .6-1.5 .6 0 .6 0 .6 0 .6 1.5 .6-3 .5 0 .6 1.5 .6 0 .6 0 .6 0 .6 0 .6 0 .6 0 .6 0 .6 0 .5 1.5 .6-1.5 .6 0 .6 0 .6 0 .6 1.5 .6-1.5 .6 0 .6 0 .5 0 .6-1.5 .6 1.5 .6 0 .6 0 .6 0 .6 0 .6 0 .6 1.5 .5-1.5 .6 0 .6 0 .6 1.5 .6 1.5 .6-1.5 .6 0 .6 0 .6 0 .5 0 .6 0 .6 0 .6 0 .6 0 .6 0 .6 0 .6 0 .6 0 .5 0 .6 0 .6 0 .6 0 .6 0 .6 0 .6-1.5 .6 1.5 .6-1.5 .6 0 .5 1.5 .6 0 .6 0 .6-1.5 .6 0 .6 0 .6 0 .6 0 .6 0 .5 0 .6 0 .6 0 .6-1.5 .6 1.5 .6-1.5 .6 0 .6 0 .6-1.5 .5 0 .6 0 .6 0 .6 0 .6 0 .6 0 .6 0 .6 0 .6 0 .5 0 .6-1.5 .6 0 .6 1.5 .6 0 .6 0 .6 0 .6 0 .6-1.5 .5-1.5 .6 1.5 .6-1.5 .6 0 .6 0 .6-1.5 .6 0 .6 0 .6 0 .6 0 .5-1.5 .6 1.5 .6-1.5 .6 0 .6 0 .6 0 .6-1.5 .6 0 .6 0 .5 1.5 .6-1.5 .6 0 .6 1.5 .6 0 .6-1.5 .6 1.5 .6 1.5 .6-1.5 .5 0 .6 0 .6 1.5 .6 0 .6 0 .6 0 .6 1.5 .6 0 .6-1.5 .5 1.5 .6 0 .6 0 .6 0 .6 0 .6 0 .6 0 .6 0 .6 0 .5 0 .6 0 .6 0 .6 1.5 .6-1.5 .6 1.5 .6-1.5 .6 0 .6 0 .5 0 .6 0 .6 1.5 .6 0 .6 0 .6 0 .6 0 .6-1.5 .6 1.5 .6 0 .5 0 .6-1.5 .6 0 .6 0 .6 0 .6 0 .6 0 .6 0 .6 0 .5-1.5 .6 0 .6 0 .6-1.5 .6 0 .6 0 .6 0 .6 0 .6 0 .5-1.5 .6 1.5 .6 0 .6 0 .6 0 .6-1.5 .6 0 .6 1.5 .6-1.5 .5 1.5 .6 0 .6 0 .6 0 .6 0 .6 0 .6 0 .6 1.5 .6 0 .5 0 .6 0 .6 1.5 .6 0 .6 0 .6 0 .6 0 .6 0 .6 1.5 .6 0 .5 0 .6 0 .6 0 .6 0 .6 1.5 .6 0 .6 0 .6 0 .6 0 .5 0 .6 1.5 .6 0 .6-1.5 .6 1.5 .6 0 .6-1.5 .6 1.5 .6 0 .5 0 .6 0 .6 0 .6-1.5 .6 3 .6-1.5 .6 0 .6 0 .6 0 .5 0 .6-1.5 .6 0 .6 0 .6 1.5 .6 0 .6 0 .6-1.5 .6 1.5 .5-1.5 .6 1.5 .6-1.5 .6 1.5 .6-1.5 .6 3 .6 0 .6 0 .6-1.5 .6 1.5 .5 0 .6 0 .6-1.5 .6 1.5 .6 0 .6 0 .6 0 .6 0 .6 0 .5 0 .6 0 .6 1.5 .6-1.5 .6 0 .6 1.5 .6 0 .6-1.5 .6 1.5 .5-3 .6 3 .6-1.5 .6 0 .6 1.5 .6-3 .6 1.5 .6 0 .6 0 .5 0 .6 0 .6 0 .6 0 .6 0 .6-1.5 .6 0 .6 0 .6 0 .5 1.5 .6-1.5 .6 1.5 .6-1.5 .6 1.5 .6 0 .6 0 .6 0 .6 0 .5 0 .6 0 .6 1.5 .6 0 .6-1.5 .6 0 .6 0 .6 0 .6 0 .6 0 .5 0 .6 0 .6 0 .6 1.5 .6-1.5 .6-1.5 .6 1.5 .6 1.5 .6-1.5 .5-1.5 .6 1.5 .6-1.5 .6 1.5 .6 0 .6 0 .6 0 .6 0 .6-1.5 .5 1.5 .6-1.5 .6 1.5 .6 0 .6 0 .6 0 .6-1.5 .6 1.5 .6-1.5 .5 0 .6 1.5 .6 0 .6-1.5 .6 1.5 .6-1.5 .6 1.5 .6 0 .6 0 .5 0 .6 0 .6 0 .6 1.5 .6-1.5 .6 0 .6 0 .6 1.5 .6-1.5 .6 0 .5 0 .6 0 .6 0 .6 0 .6 0 .6 0 .6 0 .6 0 .6-1.5 .5 1.5 .6-1.5 .6 1.5 .6 0 .6 0 .6-1.5 .6 1.5 .6-1.5 .6 0 .5 0 .6 1.5 .6-1.5 .6 0 .6 0 .6 0 .6-1.5 .6 0 .6 1.5 .5-1.5 .6 1.5 .6-1.5 .6-1.5 .6 1.5 .6 0 .6-1.5 .6 1.5 .6 0 .5-1.5 .6 0 .6 0 .6 0 .6 0 .6-1.5 .6 0 .6 0 .6-1.5 .6 1.5 .5 0 .6-1.5 .6 1.5 .6 0 .6-1.5 .6 0 .6 0 .6-1.5 .6 1.5 .5-1.5 .6-1.5 .6 0 .6 0 .6 1.5 .6-1.5 .6 0 .6-1.5 .6 0 .5 0 .6 0 .6 0 .6 0 .6 1.5 .6-1.5 .6 1.5 .6 0 .6 0 .5 0 .6 0 .6 0 .6 1.5 .6 0 .6 0 .6 1.5 .6 0 .6 0 .5 1.5 .6 0 .6 0 .6 1.5 .6-1.5 .6 0 .6 0 .6 0 .6 1.5 .5-1.5 .6 0 .6 0 .6 1.5 .6 0 .6-1.5 .6 1.5 .6 0 .6 0 .6 0 .5 0 .6 0 .6 1.5 .6-1.5 .6 0 .6 1.5 .6 0 .6 1.5 .6 0 .5 0 .6 0 .6-1.5 .6 1.5 .6 0 .6 0 .6 0 .6-1.5 .6 1.5 .5 0 .6 0 .6 1.5 .6-1.5 .6 1.5 .6 0 .6 0 .6 1.5 .6-1.5 .5 0 .6 0 .6-1.5 .6 3 .6-1.5 .6 0 .6 0 .6 1.5 .6 0 .5-1.5 .6 0 .6 1.5 .6-1.5 .6 0 .6 1.5 .6-1.5 .6 0 .6 0 .6 0 .5 0 .6-1.5 .6 0 .6 0 .6 0 .6 1.5 .6-1.5 .6 0 .6 0 .5 1.5 .6 0 .6-1.5 .6 0 .6 0 .6 1.5 .6 0 .6-1.5 .6 0 .5 1.5 .6 0 .6 0 .6 0 .6 0 .6-1.5 .6 0 .6 1.5 .6-1.5 .5 1.5 .6 0 .6-1.5 .6 0 .6 1.5 .6 0 .6 0 .6-1.5 .6 1.5 .5 0 .6 0 .6 0 .6 0 .6 0 .6 1.5 .6-1.5 .6 0 .6 1.5 .5 0 .6-1.5 .6 0 .6 0 .6 0 .6 0 .6 0 .6 0 .6 0 .6 0 .5 0 .6-1.5 .6 1.5 .6 0 .6 0 .6 0 .6 0 .6 0 .6 0 .5 0 .6 1.5 .6 0 .6 0 .6 0 .6 0 .6 0 .6 0 .6-1.5 .5 1.5 .6 0 .6 0 .6 0 .6 0 .6 0 .6 0 .6 0 .6 1.5 .5 0 .6-1.5 .6 0 .6 0 .6 0 .6 1.5 .6-1.5 .6 0 .6 0 .5 0 .6 0 .6 0 .6 1.5 .6-3 .6 1.5 .6 0 .6 0 .6 0 .6 0 .5 0 .6 0 .6-1.5 .6 1.5 .6-1.5 .6 0 .6 0 .6 1.5 .6-1.5 .5 1.5 .6 0 .6 0 .6-1.5 .6 1.5 .6 0 .6 0 .6 0 .6 0 .5 0 .6 0 .6 0 .6 0 .6 0 .6 0 .6 0 .6 0 .6 0 .5 0 .6-1.5 .6 1.5 .6-1.5 .6 0 .6 0 .6 0 .6 1.5 .6-1.5 .5 0 .6 0 .6 1.5 .6 0 .6-1.5 .6 0 .6 0 .6 0 .6 1.5 .6-1.5 .5 0 .6 0 .6 0 .6 0 .6 0 .6 1.5 .6 0 .6 0 .6-1.5 .5 1.5 .6 0 .6 0 .6 1.5 .6 0 .6 0 .6 0 .6 1.5 .6-1.5 .5 0 .6 0 .6-1.5 .6 0 .6 0 .6 1.5 .6-1.5 .6 1.5 .6-1.5 .5 1.5 .6 0 .6-1.5 .6 0 .6 0 .6-1.5" fill="none" stroke="#DA4A47" stroke-width="21" stroke-linejoin="round" stroke-linecap="round" clip-path="url(#cb)"/>
<text transform="translate(150.5 1584) scale(1 1.03)" class="tl">10</text>
<text transform="translate(454.2 1584) scale(1 1.03)" class="tl">20</text>
<text transform="translate(757.9 1584) scale(1 1.03)" class="tl">30</text>
<text transform="translate(1061.6 1584) scale(1 1.03)" class="tl">40</text>
<text transform="translate(1365.4 1584) scale(1 1.03)" class="tl">50</text>
<text transform="translate(1669.1 1584) scale(1 1.03)" class="tl">60</text>
<text transform="translate(1972.8 1584) scale(1 1.03)" class="tl">70</text>
<text transform="translate(2276.5 1584) scale(1 1.03)" class="tl">80</text>
<text x="1214.3" y="1716.6" class="ax">2-Theta / degree</text>
<text transform="translate(103.1 896.6) rotate(-90)" class="ax">Intensity / a.u.</text>
<text x="164.9" y="130.8" class="pl">(a)</text>
<path d="M1558 130.0H1719.5" stroke="#177FC0" stroke-width="19.5" stroke-linecap="round"/>
<text transform="translate(1737 159.6) scale(1 1.02)" class="lg">TiO2_600-Ar</text>
<path d="M1558 244.6H1719.5" stroke="#00ACC8" stroke-width="19.5" stroke-linecap="round"/>
<text transform="translate(1737 274.2) scale(1 1.02)" class="lg">TiO2_500-Ar</text>
<path d="M1558 359.7H1719.5" stroke="#8762A5" stroke-width="19.5" stroke-linecap="round"/>
<text transform="translate(1737 389.3) scale(1 1.02)" class="lg">TiO2_450-Ar</text>
<path d="M1558 474.3H1719.5" stroke="#DA4A47" stroke-width="19.5" stroke-linecap="round"/>
<text transform="translate(1737 503.9) scale(1 1.02)" class="lg">TiO2_400-Ar</text>
<text transform="translate(607.3 105.7) scale(1 1.015)" class="pk">A</text>
<text transform="translate(691.6 794.8) scale(1 1.015)" class="pk">R</text>
<text transform="translate(997.7 774.0) scale(1 1.015)" class="pk">A</text>
<text transform="translate(1302.5 697.8) scale(1 1.015)" class="pk">A</text>
<text transform="translate(1478.5 797.9) scale(1 1.015)" class="pk">R</text>
<text transform="translate(1521.3 792.8) scale(1 1.015)" class="pk">A</text>
<text transform="translate(1750.0 816.6) scale(1 1.015)" class="pk">A</text>
<text transform="translate(1937.5 864.5) scale(1 1.015)" class="pk">R</text>
<text transform="translate(2001.6 862.6) scale(1 1.015)" class="pk">A</text>
<text transform="translate(2138.2 861.7) scale(1 1.015)" class="pk">A</text>
<text transform="translate(193.5 3390) scale(1 1.03)" class="tl">10</text>
<text transform="translate(488.1 3390) scale(1 1.03)" class="tl">20</text>
<text transform="translate(782.6 3390) scale(1 1.03)" class="tl">30</text>
<text transform="translate(1077.2 3390) scale(1 1.03)" class="tl">40</text>
<text transform="translate(1371.7 3390) scale(1 1.03)" class="tl">50</text>
<text transform="translate(1666.3 3390) scale(1 1.03)" class="tl">60</text>
<text transform="translate(1960.8 3390) scale(1 1.03)" class="tl">70</text>
<text transform="translate(2255.4 3390) scale(1 1.03)" class="tl">80</text>
<text x="1223.4" y="3523.6" class="ax">2-Theta / degree</text>
<text transform="translate(126 2700.8) rotate(-90)" class="ax">Intensity / a.u.</text>
<text x="199" y="1935.5" class="pl">(b)</text>
<path d="M1540.5 1931.0H1702" stroke="#177FC0" stroke-width="19.5" stroke-linecap="round"/>
<text transform="translate(1719.6 1960.6) scale(1 1.02)" class="lg">TiO2_600-H2</text>
<path d="M1540.5 2045.7H1702" stroke="#00ACC8" stroke-width="19.5" stroke-linecap="round"/>
<text transform="translate(1719.6 2075.3) scale(1 1.02)" class="lg">TiO2_500-H2</text>
<path d="M1540.5 2160.9H1702" stroke="#8762A5" stroke-width="19.5" stroke-linecap="round"/>
<text transform="translate(1719.6 2190.5) scale(1 1.02)" class="lg">TiO2_450-H2</text>
<path d="M1540.5 2276.1H1702" stroke="#DA4A47" stroke-width="19.5" stroke-linecap="round"/>
<text transform="translate(1719.6 2305.7) scale(1 1.02)" class="lg">TiO2_400-H2</text>
<text transform="translate(589.4 1900.8) scale(1 1.015)" class="pk">A</text>
<text transform="translate(710.4 2810.2) scale(1 1.015)" class="pk">R</text>
<text transform="translate(941.7 2850.0) scale(1 1.015)" class="pk">R</text>
<text transform="translate(1010.5 2737.3) scale(1 1.015)" class="pk">A</text>
<text transform="translate(1327.3 2641.7) scale(1 1.015)" class="pk">A</text>
<text transform="translate(1488.6 2810.7) scale(1 1.015)" class="pk">R</text>
<text transform="translate(1531.1 2805.5) scale(1 1.015)" class="pk">A</text>
<text transform="translate(1745.8 2837.8) scale(1 1.015)" class="pk">A</text>
<text transform="translate(1919.6 2885.5) scale(1 1.015)" class="pk">R</text>
<text transform="translate(1959.2 2885.5) scale(1 1.015)" class="pk">A</text>
<text transform="translate(2116.3 2883.0) scale(1 1.015)" class="pk">A</text>
</svg>
</body></html>
